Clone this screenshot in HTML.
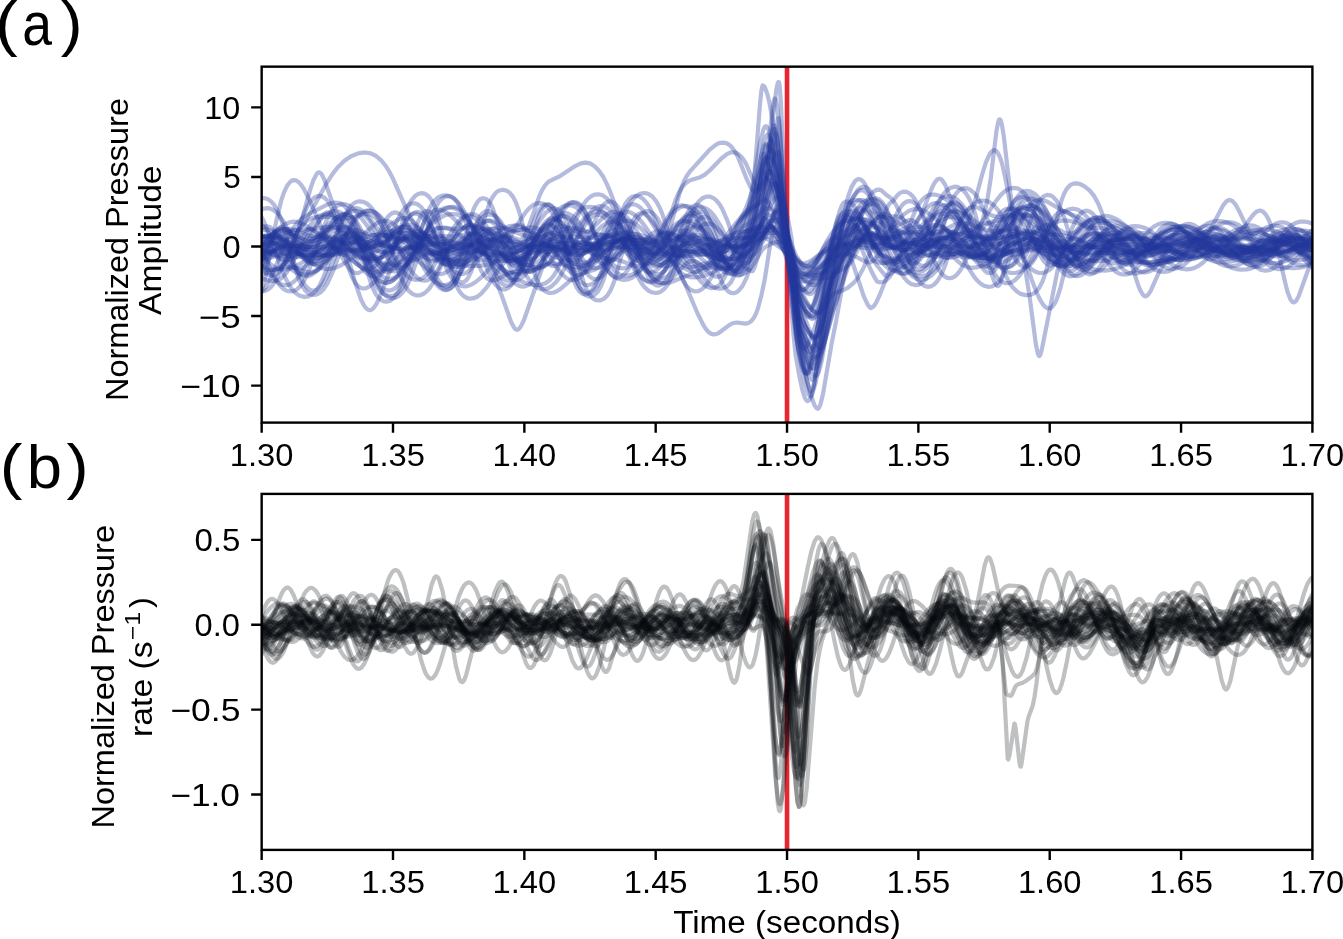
<!DOCTYPE html>
<html><head><meta charset="utf-8"><title>Pressure waveforms</title>
<style>html,body{margin:0;padding:0;background:#fff;width:1343px;height:939px;overflow:hidden}svg{display:block;will-change:transform}</style>
</head><body><svg width="1343" height="939" viewBox="0 0 1343 939">
<defs><clipPath id="ca"><rect x="261.66" y="66.66" width="1050.74" height="355.94"/></clipPath>
<clipPath id="cb"><rect x="261.66" y="493.9" width="1050.74" height="356.00"/></clipPath></defs>
<line x1="787.03" y1="66.66" x2="787.03" y2="422.6" stroke="#e72631" stroke-width="4.6"/>
<line x1="787.03" y1="493.9" x2="787.03" y2="849.9" stroke="#e72631" stroke-width="4.6"/>
<g clip-path="url(#ca)" fill="none" stroke="#22389c" stroke-opacity="0.34" stroke-width="4.2" stroke-linejoin="round" stroke-linecap="round"><path d="M248.5 264.1l4 -2.3 3.9 -3.5 12.5 -14.9 4.6 -4.8 4.6 -3.5 4.6 -1.9 4.6 -0.1 4.6 1.4 5.2 3.2 12.5 10.5 5.9 4 6.6 2.7 6.5 0.7 6.6 -0.9 15.8 -3.7 16.4 -2.3 6.6 -1.6 4.6 -1.7 4.6 -2.3 17.7 -11.2 4.6 -1.8 4.6 -0.6 3.3 0.3 3.2 1.1 3.3 1.8 3.3 2.5 5.9 6.1 13.2 16 6.5 6 3.3 2 2.6 1.1 3.3 0.6 3.3 -0.1 5.3 -1.6 5.9 -3.6 5.2 -4.4 15.8 -14.9 9.2 -6.7 5.2 -2.8 4.6 -1.8 5.3 -1.1 4.6 -0.3 3.9 0.4 4 1.1 3.9 1.7 3.3 2.1 3.9 3.2 4 3.8 14.4 17.2 5.9 5.9 3.3 2.4 3.3 1.6 3.3 0.8 2.6 0 3.3 -0.9 2.6 -1.5 3.3 -2.6 3.3 -3.6 5.2 -7.3 11.8 -19 6.6 -8.2 3.3 -2.9 2.6 -1.6 3.3 -1.2 3.3 -0.4 2.6 0.4 3.3 1.2 3.3 1.9 3.3 2.6 5.9 5.9 17.1 19.4 6.5 6.1 6.6 5 7.2 4.4 7.2 3.1 5.9 1.3 5.3 -0.2 3.3 -0.9 3.3 -1.7 3.3 -2.5 3.2 -3.4 6.6 -9.5 11.8 -22.3 5.3 -8.4 3.9 -4.4 11.2 -8.7 0.6 -1 1.4 -4.2 6.5 -29.4 1.3 -3.8 0.7 -0.3 2 3 1.9 4.2 4 11 18.4 65.2 2.6 12.2 6.6 38.1 2.6 11.1 3.9 10.1 3.3 7 2.6 3.9 1.3 1.1 1.4 0.5 1.3 -0.3 0.6 -0.5 1.3 -2 3.3 -9.1 10.5 -46.1 7.3 -26.1 5.2 -16.6 3.9 -10.2 6.6 -13.6 3.3 -4.9 1.3 -1 1.3 -0.5 2 0.6 3.3 2.7 3.3 3.7 3.2 4.7 5.3 9.9 5.9 14.7 4.6 1.9 4.6 1 5.9 -0.2 5.9 -1.5 5.9 -2.4 17.1 -8.4 5.9 -2.1 5.3 -1.1 5.2 -0.4 5.9 0.5 20.4 4.9 9.2 1 7.9 -0.9 17 -4.8 7.3 -0.8 5.9 0.7 5.9 2.4 5.9 3.8 15.8 12.2 5.2 2.6 5.3 1.2 4.6 -0.3 5.2 -2 5.3 -3.3 10.5 -8.5 4.6 -3.2 5.2 -2.5 5.3 -0.8 3.9 0.4 4.6 1.5 4.6 2.3 11.2 6.9 5.2 2.8 5.9 2.3 6 1.1 4.6 0.1 5.2 -0.6 24.3 -6.6 6.6 -1 6.5 -0.2 6.6 0.6 7.2 1.3 22.4 6.3 8.5 2 7.9 1 7.2 0 6.6 -1.1 6.5 -2 17.8 -8.5 5.9 -2.4 5.2 -1.3 5.3 -0.4 5.9 0.8 5.9 2.1 5.3 2.8 11.8 7.3 5.2 2.7"/><path d="M248.5 280.9l2.7 -2.3 3.2 -3.8 13.2 -17.8 3.9 -4.1 3.3 -2.6 3.3 -1.8 3.9 -1.3 4 -0.6 12.4 -0.9 4.6 -1.1 4 -1.6 3.9 -2.4 4.6 -3.6 14.5 -14.2 4.6 -4 5.2 -3.2 2.6 -0.8 2.7 -0.2 3.2 0.6 3.3 1.8 3.3 3 2.6 3.4 5.3 9.3 12.5 27.4 3.9 6.3 4 4 1.9 1 2.6 0.5 2.7 -0.7 2.6 -1.7 4.6 -5.1 8.5 -13 3.3 -4.1 2 -1.9 2 -1.2 1.9 -0.4 1.3 0.1 3.3 1.9 4 5.2 3.3 6.3 7.8 17.2 4 6.7 2.6 3 2 1.4 2.6 0.8 2 -0.4 2.6 -1.9 2 -2.6 2.6 -5.1 2 -5.3 3.9 -14.1 7.9 -33.8 3.9 -12.8 2 -4.6 2.6 -4.2 2.6 -2.5 2.7 -0.9 2.6 0.5 2.6 2 2.7 3.8 1.9 4 4.6 13.8 7.2 28.8 3.3 11.1 2 5.1 2 3.7 1.9 2.5 1.4 0.8 1.3 0.4 1.9 -0.6 2 -1.9 2 -3.1 1.9 -4.4 3.3 -9.8 8.6 -31.1 2.6 -7.6 2 -4.4 2.6 -4.1 2.6 -2.3 2 -0.5 1.3 0.2 2.6 1.7 2 2.6 2 3.8 3.3 9.1 3.2 12.6 7.3 32 4.6 15.2 2.6 5.7 2.6 3.8 2.6 2.1 2.7 0.8 2.6 -0.5 2.6 -1.6 2.6 -2.9 2 -3 4.6 -9.4 10.5 -26.3 3.3 -5.8 2.6 -3.1 3.3 -1.8 2 -0.1 2 0.5 3.9 2.6 7.9 7.7 3.3 2.5 3.9 1.4 2 -0.1 1.9 -0.8 3.3 -2.6 4 -5.4 3.9 -7.3 7.9 -16.4 4.6 -7.9 3.9 -4.9 2 -1.7 2.6 -1.6 4 -0.8 3.9 0.9 3.9 2.8 3.3 3.8 3.3 5.2 3.3 6.4 11.8 28.2 4.6 9.4 3.3 5.1 2.6 3.1 2.6 2 3.3 1.3 2.7 0 2.6 -0.9 3.3 -2.3 1.9 -2.3 5.3 -9.5 17.1 -36.9 1.9 -3 0.7 -0.4 1.3 0 3.3 2.6 3.9 5.9 16.4 33 3.3 10 7.3 27.7 3.2 9 5.3 7.2 2 1.7 1.9 0.7 2 -0.3 2 -1.6 1.9 -2.9 2 -4.5 3.3 -13.9 7.9 -44.3 6.5 -27.9 2.7 -9.2 1.9 -5.2 2 -3.3 2.6 -1.3 2 0.1 1.3 0.4 2 1.3 2 2 3.2 4.8 9.2 16.3 3.3 4.4 2.6 2.6 4 2.6 5.9 1.9 7.9 -1.1 3.3 0.6 2.6 1.3 2.6 2 3.3 3.4 9.2 12.6 3.9 4.7 4 3.2 3.9 1.4 2 -0.1 2 -0.6 1.9 -1.1 2.7 -2.3 4.5 -5.9 7.9 -12.8 3.3 -4.7 4 -3.7 3.2 -1.2 2 0.2 2 0.9 3.9 3.8 3.3 4.8 8.5 14.6 2.7 3.6 2.6 2.9 2.6 1.7 2 0.6 2.6 -0.3 2 -1 2 -1.9 1.9 -2.6 4.6 -9.3 3.3 -9.1 9.2 -28.5 5.3 -12.3 2.6 -4.2 3.3 -3.8 3.2 -2.1 3.3 -0.7 3.3 0.4 4 2.1 3.2 3 3.3 4.1 3.3 5.2 3.3 6.3 13.8 31.6 6.5 12.9 4 5.8 3.3 3.6 3.3 2.4 3.2 1.3 2 0.2 2.6 -0.4 2.7 -1.1 2.6 -1.8 4.6 -4.5 8.5 -10.8 4 -4.3 3.9 -3.1 3.9 -1.3 4 0.5 4.6 2.8 3.9 3.8 8.6 9.6 5.2 4.3 3.3 1.5 2.6 0.6 2.6 -0.2 2.7 -0.8 3.9 -2.7 4 -4.6 3.9 -6.4 7.9 -14.7 4.6 -6.5 2.6 -2.6 2.6 -1.8 2.7 -1 2.6 -0.4 2.6 0.2 2.6 0.8 4.6 2.8 4.6 4.5 8.6 10.6 3.2 3.5 4 3.1 3.9 1.6 2.7 0.3 3.2 -0.4 13.8 -5 3.3 -0.6 3.3 0.1 3.3 0.7 3.3 1.3 13.8 7.6 3.9 1.2 3.9 0.2 3.3 -0.6 4 -1.5 11.1 -7.1 4 -2.1 3.2 -1 3.3 -0.3 3.3 0.6 4 1.8 12.4 8.9"/><path d="M248.5 273.5l4.6 9.8 2 2.9 2.6 2.7 2.6 1.6 2.7 0.6 2.6 -0.4 2.6 -1.3 2.7 -2.3 1.9 -2.3 4.6 -7.5 4 -8.4 11.8 -28.9 4.6 -8.7 3.9 -5.6 5.3 -4.9 2.6 -1.6 3.3 -1.4 7.2 -1.2 8.5 0.3 6 1.1 5.2 2 4.6 3 3.9 3.9 4 5.3 3.9 6.8 14.5 32.4 5.9 10.5 3.3 4.1 3.9 3.2 3.9 1.4 4 -0.5 3.3 -1.8 2.6 -2.5 3.3 -4.5 2.6 -4.9 5.3 -12.9 10.5 -30.5 3.3 -7.8 2.6 -5.1 3.3 -4.8 3.2 -3.3 3.3 -1.8 4 -0.6 4.6 1.2 5.2 3.3 4.6 4.1 13.8 13.9 15.1 11.8 4.6 4.1 6.6 7.3 13.8 19.5 6.5 7.5 3.3 2.4 2.6 1.3 2.7 0.6 2.6 -0.2 3.3 -1.3 3.3 -2.7 3.3 -4.3 3.2 -6.1 5.3 -13.3 10.5 -32.1 3.3 -8.3 2.6 -5.3 2.6 -4.1 3.3 -3.7 3.3 -2.1 3.3 -0.7 3.3 0.6 3.3 1.8 3.2 3.2 2.7 3.5 5.9 11 11.1 27 5.3 11 3.3 5.4 3.3 4.1 3.2 2.9 3.3 1.9 4.6 1.1 4.6 -0.5 5.3 -1.9 5.9 -3.8 5.9 -5.1 5.9 -6.2 18.4 -23.3 6.6 -7.3 3.2 -2.9 3.3 -2.1 3.3 -1.4 3.3 -0.5 3.3 0.4 3.3 1.4 3.2 2.5 3.3 3.4 5.9 8.4 12.5 21.4 3.3 4.7 3.3 3.8 3.3 2.6 2.6 1.3 3.3 0.6 3.3 -0.5 2.6 -1.2 2.6 -1.7 0.7 -0.8 1.3 -3.2 3.9 -13.7 5.3 -24.4 3.3 -19.6 5.9 -42.7 5.9 -56.1 1.3 -7 0.7 -1.7 0.6 -0.2 0.7 1.3 1.3 6.5 1.9 17.9 7.9 101.3 1.3 11.1 3.3 18.2 5.3 23.2 4.6 14 4.6 8.7 4.6 7.1 3.3 3.6 3.2 1.9 2 -0.1 2.6 -2.1 9.2 -14.1 3.3 -3.7 2 -1.2 6.6 -1.8 4.5 -2.4 6 -4.9 4.6 -5.2 5.9 -10.7 8.5 -19.7 10.5 -30.1 4 -9.5 2.6 -4.2 1.3 -1.3 2.6 -1.4 2 -3.3 2.6 -3.1 2.6 -2 2.7 -1 3.3 0.2 3.2 1.7 3.3 3.3 2.6 3.8 5.3 10.8 9.2 24.3 3.9 9.2 4 6.8 3.9 4.2 2 1.1 2.6 0.6 2 -0.3 2.6 -1.1 4.6 -3.7 8.5 -9.3 3.3 -3.1 4 -2.3 1.9 -0.4 2 0 3.9 1.7 4 3.5 11.8 16.4 3.9 4.5 3.3 2.6 3.3 1.1 2.6 -0.2 2.7 -1.3 2.6 -2.5 2.6 -3.8 2.6 -5.1 2.7 -6.3 9.8 -29.3 4.6 -11.5 2.7 -4.9 2.6 -3.7 2.6 -2.4 3.3 -1.3 3.3 0.4 2.6 1.5 3.3 3.6 2.6 4.4 2.6 5.7 2.7 7.1 9.8 32.2 4.6 12.4 2.6 5.2 2.7 3.7 2.6 2.2 2.6 1 2 -0.1 2 -0.7 1.9 -1.3 2.7 -2.6 4.6 -6.6 9.1 -17 4 -6.4 4.6 -5.1 2.6 -1.7 2.6 -0.9 2 -0.2 2.6 0.4 4.6 2.4 5.3 4.6 11.1 13.4 4.6 4.6 3.3 2.4 2.7 1.4 2.6 0.8 3.3 0.4 5.2 -1 5.3 -3 5.2 -4.7 11.2 -12.9 5.2 -5.1 6 -4 5.9 -2.1 3.9 -0.3 3.9 0.4 4 1.1 3.9 1.8 7.9 5.4 15.1 13.9 7.2 5.7 4 2.3 3.9 1.7 4 1.2 4.6 0.6 4.6 -0.2 3.9 -0.7 3.9 -1.4 4 -1.8 7.2 -4.8 17.1 -13.6 5.9 -3.5 5.2 -2.2"/><path d="M248.5 240.9l12.5 2.5 3.9 1.6 3.3 1.9 6.6 5.5 13.8 14.5 3.9 3.3 3.3 2.1 3.3 1.4 3.3 0.8 3.3 0.1 3.2 -0.5 4 -1.4 4.6 -2.5 3.9 -2.9 4.6 -4.3 4.6 -5.2 5.3 -7 15.1 -24.2 5.9 -8.1 3.3 -3.4 3.3 -2.5 3.2 -1.4 3.3 -0.3 2.6 0.6 2.7 1.4 2.6 2.1 2.6 3 5.3 8 9.2 17.7 4.6 7.8 4.6 5.5 1.9 1.5 2.7 1.3 3.2 0.6 3.3 -0.6 3.3 -1.3 9.9 -5.3 3.2 -1 3.3 -0.2 3.3 0.7 3.3 1.5 9.8 6.9 4 2.3 3.9 1.1 4 -0.4 3.9 -2.1 4 -3.9 11.8 -17 3.9 -4.7 4 -2.9 3.2 -0.7 2 0.3 2 0.9 1.9 1.5 2.7 2.8 3.3 4.6 8.5 13.7 3.9 5.1 4 3 3.3 0.6 2.6 -0.8 2 -1.4 1.9 -2.1 2.7 -3.7 3.9 -7.4 9.2 -20 4.6 -7.8 2.6 -3.2 2 -1.6 2.6 -1.4 2.6 -0.3 2 0.5 2 0.9 4.6 4.1 4.6 6.4 11.8 19.2 4.6 5.5 3.9 3.2 2.7 1.4 3.2 1.1 15.1 1.9 5.3 1.5 11.2 4.3 3.2 0.7 2.7 0 3.3 -0.6 3.2 -1.6 2.7 -2 3.2 -3.5 5.3 -7.4 11.2 -18.3 5.9 -7.3 2.6 -2.2 2.6 -1.5 2.7 -0.9 2.6 -0.2 3.3 0.7 3.2 1.7 3.3 2.6 4 4 6.5 8.7 15.1 22.8 7.3 8.6 3.3 2.8 3.2 1.9 3.3 1 2.6 -0.1 2.7 -1.7 2.6 -3.8 2.6 -5.8 2.7 -7.5 1.3 -6.3 1.9 -13.7 8.6 -69.8 0.6 -3.2 1.3 -3.1 2.7 -2.9 1.9 -0.5 2 1 2.6 3.7 2 4.3 2.6 7.8 5.3 20.8 6.6 33.1 1.9 11.4 1.3 11.9 5.3 70.5 2.6 26.4 5.9 32.1 2.7 8.6 1.3 2 0.6 0.2 1.3 -2 2 -8 7.2 -51.5 7.9 -47.6 2.6 -14 2.7 -8.6 1.3 -1.4 4.6 -2.5 3.3 -1.1 2.6 -0.3 3.3 0.5 3.3 1 10.5 5.4 4.6 1.6 1.9 0 3.3 -2 4 -4.5 3.9 -6.7 3.9 -8.7 8.6 -21.3 3.9 -8.2 4.6 -6.5 2 -1.8 2.6 -1.4 2.6 -0.3 2.7 0.7 2.6 1.7 3.3 3.7 5.2 8.7 9.2 19.7 4.6 8.5 4.6 6 2.6 2.2 2.7 1.3 3.9 0.7 3.9 -0.7 15.8 -6.9 13.8 -3.7 5.3 -2.1 3.9 -2.4 3.9 -3.4 12.5 -13.8 4.6 -4.3 4.6 -2.7 2.6 -0.6 2 0 2.6 0.7 2.7 1.5 2.6 2.3 3.3 3.9 4.6 7.1 11.8 21 3.3 4.9 3.3 4 3.2 3 3.3 2.2 3.3 1.4 3.9 0.6 4 -0.2 3.9 -0.9 4.6 -2 4.6 -2.7 8.6 -7.1 13.1 -13.9 4.6 -4.3 5.9 -4 5.3 -1.7 2.6 -0.2 3.3 0.4 5.9 2.4 5.9 4.1 13.1 11.3 4.6 2.7 4 1.1 3.2 0.1 4 -0.8 3.9 -1.6 12.5 -6.6 3.9 -1.2 3.3 -0.3 4 0.6 3.9 1.5 15.1 9.7 3.9 1.8 3.3 0.8 4 0.2 3.9 -0.7 3.9 -1.3 11.2 -5 4 -1.1 3.2 -0.3 3.3 0.3 3.3 0.8 13.8 6.4 3.9 1.2 3.3 0.3 5.3 -0.9 5.2 -2.9 4.6 -4 10.5 -10.7 5.3 -4 4.6 -2.2 5.2 -1.1"/><path d="M248.5 264.9l4.6 -5.8 14.5 -20.6 4.6 -4.9 4.6 -3.2 4.6 -1.4 2.6 -0.1 2.6 0.5 5.3 2.4 9.2 6 3.9 2.2 3.9 1.2 4 -0.1 3.9 -1.7 4 -3.1 3.9 -4.3 8.5 -10.6 4.6 -4.6 4.6 -2.6 2 -0.4 2 0.1 3.3 1.4 2.6 2.3 3.3 4.7 2.6 5.2 4.6 12.2 10.5 33.8 3.3 8.5 3.3 6.6 3.3 4.6 3.9 3.4 3.9 1.5 4 -0.2 3.3 -1.5 3.2 -2.7 3.3 -4.3 3.3 -5.8 5.3 -12.9 12.4 -37.3 3.3 -7.8 3.3 -6.3 3.3 -4.7 3.9 -3.9 4 -2.4 4.6 -1 3.9 0.4 3.9 1.3 4 2.3 3.9 3.3 4 4.2 3.9 5 14.5 21.6 5.9 7.6 3.9 3.8 3.3 2.3 3.3 1.4 3.3 0.6 3.2 -0.2 3.3 -0.9 4 -1.6 12.4 -6.5 4 -1.3 3.9 -0.4 4 0.4 3.9 1.2 12.5 6.1 5.2 2 4.6 0.8 4.6 -0.5 4 -1.4 4.6 -2.6 13.8 -10.6 5.2 -3.5 5.3 -2.3 5.9 -1.4 5.9 -0.1 15.7 1.4 16.5 0.2 7.2 0.7 9.2 2.5 19 7.8 5.3 1.2 4.6 0.2 5.9 -0.8 6.6 -2.3 6.5 -3.5 15.8 -9.6 4.6 -2.2 3.9 -1.3 7.2 -1.4 4 -0.4 10.5 0.7 7.2 1.4 9.9 -0.2 1.9 0.7 0.7 0.7 2 4 6.5 22.8 3.3 16.5 6.6 40 3.3 15.2 3.9 10.7 3.9 9 3.3 5 1.3 1.1 1.4 0.5 1.9 -0.7 1.3 -1.7 1.4 -3.2 1.9 -7.3 3.3 -17.3 8.5 -52.9 7.9 -39.2 4.6 -19.3 3.3 -10.4 3.9 -7.9 4.6 -6.3 2 -1.6 2 -0.9 2.6 0.1 3.3 2.3 3.3 3.8 3.3 5.1 5.9 12.7 6.5 19.6 8.6 16.3 5.2 8.8 4.6 6.2 4 3.9 3.9 2.5 3.9 1.2 3.3 -0.1 3.3 -1.2 3.3 -2.1 3.3 -3.2 5.9 -8 13.1 -21.3 4.6 -5.4 4 -3 3.9 -1.3 4.6 0.5 4.6 2 9.2 6 3.9 2.1 4.6 1.3 4 -0.1 3.9 -1.5 3.9 -2.7 13.2 -12.9 3.9 -3.3 4.6 -2.6 4 -1 3.2 0.2 2.7 0.9 2.6 1.5 3.3 2.7 5.9 6.9 12.5 18.7 5.9 7.6 3.3 3.2 2.6 1.9 3.3 1.7 2.6 0.5 4.6 -0.4 2.6 -1.2 2.7 -1.8 5.9 -5.9 11.1 -15 5.3 -5.9 3.3 -2.6 2.6 -1.3 2.6 -0.7 2.6 -0.1 2.7 0.6 3.3 1.5 3.2 2.4 3.3 3.4 5.3 7.1 11.1 18.3 3.3 4.4 3.3 3.4 3.9 2.8 4 1.6 4.6 0.6 4.6 -0.7 3.3 -1.3 2.6 -1.6 3.3 -3 2.6 -3.1 4.6 -7.2 10.5 -19.2 3.3 -4.8 2.6 -3 3.3 -2.8 3.9 -2.3 4 -1.3 4.6 -0.6 4.6 0.3 4.6 1.1 4.6 1.8 4.6 2.8 7.8 6.9 15.1 17.3 6.6 6.4 4 3.1 3.9 2.5 7.9 3.2 5.9 1.3 6.6 0.4 6.5 -0.5 6.6 -1.4 5.2 -2.1 4.6 -2.7 4.6 -3.7 4.6 -4.9"/><path d="M248.5 223.3l3.3 -4.8 3.3 -4 3.3 -3 2.6 -1.7 3.3 -1.3 3.3 -0.4 3.3 0.7 2.6 1.3 4.6 3.9 5.2 7.2 4.6 8.3 9.2 18.5 5.3 8.7 2.6 3.2 2.6 2.3 2 1.1 2.6 0.8 2 0 2.6 -0.8 4.6 -3.2 4.6 -5 9.9 -12.7 5.2 -5.1 2.6 -1.5 2 -0.6 2.6 -0.1 2 0.5 4 2.4 4.6 5.1 3.9 5.9 9.8 16.5 5.3 7.1 3.3 3.2 2.6 1.7 2.6 1.1 3.3 0.4 3.3 -0.6 3.3 -1.8 3.3 -2.7 3.3 -3.8 5.9 -8.8 15.1 -26.3 5.2 -7.4 4.6 -5 5.3 -4.3 5.9 -3 5.9 -1.3 5.2 0.3 4 1.3 3.3 1.9 3.9 3.3 3.3 3.7 3.3 4.7 3.9 6.7 12.5 25.6 5.9 10.2 3.3 4.2 3.3 3 3.3 1.6 2.6 0.4 3.3 -0.6 2.6 -1.5 2.6 -2.4 2.6 -3.4 6 -10.7 10.5 -24.6 4.6 -9.1 2.6 -4.1 2.6 -3.1 2.6 -2 2.7 -1.1 1.9 -0.2 2.7 0.6 2.6 1.5 2.6 2.4 2.6 3.2 3.3 5.1 11.2 21 5.2 8.3 3.3 3.8 2.7 2.1 3.2 1.6 3.3 0.5 4 -0.9 4.6 -2.6 15.7 -14.3 4 -2.8 3.2 -1.8 3.3 -1.2 4 -0.8 13.8 -0.5 6.5 -1.2 6.6 -2.6 13.1 -7 4 -1.4 3.3 -0.6 3.2 0.2 2.7 0.6 2.6 1.2 3.3 2.2 5.2 4.8 12.5 14.1 5.3 4.3 2.6 1.4 2.6 0.8 2.6 0.1 2.7 -0.6 3.3 -1.6 3.9 -3 11.2 -11.7 4.6 -4.1 3.2 -2 11.2 -4.7 1.3 -0.9 5.9 -9.7 4 -8.6 1.3 -1.2 1.3 0.9 1.3 2.1 2.6 7.3 3.3 13.5 3.3 16.6 2 18.8 5.2 65.8 2.7 15.5 2.6 12.4 1.9 6.2 1.4 2 0.6 0.1 1.3 -0.9 1.3 -2.5 2.7 -8.8 9.2 -46.8 12.4 -55.6 4.6 -17.2 7.3 -20.6 5.2 -11.8 2 -3 2.6 -2.8 3.3 -2.4 2.6 -0.9 3.3 0.2 2.6 1.2 4 4 3.9 6.5 5.3 2 5.9 4.2 6.5 6.9 13.2 17.1 5.9 6.7 3.3 2.9 3.3 2.2 2.6 1.2 3.3 0.8 5.2 -0.2 5.3 -1.9 5.2 -3.2 13.8 -9.9 4.6 -2.4 4 -1.3 3.9 -0.6 3.9 0.1 15.8 2.8 7.2 0.3 6.6 -1.1 13.8 -4.3 5.9 -1 5.9 0.4 5.3 1.9 5.2 3 10.5 7.3 5.3 2.8 4.6 1.1 3.9 -0.3 4.6 -2 4.6 -3.8 4.6 -5.1 9.2 -11.7 5.2 -5.3 2.7 -1.9 2.6 -1.4 4.6 -0.8 2.6 0.4 3.3 1.2 5.9 4.1 6.6 7.1 13.1 17.6 5.9 6.8 3.3 2.9 4 2.8 3.2 1.7 4 1.3 4.6 0.7 4.6 0 4.6 -0.5 5.2 -1.2 11.2 -4.1 30.9 -14 17.7 -6.7 12.5 -3.8 11.1 -2.8 8.6 -1.3 7.2 -0.2 4.6 0.6 3.9 1 4 1.8 3.9 2.5 3.3 2.7 3.9 4.1 13.2 17.1 5.9 6.3 3.3 2.6 3.9 2.2 3.9 1.4 4.6 0.7"/><path d="M248.5 257.7l4.6 -2.2 5.3 -4.2 4.6 -4.9 11.1 -13.1 5.3 -5.3 5.9 -4.1 5.3 -1.9 3.2 -0.3 3.3 0.2 6.6 2.3 7.2 4.4 15.1 12.1 6.6 4.5 7.2 3.5 7.2 1.6 5.9 -0.3 6.6 -1.9 6.6 -3.5 12.5 -8.6 4.6 -2.7 5.2 -2 5.3 -0.4 3.2 0.8 3.3 1.7 3.3 2.7 3.3 3.7 5.9 8.6 12.5 21.7 3.3 4.8 3.2 3.9 3.3 3.1 3.3 2 3.3 1.1 3.3 0.2 3.3 -0.9 2.6 -1.3 2.6 -2 3.3 -3.3 6.6 -9.4 11.1 -20 5.3 -8.3 5.9 -6.9 3.3 -2.5 3.3 -1.7 3.2 -1 4 -0.2 3.9 0.5 4.6 1.2 30.9 11.3 22.3 10.8 4.6 1.3 4 0.3 5.2 -1.1 5.3 -3 5.2 -4.7 11.8 -13.5 4.6 -4.5 5.3 -3.4 2.6 -0.8 2.6 -0.2 2.7 0.4 2.6 1.2 2.6 1.8 3.3 3.3 5.3 7.1 9.8 16.1 4 5.8 4.6 5.2 4.5 3 2.7 0.7 2.6 0 2.6 -0.6 2.7 -1.3 5.2 -4.3 9.9 -10.4 3.9 -3.5 4.6 -2.7 3.9 -0.7 2 0.2 2.6 0.9 4.6 3.1 4 3.9 9.2 10.3 4.6 4.1 4.6 2.4 3.9 0.4 2.6 -0.7 2 -1 4.6 -4 4.6 -6.1 6.6 -10.4 8.5 -20.3 11.2 -24.6 5.2 -15 1.3 -2.3 1.3 -0.8 1.4 1.1 1.9 3.4 3.3 9.3 3.9 15.8 4.6 22.2 3.3 17.4 1.3 10.2 6 63.2 1.9 16.3 3.3 16 3.3 13.1 2.6 6.8 2 2 1.3 -0.7 2 -3.9 3.3 -13.1 19 -110.6 3.3 -17.4 2.6 -11.6 2 -6.9 2.6 -7.3 5.3 -11.8 4.6 -6.8 2.6 -2.2 2 -0.8 2.6 0.1 3.3 2.1 2.6 3.2 3.3 5.7 2.6 5.9 3.3 8.9 7.2 24.4 6.6 13.9 5.2 9.5 4.6 6.5 4.6 4.7 4.6 3 4.6 1.5 4.6 0 4.6 -1.5 4.6 -3.1 3.9 -4 4 -5.2 4.6 -7.6 15.1 -30.7 7.2 -12.1 4 -4.8 3.9 -3.6 3.9 -2.2 4.6 -0.9 4 0.5 3.9 1.9 4 3.2 3.2 3.7 3.3 4.8 4 7 13.1 27.8 5.9 10.7 3.9 5.5 3.3 3.4 3.3 2.3 4 1.5 3.2 0.2 3.3 -0.8 3.3 -1.7 3.3 -2.7 3.3 -3.6 3.9 -5.4 13.1 -22 6 -8.3 3.2 -3.4 4 -2.9 3.9 -1.7 4 -0.6 5.2 0.6 5.9 2 34.8 15.6 5.3 3.2 5.2 3.9 15.1 13.9 5.3 4.3 6.6 3.7 5.9 1.8 4.6 0.4 3.9 -0.4 4.6 -1.5 3.9 -2.1 4 -3 3.9 -4 13.2 -16.7 5.9 -6.1 3.3 -2.5 3.9 -2.2 3.9 -1.3 4.6 -0.7 5.3 0.2 5.9 1.2 6.6 2.1 9.8 3.8 10.5 4.5 7.9 3.9 6.6 3.9 12.4 8.3 6 3.3 6.5 2.3 5.9 0.4"/><path d="M248.5 208.8l3.3 -4.3 3.3 -3.1 3.3 -2.1 3.3 -1.1 3.2 0 3.3 1.1 3.3 2.5 2.6 3.1 4 7 3.9 10.1 3.3 10.8 8.5 31.6 5.3 15.3 2.6 5.5 3.3 4.9 3.3 3.1 3.9 1.7 4 -0.2 3.9 -2 3.9 -4 3.3 -5 5.9 -12.9 13.2 -36.3 3.9 -8.6 3.3 -5.6 3.3 -4.2 3.9 -3.4 3.3 -1.6 3.9 -0.7 4 0.5 3.9 1.8 4 3.1 3.9 4.3 3.9 5.5 4 6.8 13.1 27.2 5.9 10.4 4 5.2 3.3 3.1 3.2 1.9 3.3 0.6 3.3 -0.6 2.6 -1.5 3.3 -3 2.6 -3.4 6 -10.8 10.5 -25 4.6 -9.6 5.2 -7.8 2.6 -2.6 3.3 -1.9 3.3 -0.6 3.3 0.6 3.3 1.9 3.9 3.8 5.9 8.3 14.5 25.1 3.9 5.5 4 4.4 3.9 3.2 3.9 2.2 4.6 1.4 4.6 0.4 5.3 -0.6 5.9 -1.7 5.9 -2.9 5.3 -3.7 5.2 -4.8 5.3 -6 17 -24.5 7.3 -8.7 4.6 -3.8 3.9 -2 3.9 -0.8 4 0.4 3.9 1.9 3.3 2.7 3.9 4.7 3.3 5.2 5.9 12.3 13.2 32.2 3.3 6.6 3.2 5.5 3.3 4.3 4 3.5 3.2 1.7 4 0.7 2.6 -0.3 2 -0.8 3.9 -2.9 4 -5.1 3.2 -6.2 2.7 -6.5 3.3 -9.7 11.1 -38.5 3.3 -9 3.3 -7 3.3 -5 3.9 -3.7 4 -1.7 3.9 0.1 3.3 1.4 2.6 2 3.3 4 2.6 4.3 5.3 11.9 7.8 23.2 3.3 8.5 4 7.6 1.9 2.5 1.4 0.7 1.9 -0.2 2.7 -2.2 6.5 -10.2 2.6 -5.5 6.6 -16.4 3.3 -6 1.3 -1.4 2 -0.7 2 0.7 1.9 2 2.6 4.4 2.7 5.9 7.9 22.9 2.6 12.6 5.9 34.3 3.3 14.3 3.9 8.9 3.3 5.9 2.6 3.2 2.7 1.3 1.9 -0.5 2 -2.1 2 -3.8 1.9 -5.1 4 -13.4 8.5 -33.1 4 -11.9 3.9 -8.6 3.3 -6.1 3.3 -4.7 3.2 -3.5 2.7 -1.8 3.3 -1.1 7.8 0 11.9 -2.6 4.6 0 5.9 1.5 5.2 2.7 4.6 3.8 4.6 5.2 9.2 -5.8 7.9 -5.8 21.7 -19 4.6 -2.8 3.9 -1.2 3.3 -0.1 3.3 0.9 2.6 1.6 3.3 2.8 5.9 7.8 10.5 18 4.6 6.8 2.6 2.9 2.6 2.2 2.7 1.3 1.9 0.4 2.7 -0.4 1.9 -0.9 2.7 -2 2.6 -3.1 5.2 -8.6 10.5 -22.2 4.6 -8.1 2.7 -3.5 2.6 -2.5 2.6 -1.6 2.7 -0.5 2.6 0.3 3.3 1.8 2.6 2.5 3.3 4.4 4.6 8.1 11.8 24.6 5.9 9.4 2.6 3 2.7 2.2 2.6 1.5 3.3 1 2.6 0 3.3 -0.6 5.9 -3 5.2 -3.9 15.8 -13.4 10.5 -7.1 9.2 -4.1 4.6 -1.2 3.9 -0.6 4 0 3.9 0.5 7.2 2.5 6.6 4 16.4 12.4 5.9 2.8 5.3 1.2 4.6 0 5.2 -1.1 16.5 -6.9 7.2 -2.1 7.9 -0.4 15.7 1.8 7.3 -0.1 7.8 -1.6 15.8 -5.4 7.2 -1.1 4.6 0.2 4.6 0.9 5.3 1.9 15.7 6.8 5.3 1.3 5.2 0.4"/><path d="M248.5 244.3l4 3.5 3.9 4.7 13.1 20.2 6 7.4 3.2 2.7 3.3 1.8 3.3 0.6 3.3 -0.4 2.6 -1.2 2.6 -1.8 2.7 -2.5 3.2 -4 5.3 -8.3 14.5 -25.6 5.2 -7.6 5.9 -7.1 7.2 -6.9 7.3 -5.4 3.2 -1.7 3.3 -1.2 2.7 -0.5 2.6 0.1 3.3 0.9 3.3 1.9 3.2 3.2 2.7 3.4 5.2 9.3 9.2 20.4 3.9 7.8 4.6 6.6 4 3 2 0.6 2.6 -0.2 2 -0.8 2.6 -2.1 4.6 -5.6 9.8 -16.1 4 -5.4 2.6 -2.7 2.6 -1.8 2 -0.7 2.6 -0.2 3.3 0.8 3.3 2 12.5 11.8 3.2 2.5 3.3 1.7 2.7 0.8 3.2 0.4 13.2 -1.2 3.3 0.6 2.6 1 2.6 1.6 3.3 2.7 9.2 9.6 3.9 3.5 4 2.2 3.9 0.4 2.6 -0.8 2 -1.3 3.9 -4.2 4.6 -7.5 7.9 -15.9 4 -7 3.9 -4.8 2 -1.4 1.9 -0.7 2 0 2 0.8 2 1.4 2.6 3 3.3 5 8.5 15.6 4.6 6.1 2 1.5 1.9 0.7 2 -0.1 2 -1 3.3 -3.6 3.9 -7.7 10.5 -29.6 4.6 -10.6 2.6 -4.3 2.7 -2.9 2.6 -1.8 2.6 -0.6 2.6 0.6 2.7 1.7 2.6 2.9 2.6 4.3 4.6 10.7 9.2 27.8 4 10.2 2.6 5.2 2 3 1.9 2.3 2.7 1.9 1.9 0.7 2 0 3.9 -1.3 4.6 -3.5 9.2 -9.3 4.6 -3.9 5.3 -2.8 5.2 -1 7.2 0.6 17.1 4.2 8.6 3 15.7 7.7 4.6 1 4 -0.4 2.6 -1.1 2.6 -1.7 3.3 -3.1 2 -2.6 4.6 -9.7 4.6 -13.4 2.6 -19.8 4.6 -49.6 6.6 -62.7 1.9 -14.7 1.3 -5.5 0.7 -1.1 0.6 0.6 0.7 4.6 1.3 19.5 4.6 108.7 2 26.6 3.9 23.8 2 8.9 2.6 9.5 2.7 7 4.5 9.5 3.3 4.8 2.7 1.9 1.9 -0.3 1.3 -1.1 1.4 -1.9 1.9 -4.4 4 -12.5 7.8 -30.2 5.3 -16.3 3.3 -8.8 3.3 -7.3 2.6 -4.4 2.6 -2.7 2 -0.8 2.6 0.6 2 1.3 2.6 3.1 4 7 9.1 20.8 4 7.5 5.9 8.6 8.5 10.3 0.7 0.4 4.6 -2.8 11.8 -8.8 13.1 -7.8 6 -5.3 3.2 -4.3 4 -6.5 11.1 -23.4 4 -7.1 4.6 -5.7 2.6 -1.8 2 -0.6 2.6 0.3 2.6 1.5 2.7 2.8 1.9 3.1 2.7 5.3 2.6 6.6 8.5 25.6 4 10 2.6 5.1 2 2.7 1.9 2 2.7 1.2 2.6 -0.3 2.6 -1.7 2.6 -3.3 2.7 -4.7 4.6 -11.5 9.2 -27.5 5.2 -11.7 2.6 -4 2.7 -2.7 2.6 -1.7 3.3 -0.7 2.6 0.4 3.3 1.6 2.6 2 3.3 3.5 6.6 9.3 18.3 30.6 9.2 13.8 4 5 3.9 3.9 4 2.7 3.2 1.1 2.7 0.2 2.6 -0.6 2.6 -1.2 3.3 -2.5 5.3 -6.1 9.8 -14.8 4.6 -6 2.6 -2.5 2.7 -1.8 1.9 -0.9 2.7 -0.5 3.9 0.6 3.9 2.1 4.6 3.8 8.6 9 3.9 3.7 4.6 2.9 4 1.2 2.6 0.1 2.6 -0.4 5.3 -2.2 4.6 -3.3 10.5 -9 5.9 -3.8 5.2 -1.9 5.9 -0.5 19.7 2 17.1 -1 6.6 0.1 22.3 3.3 17.1 0.1 5.2 0.6 5.3 1.6 4.6 2.4 13.8 10.8 5.2 3.4"/><path d="M248.5 253.8l4 2.5 3.2 1.6 3.3 0.9 3.3 0.4 5.9 -0.7 12.5 -3.8 5.9 -1.1 5.9 -0.1 12.5 1.2 5.9 -0.4 4.6 -1.5 4.6 -2.7 4.6 -3.6 9.2 -8.2 4.6 -3.4 3.9 -2 4 -0.8 3.9 0.3 4 1.4 3.9 2.3 8.5 6 4 2.1 3.9 1.2 3.3 -0.1 3.3 -1.1 3.9 -2.5 10.5 -10.1 4 -3.2 3.9 -1.9 3.3 -0.2 2.6 1 2.6 2 2.7 3.2 2.6 4.3 4.6 10.1 9.8 25.4 5.3 10 2.6 3.5 2.7 2.2 2.6 1.3 2.6 0.1 3.3 -1.4 2.6 -2.5 2.6 -3.7 2.7 -5.2 4.6 -12.4 9.8 -32.4 4.6 -11.4 2.6 -4.4 2.7 -3 2.6 -1.6 2.6 -0.4 2 0.5 2 1.2 3.9 4.1 3.9 6.3 8.6 16.9 3.3 5.7 3.9 4.8 2 1.4 1.9 0.7 2 0 2 -0.8 3.9 -3.3 3.3 -4.3 8.5 -13.1 4.6 -5.2 2.7 -1.6 1.9 -0.5 2.7 0.5 1.9 1.3 3.3 3.9 4 7.7 3.2 8.6 8.6 25.6 4.6 10.9 2.6 4.5 3.3 3.8 2.6 1.7 3.3 0.6 3.3 -1.2 2.6 -2.2 3.3 -4.7 2.6 -5.4 4.6 -13.3 10.5 -37.8 2.7 -7.5 2.6 -6 2.6 -4.5 3.3 -3.8 3.3 -1.9 3.3 -0.4 1.9 0.5 2.7 1.2 2.6 2 2.6 2.7 4.6 6.1 10.5 16.3 5.3 7.1 5.2 5.8 14.5 14 17.7 21.9 3.3 3 3.3 2.2 3.3 1.1 3.2 -0.1 3.3 -1.5 2.6 -2.3 2.7 -3.4 2.6 -4.8 5.3 -13.7 9.1 -31.5 4 -11.1 2.6 -5.4 3.3 -4.6 3.9 -3.7 5.3 -2.6 1.3 -2 2 -5.3 5.2 -18.8 6.6 -19.3 2 -4.4 1.3 -1.4 0.6 -0.1 1.3 1.3 0.7 2.2 2 13.5 6.5 73.7 8.6 79.5 3.9 29.9 4 19.2 5.9 23.4 3.9 10.6 2 2.8 1.3 0.6 1.3 -1.4 1.3 -3.2 2.6 -10.8 8.6 -50.3 4.6 -23 7.9 -44.1 3.9 -17.5 11.8 -38.9 4.6 -12.9 3.3 -7.1 2.6 -4.4 2.7 -3.1 3.2 -2.2 2.7 -0.3 2.6 0.9 4.6 4.3 3.9 2.6 2.7 2.8 3.2 4.7 3.3 6.1 11.2 24.8 4.6 8.6 3.3 4.6 2.6 2.7 3.3 2.2 3.3 1 5.2 -0.2 11.2 -3.5 5.2 -0.7 5.9 1 10.6 4.3 3.9 1.1 3.9 0.2 4 -1.2 4.6 -3.6 4.6 -6.1 3.9 -6.9 8.5 -17 4.6 -7.5 4.6 -5 2.7 -1.4 1.9 -0.3 2.7 0.4 1.9 1.2 2 1.7 2.6 3.4 5.3 10 9.2 22.8 3.9 8.3 2.6 4.3 2 2.4 2.6 2.1 2 0.7 2.6 -0.2 2 -1 2 -1.7 2.6 -3.5 4.6 -9 8.5 -21.5 4 -8.5 2.6 -4.2 2 -2.3 2.6 -2 2.6 -0.8 2 0.1 2.6 1.2 2 1.5 2.6 2.9 5.3 8.6 10.5 22.5 4.6 8.2 2.6 3.4 2.6 2.6 2.7 1.7 3.3 1.2 4.5 0 4.6 -1.3 15.1 -8 6.6 -2.6 5.9 -1.2 12.5 -1.1 6.6 -1.8 3.3 -1.6 3.9 -2.5 11.8 -10 4.6 -3.3 5.3 -2.6 5.2 -1 3.3 0.2 2.6 0.7 3.3 1.6 2.6 1.9 5.3 5.1 9.8 12.6 4 4.4 4.6 3.7 5.2 2.3 4.6 0.4 4.6 -1 5.3 -2.4 12.5 -7.3 3.9 -1.4 3.9 -0.7 3.3 0.1 4 0.8 12.4 5 4.6 1.4 4.6 0.5 4.6 -0.6"/><path d="M248.5 203.1l4 2.4 3.9 3.8 3.9 5.4 3.3 6 5.9 14 12.5 35.4 3.3 7.7 3.3 6.4 3.3 4.9 3.9 4.2 3.9 2.5 4.6 1.1 4 -0.6 3.9 -2.1 4 -3.8 3.3 -4.8 3.2 -6.6 3.3 -8.3 12.5 -40 5.2 -13.6 3.3 -6.2 4 -5.2 3.9 -3 2 -0.9 2.6 -0.5 4 0.6 3.2 1.6 3.3 2.7 3.3 3.9 3.3 5.1 3.9 7.7 13.2 31.3 6.5 12.9 4 5.6 3.9 4 3.9 2.3 4 0.9 3.3 -0.4 3.3 -1.4 3.2 -2.4 3.3 -3.5 3.3 -4.4 3.9 -6.5 13.2 -26.3 5.9 -9.8 3.3 -4.1 3.3 -3 3.2 -1.7 3.3 -0.6 3.3 0.6 3.3 2 3.3 3.2 3.3 4.5 5.2 9.7 12.5 27.5 3.3 5.9 3.3 4.7 3.2 3.3 3.3 2 4 0.7 3.2 -0.9 2.7 -1.7 2.6 -2.6 5.3 -7.7 4.6 -9.2 10.5 -24.1 5.9 -10.8 3.3 -4.4 3.2 -3 3.3 -1.9 3.3 -0.6 3.3 0.4 3.9 1.9 3.3 2.8 4 4.6 5.9 9.3 15.1 28 4.6 7 4.6 5.4 4.6 4 4.6 2.4 5.2 1.1 4.6 -0.6 3.9 -1.6 4 -2.8 3.9 -3.9 4 -5.3 6.5 -11.4 13.8 -28.2 4 -6.7 3.9 -5.4 3.9 -4 4 -2.6 3.9 -1.3 4.6 0.2 3.3 1.2 3.3 2.2 3.3 3.2 3.3 4.2 5.9 9.9 11.8 24.5 5.2 9.7 6 8.2 3.2 3.2 2.7 1.6 2.6 0.6 2.6 -0.2 3.3 -1.2 2 -1.4 3.3 -3.5 3.9 -5.3 7.9 -13.3 3.9 -3.2 4.6 -2.8 5.3 -1.8 5.2 0 5.3 1.9 5.2 4 1.3 2.7 1.4 5.4 5.9 37.7 1.9 9.3 2.7 6.3 2.6 5.1 2.6 3.4 2 1.1 1.3 -0.3 1.3 -1.1 1.3 -3 1.3 -4.5 8.6 -44.8 7.2 -31.2 3.3 -11.6 2 -4.7 1.9 -2.5 4 -3 3.2 -1 2.7 0.2 3.3 1.5 2.6 2.2 3.3 3.9 7.2 11.1 11.8 21.3 4.6 4.2 4.6 3 4.6 2 4.6 0.9 6.6 -0.3 7.2 -2.4 7.2 -4.1 17.1 -11.4 5.2 -2.6 4.6 -1.5 5.3 -0.8 5.2 0.3 15.2 3.5 5.2 0.7 5.3 -0.3 4.6 -1.5 4.6 -2.6 5.2 -4.4 15.8 -17.8 5.9 -5.7 3.3 -2.4 3.2 -1.7 3.3 -1 2.7 -0.3 3.9 0.5 3.9 1.5 4 2.6 4.6 4.3 7.2 9.2 17.1 25.7 5.2 6.6 4.6 4.7 4.6 3.8 4.6 2.9 4.6 1.9 4.6 1.2 6.6 0.4 6.5 -0.8 6.6 -1.9 7.2 -3.3 5.9 -3.6 6 -4.6 18.3 -18 7.3 -6 3.9 -2.5 4.6 -2.1 3.9 -1.2 4.6 -0.6 4.6 0 4.6 0.7 4.6 1.5 4.6 2.3 7.9 5.7 13.8 13.1 5.9 5 6.6 4.1 6.5 2.3 4 0.5 3.9 0 4 -0.7 3.9 -1.3 7.2 -3.5 12.5 -8.2 5.3 -3.1 5.9 -2.3 5.2 -0.9 5.9 0.5 5.9 1.9 5.3 2.6 11.8 7.1 5.9 2.8"/><path d="M248.5 273.6l5.9 1.4 11.2 4.6 5.3 1.4 3.2 0.1 2.7 -0.5 2.6 -1.1 2.6 -1.8 4.6 -5 4.6 -7.5 4 -8.1 9.1 -21 5.3 -10 4.6 -6.2 2.6 -2.5 2.7 -1.7 3.9 -1.3 3.9 -0.1 4 0.7 9.8 2.6 5.9 0.5 5.3 -0.7 10.5 -3.1 5.2 -0.3 4 1.2 3.9 2.9 3.3 4 3.3 5.6 5.2 12.6 11.2 32.5 3.3 7.7 3.3 6.1 3.3 4.3 3.9 3.2 3.3 1.2 3.9 0 3.3 -1.3 2.6 -1.9 3.3 -3.4 2.6 -3.7 5.3 -9.7 10.5 -24.3 4.6 -9.5 5.3 -8.2 2.6 -2.9 3.3 -2.6 3.3 -1.7 3.9 -0.8 3.9 0.2 4 1.1 3.9 1.8 4.6 2.7 14.5 11.1 5.2 3.4 5.3 2.1 2.6 0.2 2.6 -0.3 4.6 -2.2 5.3 -5.1 4.6 -6.5 9.2 -14.7 4.6 -5.9 4.6 -3.8 1.9 -0.8 2 -0.4 3.3 0.8 2.6 1.9 2.6 3.3 2.7 4.8 2.6 6.4 2.6 8.1 9.2 35.5 4.6 14.7 2.6 6.2 2.7 4.5 3.2 3.7 3.3 2 4 0.4 3.9 -1.6 3.3 -3.1 3.3 -5.2 2.6 -5.9 2.6 -7.6 9.9 -36.5 4.6 -14.1 2.6 -5.7 2.6 -4 2.7 -2.5 2.6 -1.1 2 0 1.9 0.6 4 2.8 3.9 4.7 10.5 14.6 4 3.6 3.2 1.5 3.3 0.1 4 -1.7 11.1 -9.4 4 -2.3 3.9 -0.8 2 0.4 1.9 1 4 3.5 3.9 5.9 11.2 22.7 4.6 7.8 2.6 3.2 2.6 2.1 2.7 0.9 1.9 -0.1 3.3 -1.5 3.3 -3.5 2.6 -5.7 3.3 -10.6 4 -15.5 2.6 -12.5 5.9 -32.7 4.6 -28.8 1.3 -4.9 0.7 -1.3 0.6 -0.3 1.3 0.6 1.3 1.7 3.3 8.5 3.3 13.6 3.9 21.2 6.6 41.5 1.3 10.7 6.6 80.8 2 19.1 3.3 18.9 3.2 15.6 2.7 8.5 1.3 2.4 1.3 1 0.6 -0.1 1.4 -1 1.9 -3.4 4 -12.4 11.8 -56 5.2 -21.7 10.6 -47.1 5.2 -19.2 2 -5.4 4.6 -10.1 7.9 -15.4 5.2 -7.1 2.6 -2.2 2.7 -1.3 3.2 -0.3 2.7 0.9 2.6 2.2 2.6 3.4 2.7 4.7 3.2 7.9 4 8 9.8 24.8 4 8.6 2.6 4.4 2.6 3.3 2.6 2.1 2.7 0.9 2.6 -0.4 2 -1.1 2.6 -2.6 2 -2.9 4.6 -9.3 9.2 -24.7 3.9 -9.1 2.6 -4.4 2 -2.5 2.6 -1.9 2 -0.4 2.6 0.7 2 1.6 2 2.5 2.6 4.7 3.9 9.6 9.2 26.8 2.6 6.3 2.7 4.9 2.6 3.4 2.6 1.9 2.7 0.5 2.6 -1 2.6 -2.6 2 -3 3.9 -8.9 3.3 -10.1 7.9 -28 4.6 -12.9 2.6 -5.1 2.6 -3.6 2.7 -2 2.6 -0.7 2.6 0.6 2.6 1.9 2.7 3.2 1.9 3.4 4.6 10.8 9.2 28.4 4.6 11.9 2.7 5 1.9 2.8 2.6 2.5 2.7 1.2 3.3 -0.2 3.9 -2.4 4.6 -5.3 8.5 -12.7 4 -4.9 4.6 -3.7 3.9 -1.2 3.3 0.4 3.9 1.7 12.5 9.3 5.3 3.1 4.6 1.7 5.2 0.6 7.2 -1 19.1 -5.1 17.1 -2 5.9 -1.1 23 -7 5.2 -0.6 5.3 0.3 7.2 1.9 15.1 6.9 6.6 2.2 6.5 1 13.8 0.8 6.6 1.4 6.6 3 15.1 9 4.6 1.7 3.9 0.5 3.3 -0.3 2.6 -0.8 3.3 -1.7 2.6 -2.1 5.3 -6.1 6.5 -10.4"/><path d="M248.5 273.8l4 -3.2 3.9 -4.7 3.9 -5.9 9.9 -16.6 5.9 -8 3.3 -3.1 3.3 -2.1 3.3 -1.1 3.2 -0.3 6 1.2 11.1 4.6 5.3 1.6 5.9 0.7 13.1 -0.2 4 0.8 3.2 1.4 4 2.8 4.6 4.7 3.9 5.1 9.9 14.5 5.2 6.1 3.3 2.6 2.6 1.3 2.7 0.4 2.6 -0.5 2.6 -1.3 2.6 -2.4 2.7 -3.3 2.6 -4.3 4.6 -9.8 9.8 -24.3 5.3 -10.2 2.6 -3.6 2.6 -2.6 2.7 -1.6 2.6 -0.6 2.6 0.4 2.7 1.4 2.6 2.4 2.6 3.4 5.3 9.5 10.5 24.7 5.2 10.3 2.6 3.9 2.7 2.9 2.6 2 3.3 1.2 2.6 0 3.3 -1.1 2.6 -1.8 3.3 -3.2 5.3 -6.8 13.1 -20 3.9 -5 4 -3.9 3.9 -3 4 -2 3.9 -1.2 4.6 -0.3 4.6 0.6 3.9 1.3 4.6 2.5 4 2.9 4.6 4.5 4.6 5.7 15.1 23.2 6.5 8.3 4 3.3 3.3 1.7 3.2 0.5 3.3 -0.6 3.3 -1.9 2.6 -2.4 2.7 -3.4 2.6 -4.3 4.6 -9.5 10.5 -25.4 5.2 -10 2.7 -3.7 2.6 -2.7 2.6 -1.7 3.3 -0.8 2 0.2 2.6 0.9 2.6 1.8 2.7 2.6 5.2 7.2 11.8 19.5 4 4.7 3.9 3 4 1.2 1.9 -0.2 2.7 -0.8 5.2 -3.6 9.2 -8.8 3.9 -3.1 4.6 -2.1 2.7 -0.3 1.9 0.2 4 1.8 4.6 4.2 3.9 4.8 9.2 12.9 5.3 5.8 2.6 2 2.6 1.4 2.6 0.5 2.7 -0.1 3.9 -1.7 4.6 -3.7 2.6 -3.9 3.3 -6.6 6.6 -16.7 7.9 -27.7 9.2 -29.3 2.6 -6.3 1.3 -1.9 1.3 -0.7 1.3 0.6 1.3 2 3.3 9.9 3.3 14.9 7.9 40.5 6.6 25.2 2.6 6.8 3.3 4.6 1.3 1.2 1.3 0.6 2 -0.5 1.9 -1.2 4.6 -5.3 4 -6.7 11.1 -21.7 4.6 -7.4 4.6 -6.1 4 -4 3.3 -2.4 7.8 -2.9 3.3 -0.8 2.6 0.3 2 0.9 2 1.6 2 2.6 9.1 16.1 12.5 23.1 3.3 0.1 3.3 -0.7 3.3 -1.5 3.3 -2.2 6.5 -6.1 13.2 -15.5 5.9 -6 5.9 -4.2 3.3 -1.3 2.6 -0.4 3.3 0.2 2.6 0.8 2.6 1.4 3.3 2.4 5.3 5.3 12.4 15.4 5.3 4.8 2.6 1.6 2.6 0.8 2.7 0.2 1.9 -0.4 2.7 -1.3 2.6 -2.2 2.6 -3.1 2.7 -3.9 4.6 -8.8 10.5 -23.4 5.2 -9.3 2.6 -3.4 2.7 -2.6 2.6 -1.7 3.3 -0.9 3.3 0.5 3.2 1.8 3.3 3.4 2.7 3.8 2.6 5 3.3 7.5 11.1 31.4 5.3 12.3 3.3 5.7 3.2 4 3.3 2.6 3.3 1.2 2 0.1 2.6 -0.5 2.6 -1.2 2.7 -1.8 5.2 -5.3 11.8 -15.5 5.3 -5.7 3.3 -2.7 3.3 -1.9 3.2 -1.3 4 -0.9 4.6 -0.2 17.1 0.1 21 -2 8.5 0.5 5.3 1.2 5.9 2.3 17 9.3 6.6 2.9 6.6 1.9 7.2 0.7 7.2 -0.5 8.6 -1.6 24.3 -6.3 23.6 -6.7 11.2 -2.3 7.2 -0.4 7.2 0.3 21 4"/><path d="M248.5 294.9l2 0.7 2.6 0.3 2.6 -0.4 2 -0.7 4.6 -3.5 4 -5 3.2 -5.7 3.3 -6.9 10.5 -26.5 4 -8.9 4.6 -8.4 5.2 -7 5.9 -5.2 7.9 -4.7 15.8 -8.1 4.6 -1.7 3.9 -0.6 4.6 0.6 3.9 2.2 4 4.2 3.3 5.7 2.6 6.2 3.3 9.9 9.8 38.3 4 13 2.6 6.5 2.6 5 2.7 3.5 3.2 2.7 2 0.9 2.6 0.4 4 -1 3.9 -3.2 4 -6.2 2.6 -6.3 3.3 -10.4 8.5 -35.2 3.9 -13.6 2 -5.2 2.6 -5.1 2.7 -3.2 2.6 -1.3 2.6 0.4 2.6 2 2.7 3.7 1.9 4 4 10.7 9.8 33.1 4.6 11 2 3.1 2.6 2.6 2.7 0.9 1.9 -0.4 2.7 -2.1 1.9 -2.9 2.7 -5.6 1.9 -5.6 3.3 -11.9 8.5 -36.6 4.6 -14.3 2.7 -5.4 3.2 -4.5 3.3 -2.5 4 -1 3.9 0.9 3.3 2.3 3.3 4.2 2.6 5.1 2.6 7 2.7 9 9.2 39.9 4.6 16.2 2.6 6.7 2.6 4.9 2.6 3.4 3.3 2.5 2.6 1 2.7 0.2 2.6 -0.5 2.6 -1.1 4.6 -3 10.5 -9 5.3 -3.7 5.2 -2.4 12.5 -3.6 3.3 -1.8 3.3 -2.8 4.6 -5.9 3.9 -7.3 4 -9.3 9.8 -26.1 5.9 -12.2 3.3 -4.8 3.3 -3.3 3.9 -2.4 4 -0.8 2.6 0.3 2 0.6 3.9 2.7 3.9 4.8 3.3 6.1 2.7 6.4 3.2 10.1 11.9 42.5 3.2 8.9 2.7 5.6 3.3 5.1 3.9 3.7 3.9 1.6 4 -0.3 3.3 -1.7 3.2 -2.8 2.7 -3.3 3.3 -5.2 4.5 -9.1 10.6 -23.7 4.6 -8.1 4.5 -5.5 11.2 -24.5 4 -10.6 6.5 -20.4 2 -8 5.2 -25.8 2 -6.2 1.3 -1.5 1.3 0.9 1.4 2.1 2.6 7.5 2.6 11 3.3 17.6 12.5 81.6 5.9 52.3 2.6 18.5 3.3 12.5 2.6 7.9 2 4 2 1.6 1.3 -0.6 1.3 -2.1 2.6 -8.1 2.6 -12 7.9 -42.6 7.9 -32.9 5.3 -19.1 2.6 -6.6 2 -3 3.2 -2.5 4 -2.2 3.9 -1.4 3.3 -0.6 3.3 0.1 3.9 0.8 3.3 1.5 2.6 1.8 4 3.9 3.3 4.7 3.2 6.2 6 9.4 11.1 21.6 5.3 8.2 3.9 4.5 3.9 2.7 4 1.2 3.3 -0.3 3.9 -2.1 3.3 -3.4 3.3 -5.4 2.6 -5.9 4.6 -14 10.5 -39.2 2.6 -7.9 2.7 -6.4 2.6 -4.8 3.3 -4.2 2.6 -2.1 3.3 -1.2 3.3 0.2 3.3 1.4 3.2 2.7 2.7 3.2 2.6 4.2 3.3 6.4 10.5 25.1 4.6 9.5 2.6 4.2 2.6 3.2 2.7 2.3 3.2 1.5 4 0.1 3.9 -1.3 12.5 -8.2 3.9 -2 4 -1.1 3.9 0.1 4 1.3 4.6 2.9 15.1 14.1 5.9 4.4 3.3 1.6 3.2 1 3.3 0.3 2.7 -0.3 2.6 -0.7 3.3 -1.5 5.9 -4.4 5.2 -5.3 13.2 -15 7.2 -6.6 3.9 -2.5 4 -1.7 3.9 -0.9 3.9 -0.3 4 0.4 3.9 1 4 1.7 3.2 2 6.6 5.3 15.8 15.6 5.2 3.7 5.3 2.2 4.6 0.9 5.2 -0.2 16.5 -3.7 6.5 -0.8 5.3 0.2 11.8 1.5 4.6 0 3.3 -0.6 3.3 -1.2 3.2 -1.9 2.7 -2.2 4.6 -4.8 10.5 -13.5 5.9 -5.6 5.2 -2.9 3.3 -0.8 2.6 -0.1 3.3 0.6 3.3 1.5 3.3 2.7 2.6 3 4.6 7.8 9.2 19.5 2.6 4.5 2.7 3.5 2.6 2.6 2.6 1.7 2.7 1 3.2 0.4"/><path d="M248.5 279.6l3.3 -0.9 2.6 -1.4 5.3 -4.6 4.6 -6 11.8 -18.5 3.9 -4.6 3.3 -2.7 4 -1.5 3.9 0.2 4 1.4 10.5 5.4 3.9 0.7 3.3 -0.5 3.3 -1.8 3.9 -3.5 11.2 -14.3 3.9 -4.2 4 -2.8 3.2 -0.9 2.7 0.2 1.9 0.8 2 1.3 2.6 2.4 4.6 6.2 9.2 15.8 4 5.8 3.9 4.2 3.9 2.1 3.3 0.2 4 -1.6 3.9 -3.2 8.5 -8.9 4 -3.5 4.6 -2.5 3.9 -0.6 2.6 0.4 3.3 1.4 13.2 9.3 3.2 1.7 2.7 0.9 3.3 0.4 3.9 -0.5 3.9 -1.4 11.9 -5.8 3.9 -0.9 3.9 0.1 3.3 0.9 3.3 1.6 14.5 10.4 3.9 2.2 3.3 1.3 5.9 1 11.8 -0.4 5.3 0.5 5.2 1.4 12.5 5 3.3 0.6 3.3 -0.1 3.2 -1.2 2.7 -1.7 2.6 -2.5 3.3 -4.4 5.2 -9.3 11.2 -23.6 3.3 -5.7 3.3 -4.7 3.3 -3.5 3.2 -2.4 3.3 -1.4 4 -0.6 3.2 0.3 3.3 1 7.3 3.6 9.8 7.1 7.9 7.5 5.2 6.6 4.6 7.2 12.5 23.9 4.6 7.9 4.6 6 4.6 3.7 2.6 1.1 2.7 0.3 2.6 -0.4 3.3 -1.4 5.2 -4.3 11.8 -12.6 3.3 -2.2 3.3 -1.1 3.3 0.4 3.9 2 10.5 9.6 3.3 2.4 3.3 1.3 3.3 0 2.6 -1.2 2.6 -2.3 2.7 -3.6 2.6 -5 5.9 -15.6 9.2 -31.6 5.3 -14.3 2.6 -5.7 3.3 -5.7 7.8 -11.7 1.4 -1.3 1.3 -0.6 1.3 0.4 1.3 1.4 3.3 6.5 3.3 9.5 3.9 13.9 9.2 35.2 9.2 48.9 3.9 16.9 5.9 15.7 4.6 10.9 4 7.5 3.3 4.1 0.6 0 1.3 -1.4 2 -5.1 6.6 -27.6 9.2 -32.9 2.6 -8 13.8 -25.6 5.2 -7.8 2.7 -3 2.6 -2.2 2.6 -1.1 2.6 -0.1 2 0.8 2 1.3 4.6 5 9.2 5.1 2.6 0.9 2.6 0.4 2.7 -0.3 1.9 -0.7 4 -2.9 3.9 -4.7 3.9 -6.3 9.2 -16.2 4.6 -6.6 4.6 -4.5 2.7 -1.6 2.6 -0.7 2.6 -0.1 3.3 0.9 3.3 1.8 3.3 2.8 5.9 6.6 17.7 23.5 13.8 15.7 5.9 5.9 4.6 3.8 3.9 2.4 4 1.2 3.3 0.2 3.3 -0.9 3.2 -1.9 3.3 -2.9 5.9 -7.9 12.5 -20.4 4 -4.7 3.9 -3 3.3 -1.1 3.9 0.1 4 1.5 11.1 6.2 3.3 0.8 3.3 -0.1 2.6 -0.8 3.3 -1.9 9.8 -8.5 4 -2.8 3.3 -1.5 3.3 -0.4 1.9 0.2 2.7 1 2.6 1.6 2.6 2.3 5.9 7.4 10.5 16.8 5.3 7.2 2.6 2.8 3.3 2.6 3.3 1.7 3.3 1 3.9 0.5 4.6 -0.2 14.4 -2.3 15.1 -1.3 6 -1.2 4.6 -1.6 4.5 -2.3 15.2 -10.7 7.2 -3.7 3.9 -1.1 4 -0.5 13.7 0.5 6.6 -0.8 6.6 -2.4 14.4 -7.8 4.6 -1.4 4.6 -0.4 3.3 0.5 3.3 1.2 3.3 1.9 3.3 3 5.2 6.5 11.2 16.8 5.9 6.5 3.3 2.4 3.3 1.6 3.9 1.1 3.9 0.4"/><path d="M248.5 266.9l2.7 0 2.6 -0.7 2.6 -1.3 2.6 -2 5.3 -5.5 9.8 -12.7 4.6 -5.3 4.6 -4.2 4.6 -3 4 -1.5 4.6 -0.9 15.1 -0.8 15.1 -2.1 5.2 0 4 0.9 3.9 1.9 3.9 3.1 3.3 3.6 5.9 8.4 13.8 23.5 4 5.4 3.3 3.6 3.2 2.7 4 2 3.9 0.7 4 -0.5 3.2 -1.4 4 -2.7 3.9 -3.8 4 -4.9 7.2 -11.2 16.4 -29.3 4.6 -7 3.9 -5.1 4.6 -4.7 4.6 -3.3 4.6 -1.8 4 -0.2 3.9 1.1 4 2.8 3.9 4.6 3.3 5.5 5.9 13.7 11.8 33.9 3.3 7.6 2.6 4.9 2.6 3.7 3.3 3.2 3.3 1.5 3.3 0 3.3 -1.5 2.6 -2.5 3.3 -4.9 2.6 -5.5 4.6 -13 9.9 -34.1 2.6 -7.5 2.6 -6.1 2.6 -4.6 2.7 -3.2 2.6 -1.8 3.3 -0.6 3.3 1.5 2.6 2.6 2.6 4.2 2.7 6 4.5 14.5 9.9 38.6 2.6 8.1 2.7 6.4 2.6 4.7 3.3 3.8 3.2 1.9 3.3 0.1 3.3 -1.5 3.3 -3.4 2.6 -4.4 2.7 -6.1 4.5 -15.3 9.9 -41.3 2.6 -8.8 2.7 -6.9 2.6 -5.2 3.3 -4.3 3.2 -2.4 4 -1 3.9 1 3.3 2.2 3.3 3.6 3.3 5.1 5.2 11.3 9.9 26.6 3.9 9.6 4.6 8.8 4.6 6.3 5.3 4.4 3.3 1.5 3.2 0.9 4 0.3 3.9 -0.2 9.2 -2.3 7.2 -3.3 6.6 -4.2 6.6 -5.8 6.5 -7 5.9 -7 2.7 -4.2 3.3 -7 3.9 -10.4 2 -15.4 8.5 -107.7 1.3 -12.1 0.7 -3.7 0.6 -1.6 0.7 0.2 1.3 1.3 2.6 6.9 2 8.2 2.6 14.3 4 26.7 9.8 75.3 7.9 50.6 1.3 6.4 2.6 7.9 2 4.5 2 2.4 1.3 0.1 1.3 -0.5 2.6 -2.3 2.7 -3.7 8.5 -14 15.1 -17 2.6 -2.3 14.5 -10.2 3.9 -2.2 3.3 -1.1 3.3 -0.5 2.6 0.2 3.3 1.1 2.6 1.6 3.3 2.9 3.9 4.8 13.2 12.3 3.9 3.3 3.3 2.2 3.3 1.4 3.3 0.5 3.3 -0.5 2.6 -1.3 2.6 -2.1 2.6 -3 5.3 -8.9 4.6 -10.9 10.5 -29 5.9 -12.7 3.3 -4.9 3.3 -3.5 3.3 -2.2 3.9 -1.1 3.9 0.5 4 2.3 3.3 3.5 3.2 5.2 2.7 5.7 3.2 8.9 11.2 39.1 5.3 15 3.3 6.7 3.2 4.7 4 3.5 3.9 1.4 2.6 0 3.3 -0.9 3.3 -2 3.3 -3.2 3.3 -4.2 3.3 -5.2 13.1 -25.3 6.6 -10.5 3.9 -4.6 3.9 -3.3 4 -2.1 4.6 -1.2 4.6 -0.3 4.6 0.6 5.2 1.3 5.9 2.3 9.9 5.5 19 13.3 4.6 2.4 4.6 1.7 4.6 0.8 5.3 0.1 5.2 -0.6 14.5 -3 4.6 -0.3 4.6 0.2 4.6 0.9 4.6 1.6 17.7 8.4 4.6 1.3 3.9 0.5 5.9 -0.4 6 -2 5.9 -3.3 15.7 -10.8 5.3 -2.5 4.6 -1.2 5.9 -0.2 5.9 1.2 5.9 2.4 16.4 8.5 5.3 1.7 5.2 0.5 5.3 -0.5 5.2 -1.7 5.3 -2.6 11.2 -6.5 5.9 -2.6 5.9 -1.4 5.2 0.2"/><path d="M248.5 238.3l5.9 5.7 4.6 3.8 4.6 3 5.3 2.4 5.2 1.4 5.9 1 12.5 1.1 7.9 0.2 7.2 -0.7 5.9 -1.8 7.3 -3.9 11.8 -8.7 5.2 -3.3 5.3 -1.9 2.6 -0.2 2.6 0.2 4.6 1.9 5.3 4.1 4.6 5 9.8 12.2 5.3 5.3 5.3 3.3 2.6 0.7 2.6 0.2 2.6 -0.5 2.7 -1.2 5.2 -4.1 5.3 -6 9.8 -13.5 4.6 -5.7 5.3 -5 5.2 -3.3 4 -1.3 4.6 -0.7 18.3 0.9 15.8 -1.5 5.3 0 3.9 0.7 3.3 1.2 3.3 1.9 3.3 2.5 5.9 6 11.8 15 4.6 5.1 5.2 4.6 4.6 2.5 4.6 1.1 4.6 0 4.6 -0.9 11.2 -3.1 6.6 -0.6 5.9 0.6 11.8 2.9 4.6 0.3 3.9 -0.7 3.3 -1.4 3.3 -2.4 3.3 -3.4 5.9 -8.5 11.1 -20.6 5.3 -8.4 3.3 -4.1 2.6 -2.5 2.6 -1.8 2.7 -1.1 3.2 -0.4 3.3 0.7 3.3 1.7 4 3.3 5.9 7.1 13.1 19.1 3.3 3.8 3.3 3.1 3.3 2.3 3.2 1.5 3.3 0.9 4 0.2 17.7 -1.8 19.7 0.6 5.2 -0.9 4.6 -1.7 4.6 -2.4 11.9 -7.5 6.5 -7.8 4.6 -4.3 4.6 -3.1 9.2 -4.4 7.9 -9.1 2 -1.5 1.9 -0.3 0.7 0.3 1.3 2 2 5.7 7.2 30.9 6.6 22.8 2.6 7.9 2 4.3 3.9 5.2 2.6 2.6 2.7 1.1 1.9 -0.4 2 -1.6 3.9 -6 3.3 -7 8.6 -21.1 3.9 -7.9 6.6 -9.5 2.6 -2.7 2.6 -2 4 -1.4 3.9 0.5 14.4 8.1 5.3 2.2 5.3 1.6 7.2 1.1 11.1 0.1 6 -4.3 5.9 -5 18.4 -17.8 5.9 -5.1 6.5 -4.1 3.3 -1.2 2.6 -0.4 4 0.3 3.3 1.2 3.2 2.1 3.3 3.1 6.6 8.6 14.4 23.5 4.6 5.4 4.6 3.4 2.7 1 2.6 0.3 2.6 -0.4 2.6 -0.9 5.3 -3.5 9.9 -9.1 3.9 -3.1 4.6 -2.3 3.9 -0.4 3.3 0.8 4 2.4 4.6 4.3 9.1 10.7 4 4 4.6 3.2 3.9 1.3 3.3 -0.2 2.6 -1 2.7 -1.8 2.6 -2.6 5.2 -7.5 11.2 -21.1 5.3 -8.2 2.6 -3.1 3.3 -2.7 2.6 -1.3 3.3 -0.8 3.3 0.1 3.2 0.9 4 1.7 4.6 2.7 7.9 6 20.3 17.1 11.8 8.2 9.9 4.9 4.6 1.5 4.6 0.9 7.2 0.2 7.2 -1.4 7.3 -3 15.1 -7.9 4.6 -1.7 4.6 -0.9 4.6 -0.1 4.6 0.6 14.4 4.5 4.6 1.1 4.6 0.4 4.6 -0.5 3.9 -1.1 4.6 -2 17.1 -10.1 4.6 -1.8 4.6 -0.9 5.2 0.2 6 1.6 5.2 2.4 11.8 6.8"/><path d="M248.5 258.7l4.6 4.3 4 3 3.9 2.3 3.3 1.2 3.3 0.7 3.9 -0.1 4 -0.8 3.9 -1.8 6.6 -4.6 7.2 -7.4 6.5 -8.4 13.8 -19.3 7.3 -8.6 3.9 -3.6 3.3 -2.2 3.9 -1.7 3.3 -0.5 4 0.7 3.2 1.7 3.3 2.8 3.3 4 3.3 5.3 3.3 6.6 11.8 28.4 5.2 10.6 3.3 5 2.7 3 3.2 2.4 3.3 1.1 2.6 0 3.3 -1.2 2.7 -1.8 3.2 -3.4 5.3 -7.5 13.1 -22.7 4 -4.9 3.9 -3.2 4 -1.5 4.5 0.3 4 1.6 8.5 5.2 4 2 3.9 0.9 3.9 -0.3 4 -1.9 3.9 -3.1 11.8 -13.3 4 -3.7 3.9 -2.5 3.3 -0.9 2.6 0.2 2.7 1.1 2.6 1.9 2.6 2.8 5.3 7.9 10.5 20.8 4.6 7.8 2.6 3.5 2.6 2.5 2 1.4 2.6 0.9 2 0.2 2.6 -0.6 2.7 -1.5 2.6 -2.2 4.6 -5.5 9.2 -13.7 3.9 -5.2 4.6 -4.3 3.9 -1.8 4 -0.2 3.9 1.5 4.6 3.2 11.8 10.1 4.6 2.3 4 0.6 3.9 -0.7 4 -1.9 12.4 -10.2 4.6 -2.9 4.6 -1.5 4 0.2 3.3 1.2 3.9 2.5 10.5 9.6 3.9 3 4 2 3.9 0.5 2 -0.4 2.6 -1.1 4.6 -3.7 4 -4.6 9.2 -12.6 4.6 -5 3.9 -2.8 3.9 -1 2.7 0.4 1.9 0.8 2.7 1.9 2.6 2.7 4.6 6.4 10.5 17.5 4.6 5.9 2.6 2.3 2.6 1.4 2 0.5 2.6 -0.2 2 -0.6 2.6 -1.5 5.3 -5 7.2 -8.4 2 -5.7 9.2 -32.3 4.6 -20 2.6 -13.5 4.6 -36.5 1.3 -6.2 0.7 -1.2 0.6 0.6 0.7 2.6 1.3 10.9 5.2 76.6 2 23 5.3 31.6 5.2 23.3 2.7 9 2.6 7.1 3.9 8 3.3 5.4 3.3 3.8 2.6 1.3 2.6 -0.7 2 -1.8 1.3 -2.2 1.3 -3.7 3.3 -14.7 8.6 -49.5 7.2 -31.2 2.6 -9.6 2.6 -7.3 2.7 -4.4 2.6 -1.3 2.6 0.1 2 1 2 1.6 2.6 3.2 3.9 6.6 8.6 17.3 5.2 9.4 9.2 13.6 2 0.4 3.3 0 3.2 -0.7 7.9 -3.5 14.5 -9.5 22.3 -17.3 5.9 -4.2 7.9 -4 3.9 -1.1 3.3 -0.4 4 0.2 3.9 0.7 15.8 5.7 6.5 1.4 7.2 0 15.2 -2.5 3.9 0.1 3.9 0.9 4.6 2.2 4.6 3.5 13.8 14.3 4.6 4.1 4.6 2.6 4 1 3.9 -0.4 4.6 -2.2 4.6 -3.7 9.8 -10.4 4 -3.5 4.6 -2.8 3.9 -0.8 4 0.5 3.9 1.9 4.6 3.5 9.8 9.4 4.6 3.7 5.3 2.7 4.6 1 4.6 -0.3 5.2 -1.9 5.3 -3.3 11.2 -8.8 5.2 -3.5 5.9 -2.7 5.9 -1 5.9 0.4 6 1.8 19 9.6 8.5 3.4 7.9 2.1 9.2 1.2 10.5 0.2 9.2 -0.9 8.5 -1.9 16.5 -5.1 8.5 -1.4 4.6 0 4.6 0.5 14.4 3.5 6 0.8 6.5 -0.4 5.9 -1.7"/><path d="M248.5 242.6l5.9 1.8 5.3 2.3 15.1 9.2 4.6 2.3 5.2 1.6 5.3 0 5.3 -1.7 5.2 -3.3 5.3 -4.6 13.1 -13.1 7.9 -6.1 4.6 -2.3 3.9 -1.2 4.6 -0.6 3.9 0.4 4 1.1 3.9 2 3.3 2.3 4 3.5 5.9 6.7 13.1 17.6 5.9 6.3 5.3 3.4 2.6 0.8 2.6 0.3 2.6 -0.4 2.7 -1 5.2 -3.7 5.3 -5.6 11.1 -13.7 6 -5.7 5.2 -3.2 5.9 -1.7 17.7 -0.2 17.1 -2.8 4 0.2 3.2 0.8 4 2 4.6 3.6 3.9 4.2 9.2 10.9 4.6 4.5 4.6 2.7 4 0.6 1.9 -0.3 2.6 -1.1 4.6 -3.6 4 -4.4 9.2 -12 4.6 -4.7 4.6 -2.6 3.9 -0.2 4 1.5 3.9 3.2 3.9 4.4 8.6 10.9 4.6 4.8 4.6 3 1.9 0.7 2.7 0.2 3.9 -0.8 3.9 -2.2 4 -3.1 12.5 -11.6 3.9 -2.7 3.9 -1.7 6.6 -1.2 13.1 0.7 6 -0.3 5.9 -1.3 12.4 -4.1 4 -0.7 3.3 -0.1 3.2 0.5 3.3 1.1 6.6 3.9 5.9 5.2 14.5 14.8 7.8 6.1 4 2 3.9 1.3 4 0.4 3.2 -0.3 3.3 -0.9 3.3 -1.7 3.3 -2.4 3.3 -3.1 4.6 -6.6 5.9 -11.9 3.3 -12.4 6.5 -34.1 7.3 -31.7 3.2 -11.1 1.4 -2.4 1.3 -1 0.6 0.2 1.3 2.4 2.7 11.8 9.2 70.4 9.2 59.2 3.9 21.3 2.6 10.1 7.9 21.9 3.9 7.5 2 2.2 2 0.9 1.3 -0.5 2 -2.4 3.2 -7.4 3.3 -10.6 8.6 -30.7 13.1 -38.6 5.9 -14.9 9.2 -17.4 5.3 -8.2 8.5 -8.6 3.3 -2.4 2.6 -1.1 2 -0.3 2 0.3 1.9 1 2 1.5 3.3 -0.6 3.3 0.3 4.6 1.9 5.9 4.8 14.4 15.7 4.6 3.7 4 2.1 3.2 1.1 3.3 0.5 11.8 0.4 5.3 0.8 5.2 1.7 11.9 5.2 3.2 0.8 3.3 0.2 3.3 -0.6 3.3 -1.7 2.6 -2.1 3.3 -3.5 5.3 -7.7 11.1 -19.3 3.3 -4.7 3.3 -3.7 3.3 -2.7 2.6 -1.2 2.6 -0.6 3.3 0.3 4.6 2.1 4.6 3.9 4.6 5.2 14.5 18.5 5.2 5.5 5.3 4.4 7.8 5.1 9.9 4.8 7.9 2.7 7.2 1.1 5.9 -0.3 6.6 -1.5 25.6 -9.5 7.2 -3 6.6 -3.3 17.1 -11.1 6.5 -3.5 7.2 -2.2 3.3 -0.3 3.3 0.2 3.3 0.8 3.3 1.4 3.3 2 3.2 2.8 5.3 5.9 12.5 16.8 3.9 4.3 3.3 2.8 3.9 2.7 4 1.8 3.9 1.1 4.6 0.6 5.9 -0.3 5.3 -1.2 5.2 -2.4 4.6 -3.2 3.3 -3.2 4 -4.8 11.8 -18 4.6 -6 5.2 -4.9 5.3 -2.9 3.9 -1.1 4 -0.2 3.9 0.6 3.3 1.1 3.9 2.2 3.3 2.7 7.2 8.2"/><path d="M248.5 231.8l11.2 18.8 7.2 9.9 3.3 3.3 3.9 3 3.3 1.6 4 1.1 5.9 -0.1 6.5 -2.1 6.6 -3.6 16.4 -10.8 5.3 -2.5 5.2 -1.7 4.6 -0.6 5.3 0.1 14.4 2.7 4.6 0.5 4.6 -0.2 4.6 -1 4.6 -2.1 4.6 -3 13.1 -11.3 5.3 -3.9 4.6 -2.3 4.6 -0.9 2.6 0.3 2.7 0.8 5.2 3.3 5.9 6.2 11.8 16.1 4.6 5.4 5.3 4.1 2.6 1 2.6 0.3 2.7 -0.5 2.6 -1.2 2.6 -2.1 3.3 -3.6 5.3 -7.9 11.8 -21.1 5.9 -7.9 3.3 -3 2.6 -1.6 3.3 -0.8 2.6 0.1 3.3 1.4 3.3 2.6 2.6 3.1 3.3 5 5.2 10.5 12.5 29.6 4 7.7 3.2 5.2 3.3 4 4 3.3 3.9 1.8 3.9 0.5 4 -0.9 3.9 -2.3 4 -3.8 3.9 -5.4 3.3 -5.8 3.3 -6.9 11.8 -29.6 5.2 -11.7 3.3 -5.8 2.7 -3.7 3.2 -3.6 3.3 -2.3 2 -0.9 2.6 -0.5 4 0.6 2.6 1.3 2 1.5 3.9 4.4 3.3 5.2 3.9 8 12.5 32.2 5.3 11.3 3.2 5.3 3.3 3.7 3.3 2.2 3.3 0.8 3.3 -0.6 3.3 -2 3.2 -3.5 3.3 -5 5.9 -12.6 11.9 -30.4 3.2 -6.9 3.3 -5.5 3.3 -4.2 3.3 -2.7 3.3 -1.6 3.3 -0.4 2.6 0.5 3.3 1.6 3.3 2.7 3.2 3.7 6.6 10.4 11.8 23.6 5.9 10.2 3.3 4.3 3.3 3.4 3.3 2.2 3.9 1.5 0.7 -0.5 2 -4.5 3.2 -10.6 4 -16.5 3.3 -16.7 5.9 -40.9 5.2 -56.4 1.3 -6.7 0.7 -0.4 0.6 2.7 1.4 13.8 5.2 97.4 2 20.2 4.6 13.3 4.6 8.3 2.6 3.2 3.3 2.9 4.6 3.2 3.9 1.7 2.7 0.2 2.6 -0.5 2 -1.2 1.9 -2 4 -6.7 9.2 -21.2 4.6 -8.4 4.6 -6.8 4.5 -5.6 4 -3.7 3.9 -2.6 5.9 -2.5 4 -1 3.3 0 3.2 1 5.3 3.9 5.9 5.9 5.9 7.3 5.9 8.5 5.3 0.9 4.6 -0.1 3.3 -0.7 3.2 -1.3 6 -3.7 6.5 -6.1 13.2 -15.1 5.9 -5.9 5.9 -4 3.3 -1.3 2.6 -0.4 3.9 0.3 3.3 1.3 3.3 2.2 3.3 3 3.3 4 3.9 5.8 13.8 24.3 6.6 9.7 3.9 4.4 3.9 3.3 4 2.1 3.9 0.9 4.6 -0.2 4 -1.4 3.9 -2.5 3.9 -3.6 4 -4.7 3.9 -5.8 15.1 -26.6 6.6 -9.9 3.9 -4.4 3.3 -2.6 3.3 -1.8 3.9 -0.8 3.3 0.3 3.3 1.1 3.3 2.1 3.9 3.6 6.6 8.6 13.1 22.2 5.3 7.5 3.3 3.6 2.6 2.2 3.3 1.9 3.3 1.1 3.3 0.2 3.2 -0.5 3.3 -1.2 3.3 -1.9 6.6 -5.3 13.1 -14.3 5.9 -5.4 3.3 -2.2 3.3 -1.6 3.3 -1.1 3.2 -0.4 4 0.2 3.3 0.9 3.3 1.4 3.2 2.1 6.6 5.9 11.8 13.8 5.9 5.9 6.6 4.4 3.3 1.3 3.9 1 4 0.2 4.6 -0.6 3.9 -1.3 3.9 -2 7.3 -5.4 13.1 -13.4 5.9 -5.1 5.9 -3.7 3.3 -1.2 3.3 -0.8 6.6 0.1 7.2 2.1 6.5 3.6 14.5 9.4 4.6 2.3 3.9 1.3"/><path d="M248.5 253.1l2.7 1.8 3.2 1.4 2.7 0.4 3.2 -0.2 5.3 -1.8 13.8 -7.2 4.6 -1.5 3.9 -0.6 5.9 0.1 16.5 2 15.7 -1.1 5.3 0.1 5.9 1.6 5.2 3 4.6 3.7 9.9 9.2 4.6 3.4 4.6 1.8 2.6 0.2 2 -0.5 2.6 -1.3 2.6 -2.3 2.7 -3.2 2.6 -4.2 4.6 -9.5 10.5 -25.7 3.3 -6.8 2.6 -4.4 2.6 -3.4 3.3 -3 3.3 -1.6 3.3 -0.2 3.3 1.2 3.2 2.7 3.3 4.2 2.7 4.7 5.2 12.6 11.8 34.5 3.3 7.6 3.3 6 3.3 4.4 3.9 3.3 4 1.6 4.6 0.2 4.6 -1.5 4.5 -2.8 5.3 -4.4 5.9 -6.2 7.2 -8.9 7.3 -10.2 5.9 -9.6 12.4 -21.9 6 -8.6 3.9 -4.4 3.3 -2.6 3.9 -1.8 3.3 -0.3 3.3 0.7 3.3 2 3.3 3.5 3.2 5.1 2.7 5.4 3.3 8.2 10.5 31.9 4.6 11.6 2.6 5 2.6 3.8 2.6 2.7 3.3 1.8 2.6 0.4 3.3 -0.9 2.7 -1.6 3.2 -3.3 5.3 -7.6 11.8 -21.3 4 -5.3 3.2 -2.9 4 -1.8 1.9 -0.1 2.7 0.6 4.6 2.5 9.2 7.4 3.9 2.4 4.6 1.3 3.9 -0.8 4 -2.6 3.9 -4.5 4 -5.8 9.2 -15.4 4.6 -6.3 2.6 -2.7 2.6 -1.9 2.6 -1.2 2 -0.3 3.3 0.4 3.3 1.8 2.6 2.3 3.3 4.1 5.2 9 11.9 24.6 5.9 9.3 2.6 3 3.3 2.5 2.6 1.2 3.3 0.6 1.3 -0.7 1.3 -1.7 2.6 -5.6 3.3 -9.7 3.3 -12 2.6 -13.3 4.6 -28.3 5.9 -47.7 1.4 -6.1 0.6 -1.3 1.3 -0.2 2 2.2 2.6 7.2 2.7 11 3.2 17.9 11.2 71.7 7.2 60.7 3.3 21.6 3.9 14.3 3.3 9.4 2.7 5 1.3 1.3 1.3 0.5 1.3 -0.5 0.7 -1.1 1.3 -4.5 1.3 -7.1 7.9 -62.6 5.9 -36.7 3.3 -17.8 2.6 -10.1 2 -4.3 3.9 -5.9 2 -1.8 1.9 -0.9 2.7 0.5 1.9 1.7 6.6 9.8 7.2 14.2 7.9 19 4.6 2.1 4.6 0.8 3.9 -0.3 4.6 -1.3 4.6 -2.3 4.6 -3.3 4.6 -4.2 4.6 -4.9 15.1 -19.2 5.9 -6.7 3.3 -2.9 3.3 -2.2 3.3 -1.4 2.6 -0.4 3.3 0.3 3.3 1.3 2.6 1.8 3.3 3.2 5.9 8.1 11.8 19.6 3.3 4.5 2.6 2.8 2.7 2.1 2.6 1.2 2.6 0.3 2.6 -0.5 2 -1.1 2.6 -2.2 4.6 -5.9 4 -7 9.8 -19.7 4.6 -7.4 4.6 -4.9 2.6 -1.4 2 -0.5 2.6 0.3 2.7 1.2 2.6 2.3 2.6 3.3 5.3 9.5 11.1 26.5 4.6 9.2 3.3 4.9 2.6 2.9 2.7 1.9 3.3 1 1.9 0 2.7 -0.8 4.6 -3.5 5.2 -6.7 10.5 -17.5 4.6 -6.4 2.6 -2.8 2.7 -2 2.6 -1.3 2.6 -0.6 4.6 0.3 4.6 1.8 5.3 3.3 11.1 8.4 5.9 3.9 6.6 3 5.9 1.2 6.6 -0.1 6.6 -1.4 6.5 -2.3 14.5 -6.1 7.8 -2.4 7.9 -1 7.3 0.8 5.2 1.7 5.9 3.1 15.8 11.5 5.2 3.2 5.9 2.5 5.3 0.9 3.9 -0.3 3.3 -0.8 3.3 -1.3 3.3 -2 5.9 -4.9 15.1 -15.3 5.3 -3.8 4.6 -2 5.9 -1.1 6.5 0.8 6.6 2.5 8.5 4.7"/><path d="M248.5 258.5l13.2 -7.4 3.2 -1.3 3.3 -0.5 3.3 0.1 3.3 0.8 13.1 5.2 4 0.4 3.3 -0.5 3.2 -1.5 3.3 -2.4 11.2 -11.2 3.3 -2.8 3.9 -2.1 3.3 -0.4 2.6 0.7 2 1.2 4.6 4.7 3.9 6 9.2 16.1 4.6 6.1 2.6 2.2 2 0.9 2 0.4 2 -0.4 2.6 -1.5 2 -2 4.5 -7.3 4 -9 9.2 -23.9 4.6 -9.2 2.6 -3.6 2 -1.9 1.9 -1.3 2.7 -0.7 1.9 0.3 2 0.9 2 1.5 2.6 2.9 4.6 7.5 9.9 20.7 3.9 7 4.6 5.5 2 1.4 2.6 1 2.6 0.1 3.3 -1.1 3.3 -2 10.5 -8.1 3.3 -1.6 3.3 -0.7 3.2 0.4 3.3 1.4 11.2 8.1 3.9 2.3 4 0.8 3.9 -0.8 3.3 -2.1 3.9 -4.3 11.9 -18.6 3.9 -5.3 2.6 -2.6 2 -1.3 2 -0.8 1.9 -0.3 2 0.4 2 0.9 1.9 1.6 2.7 2.8 3.9 5.9 8.5 15.8 4 6.5 3.9 4.6 4 2.6 1.9 0.4 2 -0.1 2 -0.7 2.6 -1.6 3.9 -3.8 8.6 -10.6 3.3 -3.5 3.9 -2.9 3.3 -1 3.3 0.4 3.3 1.7 3.2 2.7 11.2 11.4 3.9 2.3 3.3 0.4 2.7 -0.9 1.9 -1.4 2 -1.9 2.6 -3.6 4 -7.2 9.8 -20.9 4.6 -7.6 2.6 -3 2 -1.6 2 -1.1 2.6 -0.4 2.6 0.6 2 1.1 2.6 2.4 2.7 3.4 4.6 8.2 12.4 27.1 4.6 7.1 4 3.9 3.9 1.9 3.9 0.3 4 -0.8 9.2 -2.9 5.9 -0.4 4.6 1 10.5 4 4.6 0.5 2.6 -2.1 3.3 -5.5 3.3 -8.2 2.6 -8.5 4 -19 14.4 -83 3.3 -12.9 1.3 -2.5 1.3 -0.7 0.7 0.4 1.3 2.1 2 6.2 3.9 21 20.4 149.4 3.9 24.6 2.6 11.2 7.2 23 4 8.6 2 2.4 1.3 0.8 1.3 -0.2 2 -3.3 3.2 -12 9.2 -53.4 9.2 -49.4 3.3 -16.1 3.3 -12.9 2 -5.5 1.9 -4.1 5.9 -9.9 3.3 -4 2.7 -2.5 2.6 -1.7 2.6 -1 4.6 -0.5 4.6 1.1 3.9 2.8 3.3 3.8 4 7 4.6 6.1 3.9 7.5 3.9 9.7 9.2 26.1 5.3 11.9 2.6 4.3 3.3 3.9 3.3 2.3 3.3 0.9 3.3 -0.5 3.2 -1.8 3.3 -3.5 2.6 -4.1 2.7 -5.3 2.6 -6.7 10.5 -32.9 4.6 -11.8 2.6 -5.1 3.3 -4.4 3.3 -2.6 3.3 -1.1 2.6 0.1 3.3 1 11.8 6.8 5.3 1.8 2.6 0.3 3.3 -0.2 9.2 -2.3 3.9 -0.6 3.9 0.5 4 1.9 3.9 3.6 4 5.3 12.4 23.3 4 6.4 4.6 5.1 2.6 1.6 2 0.5 2 0 1.9 -0.5 4 -2.6 4.6 -5.2 10.5 -14.4 3.9 -3.6 3.3 -1.5 2 -0.2 2.6 0.6 2 1 2.6 2.1 3.9 4.3 9.2 12 5.3 5.2 4.6 2.5 2.6 0.7 2.6 0 4 -0.8 3.9 -1.6 13.8 -8.6 6.6 -3.1 5.9 -1.6 13.1 -1.5 5.9 -1.8 5.9 -3.4 11.2 -8.6 3.9 -2.7 4.6 -2.1 4.6 -0.9 3.3 0.1 3.3 1 3.3 1.8 2.6 2.2 5.3 6.3 9.2 14.7 4.5 6.2 2.7 2.6 2.6 2 2.6 1.3 2.7 0.7 2.6 0.2 2.6 -0.4 5.3 -2.3 4.6 -3.3 11.8 -10.4 3.9 -2.6 4 -1.6 3.2 -0.6 4 0 13.1 2.2 5.9 0.5 5.3 -0.4 9.8 -1.6"/><path d="M248.5 218.5l5.3 2.2 4.6 2.4 3.9 2.8 3.3 3 6.6 8.1 11.1 17.6 4.6 6.5 5.3 5.2 2.6 1.5 2 0.5 1.9 0.2 2.7 -0.6 2.6 -1.4 2.6 -2.2 5.3 -6.3 9.8 -15.3 4.6 -6.3 4.6 -4.4 4.6 -2.3 2.7 -0.4 3.2 0.6 2.7 1.1 3.2 2.1 5.3 4.8 13.8 14.8 4.6 4 3.9 2.8 4 2.2 3.9 1.5 3.9 0.9 4 0.2 3.9 -0.5 3.3 -0.9 6.6 -3.6 7.2 -6.4 13.1 -15 5.3 -5.1 3.3 -2.4 3.3 -1.7 2.6 -0.9 3.3 -0.3 2.6 0.2 3.3 1 5.9 3.1 32.8 25 16.4 13.2 6.6 3.6 2.6 0.7 2.7 0.2 3.2 -0.5 2.7 -1.2 2.6 -1.9 3.3 -3.3 5.2 -7.4 13.8 -23.8 4 -5 3.9 -3.4 4 -1.6 3.9 -0.2 4.6 1.3 11.2 4.9 3.2 0.5 3.3 -0.4 3.3 -1.4 3.3 -2.4 11.2 -11.2 3.9 -3.3 4.6 -2.3 3.9 -0.2 3.3 1.2 2.6 2 3.3 3.9 2.6 4.3 4.6 9.8 11.9 30.1 3.3 6.7 2.6 4.4 3.3 4.2 3.9 3.2 3.9 1.6 4 0.4 3.3 -0.5 3.9 -1.2 22.3 -9.2 5.9 -3 4.6 -3.3 4 -3.8 3.9 -4.9 4.6 -6.8 11.8 -19.3 12.5 -15.5 5.9 -5.3 9.9 -5.4 5.9 -5.6 2 -0.3 1.9 1.5 2.7 3.3 5.2 9.4 5.3 12.9 5.9 17.9 1.9 13.1 4 46.2 2 17.1 4.6 20.7 1.9 5.5 0.7 1 1.3 0.8 1.3 -0.2 2 -1.7 1.9 -3 2 -4.1 3.3 -8.5 8.5 -25.4 7.3 -17.8 12.4 -33.5 7.9 -16.8 4.6 -7.5 2 -1.8 2 -0.7 3.9 0.3 3.3 0.9 3.9 1.9 3.3 2.2 3.3 2.8 3.3 3.5 3.3 -2.1 3.9 -3.5 12.5 -14.3 4.6 -4.6 5.2 -3.8 5.3 -1.9 2.6 -0.3 3.3 0.4 5.9 2.1 7.2 4.9 7.2 6.7 6.6 7.6 5.9 8.5 5.3 8.9 11.1 20.7 5.3 8.1 3.3 4 3.3 3 3.2 2 4 1 3.9 -0.3 4 -2.1 3.2 -3.1 3.3 -4.9 2.7 -5.2 3.2 -8.2 11.2 -35.6 5.3 -13.6 3.2 -6 3.3 -4.1 3.3 -2.6 4 -1.3 3.9 0.2 4.6 1.6 15.7 9.1 14.5 6.2 5.9 3.3 4.6 3.5 4.6 4.6 15.1 18.7 6.6 6.7 3.9 3 4 2.1 3.9 1.4 4.6 1.1 9.2 0.9 11.1 0 7.3 -0.9 6.5 -1.8 5.3 -2.6 4.6 -3.2 14.4 -13.3 5.3 -4.1 5.9 -3.1 5.9 -1.3 5.9 0.5 5.9 2.1 5.3 2.7 13.8 8.5 7.9 3.7 7.8 2.5 9.2 1.7 9.9 0.5 8.5 -1 7.2 -2.2 14.5 -5.9 7.2 -1.6 4 -0.1 3.9 0.6 8.5 3.1"/><path d="M248.5 260.9l6.6 1.6 11.8 5.7 4.6 1.5 2.6 0.2 2.7 -0.5 2.6 -1.2 2 -1.6 2.6 -3 2 -2.9 3.9 -8 3.9 -10.3 8.6 -24.8 5.2 -11.7 3.3 -5 3.3 -3.2 3.3 -1.6 2 -0.2 1.9 0.2 3.3 1.8 3.3 3.5 2.6 4.5 2.6 6.1 4.6 14.9 9.2 36.1 2.7 8.3 2.6 6.4 3.3 5.8 3.3 3.4 3.2 1.5 2 0.1 2 -0.3 2.6 -1.3 3.3 -2.4 11.8 -12.9 5.3 -4.2 2.6 -1.2 2.6 -0.8 8.6 -0.3 3.2 -0.5 3.3 -1.4 3.3 -2.8 3.9 -5.6 3.3 -6.6 11.8 -32.2 4.6 -10 2.7 -4.1 3.3 -3.5 2.6 -1.7 3.3 -0.6 3.2 0.7 2.7 1.8 3.3 3.9 2.6 4.7 4.6 11.7 9.8 34.1 4.6 13.1 2.7 5.5 2.6 4 2.6 2.7 3.3 1.8 3.3 0.3 3.3 -0.7 11.8 -6.2 4.6 -1.7 4.6 -0.5 8.5 0.6 4 -0.2 3.9 -1.4 3.3 -2.4 3.9 -5 4 -7.3 3.9 -9.6 8.5 -23.3 4.6 -10.1 2.7 -4.3 2.6 -3.1 2.6 -2.1 3.3 -1.1 3.3 0.5 2.6 1.5 3.3 3.5 2.6 4.1 5.3 12.1 9.8 29.8 4 10.1 4.6 8.4 2.6 3.1 2.6 1.8 2.6 0.7 2.7 -0.3 2.6 -1.3 3.3 -2.9 5.2 -7.1 11.2 -19.8 4.6 -7 3.3 -3.8 2.6 -2.1 2.6 -1.4 2.7 -0.6 2.6 0.2 2.6 0.9 2.6 1.6 3.3 2.9 4.6 5.3 11.8 16 5.9 6.2 3.3 2.3 2.7 1.1 2.6 0.6 2.6 -0.1 4.6 -1.6 5.3 -4 5.2 -5.9 12.5 -16.8 5.9 -6.9 5.9 -5.3 9.2 -6 5.9 -5.7 2 -6.1 7.9 -35.4 1.3 -3.7 0.6 -0.7 1.4 1 1.9 3.1 4 11.3 3.9 16.3 4.6 23.5 3.9 22.4 1.4 10.6 5.9 67.3 2.6 24.1 6.6 32.9 2.6 9 1.3 2.9 1.3 1.7 0.7 0 1.3 -2.4 2 -8.4 6.5 -45 10.5 -63 13.2 -64.9 3.9 -15.8 3.3 -9.4 3.3 -5.8 1.3 -1.3 2 -1.1 1.3 -0.1 1.9 0.7 2 1.8 2 2.8 4.6 10.1 5.9 19.1 5.2 7.8 4.6 4.8 4 1.9 3.9 -0.2 3.3 -1.4 8.5 -5.3 4 -1.2 1.9 0.1 2 0.6 2 1.2 2 1.9 2.6 3.5 3.3 6 11.1 26.9 4.6 9.2 2.7 3.8 2.6 2.7 2.6 1.7 2.6 0.6 2.7 -0.3 2.6 -1.3 2.6 -2.2 3.3 -4.2 4.6 -8.2 11.8 -25.3 4 -6.5 3.9 -4.5 3.3 -2.5 3.3 -1.5 11.8 -2.1 5.2 -1.8 4.6 -2.5 10.5 -7.3 3.3 -1.6 2.7 -0.7 3.2 0.1 3.3 1.2 3.3 2.7 3.3 4.2 2.6 4.5 3.3 7.1 10.5 27.5 5.3 11.6 2.6 4.4 3.3 3.9 3.3 2.4 3.2 0.9 2 -0.2 2.6 -0.8 4.6 -3.4 4.6 -5.2 10.5 -15.1 4.6 -5.7 5.3 -4.4 2.6 -1.4 3.3 -1.1 3.9 -0.4 4 0.4 19 5.1 4.6 0.7 4.6 0.2 4.6 -0.4 4.6 -1 19.1 -6.1 5.2 -0.7 4.6 0.3 4.6 1.2 5.3 2.7 14.4 10.9 5.3 3.3 5.2 2 5.9 0.6 5.9 -1 13.8 -5.2 6.6 -1.4 6.6 0.1 13.8 2.6 3.9 0 3.3 -0.7 3.9 -1.7 4 -2.7 13.1 -13 5.9 -4.6 3.3 -1.5 3.3 -0.8 3.3 -0.1 3.2 0.6"/><path d="M248.5 292.4l2.7 -2.9 1.9 -3 4 -8 11.1 -31.7 4 -9.5 2.6 -4.7 2 -2.6 1.9 -1.7 2.7 -1.2 3.2 0.4 4 2.9 3.9 5 8.6 14 3.9 5.6 2.6 2.7 2 1.5 2 0.9 1.9 0.3 2 -0.3 2 -0.9 2 -1.5 2.6 -2.7 3.9 -5.5 8.6 -13.6 4.6 -5.6 2.6 -2.1 1.9 -0.9 2.7 -0.3 1.9 0.6 2 1.1 2 1.8 3.9 5.4 3.3 5.9 8.5 17.7 4.6 7.5 2.7 2.9 2.6 1.7 2.6 0.3 2 -0.6 2.6 -2.1 2 -2.7 3.9 -7.9 4 -11.3 8.5 -28.8 5.3 -13.5 2.6 -4.7 3.3 -4 3.3 -2.3 3.9 -0.9 3.3 0.8 3.3 2.4 3.2 4.2 2.7 5.1 2.6 7 2.6 8.9 9.9 42.5 4.6 15.9 2.6 6.5 3.3 5.8 3.3 3.7 3.9 2.2 3.3 0.6 3.3 -0.5 3.3 -1.4 3.9 -3 5.9 -6.7 12.5 -18.6 6.6 -7.9 5.9 -4.9 12.4 -6.8 6 -4.4 7.2 -7.9 12.5 -17.6 5.9 -7.1 3.3 -3 3.2 -2.1 3.3 -1.3 2.6 -0.4 4 0.4 3.9 1.8 4 3.2 3.2 3.8 6.6 10.6 11.2 22.5 4.6 8.2 5.2 7.1 2.7 2.5 2.6 1.8 3.3 1.2 3.3 0.2 3.2 -0.7 3.3 -1.7 3.3 -2.5 3.9 -3.9 13.8 -16.8 5.9 -5.9 3.3 -2.4 3.3 -1.6 3.3 -0.7 3.3 0.3 3.3 1.2 2.6 1.7 3.3 3 3.3 3.9 5.2 8 13.1 22.7 4 5.6 3.3 3.8 3.9 3.4 3.9 2.1 4 0.8 3.3 -0.4 4.6 -2.2 3.3 -3.3 3.9 -7.3 3.9 -10.1 4.6 -17.2 7.3 -34.8 8.5 -37.7 3.3 -9.8 1.9 -3 1.4 -0.4 1.3 0.6 1.9 2.6 2 4.4 2 5.9 3.3 12.1 9.2 37.8 7.2 24.6 2.6 7.7 4.6 8.5 5.3 7.2 3.9 2.9 4.6 1.4 6.6 0.4 9.8 -0.9 4 -1.8 3.9 -3.9 3.9 -5.9 4.6 -9.6 12.5 -33.8 4 -9.1 2.6 -4.6 2.6 -3.2 2.6 -2 2.7 -0.7 2.6 0.5 2.6 1.9 2.6 3.2 2 3.4 7.9 18.4 10.5 27.4 3.9 8.4 3.3 5.4 4 4.6 4.6 2.9 4.6 0.8 4.6 -1.2 4.6 -2.8 4.5 -4.4 14.5 -18.6 5.9 -6.6 5.3 -4.7 11.1 -8.8 5.3 -5.3 6.5 -8.4 11.9 -18 5.2 -6.6 3.3 -3 3.3 -2.2 3.3 -1.3 2.6 -0.3 3.9 0.6 4 2.2 3.3 3.3 3.2 4.8 2.7 5 3.3 7.8 10.5 30.8 4.6 11.4 2.6 5 2.6 3.7 2.6 2.6 3.3 1.7 3.3 0 3.9 -1.8 4 -3.4 8.5 -9.8 3.3 -3.2 3.9 -2.4 3.3 -0.6 3.3 1 4 3.1 3.2 3.8 9.9 13.4 5.2 5.1 3.3 1.8 3.3 0.8 3.3 0 3.3 -0.9 3.3 -1.7 2.6 -2 5.2 -6 4.6 -7.6 9.2 -18.3 5.3 -7.9 2.6 -2.6 2.6 -1.9 2.7 -1.2 3.3 -0.5 3.2 0.3 2.7 0.9 2.6 1.5 2.6 2.1 5.3 6.1 8.5 13 3.9 5.3 4.6 4.2 4 1.7 2 0.3 2.6 -0.3 2.6 -1.1 2.6 -1.8 5.3 -5.6 9.8 -14 4.6 -5.3 2.7 -2.3 3.2 -2 3.3 -1.2 3.3 -0.4 3.3 0.3 2.6 0.9 3.3 1.7 2.6 2 5.3 5.5 13.1 16.5 4.6 4.1 4.6 2.7 4.6 1.2 5.3 0.1 4.6 -0.7 13.1 -3.2 4.6 -0.5 3.9 0.1"/><path d="M248.5 239.1l8.6 -8.3 4.6 -3.3 2.6 -1 2 -0.3 2.6 0.5 2 1 3.9 3.7 3.9 5.7 11.9 23.5 5.2 8.6 2.6 3.1 2.7 2.2 2.6 1.3 2.6 0.4 2 -0.1 2.6 -0.9 4.6 -3.1 4 -3.7 11.1 -12.4 6.6 -5.5 4.6 -2.8 10.5 -5.2 4.6 -2.9 5.2 -4 9.9 -8.8 4.6 -3.4 3.9 -1.9 4 -0.7 2.6 0.2 2.6 0.8 2.6 1.5 3.3 2.7 5.3 5.9 13.1 17.3 4.6 4.6 4.6 3 4 1.6 3.9 0.7 15.1 0.6 17.1 2 5.9 -0.7 5.9 -2.4 5.2 -3.6 11.9 -9.5 3.9 -2.4 3.3 -1.4 3.3 -0.7 3.9 -0.1 13.8 1.9 3.3 -0.4 3.3 -1.1 3.3 -1.9 3.2 -2.7 10.5 -11.3 4 -3.5 4.6 -2.4 2.6 -0.3 2 0.4 2.6 1.3 2.6 2.4 4.6 6.7 4.6 9.6 9.2 22.5 4.6 8.9 2.6 3.7 2 2.1 2.6 1.7 2.7 0.7 1.9 -0.2 2 -0.7 2 -1.3 2.6 -2.6 4.6 -6.4 9.9 -17.5 3.9 -6 4.6 -4.8 2 -1.3 2.6 -1 2.6 -0.2 3.3 0.7 13.1 6.4 3.3 0.8 3.3 0.2 3.3 -0.6 3.3 -1.3 9.8 -5.7 4 -1.9 3.9 -0.9 3.9 0.2 3.3 1.2 4 2.6 11.8 11 3.9 3 4.6 2 4.6 0.1 3.3 -1.1 3.3 -2 11.1 -9.6 4 -2.8 4.6 -1.7 5.9 -0.1 2.6 -0.7 4 -2.8 2.6 -3.1 1.3 -5.2 1.3 -8.4 9.9 -80.5 1.9 -10.4 0.7 -1.2 0.7 0.1 0.6 1.3 1.3 5.9 2.6 21.8 6.6 78.7 7.2 77.1 2.7 23.6 2.6 14.4 3.9 16.7 2.7 7.2 1.3 1.7 0.6 0.3 0.7 -0.2 1.3 -1.5 2.6 -7.1 2.7 -11.1 8.5 -42.1 11.2 -39.9 4.6 -14.8 9.1 -25.3 4 -9 3.3 -4.8 3.9 -4.6 2.6 -2.3 2.7 -1.3 2.6 -0.1 2.6 1.2 2 1.9 2.6 4.1 0.7 0.4 4.6 -1.1 5.2 0.2 5.9 1.7 6.6 3.1 6.6 4.2 6.5 5 18.4 16.9 5.9 4.8 6.6 3.8 3.3 1.1 3.3 0.5 5.9 -0.6 5.9 -2.3 21 -13.4 22.3 -11.2 17.8 -11.7 5.2 -2.4 4.6 -0.9 3.3 0.3 2.6 0.9 2.7 1.3 3.2 2.5 5.9 6.2 13.8 17.5 4.6 4.3 4 2.3 3.9 1.2 4.6 0 4 -0.9 11.1 -3.7 4 -0.5 3.2 0 3.3 0.7 4 1.4 15.1 7.6 3.9 1.3 3.3 0.6 5.9 -0.2 6.6 -2.3 6.5 -4.3 12.5 -10.5 5.9 -4.3 6.6 -3.1 6.6 -1.3 6.5 0.5 6.6 1.9 7.2 3.4 15.1 8.8 7.9 4 8.5 3.2 8.6 1.6 7.2 0.1 7.9 -1.3 6.5 -2.1 15.8 -6.1 9.2 -2.1 4.6 -0.3 4.6 0.3 19 3.2 4.6 0 4.6 -0.6"/><path d="M248.5 255.2l4 -1.2 3.9 -2.6 3.9 -3.8 12.5 -13.8 4 -2.9 3.9 -1.6 2.6 -0.1 2 0.3 2.6 1.2 2.7 1.8 4.6 4.5 9.1 11.6 4 4.3 4.6 3.5 3.9 1.2 4 -0.5 3.9 -2.2 3.9 -3.5 9.2 -10.5 4 -3.9 4.6 -2.8 3.9 -0.7 2 0.3 2.6 1.1 4.6 3.8 4 4.7 9.1 12.7 5.3 5.7 4.6 2.8 3.9 0.5 4 -1.3 3.9 -2.8 4 -4.1 11.1 -13.6 4 -3.5 3.2 -1.8 4 -0.7 4.6 1 4.6 2.8 11.8 9 3.9 1.7 4 0.4 3.9 -1.2 4 -2.5 11.8 -12.1 3.9 -3.3 4 -2.1 3.2 -0.5 2.7 0.6 1.9 0.9 4.6 4 4.6 6.1 9.2 14.3 4.6 5.5 4 2.8 1.9 0.7 2 0 2 -0.5 2.6 -1.6 4.6 -5 3.9 -6.2 8.6 -15.5 4.6 -6.6 3.9 -3.5 2 -0.8 2 -0.3 1.9 0.4 2.7 1.5 1.9 1.9 2.7 3.4 3.9 6.7 9.2 18.5 4.6 7.2 3.9 3.7 2 0.9 2 0.1 2.6 -0.8 2 -1.4 1.9 -2.2 2.7 -3.9 3.9 -7.7 9.2 -21.4 4.6 -8.3 2.6 -3.2 2 -1.6 2 -0.8 1.9 -0.2 2.7 1.1 2.6 2.4 1.9 2.7 2.7 4.9 3.9 9.6 9.2 26.7 5.3 11.7 2.6 3.9 2.6 2.7 2.6 1.4 2.7 0.3 2.6 -1 2.6 -2.1 2.7 -3.4 1.9 -3.4 4.6 -10.7 9.2 -27.5 4 -10.4 4.5 -8.8 2 -2.6 2.6 -2.4 2.7 -1.3 3.3 -0.3 2.6 0.8 3.3 2.3 2.6 2.6 3.3 4.3 11.1 17.8 4.6 6.3 5.3 4.8 2.6 1.4 3.3 0.9 1.3 -0.8 3.3 -3.5 5.9 -8.1 13.8 -22 9.2 -19.5 2 -2.3 1.9 -0.5 1.3 1.8 1.4 3.6 3.9 18.8 5.9 34.6 7.2 55.4 3.3 19.5 4.6 16.3 3.3 9.6 2.6 5.5 1.3 1.7 1.4 0.8 1.3 -0.5 1.3 -2.1 3.3 -10.2 7.8 -36.2 4.6 -17.7 7.9 -34.6 3.3 -11.6 10.5 -24.4 5.3 -10.8 3.3 -5.1 2.6 -3.2 2.6 -2.2 2.6 -1.2 2.7 -0.1 2.6 1.1 2.6 2.2 2 2.5 4.6 6.8 2.6 4.7 11.2 25.1 3.9 7.7 2.6 4 2.7 2.9 2.6 1.8 2 0.6 2.6 -0.2 2 -0.9 2.6 -2.3 2.6 -3.4 5.3 -9.9 9.8 -24.1 4.6 -9.3 2.6 -4.1 2.7 -3 2.6 -1.9 3.3 -1 1.9 0.2 2.7 1.1 2.6 2 2.6 3.1 5.3 8.8 11.1 24.3 5.3 9.6 2.6 3.6 3.3 3.4 3.3 2.2 3.3 1 3.9 -0.1 4 -1.1 14.4 -7.9 7.2 -2.5 6.6 -0.7 15.1 0.6 3.9 -0.5 4 -1.2 4.6 -2.2 4.6 -3 15.7 -13.2 7.3 -5.1 7.8 -3.6 4 -1 4.6 -0.5 5.9 0.4 5.9 1.4 5.9 2.4 5.9 3.7 4.6 3.8 4.6 4.9 13.8 18.3 5.3 6 3.2 2.9 3.3 2.2 3.3 1.4 3.3 0.8 3.9 0.1 3.3 -0.6 4 -1.5 3.2 -2 6 -5.4 11.1 -13.7 4.6 -4.7 5.3 -3.7 5.2 -1.7 4 0 4.6 1.2 4.6 2 12.4 6.9 4 1.5 3.9 0.9 4 0.1 3.9 -0.5 16.4 -5 4.6 -0.8 3.9 -0.1 4 0.4 4.6 1.2 14.4 6.2 6.6 2 6.6 0.4 6.5 -1.6"/><path d="M248.5 264.9l3.3 3.7 3.3 2.6 3.3 1.7 3.3 0.8 3.2 0 3.3 -0.7 13.2 -4.9 5.9 -1.2 3.3 0.2 3.2 0.6 9.9 3.4 3.9 1 4 0 3.3 -1.1 2.6 -1.7 2.6 -2.6 2.6 -3.5 2.7 -4.5 3.9 -8.2 9.9 -23.7 3.2 -6.6 2.7 -4.3 2.6 -3.4 3.3 -2.8 2.6 -1.2 3.3 -0.3 3.9 1.4 4.6 3.7 4 4.6 9.8 13.1 3.3 3.5 3.3 2.5 3.3 1.4 3.2 0.4 9.9 -1.3 3.3 0.1 3.3 1 3.2 2.3 3.3 3.8 3.3 5.2 11.8 24.8 4.6 7.9 2.7 3.3 2.6 2.3 3.3 1.7 2.6 0.2 2.6 -0.7 2.6 -1.7 2.7 -2.8 2.6 -4 5.3 -11.2 9.2 -25.5 4.5 -10.9 2.7 -4.8 2.6 -3.6 2.6 -2.5 3.3 -1.7 3.3 -0.3 3.3 0.8 3.3 1.5 9.2 5.5 5.9 2 5.9 0.1 9.8 -2.4 4 -0.5 3.9 0.4 3.3 1.4 3.9 3 4.6 5.4 4 6 9.8 17 5.3 7.3 3.3 3.3 2.6 1.9 2.6 1.1 3.3 0.5 2.6 -0.3 2.6 -1 5.3 -3.6 5.3 -5.4 14.4 -16.9 4.6 -4.1 4.6 -2.9 5.3 -1.9 5.9 -0.5 5.9 1.1 15.1 4.9 4.6 0.3 3.9 -0.7 4 -2 4.6 -3.7 12.4 -14.8 4.6 -4.6 4 -2.4 3.9 -0.7 3.3 1.2 2.6 2.1 3.3 4.6 2.6 5.2 4.6 12.4 9.9 31.9 2.6 6.8 2.6 5.4 2.7 4 2.6 2.6 2.6 1.3 2.6 0.2 2.7 -0.9 1.9 -1.4 4 -4.8 3.9 -7.7 4 -10.5 3.2 -12 7.9 -32.9 4.6 -20.1 4 -20 1.3 -3 0.6 0 1.3 1.1 2 3.9 2 6 2.6 10.3 8.5 40.8 6.6 41.3 2.6 12.5 3.3 9.5 2.6 6.3 2.7 4.1 1.9 1.2 1.4 -0.6 1.3 -1.7 2.6 -6.1 8.5 -30.3 9.9 -30.8 3.9 -10.9 5.3 -11.3 3.3 -5.7 2.6 -3.1 1.3 -0.8 1.3 -0.3 2.6 0.1 2.7 0.8 2.6 1.6 2.6 2.5 2.7 3.4 2.6 4.4 5.2 12 15.8 22.1 3.9 4.7 4 3.6 3.3 2 3.2 1 3.3 -0.2 3.3 -1.5 3.3 -3 2.6 -3.5 2.6 -4.6 3.3 -7.1 10.5 -28.1 4.6 -10.2 2.7 -4.3 2.6 -3.2 2.6 -1.9 3.3 -0.9 2 0.4 1.9 0.9 4 3.5 4.6 6.5 8.5 15.4 4 6.2 3.9 4.2 2 1.3 1.9 0.7 2 0 2 -0.5 1.9 -1.1 2.7 -2.3 3.9 -4.7 9.2 -12.7 5.3 -5.2 2.6 -1.5 2.6 -0.7 2.6 0.2 2.7 1.1 3.9 3.1 3.9 4.8 14.5 23.8 5.9 8 3.3 3.3 3.3 2.5 3.3 1.7 3.9 1 3.3 0.2 3.9 -0.6 3.3 -1.2 3.9 -2 7.3 -5.5 13.1 -13.1 4.6 -4 5.9 -3.4 5.3 -1 4.6 0.6 4.6 1.9 13.7 9.4 4.6 2.6 4.6 1.6 4 0.4 4.6 -0.7 4.6 -1.9 14.4 -9.6 5.3 -2.7 5.9 -1.6 3.3 -0.1 3.3 0.4 3.9 1.1 3.9 1.7 18.4 10.4 13.8 6.3 14.5 5.6 4.6 1.1 4.6 0.4 5.9 -0.8 5.9 -2.9 5.9 -5.1 9.8 -11.2 4.6 -4.4 5.3 -3.1 2.6 -0.7 2.6 -0.1 4 1.2 4.6 3.2 3.9 4 9.2 11.3 4 3.7 3.9 2.3 3.9 0.7"/><path d="M248.5 260.5l16.4 -20.5 5.3 -4.8 4.6 -2.7 4.6 -1.1 4.6 0.3 4.6 1.3 13.1 5.3 4 0.7 3.9 0 3.9 -1 4 -1.8 11.8 -7.9 4.6 -2.5 3.9 -1.1 4 0.1 3.3 1.4 3.2 2.7 2.7 3.1 3.3 5.2 5.2 10.9 11.2 27.3 3.9 7.8 3.3 5.1 3.9 4.3 4 2.6 3.9 0.9 4 -0.6 3.9 -2.3 3.3 -3.5 3.3 -5.3 2.6 -5.6 5.2 -15.2 11.2 -39.6 3.3 -9.3 3.3 -7.1 3.9 -6.1 4 -3.8 3.9 -1.9 4.6 -0.5 3.9 1 4 2.3 3.9 3.7 3.3 4.2 6.6 11.4 11.1 24.3 5.3 10.3 5.2 8.2 5.9 6.7 4.6 3.8 4.6 2.9 6.6 3.2 9.2 3.7 6.6 2.4 5.2 1.3 4.6 0.5 4 -0.4 4.6 -1.5 4.6 -3.3 3.9 -4.6 3.9 -6.5 5.9 -13.5 13.2 -37.6 3.3 -7.4 3.2 -6 3.3 -4.4 4 -3.5 3.9 -1.8 4 -0.4 3.9 1 3.9 2.6 4 4.6 3.3 5.6 2.6 5.7 3.3 8.8 11.8 36.4 3.3 8 2.6 5.1 3.3 4.7 3.3 2.9 3.3 1.5 3.9 0.1 3.3 -1.3 3.9 -2.8 15.1 -16.2 4 -3 3.2 -1.5 4 -0.4 3.9 1 4 2.2 9.8 6.7 5.3 2.1 3.3 0.1 2.6 -0.8 2.6 -1.7 2.6 -2.5 3.3 -4.6 3.3 -6 10.5 -23.8 3.3 -6.7 13.8 -20.4 2 -7.2 7.2 -36.6 1.3 -4 0.6 -0.3 1.4 2.1 1.9 4.9 3.3 11.9 13.8 68 13.8 54.6 2.6 7.4 4.6 8 4 5 1.9 1.5 1.3 0.5 2 -0.1 2 -1.4 1.3 -2.3 1.3 -3.8 2.6 -11.3 5.9 -30.8 5.3 -21.8 4.6 -15.8 2 -4.7 1.9 -3 2.7 -1.9 2.6 -0.4 2.6 1.4 2 2.2 3.9 7.6 10.5 27.7 7.3 15.5 3.9 6.9 2.6 0.8 3.3 -0.3 3.3 -1.7 3.3 -3.2 3.3 -4.9 2.6 -5.3 4.6 -11.7 11.1 -34.2 3.3 -8.3 2.7 -5.4 3.2 -5.2 3.3 -3.7 3.3 -2.4 4 -1.4 3.2 -0.1 3.3 0.6 3.3 1.2 3.9 2.2 27.6 20 6.6 5.8 5.2 6.5 5.3 8.9 4.6 9.6 9.8 22.8 6 11 3.2 4.4 4 3.9 3.9 2.5 4.6 1.2 2.6 0.1 2.7 -0.5 2.6 -1.1 2 -1.3 3.9 -4.5 3.3 -6.3 3.3 -9.4 2.6 -10.2 9.2 -46.1 3.9 -15.4 2.7 -7 2.6 -4.7 3.3 -3.5 3.3 -1.5 2.6 -0.3 2.6 0.3 2.6 0.9 3.3 1.7 5.3 4.3 4.6 5.8 3.9 7.3 3.3 8.1 11.2 36.8 4.6 12.1 2.6 4.8 3.3 4.1 3.3 2.4 3.9 1.4 5.9 0 7.2 -1.9 20.4 -9.3 15.1 -5.8 5.9 -2.7 5.3 -3.3 4.5 -3.8 13.2 -13.5 5.2 -4.8 5.3 -3.4 5.9 -2.2 4.6 -0.5 4.6 0.6 4.6 1.8 3.9 2.8 3.3 3.4 3.3 4.5 11.2 19.1 5.2 7.3 3.3 3.2 3.3 2.2 3.3 1.4 3.3 0.6 3.2 -0.1 3.3 -0.7 3.3 -1.5 3.3 -2.2 5.9 -5.9 11.2 -14.8 5.2 -5.9 2.6 -2.2 3.3 -2.1 2.7 -1.1 3.2 -0.8"/><path d="M248.5 244.5l9.9 18.4 4.6 7 2.6 2.8 2.6 2 2.7 0.9 2.6 -0.1 2 -0.7 2.6 -1.9 4.6 -5.7 3.9 -6.8 9.2 -18.1 5.3 -7.8 2.6 -2.7 2.6 -1.6 2.6 -0.8 2.7 0.1 3.3 1.2 3.9 2.8 12.5 12.1 5.9 5.1 15.1 10 10.5 7.6 6.6 3.5 3.2 0.8 2.7 -0.2 3.3 -1.3 2.6 -2 2.6 -3 2.6 -4 4.6 -9.3 9.9 -23.5 5.2 -9.6 2.7 -3.1 1.9 -1.7 2.7 -1.2 2.6 -0.2 3.3 1.3 3.3 2.8 3.9 5 10.5 16 3.9 3.9 3.3 1.4 3.3 -0.3 3.3 -2 3.3 -3.2 7.9 -9.3 3.9 -3.3 2 -0.9 1.9 -0.3 2 0.4 2 1.1 3.3 3.6 3.9 7.1 3.3 8 7.9 21.7 4.6 10.2 2.6 4.1 2.6 2.8 2.6 1.6 2.7 0.5 1.9 -0.4 2 -1 2 -1.7 2.6 -3.1 3.9 -6.3 10.6 -20.5 3.2 -4.7 2.7 -2.6 3.2 -1.6 3.3 0.2 4 1.9 7.9 6.4 3.9 2.5 3.9 0.7 3.3 -1 3.3 -2.6 3.9 -5.2 10.5 -19.1 4 -6.2 3.9 -4.3 4 -2.3 2.6 -0.3 2.6 0.6 2.7 1.4 2.6 2.2 5.2 6.5 12.5 18.7 3.9 4.5 4 3.3 5.2 3.1 11.2 4.6 11.2 5.4 3.3 1.1 3.2 0.5 2.7 -0.3 2.6 -1 2.6 -1.9 2.6 -2.8 5.3 -8.3 9.8 -20.8 4 -7.1 2.6 -3.6 2 -2 2.6 -1.5 2 -0.3 2.6 0.7 2 1.5 3.9 5.2 4.6 9.9 7.9 21.7 3.9 9.6 2.7 4.2 1.3 0.9 1.3 0 1.3 -0.5 1.3 -1.3 2.6 -4 2.7 -6 1.9 -6.9 3.3 -15.1 5.9 -32.1 7.9 -49.4 2.6 -9.5 0.7 -1.1 1.3 -0.8 0.7 0.2 1.3 1.2 2.6 5.7 2.6 9.5 2.7 12.4 13.8 80.2 7.2 51.1 3.3 18.6 2.6 8.4 3.9 9.8 2.7 4.5 1.3 1.2 1.3 0.6 2 -0.7 1.3 -1.6 3.3 -8.1 3.2 -12.4 9.2 -40 2.7 -8.5 4.6 -10.2 3.2 -5.5 4 -4.9 3.9 -3.4 6.6 -4.5 3.3 -3.5 3.3 -4.7 7.2 -12.1 3.3 -4.6 3.9 -3.8 2 -1.2 1.9 -0.7 2 0 1.3 0.5 3.3 2.7 3.3 5.2 3.9 8.8 4 3 8.5 8.5 3.9 3.3 4 2.3 3.9 0.9 4 -0.5 3.9 -1.7 13.8 -9.9 5.9 -3.2 4.6 -1.4 10.5 -1.8 4.6 -1.3 4.6 -2 9.9 -5.4 3.2 -1.3 3.3 -0.6 3.3 0.5 2.6 1.3 2 1.5 4.6 5.5 3.9 6.5 8.6 16.3 4.6 7.1 3.9 3.9 2 1.1 2 0.4 2.6 -0.4 2.6 -1.7 2.6 -2.8 2.7 -4.1 3.9 -8 9.9 -23.9 4.6 -8.4 1.9 -2.6 2.7 -2.4 1.9 -1.1 2.6 -0.6 3.3 0.6 3.3 1.8 11.8 10 5.3 3.1 5.2 1.3 11.2 0.3 3.3 1 3.3 2 3.3 3 3.9 5.1 11.2 19.8 3.9 5.9 4.6 4.7 2.6 1.6 2.7 0.9 3.2 0.3 4 -0.8 3.3 -1.5 3.2 -2.5 5.3 -6.1 11.2 -16.6 3.9 -4 3.3 -2.1 3.9 -0.9 4 0.6 3.9 1.8 11.2 6.7 3.9 1.2 3.3 0.2 3.3 -0.8 3.9 -1.9 11.2 -8.4 4.6 -2.9 3.9 -1.6 4.6 -0.7 3.3 0.2 3.9 0.8 12.5 4.7 4.6 1.3 5.3 0.8 10.5 0.7 5.9 1.5 3.9 2 3.3 2.4 13.1 13.1 5.3 4 3.3 1.5 3.3 0.7 3.3 -0.2 3.2 -1"/><path d="M248.5 229.4l4.6 4.6 4.6 7.1 4 8 9.8 22.2 5.9 10.6 2.6 3.5 3.3 3.3 3.3 2 3.3 0.8 3.9 -0.5 3.3 -1.7 3.3 -3.2 3.3 -4.7 2.6 -5 3.3 -7.8 12.5 -37.5 5.2 -12.7 3.3 -5.8 4 -4.8 3.9 -2.7 3.9 -1 2.7 0.2 3.2 1.1 2.7 1.6 3.3 2.7 5.9 6.7 13.1 17.7 3.9 4.3 4 3.4 6.5 3.7 13.2 4.2 6.6 3.1 6.5 4.6 14.5 12.4 3.9 2.5 3.9 1.5 4 0.4 3.3 -0.7 3.3 -1.6 3.9 -3.3 3.3 -3.7 3.3 -4.5 10.5 -17.2 4.6 -6.6 4.6 -4.9 4.6 -2.8 2.6 -0.5 2.6 0.2 2.6 0.9 3.3 2.1 5.3 5.4 11.1 14.7 4.6 5.2 5.3 4 2.6 1 2.6 0.4 2.7 -0.3 2.6 -0.9 5.3 -3.7 5.2 -5.5 11.2 -13.4 6.5 -6.2 3.3 -2.1 3.3 -1.4 3.3 -0.8 3.3 -0.2 6.5 0.9 17.1 5 16.4 2.9 4 1.3 3.9 1.9 4.6 3.1 5.3 5.1 15.1 19.3 5.2 5.7 3.3 2.7 2.6 1.6 3.3 1.1 2.6 0.2 3.3 -0.6 2.7 -1.3 2.6 -2 3.3 -3.4 5.9 -8.8 11.1 -21.2 5.3 -8.6 5.2 -6 2.7 -1.9 2.6 -1 2.6 -0.2 2.7 0.5 2.6 1.2 3.3 2.5 5.2 5.9 11.8 15.7 3.3 3.4 2.6 2.1 3.3 1.6 3.3 0.5 3.3 -0.5 3.9 -1.9 2 -1.6 2.6 -3.3 6.6 -11.3 6.6 -16 4.6 -13.7 1.3 -2 0.6 -0.3 0.7 0.3 1.3 1.5 2.6 7.1 2.7 10.8 3.2 16.6 2 17.9 4.6 57.5 2 18.4 3.3 17.4 2.6 11.4 2 5.7 1.3 2.1 0.6 0.4 0.7 -0.1 1.3 -1.9 2.6 -9 9.2 -52.2 9.2 -41 4 -14.9 2.6 -7 9.8 -19.6 4.6 -6.4 2 -1.7 2 -0.9 2.6 0 2.6 1.2 2.7 2.5 2.6 3.8 2.6 5 3.3 7.8 5.9 17.7 5.3 6.1 4.6 4.3 4.5 2.8 4 1 3.3 -0.4 3.3 -1.5 3.2 -2.7 3.3 -4 3.3 -5.4 3.3 -6.6 12.5 -30.8 5.9 -11.8 3.3 -4.8 3.9 -4 3.3 -2 3.9 -0.9 3.3 0.3 3.3 1.3 3.3 2.4 3.9 4 5.9 8.2 13.2 21.8 3.9 5.4 3.3 3.7 3.3 3 3.9 2.5 3.9 1.5 4 0.8 7.2 0 30.9 -2.7 9.2 -2.4 16.4 -6.6 4.6 -1 3.9 0 5.3 1.5 5.2 3.1 4.6 3.9 10.5 10.2 5.3 3.9 5.2 2.2 2.7 0.3 2.6 -0.1 2.6 -0.7 3.3 -1.5 5.9 -4.6 5.3 -6 11.8 -15.9 5.9 -6.2 3.3 -2.4 3.3 -1.7 3.3 -1 3.9 -0.5 3.9 0.3 3.3 0.8 3.3 1.4 3.3 2 6.6 6.1 12.4 15.8 5.9 6.3 3.3 2.6 4 2.3 3.9 1.4 3.9 0.7 5.3 0 5.9 -0.8 38.1 -8.8 9.9 -4 19 -10.7 7.9 -2.8 5.2 -0.5 4.6 0.4 5.3 1.5 5.2 2.5"/><path d="M248.5 259.4l2 1.9 2 0.9 1.9 -0.1 2 -0.9 2 -1.6 2.6 -3.2 7.9 -12.3 3.9 -4.9 2 -1.6 2 -0.9 1.9 -0.1 1.3 0.4 3.3 2.7 4 6.3 3.3 7.3 7.8 19.8 5.3 10.2 2.6 3.4 2.6 2.4 2.7 1.2 2.6 0.2 2.6 -0.8 2 -1.3 2.6 -2.7 2 -2.7 4.6 -8.7 9.8 -24.4 4.6 -9.6 4.6 -6.5 2.7 -2.2 2.6 -1.3 2.6 -0.3 3.3 0.4 9.2 3.6 3.3 0.9 2.6 0.2 2.6 -0.3 3.3 -1.1 3.3 -2 11.2 -9.3 4.6 -3 4.6 -1.5 4.6 0.4 4.5 2.3 4.6 4.2 4.6 5.8 13.8 19.8 4.6 5.1 4.6 3.7 5.9 3.2 7.3 2 11.8 1.4 9.8 0.1 7.3 -1.1 7.2 -2.3 32.2 -15 5.2 -3.4 4.6 -3.9 13.8 -15 4.6 -4.4 5.3 -3.3 2.6 -0.8 1.9 -0.2 3.3 0.7 2.7 1.4 2.6 2.3 2.6 3 4.6 7.1 12.5 23 3.9 5.3 4 3.3 3.9 1.2 3.9 -0.7 4.6 -2.8 7.9 -6.9 3.3 -2.3 3.9 -1.6 3.3 0.1 3.3 1.5 3.3 2.8 10.5 13.4 3.9 4.2 4 2.5 3.3 0.3 2.6 -1 2.6 -2.4 2 -2.7 2.6 -4.9 4.6 -11.6 9.2 -27.9 4.6 -10.4 2 -3.2 2.6 -3.1 2.6 -1.7 2.7 -0.5 2.6 0.7 2.6 2 2.6 3.3 2.7 4.7 4.6 11.1 9.2 26.6 4.6 9.8 1.9 2.8 2 2 2 1.2 2.6 0.4 3.3 -1.2 3.3 -2.8 5.2 -6.7 2.6 -4.7 9.9 -22.6 9.2 -27 5.2 -16.8 2 -3.5 1.3 -0.5 1.3 1.9 2 7.8 7.9 54.2 5.9 30.7 2.6 11.8 2 6.6 3.9 8.3 3.3 5 1.3 1.2 1.3 0.4 1.4 -0.3 1.3 -1.3 1.3 -2.3 2 -5.1 9.8 -36.6 8.5 -28.2 5.3 -14.7 5.3 -10.6 4.5 -7.5 4 -3.9 3.9 -1.3 3.3 0.2 2.6 1.1 2.7 2.2 2.6 3.3 3.9 7.4 3.3 8.3 5.3 11 8.5 20.7 3.9 8.2 3.3 5.3 2.7 3.1 2.6 2.1 3.3 1.2 2.6 -0.1 2.6 -1.1 2.6 -2.1 2.7 -3.1 4.6 -7.5 11.8 -24.2 3.9 -5.6 3.3 -2.8 2 -0.8 2 -0.1 1.9 0.6 2.7 1.6 3.9 4.2 9.2 13.2 3.9 4.6 2.7 2.2 1.9 1 2 0.5 2 -0.1 1.9 -0.8 2 -1.3 4.6 -5.2 3.9 -6.5 9.2 -17.4 5.3 -8 2.6 -2.8 2.6 -2.1 2.7 -1.2 2.6 -0.4 4.6 0.8 4.6 2.4 17.1 14 5.2 3.3 11.2 6 5.2 3.6 5.3 4.6 11.2 11.1 3.9 3.3 4.6 2.7 3.9 1.1 4 0 3.9 -1.1 14.5 -7.8 3.9 -1.5 3.3 -0.8 3.3 -0.2 3.9 0.4 15.8 3.5 4.6 0.1 3.9 -0.8 3.9 -1.5 4 -2.2 14.4 -11 5.9 -3.6 3.3 -1.4 4 -1.2 7.2 -0.5 6.6 0.7 7.8 1.7 7.9 2.5 5.9 2.5 4.6 2.7 4.6 3.4 13.8 13.4 5.3 4.4 3.3 1.9 3.2 1.2 3.3 0.5 2.6 -0.1 2.7 -0.7 2.6 -1.3 2.6 -1.9 2.7 -2.7 4.6 -6.2 9.1 -15 4.6 -5.6 4 -2.9 2 -0.8 2.6 -0.4 2 0.1 2.6 0.8 4.6 3.1 4.6 5.1 9.8 13.3 3.3 3.2 2.6 1.9"/><path d="M248.5 236.5l9.9 -5.1 3.9 -1.2 3.3 -0.4 3.3 0.3 3.3 1 8.5 5 3.9 1.5 2.7 0.2 1.9 -0.3 2 -0.7 2.6 -1.6 4.6 -4.4 5.9 -8.1 6 -9.9 17 -30.7 5.3 -8.2 5.2 -6.7 6.6 -6.5 6.6 -4.5 7.2 -2.8 3.9 -0.7 3.3 -0.2 5.3 0.9 5.2 2.5 5.3 4.4 4.6 5.7 3.3 5.3 3.9 7.5 13.8 31.1 4.6 9.3 4.6 7.4 2.6 3.1 2.6 2.3 3.3 2.1 4 1.7 15.7 3.3 23.7 7.6 20.3 7.3 9.2 2.1 6.6 -0.1 5.9 -1.3 5.9 -2.5 15.8 -8.5 4.6 -1.6 4.6 -0.7 4.6 0.2 5.2 1.5 14.5 7.1 5.2 2.1 5.3 1 4.6 -0.4 3.9 -1.2 4.6 -2.4 13.8 -10.1 5.2 -3.3 4.6 -1.9 4.6 -0.8 4.6 0.5 5.3 2 5.2 3.2 15.8 11 5.9 2.8 5.3 1.3 4.6 0.3 4.6 -0.4 17 -3.7 7.9 -0.9 7.9 0.1 18.4 1.8 9.8 -0.4 7.9 -1.7 7.9 -2.7 6.6 -3 7.2 -4.4 2.6 -2.7 10.5 -15.6 2 -2 2 -0.5 1.3 0.5 1.9 1.7 4 6.1 5.2 10 7.3 18.3 6.5 10.2 3.3 4 2.6 2.1 3.3 1.6 4 0.7 19.7 -1.3 4.6 -1.3 4.6 -2.4 3.9 -3.2 3.3 -3.7 8.5 -15.6 2.7 -3.9 4.5 -3.7 4.6 -2.8 3.3 -1 3.3 -0.1 3.3 1.2 3.3 2.5 5.2 -2.7 4.6 -1.8 4.6 -1 4.6 -0.5 8.6 0.7 9.8 2.9 9.2 4.1 21 10.5 11.2 4.5 9.8 2.4 9.9 0.9 10.5 -0.9 10.5 -2.8 9.9 -4.1 24.3 -12.2 7.2 -2.5 6.5 -1.1 7.3 0.1 7.8 1.6 7.9 2.8 19.7 8.8 9.9 3.8 10.5 2.6 9.2 0.8 5.9 -0.4 6.6 -1.3 22.9 -7.9 5.3 -1.3 5.3 -0.6 5.2 0.2 5.3 1 16.4 5.6 5.2 1.4 5.3 0.6 5.2 -0.4 4.6 -1.2 5.3 -2.3 16.4 -10 5.9 -3 6.6 -2 5.9 -0.3 5.9 0.9 6.6 2.4 23 12.4 11.8 5.4 10.5 3.5 9.8 1.9"/><path d="M248.5 237.7l5.9 -2 3.3 -0.3 3.3 0.3 5.9 1.8 11.2 5.4 5.2 2 5.3 1.1 2 -0.9 1.9 -2.3 2 -3.4 3.9 -9.8 4 -12.5 7.9 -27.7 3.2 -9.5 3.3 -6.2 1.3 -1.1 1.4 -0.3 1.9 1.5 2.6 4.9 7.9 22.4 9.2 21.5 7.9 21.6 3.3 7.6 2 3.2 1.3 1.4 3.9 1.6 3.3 0.5 2.6 -0.1 2.6 -0.7 5.3 -3 5.9 -5.3 12.5 -14 5.2 -5.1 6 -4.1 3.2 -1.2 2.7 -0.3 2.6 0.2 2.6 0.7 2.6 1.3 3.3 2.4 5.9 5.9 11.9 14.9 5.2 5.8 5.9 4.5 2.6 1.2 2.7 0.5 4.6 -0.5 4.6 -2.2 4.6 -3.5 9.8 -9.5 4.6 -3.8 4.6 -2.7 4.6 -1.1 4.6 0.6 4.6 2.3 4.6 3.5 10.5 9.6 5.3 3.6 2.6 1.2 2.6 0.5 4.6 -0.4 4 -1.8 4.5 -3.6 13.2 -14.1 5.2 -4.8 5.3 -3 4.6 -0.8 3.9 0.6 4 1.7 4.6 3 12.4 9.5 4 2.1 3.9 1.4 4 0.5 4.6 -0.4 4.6 -1.3 13.1 -4.7 4.6 -0.9 3.9 0 4 0.7 4.6 1.5 14.4 7.3 4.6 2 4.6 1.3 4.6 0.5 5.3 -0.4 5.9 -1.4 26.2 -10.4 10.5 -3.3 9.2 -2.2 10.5 -1.2 6.6 0.3 6.6 0.9 11.8 -0.8 5.3 2.8 19 12.8 2 2.7 3.3 6.5 1.9 2.9 3.3 1.8 3.3 0.8 2.6 -0.5 2.6 -1.6 11.2 -10.7 3.9 -2.8 4.6 -1.7 9.9 -2 3.9 -1.7 2 -2.7 5.9 -11.2 1.3 -1.4 1.3 -0.5 7.3 1.2 2.6 1 2.6 1.7 2.6 2.5 2 2.7 4 7.5 7.8 -1.8 6.6 -0.9 18.4 -0.6 6.6 -0.6 22.3 -4.8 4.6 -0.2 4.6 0.7 4.6 1.5 5.2 2.9 14.5 11.1 4.6 3 4.6 2 4.6 0.8 4.6 -0.7 5.2 -2.5 5.3 -3.9 11.8 -11.3 5.3 -4.4 5.9 -3.4 5.2 -1.2 4.6 0.2 4.6 1.3 17.1 8.7 7.2 2.7 7.9 1.2 15.8 -0.5 7.8 0.7 7.9 2.4 17.1 7.9 4.6 1.3 3.9 0.4 5.9 -1 3.3 -1.3 3.3 -2 6.6 -5.3 13.1 -13.3 5.3 -4.7 5.9 -3.8 5.2 -1.6 2.6 -0.1 3.3 0.5 5.9 2.7 6.6 5 13.8 13.4 5.9 4.9 3.9 2.5 3.3 1.5 3.3 1 3.3 0.4 3.9 -0.2 4.6 -1 17.8 -7.1 8.5 -2.1 8.5 -0.2 18.4 2.4 4.6 -0.1 4.6 -0.7 4 -1.2 4.6 -1.9 15.1 -8.4 6.5 -2.9"/><path d="M248.5 239.7l13.8 -2.6 5.9 -0.6 5.9 0.3 5.9 1.6 5.3 2.5 5.3 3.7 17 15.1 6.6 4.9 6.6 3.3 3.2 0.8 3.3 0.4 6.6 -0.9 7.2 -3 7.2 -4.5 18.4 -13.6 9.9 -6.5 9.8 -4.9 8.6 -2.4 7.9 -0.4 7.8 1.5 7.3 2.9 18.3 9.4 5.3 1.8 4.6 1 4.6 0.2 5.2 -0.6 5.3 -1.3 12.5 -4.1 3.3 -0.7 1.3 0.1 1.3 0.7 2 2 3.9 7.1 17.1 45.4 8.5 24 3.3 6 1.3 1.2 1.3 0.3 1.3 -0.5 2 -2.2 3.3 -6.3 21 -59.8 3.3 -7.3 2 -2.7 1.3 -1 1.3 -0.2 2 1 13.7 9.7 6 3.3 5.9 1.7 3.2 0.2 2.7 -0.4 5.2 -1.9 5.9 -3.9 17.1 -15.9 6.6 -5.2 6.5 -3.4 3.3 -0.8 3.3 -0.3 4.6 0.5 5.3 1.5 21 10.4 5.9 2.3 5.9 1.6 7.2 1.2 7.9 0.4 7.9 -0.3 7.9 -1.1 7.8 -2.1 7.3 -2.9 9.8 -5.2 9.9 -6.1 6.5 -4.9 7.9 -10.7 5.9 -6.8 2.7 -2.6 2.6 -1.2 2 0.5 2.6 2.4 2.6 3.8 3.3 6.3 4.6 10.9 6.6 17.5 5.9 22.9 1.9 6.2 3.3 6.6 2.6 4.2 2 2.1 2 1 2 -0.5 2.6 -2.5 7.9 -12.6 9.2 -12.4 4.6 -5.7 9.8 -10.8 3.9 -3.7 3.3 -2.2 3.3 -1.3 4 -0.7 3.9 0.1 3.9 0.8 3.3 1.4 4.6 3.1 0.7 0 11.8 -2.2 11.2 -0.6 9.2 0.7 21.6 3.2 11.2 0.7 44.6 -2 25.7 -2.3 9.1 -0.3 11.2 0.8 21.7 3.9 9.2 0.5 9.2 -1.1 18.4 -4.2 9.2 -0.5 5.9 0.8 5.9 1.7 17.7 7.9 5.9 2.2 5.9 1.3 5.3 0.4 8.5 -1.2 21.7 -7.3 5.9 -1.4 5.3 -0.5 5.2 0.1 5.9 0.8 17.7 4.3 7.3 1.3 7.2 0.3 6.6 -0.7 6.5 -1.7 7.3 -3 21 -12 7.2 -3.5 7.2 -2.3 6.6 -0.7 7.2 0.9 7.2 2.5 7.9 4.1 11.8 7.6"/><path d="M248.5 244.2l5.9 -4.3 5.3 -2.8 4.6 -1.5 4.6 -0.3 3.9 0.7 4 1.4 4.6 2.5 14.4 9 5.3 2.2 4.6 1.1 4.6 0.2 5.2 -0.8 21 -7.3 5.3 -1.1 5.2 -0.4 5.3 0.5 5.2 1.1 16.5 5.5 5.9 1.6 5.2 0.8 5.3 0.2 9.8 -1.3 18.4 -5.1 9.2 -2 34.8 -5.1 8.6 -0.4 5.9 0.9 5.9 2.2 5.9 3.4 11.8 8.6 4.6 2.9 5.3 2.2 5.2 0.8 4.6 -0.7 4.6 -1.9 4.6 -2.8 12.5 -8.9 3.9 -2.1 4 -1.3 3.9 -0.6 4.6 0.3 4.6 1.2 13.1 4.5 4 0.6 3.9 -0.1 3.9 -0.8 4 -1.5 13.8 -7.9 4.6 -2.1 4.6 -1.1 4.6 0.1 4.6 1.6 4.6 2.8 4.6 3.8 11.1 10.6 5.9 4.2 3.3 1.4 2.6 0.5 2.7 -0.1 4.6 -0.8 2.6 0.2 3.9 1.8 3.3 2.8 4.6 6.2 4.6 8.6 15.1 35.6 5.3 10.7 2.6 4.2 2.6 3.2 2.7 1.9 2.6 0.7 2.6 -0.3 2.6 -1.1 10.5 -7.9 4 -2.1 3.9 -0.5 7.9 1.1 3.3 -0.5 3.3 -2.3 2.6 -3.6 2 -4 1.9 -5.5 3.3 -12.5 3.3 -15.5 4.6 -29.5 3.9 -21.2 2 -7.3 0.7 -1.4 0.6 -0.7 0.7 -0.1 1.9 2.7 2 5.2 7.9 25.9 7.9 28.9 3.9 11.5 4.6 7.9 4.6 6.4 4 3.5 3.2 1.2 1.4 -0.3 1.3 -1 2.6 -4.2 2.6 -6.3 8.6 -24 11.1 -22 3.3 -4.6 2.6 -2.4 4.6 -2.1 4 -1 3.3 0 13.1 2.7 8.5 2.6 17.8 -7 6.5 -2.2 7.9 -1.4 7.9 0 7.2 1.2 7.2 2.2 7.3 2.9 13.7 6.3 6 2.2 5.2 1.3 5.3 0.2 5.2 -0.9 5.9 -2.5 5.3 -3.3 11.8 -8.5 5.3 -3.1 5.2 -1.8 4.6 -0.4 4.6 0.9 5.3 2.3 5.2 3.3 11.2 8.3 5.9 3.5 5.9 2.1 5.9 0.7 5.3 -0.6 5.2 -1.4 19.7 -8.2 9.9 -3.4 9.2 -2.3 8.5 -1.3 8.5 -0.2 7.9 1.1 7.9 2.3 15.1 5.7 7.2 2.3 7.9 1.5 7.9 0.3 7.9 -0.6 25.6 -3.4 26.9 -0.9 9.2 -0.9 10.5 -2.6 18.4 -6.9 4.6 -1 3.9 -0.3 3.3 0.3 3.3 0.8 6.6 3.4 5.2 4 11.8 10.7 4.6 3.5"/><path d="M248.5 261.8l4.6 0.5 5.3 -1.4 4.6 -2.7 13.1 -9.3 4.6 -2.1 3.9 -1 6 0.2 14.4 3.8 3.9 0.5 3.3 -0.1 3.3 -0.5 4 -1.2 15.7 -7 4 -1 3.9 -0.3 6.6 1 15.7 5.3 4 0.5 3.9 -0.4 3.9 -1.2 4 -2 11.8 -8.2 4.6 -2.8 3.9 -1.5 4 -0.5 2.6 0.4 3.3 1.1 5.9 4.1 5.3 5.3 13.1 15.3 7.2 6.4 4 2.3 3.2 1.1 4 0.3 3.9 -0.6 4.6 -2 4.6 -2.9 19.7 -16.9 5.3 -3.7 4.6 -2.4 4.6 -1.4 4.6 -0.5 5.9 0.9 7.8 2.7 1.4 -0.3 1.3 -0.8 2.6 -3.6 2.6 -5.5 11.8 -33.7 2.7 -5.9 3.3 -5.2 1.9 -2.1 2.7 -2 10.5 -5 15.1 -10 5.2 -2.4 4.6 -0.8 4.6 0.8 4.6 2.8 4.6 4.8 4 5.8 3.2 6.3 3.3 7.5 11.8 31.5 3.3 6.8 4 6.3 3.2 3.6 7.3 4.8 11.8 10.7 3.9 2.5 4 1.1 3.9 -0.3 4.6 -2.1 4.6 -3.4 9.2 -8.8 4.6 -3.8 4.6 -2.7 4.6 -1.4 3.9 0 4.6 1.1 15.1 7.4 6.6 2.4 7.9 1.2 2.6 0 2 -0.4 5.2 -2.3 5.3 -3.1 9.8 -8.9 6.6 -7.3 2 -1.3 1.3 -0.2 2.6 1.2 2.6 2.6 3.3 4.6 9.9 16.1 11.1 12.2 4.6 3.3 8.6 3.6 5.2 1.3 2 -0.3 2 -0.9 8.5 -6.9 11.8 -7.7 15.1 -8.5 5.3 -1.5 5.9 -0.9 5.9 0.1 6.6 1 3.9 -1 9.9 -3.9 17 -9.5 4 -1.5 3.9 -0.7 3.3 0.1 3.3 0.8 2.6 1.3 3.3 2.1 6.6 6.3 14.4 17.4 6.6 6.6 3.9 3 3.3 1.8 3.3 1.2 3.9 0.5 5.9 -0.7 6.6 -2.7 7.9 -5.1 15.1 -11.9 6.6 -4.6 6.5 -3.3 6.6 -1.5 4.6 0.1 4.6 1.2 5.2 2.3 15.8 8.8 5.2 1.8 5.3 0.5 4.6 -0.6 4.6 -1.4 19 -9.6 10.5 -3.9 7.3 -1.5 7.9 -1 6.5 -0.2 5.9 0.5 5.9 1.4 6 2.8 5.9 4.1 11.8 10.1 4.6 3.4 5.2 2.7 4.6 0.9 4 -0.5 4.6 -1.9 4.6 -3 12.4 -9.8 4 -2.2 3.9 -1.1 4 -0.1 4.6 1.4 4.6 2.6 13.7 9.7 4.6 2 4.6 0.7 4 -0.6 4.6 -1.8 4.6 -2.9 13.8 -10 5.2 -2.7 4.6 -1.5 4.6 -0.7 5.3 -0.1 30.8 2.2"/><path d="M248.5 243.7l13.2 0.9 9.8 1.3 9.9 2.4 20.3 6.3 5.9 1.1 5.3 0.2 5.9 -0.8 6.6 -2.3 5.2 -2.7 12.5 -7.3 5.9 -2.8 5.9 -1.6 5.3 -0.3 7.2 1.3 18.4 7.1 4.6 1.3 4.6 0.8 4.6 0.2 5.2 -0.3 18.4 -2.8 9.9 -1 17.7 -0.8 10.5 0 6.6 0.6 6.5 1.2 22.4 7 4.6 0.7 4.6 0.2 7.8 -1.1 15.8 -4.8 7.9 -1.5 7.2 -0.2 15.8 1.5 7.8 -0.6 7.9 -2.5 17.1 -8.3 4.6 -1.3 3.9 -0.3 5.9 1.1 6 3 5.2 3.9 11.8 10.2 5.9 4 3.3 1.4 2.7 0.7 5.2 -0.1 3.9 -1.3 4 -2.1 5.2 -3.7 2 -2.4 2 -4 2.6 -7.5 11.2 -41.4 2.6 -8.4 2.6 -6.7 2.7 -5 3.2 -4.6 19.7 -21.8 5.9 -4.7 2.7 -1.5 2.6 -0.8 2.6 -0.2 2.7 0.4 2.6 1.3 2 1.6 3.9 4.8 3.3 5.9 9.2 23.1 3.3 7 2.6 3.8 1.3 1 0.7 -0.1 1.3 -1 1.3 -2.1 2.6 -6.7 7.9 -34.5 2 -5.6 1.3 -1.6 0.6 0 0.7 0.7 1.3 3.4 2.6 13.6 8.6 68.1 5.9 36.7 5.2 37.2 2.7 15.9 1.9 7.8 4 11.1 3.2 7.8 2 3.8 2 2.8 2 1.6 1.3 0.4 0.6 -0.2 1.3 -1.4 2.7 -6.2 2.6 -9.6 8.5 -36 9.2 -28.3 4.6 -11.8 3.3 -5.9 9.2 -10.4 5.9 -5.2 2.6 -1.6 2.7 -1 2.6 -0.3 3.3 0.2 2.6 0.9 2.6 1.4 5.3 4.6 5.2 7.3 0.7 0.4 24.3 -0.6 7.2 -0.9 14.5 -2.6 7.8 -0.6 8.6 0.9 17.1 4 4.5 0.5 4 -0.1 4.6 -0.8 4.6 -1.5 13.8 -6.4 5.2 -2 5.3 -1 4.6 0.2 5.2 1.5 5.9 3.4 5.3 4.1 11.2 9.7 5.2 3.7 5.3 2.5 5.2 0.9 5.3 -0.9 5.2 -2.7 5.9 -4.6 11.9 -11.5 5.2 -4.5 5.3 -3.2 5.2 -1.5 4.6 0.3 5.3 2 5.2 3.4 11.2 9.2 4.6 3.3 5.2 2.6 5.3 0.9 3.9 -0.4 4.6 -1.6 4.6 -2.5 15.1 -10 5.3 -2.2 5.2 -1.1 4.6 0 5.3 1 17.1 5.8 7.8 2.1 21.1 3.4 19.7 4.5 8.5 0.8 5.9 -0.4 5.9 -1.3 6.6 -2.4 15.1 -6.6 7.2 -2.7 8.6 -2.1 7.8 -1.1"/><path d="M248.5 252.4l4 1 4.6 0.5 4.6 0 5.9 -0.8 28.9 -6.6 24.3 -7.3 5.2 -0.9 4.6 -0.2 5.9 1 6.6 2.7 5.9 3.8 11.8 8.8 5.3 3 5.2 1.8 4.6 0.2 5.3 -1.6 5.2 -3.3 4.6 -4.1 11.2 -11.1 5.3 -4.3 4.5 -2.4 4.6 -1 4.6 0.8 5.3 2.7 5.2 4.4 11.2 11.4 5.3 4.7 5.2 3.2 5.3 1.3 4.6 -0.5 4.6 -1.9 5.2 -3.5 11.8 -9.9 5.3 -3.8 5.9 -2.9 5.3 -1 4.6 0.3 4.6 1.3 4.6 2.1 17 9 5.9 2 5.3 0.8 4.6 0 4.6 -0.6 24.3 -6.4 6.5 -1 6.6 -0.5 13.8 0.7 34.2 4.8 9.2 0.3 8.5 -0.7 1.3 -0.5 2 -2.1 3.3 -6.4 3.2 -8.9 9.9 -30.4 3.3 -7.6 3.3 -5.5 3.2 -3.7 3.3 -2.4 3.3 -1.5 8.5 -2.5 4.6 -2.6 5.3 -4.6 11.2 -11.5 5.9 -4.6 3.9 -1.6 3.3 0 3.3 1.4 3.3 2.8 2.6 3.4 2.6 4.5 7.2 16.6 2.7 5.1 2.6 3.1 1.3 0.2 0.7 -0.4 1.9 -3.4 2 -7 6.6 -41 1.3 -5.8 1.3 -2.8 0.7 0.1 0.6 1.2 2 10.3 1.9 18.1 6 66.2 1.3 10.7 3.9 23.8 7.9 65.5 1.3 6.7 7.2 25.4 3.3 8.2 2 3 1.3 0.9 1.3 -0.2 2 -2.1 3.3 -7.6 3.2 -11.1 8.6 -32.9 13.8 -44.4 4.6 -13.2 3.3 -7.1 6.5 -10.4 4 -3.9 3.9 -1.3 3.9 -0.5 4 0.7 2.6 1.4 2.6 2 5.3 6.3 12.5 4 7.2 1.1 5.2 -0.3 5.3 -1.4 5.3 -2.2 10.5 -5.2 5.2 -2 5.3 -0.9 4.6 0.3 4.6 1.4 4.6 2.4 13.8 9.9 5.2 3.3 4.6 1.9 4.6 0.8 4.6 -0.4 4.6 -1.6 5.2 -3 11.2 -8 5.3 -3.3 5.9 -2.5 5.2 -0.8 4 0.1 4.6 1 16.4 6.2 7.9 2 7.8 0.3 17.1 -2.1 7.9 -0.1 7.9 1.4 17.1 5.1 7.2 0.9 5.2 -0.3 5.3 -1.3 5.9 -2.4 17.1 -8.4 5.9 -1.8 5.2 -0.6 5.3 0.4 5.9 1.3 17.7 6.9 7.3 2.3 6.5 1.4 6.6 0.6 15.1 -0.2 19.7 -1.9 11.8 -2.2 21.7 -5.4 9.8 -1.3 6.6 0.2 6.6 1 6.5 1.9 9.2 3.5"/><path d="M248.5 236.8l7.9 0 7.2 1.7 6.6 2.9 15.8 8.3 9.2 3.5 9.1 1.8 9.9 0.6 8.5 -0.4 7.9 -1.1 21 -5.8 7.9 -1.5 7.2 -0.4 14.5 0.3 6.5 -0.7 7.9 -2.5 15.8 -7.7 3.9 -1.2 3.3 -0.5 4.6 0.4 5.3 1.9 5.2 3.2 11.2 8.9 4.6 3 5.2 2.4 5.3 0.8 6.6 -1 14.4 -5.8 7.2 -1.8 7.2 -0.3 13.8 1.9 6.6 0.2 6.6 -0.9 12.5 -2.9 5.9 -0.5 4.6 0.5 4.6 1.2 14.4 6.7 4.6 1.7 4.6 1 3.9 0 3.3 -0.6 4 -1.3 15.7 -8 7.9 -2.6 3.9 -0.5 4 0 15.1 2.1 7.2 0.2 7.2 -1.2 16.5 -4.6 4.6 -0.6 3.9 -0.1 6.6 1.1 7.2 2.7 6.5 3.3 16.5 9.4 7.8 3.8 7.3 2.3 5.9 0.6 6.5 -0.9 5.3 -2.2 6.6 -5.4 12.4 -12.4 7.9 -7.3 4 -2.6 3.3 -0.6 1.9 1 2.6 2.9 14.5 23.2 3.3 4.4 2.6 2.3 3.3 2 2.6 0.9 2.6 0.3 4 -1 3.9 -3.1 4 -4.8 10.5 -15.1 6.5 -6.7 6.6 -4.2 10.5 -3.9 8.6 -6.6 1.9 -1 2 -0.3 2 0.5 3.9 2.5 3.3 2.7 3.3 3.3 5.2 7.2 5.3 9.8 10.5 4.2 6.6 2.2 5.2 0.9 5.3 -0.3 4.6 -1.2 5.2 -2.6 16.4 -12.2 7.3 -3.9 3.9 -1 4.6 -0.3 13.8 2.5 1.9 -0.6 1.4 -1 2.6 -3.3 2.6 -5.6 2 -5.9 3.9 -17.2 3.3 -20.9 5.9 -48.8 2 -9.7 0.6 -1.3 0.7 -0.3 0.7 0.7 1.3 4.1 1.9 11.5 6.6 56.9 2.6 18.3 2.7 14.2 6.5 28.4 2.7 13.1 4.6 28.8 6.5 49.2 2 9.4 1.3 2.2 0.7 -0.4 0.6 -1.4 1.3 -4.7 17.8 -89.4 3.2 -10 2 -3 2 -1.3 10.5 0.9 21 -0.1 10.5 0.5 9.2 1.4 18.4 4.5 4.6 0.4 3.9 -0.2 5.3 -1.5 5.9 -3.3 5.3 -4.1 11.1 -10 5.3 -3.7 4.6 -2.1 4.6 -0.6 5.2 1.1 5.3 2.9 5.2 4.1 11.8 10.6 7.3 5.2 7.2 3.4 7.2 1.7 6.6 0.5 6.6 -0.2 6.5 -0.7 5.9 -1.4 9.2 -3.7 18.4 -10.3 4.6 -1.7 4 -0.7 4.5 0.1 5.3 1.3 17.7 8.1"/><path d="M248.5 248.9l5.3 1.4 5.9 0.7 26.9 1.1 7.2 -0.3 4.6 -0.8 5.3 -1.7 19 -8.8 4.6 -1.1 4 -0.1 4.6 0.9 5.2 2.5 4.6 3.1 10.5 8.2 5.3 3.3 4.6 1.7 4.6 0.3 4.6 -1.2 5.2 -2.8 15.1 -12.5 5.9 -4.1 5.3 -2.2 5.2 -0.8 4 0.3 3.9 1 15.1 5.6 6.6 2 5.9 1.1 17.7 2.4 6.6 1.6 13.8 4.2 7.9 1.2 5.9 -0.5 5.2 -1.6 6 -2.9 11.8 -7.6 5.2 -2.9 5.9 -2.2 5.3 -0.7 3.9 0.2 4.6 1 5.3 2 17.7 8.2 5.9 1.7 6.6 0.9 8.5 -0.2 18.4 -2.3 9.2 -0.7 11.2 -0.2 34.1 0.6 34.8 -3 9.2 0.3 18.4 2 7.2 0 5.3 -0.6 3.3 -0.8 3.3 -1.9 4.6 -3.9 2.6 -2.7 2.6 -3.7 5.3 -8.3 4.6 -8.6 1.9 -2.1 1.3 -0.1 2.7 1 3.3 3.1 3.2 4.9 3.3 6.4 4 9.1 3.2 9 4.6 23.2 2 7 2.6 6.1 2 3.5 2 1.9 1.9 0.1 3.3 -1.5 3.3 -3.5 11.8 -18.4 8.6 -11.5 5.9 -7.2 13.1 -13.2 2.6 -2.1 2.7 -1.5 1.9 -0.5 2 0.1 7.2 2.8 7.3 4.7 6.5 5.9 6.6 -2.2 16.4 -7.6 4.6 -1.4 3.9 -0.7 8.6 -0.1 16.4 2.6 8.5 0.7 11.9 0.2 1.9 -0.5 2 -1 2.6 -2.5 2 -2.7 3.9 -8.2 4 -11.9 9.2 -33.9 3.9 -12.6 4 -8.6 1.9 -2.4 2 -0.9 1.3 0.2 1.3 0.9 2 2.8 2 4.5 1.9 6.3 3.3 14.9 7.9 43.1 3.3 13 3.3 10.4 11.8 34.2 5.2 13.4 2.7 5.5 2.6 4.4 2.6 3.1 2.6 1.5 2.7 -0.2 1.9 -1.4 2.7 -3.7 1.9 -4.3 3.3 -10.1 5.9 -24.3 2 -5.8 1.3 -2 0.7 -0.4 0.6 0.2 3.3 1.7 2.6 0.5 2.7 -0.3 2.6 -1.1 5.2 -4 14.5 -15.1 4.6 -3.3 4.6 -1.9 4.6 -0.4 4.6 0.9 5.2 2.3 11.9 6.7 5.9 2.7 6.5 1.9 6.6 0.7 9.9 -0.7 13.1 -2.6 9.2 -2.6 15.7 -5.6 6 -1.6 5.2 -0.6 4.6 0.5 5.9 2.4 5.9 4.4 5.9 6 11.9 13.6 5.9 5.6 5.2 3.2 4.6 1 2.6 -0.2 2.7 -0.7 5.9 -3.3 5.2 -4.6 14.5 -14.4 4.6 -3.6 3.9 -2.5 4.6 -2.1 4.6 -1.3 5.3 -0.6 6.5 -0.3"/><path d="M248.5 248.3l14.5 -9.4 4.6 -2.5 5.2 -1.5 4.6 0.2 4.6 1.9 4.6 3.2 13.8 14.1 5.3 4.4 4.6 2.4 4.6 0.6 3.9 -0.9 3.9 -2.2 4.6 -3.8 13.2 -12.4 3.9 -2.6 3.9 -1.6 4 -0.4 4.6 1 4.6 2.2 13.8 8.7 4.6 1.6 3.9 0.4 3.9 -0.6 4.6 -1.8 13.2 -8.5 4.6 -2.4 3.9 -1.2 4 -0.4 3.2 0.4 4 1.3 16.4 9.2 3.9 1.5 4 0.9 3.9 0 4 -0.6 11.8 -4.1 4.6 -1.1 3.9 -0.3 4 0.6 3.2 1.1 4 2 15.7 11 4.6 1.9 4 0.4 4.6 -1.2 5.2 -3.3 4.6 -4.2 11.2 -12.2 4.6 -4 4.6 -2.5 4.6 -0.9 3.9 0.6 4 1.8 3.9 2.5 11.8 9.1 4 2.1 3.2 1.2 4 0.5 4.6 -0.6 4.6 -1.6 12.5 -5.6 3.9 -0.9 3.9 -0.2 4 0.8 3.9 1.5 12.5 7.4 3.9 2 3.3 1 3.3 0.5 4.6 -0.7 4.6 -2 4.6 -3.1 9.8 -7.7 4.6 -2.7 4.6 -1.4 4 0 3.9 1.3 4.6 2.9 13.2 12.2 4.6 3.5 4.5 2.2 4 0.4 2.6 -0.4 2.6 -1 6 -4.1 7.2 -6.9 9.8 -11.5 6.6 -5.5 3.3 -1.7 2.6 -0.9 11.2 -1.4 3.9 0.9 2 1.2 0.6 0.8 2 4.3 5.9 17.5 5.9 11.5 5.3 7.6 2.6 2.5 2.6 1.4 5.9 1.2 6 0.3 5.2 -0.7 3.9 -2 4 -3.2 11.8 -11.4 11.2 -7 5.2 -3.9 4 -3.7 3.9 -4.6 6.6 -12.4 2.6 -3.9 2 -1.4 3.3 -0.3 4.6 1 2.6 1.5 2 1.7 3.9 5.1 4.6 9.1 0.6 0.5 6 2 4.6 1.1 5.9 0.1 5.9 -1.4 5.2 -2.4 11.2 -6.4 5.9 -2.2 3.3 -0.4 2.6 0.2 2.6 0.7 3.3 1.4 4.6 3.1 10.5 9.1 4.6 3.2 4.6 1.8 5.3 0 1.3 1.1 1.3 2.2 2 4.9 7.2 22.7 2 3.9 1.3 1.3 0.6 0.2 1.3 -0.7 0.7 -1 2 -5.5 1.9 -8.6 6.6 -34.4 2 -6.8 1.3 -2.4 0.7 -0.5 0.6 0.2 0.7 0.8 1.3 3.4 4.6 20.2 1.3 4.2 1.3 1.8 0.7 0 0.6 -0.7 1.3 -2.7 5.9 -21.4 1.4 -3.3 1.3 -1.6 0.6 0 0.7 0.7 10.5 17.2 5.9 8.1 3.3 3.3 2.6 2 2.6 1.3 3.3 0.8 4.6 -0.3 4.6 -1.7 17.1 -10.8 4.6 -2.5 4.6 -1.8 9.2 -2.4 17.1 -2.3 10.5 -0.6 4.6 0.5 3.9 0.9 7.9 3.1 17.1 9.6 5.2 1.7 4.6 0.4 3.9 -0.5 4 -1.3 4.6 -2.4 13.8 -8.2 4.6 -1.7 3.9 -0.6 3.9 0.3 4.6 1.4 13.8 7.5 4.6 2 4.6 1 4.6 -0.2 3.3 -0.9 3.9 -1.8 12.5 -8.5 4 -2.3 3.9 -1.4 3.3 -0.5 2.6 0.3 2.6 0.7 5.3 3.1 5.3 4.7 11.1 11.8 5.9 4.7 2.7 1.3 2.6 0.8 2.6 0.2 2.6 -0.4"/><path d="M248.5 251.6l4.6 -0.3 4.6 -1.2 13.8 -5.4 5.3 -1.8 4.6 -0.8 3.9 -0.1 4.6 0.6 5.3 1.6 16.4 8.1 5.9 2.4 5.9 1.2 5.2 -0.1 5.3 -1.3 5.3 -2.2 17.7 -10.9 7.2 -3.7 7.9 -2.4 7.9 -0.8 8.5 0.9 9.9 2.3 12.4 4.4 23.7 10.1 6.5 1.7 6 0.2 5.2 -0.9 5.3 -1.9 15.1 -8.9 4.6 -2.3 4.6 -1.5 3.9 -0.2 5.3 1.1 5.9 3.4 5.2 4.5 11.2 11.1 5.2 4.2 5.3 2.5 4.6 0.5 3.9 -0.9 4.6 -2.4 4.6 -3.5 13.8 -12.4 4.6 -3 3.9 -1.7 4 -0.9 3.9 0 4.6 0.7 11.8 2.8 4 0.3 3.9 -0.2 4 -1 3.9 -1.6 15.8 -8.2 3.9 -1.2 3.9 -0.3 4.6 0.7 4.6 2.1 4.6 3 12.5 9.5 4 2.2 3.9 1.5 4.6 0.5 4.6 -0.8 4.6 -1.7 13.1 -6.4 4.6 -1.1 4 0 3.9 0.8 4.6 2.2 13.8 9.8 4.6 2.7 4.6 1.6 3.9 0.2 2.6 -0.4 3.3 -1.1 6.6 -3.8 8.5 -6.7 8.6 -9 2.6 -4.3 9.9 -21.3 1.3 -2.1 1.3 -1 1.3 0.6 2 4.5 7.2 31 6.6 17.4 2.6 4.9 2.6 3 3.9 3 2 0.7 2 0.1 2.6 -1 3.3 -2.8 11.8 -15.6 4.6 -4.7 3.3 -2.2 3.9 -1.6 11.2 -2.1 3.3 -1.1 3.3 -3.1 7.2 -10 3.3 -2.8 1.9 -0.4 5.3 0.1 3.3 0.6 2.6 1 4.6 3.2 4.6 5.8 9.9 -6.6 11.8 -4.8 3.9 -2.2 4 -3.8 3.9 -6.2 3.3 -7 7.2 -18.2 2.6 -5.4 2.7 -3.6 1.3 -1 1.3 -0.3 1.3 0.4 1.3 0.9 3.3 5 11.8 30 3.3 6.6 3.3 4.8 3.9 3.9 4.6 2.9 6.6 2.6 7.2 1.8 6.6 0.8 5.9 -0.4 5.9 -1.3 15.8 -4.9 4.6 -0.7 4.6 0.1 4.6 0.9 5.2 2.1 5.3 2.9 15.7 10.2 5.9 2.8 5.3 1.7 9.2 1.2 17.7 -0.1 20.4 0.6 7.2 -0.9 7.2 -2.2 7.9 -4 15.1 -9.8 6.6 -3.7 7.2 -2.5 3.9 -0.6 3.3 -0.1 5.9 1 6.6 2.5 6.6 3.7 19.7 13.1 5.9 2.7 5.9 1.6 5.9 0.2 5.9 -1.3 5.9 -2.4 15.8 -7.9 5.2 -1.6 4.6 -0.5 4.6 0.4 5.3 1.5 5.2 2.5 13.2 7.6 3.9 1.7 3.9 1.1 4 0.5 4.6 -0.4 4.6 -1.2 5.2 -2.2"/><path d="M248.5 234.5l21.7 2.5 4.6 1 4.6 1.7 4.6 2.4 4.6 3.2 13.8 12.3 4.6 3.5 4.6 2.4 4.6 1 4.6 -0.8 5.2 -2.9 5.3 -4.6 11.1 -12.5 5.3 -5 5.9 -3.8 2.6 -0.8 2.7 -0.4 3.9 0.4 3.9 1.3 15.1 8.8 6.6 2.8 7.2 1.2 15.8 -1.3 7.2 0.7 7.2 2.6 15.8 8.5 3.9 1.3 3.3 0.3 5.3 -0.9 5.2 -2.8 5.3 -4.3 14.4 -14 5.3 -3.4 4.6 -1.6 4.6 0 4.6 1.2 4.6 2.2 11.8 6.9 7.2 2.8 7.2 0.7 14.5 -1.6 7.2 0.3 6.6 1.8 14.4 6.3 3.3 0.8 3.3 0.3 4.6 -0.7 4.6 -2.2 5.2 -4.1 11.2 -11.1 4.6 -4 4.6 -2.5 4.6 -0.7 2.6 0.6 2.7 1.2 5.2 4.3 4.6 5.4 10.5 14 5.3 5.6 4.6 3.2 2.6 0.9 2 0.2 3.9 -0.7 4.6 -2.5 4.6 -4 9.8 -10.3 4.6 -4.3 4.6 -3.2 4.6 -1.8 4 -0.6 3.9 0.3 4.6 1.2 10.5 4 5.9 1.7 6.6 0.9 7.9 0.2 11.8 -2.9 11.2 -3.7 6.5 -3 2.7 -0.3 2.6 1 3.3 2.9 12.4 16.8 2 3.4 5.3 11.6 1.9 3.2 2 1.4 5.3 0.9 3.2 -0.6 3.3 -2.3 2.7 -4.4 6.5 -16.1 2.6 -5.1 4 -5.5 3.3 -3.6 2.6 -1.7 2.6 -0.4 3.3 1.2 2.6 1.9 2.7 3 2.6 4.3 5.2 13 11.9 35.7 3.9 8.2 2 2.5 1.3 0.7 2.6 -1.8 2.6 -4 3.3 -7.1 9.9 -24.7 3.3 -6 3.9 -4.9 2.6 -2 3.3 -1.5 11.2 -2 5.9 -2 5.2 -2.8 14.5 -9.5 3.9 -1.7 4 -1 4.6 0.1 5.2 1.6 4.6 2.6 10.5 7.5 4.6 2.8 4.6 1.9 4.6 0.8 4 -0.4 4.6 -1.3 12.4 -6.2 4.6 -1.8 4 -1 3.2 -0.2 4 0.5 4.6 1.5 13.1 6.7 4.6 1.9 5.3 1.1 4.6 -0.2 3.9 -1 3.9 -1.8 13.8 -8.7 5.3 -2.7 5.2 -1.8 5.3 -0.7 7.2 0.7 13.2 3.3 6.5 1.2 5.9 0.5 13.2 0.2 6.5 0.7 7.3 1.8 14.4 5 7.2 1.1 4.6 -0.3 5.3 -1.5 5.2 -2.5 14.5 -8.5 4.6 -1.8 4.6 -0.7 4.6 0.5 4.6 1.5 4.6 2.4 14.4 9 5.3 2.2 4.6 0.8 3.9 0 3.9 -0.7 15.2 -4.9 7.2 -1.5 7.2 0 15.1 2.7 6.6 0.4 7.2 -1.1 8.5 -3.1"/><path d="M248.5 252.5l6.6 -4.6 4.6 -2.7 4.6 -1.8 4.6 -0.9 3.9 0.1 4 0.7 12.4 4.5 4 1 3.9 0 3.3 -1 3.9 -2.9 4 -4.8 10.5 -18.9 3.9 -5.9 3.3 -2.7 2 -0.4 1.3 0.3 2 1.3 2.6 3.4 2.6 5 2.7 6.5 5.2 16.2 11.2 38.9 5.2 15.2 2.7 5.5 1.9 3 2.6 2.3 2 0.4 1.3 -0.3 2 -1.5 3.3 -4.7 3.9 -8.5 8.6 -22.4 4.6 -10.6 4.6 -7.8 1.9 -2.4 2.7 -2.3 3.9 -2 4.6 -0.2 4.6 1.1 13.1 4.7 4.6 0.7 4.6 -0.4 4 -1.2 4.6 -2.3 13.7 -9.9 4.6 -2.9 4 -1.7 3.9 -0.7 5.3 0.5 5.2 2.4 5.3 3.8 11.1 10.2 5.3 4.1 5.3 2.8 5.2 1.3 3.9 -0.2 4.6 -1.2 4.6 -2 12.5 -6.6 7.9 -2.6 7.9 -0.5 16.4 1.8 4.6 -0.2 3.9 -0.8 6.6 -2.4 15.1 -7.8 3.9 -1.3 4 -0.7 5.2 0.4 5.3 1.9 5.2 3.1 11.2 7.7 5.3 2.8 4.6 1.3 4.6 -0.1 3.9 -1 4.6 -2.4 13.1 -9.8 4.6 -2.9 4.6 -1.8 4 -0.6 5.2 1 5.3 2.8 5.2 4.1 11.2 10.1 5.9 4.2 5.3 2.2 5.2 0.6 5.3 -0.9 5.9 -2.3 5.2 -3 7.3 -5.2 1.9 -2.3 10.5 -15.9 2 -1.7 1.3 0 3.3 1.6 3.3 3.4 3.9 5.7 6.6 10.9 2.6 5.3 5.9 14.9 2.7 4.9 3.2 3.4 3.3 2.5 2.6 1.4 2.7 0.5 2.6 -0.6 3.3 -2.7 9.8 -13.6 3.3 -3.8 4.6 -3.7 10.5 -7.1 4.6 -3.9 3.3 -4.1 7.9 -11.9 3.3 -3.8 1.9 -1.5 2.7 -1.2 5.2 -1.2 4 0.6 3.2 1.7 3.3 3 2.7 3.6 4.5 -1.1 4 -0.3 3.9 0.6 4 1.4 6.5 3.9 13.2 10.1 5.9 3.8 6.5 2.9 6.6 1.2 5.9 0 13.2 -1.5 6.5 -0.3 6.6 0.4 15.1 2.1 7.9 0 9.2 -1.8 17.7 -5.9 7.9 -1.3 7.2 0.3 15.1 2.3 7.2 -0.4 5.3 -1.7 5.9 -3.5 5.3 -4.2 10.5 -9.4 5.2 -3.9 4.6 -2.2 4 -0.7 2.6 0.2 2.6 0.8 2.6 1.4 3.3 2.4 6.6 7 12.5 16.6 5.9 6.8 5.9 4.7 3.3 1.6 2.6 0.7 4.6 -0.1 5.2 -1.7 5.3 -3.1 14.4 -10 5.3 -2.5 4.6 -1.4 3.9 -0.5 4.6 0.1 20.4 4.2 5.2 0.5 5.3 -0.2 9.8 -1.9 19.1 -6.3 7.9 -2.2 7.9 -1.6 7.8 -0.9 5.9 -0.2 5.3 0.4 5.3 1 4.5 1.3 4.6 2 5.3 2.8 13.1 8.7"/><path d="M248.5 277.3l4 10.2 1.9 3.7 1.3 1.7 1.4 0.9 1.3 -0.1 1.3 -1 1.3 -2.1 2 -5 2.6 -9.8 10.5 -54.1 5.3 -21.7 2.6 -7.7 3.3 -6.9 3.3 -3.9 1.3 -0.9 1.9 -0.5 2.7 0.5 2.6 1.9 2.6 3.1 2.6 4.1 5.3 10.5 13.1 30.3 4 7.8 3.3 5.4 3.9 5.2 3.3 3 3.3 2 3.9 1 4.6 -0.5 5.3 -2.2 4.6 -2.9 11.1 -8.3 5.9 -3.4 5.3 -1.9 5.2 -0.6 4.6 0.7 5.3 1.9 5.2 2.9 15.8 10.3 4.6 2.2 4.6 1.4 5.9 0.3 5.9 -1.2 5.9 -2.5 16.4 -8.7 5.3 -1.6 5.3 -0.4 5.2 0.8 5.3 2.1 5.2 2.9 11.2 7.3 5.2 2.7 5.3 1.7 5.2 0.3 5.3 -1 5.2 -2.3 17.8 -11.6 7.9 -4 3.9 -1.4 4.6 -1 10.5 -0.5 26.3 1.4 5.2 0.8 5.3 1.4 5.2 2.2 5.3 3 15.7 12.1 5.3 3.5 5.9 2.4 5.3 0.5 4.6 -1 5.2 -2.6 4.6 -3.3 14.5 -12.1 4.6 -2.8 3.9 -1.6 4.6 -0.7 4.6 0.3 4.6 1.3 15.1 5.6 4.6 0.7 4.6 -0.2 3.3 -0.8 3.9 -1.4 13.1 -7.2 4.6 -2 5.3 -1.3 7.2 -0.7 4 -4 3.9 -3.2 1.3 -0.5 1.3 0.4 2.7 2.6 5.2 7.5 10.5 18.3 4.6 10.6 2 3.7 3.9 3.5 3.3 1 2 -0.5 2.6 -2.2 8.5 -11.8 5.9 -6.5 4.6 -4 4 -2.3 6.6 -2 5.9 -0.5 3.9 0.5 12.5 2.8 9.8 1 16.5 -9.8 4.5 -1.7 4 -0.7 4.6 0.4 5.2 2.1 5.3 3.5 14.4 11.3 5.3 2.6 4.6 0.9 4.6 -0.6 4.6 -2 4.6 -3.2 14.4 -11.6 5.3 -2.7 4.6 -1 3.9 0.3 4.6 1.6 5.3 3.2 10.5 8 4.6 3 5.2 2.2 4.6 0.7 4 -0.4 3.9 -1.2 4.6 -2.3 14.5 -8.8 5.2 -1.9 4.6 -0.7 4.6 0.4 5.3 1.7 15.1 8.3 5.2 2.4 4.6 1.4 4.6 0.5 3.9 -0.3 4.6 -1 17.1 -6.2 7.9 -1.9 8.5 -0.4 17.8 2.1 8.5 0 8.5 -1.4 17.1 -4.6 7.2 -1 5.3 0.1 5.9 1 5.9 1.7 19.1 6.7 6.5 1.5 7.2 0.7 27.6 -1.3 7.3 0.4 17 1.9 9.2 -0.1 5.3 -0.9 5.9 -1.7 5.9 -2.5 8.5 -4.2"/><path d="M248.5 238.9l24.3 4.5 6.6 1.6 8.5 3.2 17.1 8.3 4.6 1.3 4.6 0.6 4.6 -0.5 5.2 -1.7 4.6 -2.4 13.8 -8.3 4.6 -2 4 -1.2 7.9 -0.7 13.7 1.3 6 0 5.9 -0.8 13.8 -3.1 7.2 -0.3 5.2 1.2 5.3 2.4 15.1 10.6 4.6 2.8 4.6 1.8 4.6 0.6 3.9 -0.4 4.6 -1.6 4.6 -2.3 15.8 -9.5 5.9 -2.3 5.2 -1 4.6 -0.2 5.9 0.4 17.1 2.5 21.7 2.5 26.3 3.9 8.5 0.6 8.5 0.1 9.9 -0.8 8.5 -1.6 8.6 -2.6 18.4 -7.3 5.2 -1.2 5.3 -0.4 5.2 0.8 5.9 2 5.3 2.7 13.1 7.9 7.2 3.4 7.9 2 8.6 0.5 7.8 -0.5 9.2 -1.2 6.6 -1.4 5.2 -1.7 4.6 -2.1 5.3 -3.1 14.4 -11 6.6 -4.2 3.3 -1.5 4.6 -1.4 3.3 -0.7 2.6 0 3.9 0.9 4.6 2.1 4 2.8 3.3 3.4 3.9 5.8 6.6 11.5 6.5 16.6 2 4 2.6 3.1 2.7 2.3 2.6 1.4 2 0.2 2.6 -0.8 2.6 -2 12.5 -14.7 7.9 -7 7.2 -5.5 11.2 -7.2 3.9 -2.1 9.2 -2.9 6.6 -1.2 3.2 0.1 4 0.7 4.6 -0.6 5.2 -0.1 8.6 1.1 15.1 3.3 21.7 3.9 7.8 2.3 19.1 7.1 5.9 1.2 5.2 0.3 7.3 -1.1 7.8 -3 7.3 -3.8 17.7 -10.6 8.5 -4.1 7.9 -2.3 6.6 -0.1 6.6 1.7 6.5 3.8 5.9 4.9 12.5 12 5.9 4.5 5.3 2.6 4.6 0.8 5.2 -0.9 5.3 -2.5 5.2 -3.6 13.8 -11.1 7.9 -4.7 3.9 -1.5 4.6 -1.2 4.6 -0.5 5.3 0.1 10.5 1.4 10.5 2.9 7.9 3.4 15.1 7.9 5.9 2.3 5.9 1.3 5.9 -0.3 4.6 -1.1 5.3 -2.2 21.6 -10.6 5.3 -3.1 3.9 -3.3 3.3 -3.6 9.9 -13.8 3.3 -4.1 3.2 -2.7 2.7 -0.7 1.9 0.5 1.3 0.7 2.7 2.8 2.6 4.6 2.6 6.3 5.3 18 7.9 35.1 3.2 12.9 3.3 8.5 2 2.2 1.3 0.3 2 -1.3 2.6 -4.7 9.2 -25.7 2.6 -5.8 2 -3.2 2.6 -3 2.7 -1.8 3.2 -1 4.6 -0.4"/><path d="M248.5 244.3l7.2 -4.4 4.6 -2.3 4.6 -1.5 4 -0.5 3.9 0.2 4.6 1.2 4.6 2 13.2 6.6 4.5 1.6 4 0.7 3.9 0 4.6 -0.7 16.4 -4.8 6.6 -0.2 4.6 1.2 4.6 2.2 4.6 3.1 9.9 7.6 4.6 2.9 4.5 1.7 4 0.3 4.6 -1.2 5.2 -3.4 4.6 -4.4 11.2 -12.2 4.6 -4.1 4.6 -2.5 2.6 -0.5 2 0 4.6 1.5 5.2 4.1 4.6 5.1 9.9 12.5 5.2 5.5 4.6 2.9 2.7 0.8 1.9 0.1 2 -0.4 2.6 -1 5.3 -4.2 4.6 -5.3 11.8 -15.9 5.3 -5.7 2.6 -2 2.6 -1.4 4.6 -0.9 3.9 0.7 4 2.1 4.6 3.5 9.8 9.4 4.6 3.9 4.6 2.9 4.6 1.6 4.6 0.3 4.6 -0.8 4.6 -1.7 11.8 -5.3 7.9 -2.1 7.2 0 15.8 3 7.2 0.5 7.9 -1.3 15.8 -4.8 3.9 -0.6 3.3 0.1 5.2 1.1 6 2.8 5.2 3.7 11.2 9.1 5.2 3.3 4.6 1.9 4.6 0.6 4.6 -0.8 5.3 -2.5 5.2 -3.7 13.8 -11.2 4.6 -2.8 4 -1.6 5.2 -0.9 5.3 0.4 5.2 1.4 15.8 5.7 4.6 0.8 3.9 -0.3 4.6 -1.3 2.6 -1.3 18.4 -14.6 3.3 -1.8 2.6 -0.3 2 0.5 2.6 1.7 5.3 5.9 6.6 9.7 3.9 8.8 2 3.4 4.6 4.6 1.9 0.9 2 0.1 3.9 -1 4 -2.2 9.8 -7.8 18.4 -13.4 2.7 -2.8 6.5 -9.1 2 -1.6 1.3 -0.4 2.6 0.7 3.3 1.7 5.3 4.7 4.6 6.4 5.9 11.8 0.6 0.5 5.9 3.6 5.3 2.5 4.6 1.4 4.6 0.6 5.2 -0.5 6 -1.9 6.5 -3.5 13.2 -8.5 5.9 -3.3 6.5 -2.4 5.9 -0.8 6 0.8 6.5 2.6 5.9 3.4 13.2 8.8 6.5 3.4 6.6 1.8 5.9 -0.2 5.3 -1.6 5.9 -3.3 5.2 -4.1 13.2 -11.3 6.5 -4.6 6.6 -2.8 5.9 -0.6 5.3 1.1 5.2 2.5 5.3 3.5 16.4 12.7 5.2 2.9 5.3 1.7 5.2 0.4 5.3 -1 4.6 -1.8 9.8 -5.3 4 -1.5 3.3 -0.3 2.6 0.9 2 1.6 1.9 2.5 3.3 6.3 3.3 8.8 5.9 18.4 2.6 6.7 2.7 4.4 1.3 1.1 1.3 0.4 2 -1 2.6 -3.5 9.2 -20.5 4.6 -7.3 2.6 -2.6 3.3 -2 11.8 -3.7 6.6 -3.1 6.5 -4.3 5.3 -4.5 4.6 -5.1 4.6 -6.9 13.8 -26.4 3.3 -4 1.9 -1.2 1.4 -0.2 2.6 0.9 3.3 3.7 3.2 5.8 9.9 20.8 3.9 5.8 3.3 2.9 3.3 1.3 3.3 0 3.3 -0.9 11.8 -4.6 4.6 -0.6 3.9 0.4 4 1.3 4.6 2.6 14.4 11.4 5.3 3.4 3.3 1.4 2.6 0.7 5.2 -0.1"/></g>
<g clip-path="url(#cb)" fill="none" stroke="#080a0e" stroke-opacity="0.26" stroke-width="4.2" stroke-linejoin="round" stroke-linecap="round"><path d="M248.5 584.8l2.7 4.1 3.2 8.7 9.2 33.2 4 12.2 1.9 4.6 2 3.4 2 2.2 2 1 2.6 -0.4 3.3 -2.7 14.4 -21.3 3.9 -4.5 9.9 -10 10.5 -12.6 3.9 -3.3 2 -0.7 1.3 0 2.7 1.2 1.9 2.1 4 7.3 3.9 10.7 7.9 25.5 3.9 10.1 2 3.3 1.3 1.5 2 1 1.3 -0.2 1.3 -0.9 2 -2.6 3.3 -7.3 3.2 -10.3 7.3 -25.8 3.9 -11.2 3.3 -5.8 1.3 -1.2 2 -0.7 1.3 0.3 1.3 0.9 3.3 4.5 3.3 7 6.5 15.9 4 7.6 3.3 3.8 2.6 1.2 2 -0.1 2.6 -1.4 11.2 -11.7 2.6 -1.7 2.6 -0.7 2.6 0.5 3.3 2 9.2 9.7 3.3 2.7 3.3 1.4 3.3 -0.3 2.6 -1.4 3.3 -3.2 11.8 -16.7 5.2 -5.7 3.3 -2.2 2.7 -0.8 2.6 -0.1 3.3 0.8 2.6 1.4 2.6 2.1 5.3 5.8 5.9 9.2 9.8 18.9 3.3 5.5 4 4.7 1.9 1.1 1.3 0.3 2 -0.6 2 -1.7 2 -2.9 1.9 -4.1 4.6 -13.7 9.2 -35.7 3.3 -11 2 -5.1 1.9 -3.7 2 -2 2 -0.2 1.9 1.6 2 3.5 4 12.2 3.9 17.4 7.9 39.7 3.9 15.9 2 5.8 2 3.9 1.9 2.1 1.3 0.3 1.4 -0.7 1.9 -2.5 3.3 -8.3 4 -15.1 8.5 -40.2 3.9 -16 4 -11.1 1.9 -3.4 2 -1.8 1.3 -0.3 2 0.8 2 2.3 1.9 3.6 4.6 12.5 9.9 34.6 4.6 13.6 2.6 5.8 2.6 4.1 2 1.9 2.6 0.8 1.3 -0.3 2 -1.3 2 -2.2 2 -3 4.5 -9.7 9.2 -23.7 4 -8.8 2.6 -4.7 2 -2.6 1.9 -1.9 2 -1 2 -0.3 2 0.6 1.9 1.3 2.7 2.8 3.9 5.9 11.2 20.1 3.2 4.5 2.7 2.7 3.3 2.1 3.2 0.6 3.3 -0.7 4 -2.3 3.2 -2.8 2.7 -3 2.6 -3.8 2 -3.9 3.9 -11.6 6.6 -25.6 1.9 -4 0.7 -0.4 0.7 0.2 1.3 2.3 1.3 5.1 2.6 19.3 2.6 30.9 6.6 95.1 2 16.3 1.3 3.9 0.6 -0.2 0.7 -1.7 2 -12.7 6.5 -74.5 2 -16.4 2.6 -13.8 2.7 -6.9 1.9 -2.6 2.7 -2.3 13.8 -26.9 3.2 -4.6 2 -1.6 1.3 -0.6 1.3 -0.1 2 0.9 3.3 3.6 3.3 6 7.9 18 3.9 7.8 3.9 5.7 2 2 2.6 1.7 2 0.6 2.6 0.1 2.7 -0.6 2.6 -1.3 5.9 -4.4 10.5 -10.4 5.3 -4.3 5.2 -2.9 2.6 -0.8 2.7 -0.2 3.9 1.1 3.3 2.5 4.6 5.5 8.5 12.7 3.3 4.3 3.3 3 2 0.9 1.3 0.2 1.9 -0.6 2 -1.5 4 -5.5 3.9 -8.4 8.5 -21.3 4 -7.8 3.3 -3.7 1.9 -0.7 1.3 0.3 1.3 0.8 2 2.4 4 8.1 10.5 32.3 3.9 10.2 3.3 5.5 2 1.7 1.3 0.4 1.3 -0.2 2 -1.4 3.2 -4.9 3.3 -7.7 7.2 -21.2 3.3 -8.5 4 -7.2 1.9 -1.9 1.4 -0.7 1.3 -0.3 1.9 0.6 3.3 3 4 6.2 7.8 15.3 3.3 5.5 4 4.6 1.9 1.4 2.7 0.9 2.6 -0.1 2.6 -0.8 7.2 -4.4 6.6 -5 14.5 -13.1 5.2 -4.1 4 -1.5 1.9 -0.1 2 0.7 3.3 2.7 3.9 5.8 9.9 21 3.2 6.1 3.3 3.9 2.7 1.1 1.9 -0.6 1.3 -1.1 3.3 -4.9 3.3 -7.7 7.2 -21.2 3.3 -8.3 3.3 -5.4 2 -1.5 1.3 -0.1 1.3 0.6 2 2.1 1.9 3.6 2 4.7 7.9 24.6 3.9 18.4 3.3 12 2 5 1.3 2.3 1.3 1.4 1.3 0.4 1.3 -0.5 2 -2.5 3.3 -8.3 3.3 -12.6 7.9 -36.7 3.2 -13.4 4 -11.4 1.9 -3.5 2 -1.8 2 -0.3 2 1.3 1.9 2.6 2 3.7 3.9 9.9 9.9 28.5 3.3 7.9 3.3 6.5 3.2 5.1 3.3 3.5 3.3 2.2 2.6 0.6 2.7 -0.4 2.6 -1.5 2.6 -2.9 2.6 -4.2 2.7 -5.6 3.3 -8.8 9.1 -29.9 4 -10.9 2 -3.9 1.9 -2.6 2 -1.1 2 0.6 1.3 1.4 2 3.4 3.2 9.2 3.3 12.6 7.2 32 3.3 12.1 3.3 8.1 2 2.4 1.3 0.6 1.3 -0.4 1.3 -1.2 1.3 -2 2 -4.5 3.3 -10.5 9.2 -35.3 2.6 -7.2 2.6 -4.6"/><path d="M248.5 653.5l2 -3.8 2.6 -6.7 7.9 -25.5 3.9 -10.7 2 -3.8 2 -2.7 1.3 -1 2 -0.5 2.6 1.1 2.6 3 3.3 5.6 7.2 14.9 3.3 5.8 4 5.3 3.9 3.1 2.6 0.9 3.3 0 2.6 -0.8 3.3 -1.8 5.9 -5.3 12.5 -14.9 3.3 -2.5 3.3 -0.9 2.6 0.7 3.3 2.7 3.3 4.7 7.2 13.3 2.6 4.1 2.6 2.8 2.7 1 1.9 -0.5 1.4 -1 3.2 -4.7 3.3 -7.3 6.6 -17.3 3.3 -6.9 1.9 -2.8 1.4 -1.1 1.3 -0.5 1.3 0.2 2.6 2.3 3.3 6.2 3.3 9.2 6.5 20.9 3.3 8.5 3.3 5.3 1.3 1.1 1.3 0.5 1.3 -0.1 2 -1.4 3.3 -5 3.3 -7.6 8.5 -22.9 4 -8.2 3.9 -5.2 2 -1.4 1.9 -0.5 2 0.1 2.6 1.2 2.7 2.3 2.6 3 5.9 9.3 13.8 26.1 3.9 5 2 1.3 1.3 0.4 2 -0.1 1.3 -0.7 2 -1.9 1.9 -2.8 4 -8.2 7.9 -21 3.2 -7.4 3.3 -5.1 2 -1.6 1.3 -0.4 2.6 0.6 3.3 3.4 3.3 5.4 6.6 12.7 3.9 5.9 2.6 2.5 3.3 1.4 3.3 -0.3 8.5 -3.1 3.3 -0.2 4 1.3 9.8 6.3 2.6 0.6 2.7 -0.7 2.6 -2 3.3 -4.3 9.2 -18 3.3 -5.6 3.2 -3.4 2.7 -1 1.3 0.2 2 1.1 3.2 3.8 3.3 5.6 7.9 15.5 3.9 6.3 4 4.1 3.9 2 3.3 0.3 3.9 -0.9 4.6 -2.3 4 -2.9 3.9 -3.9 3.3 -4 12.5 -18 3.3 -3 2.6 -1 2 0.2 1.3 0.6 3.3 3.2 3.2 5.2 9.9 19.4 2.6 3.5 2.7 2 2.6 0.2 3.3 -2 2.6 -3.1 6.6 -9.9 2.6 -3.4 2.6 -2.2 2.6 -0.8 2.7 0.7 2.6 2 7.9 10 2.6 2.7 2.6 1.6 2 0.2 2 -0.6 2.6 -2.3 4.6 -7.2 7.9 -17.5 11.8 -30.7 2.6 -4.5 1.3 -0.9 0.7 0 1.3 1 0.7 1.2 1.3 3.8 1.9 9.9 1.4 9.7 3.2 35.4 7.3 100.3 1.9 16.7 1.3 5.5 0.7 1 0.7 -0.2 0.6 -1.4 2 -10.4 7.9 -78.7 2.6 -19.6 2.6 -13.9 4 -15.7 7.2 -21 4.6 -10.2 2 -2.7 1.9 -1.4 2 0.3 1.3 1.1 1.3 1.9 2 4.2 3.9 12.8 7.3 30 3.2 12 2 5.6 2 4 1.9 2.4 1.4 0.6 1.3 -0.2 1.3 -1 1.3 -1.7 2 -3.8 3.3 -8.9 6.5 -22 3.3 -9.7 2 -4.5 1.9 -3.4 2 -2 1.3 -0.6 1.3 0.1 2 1.2 3.3 4.5 10.5 23.5 4.6 8.1 3.9 4.2 2 1.2 2.6 0.5 2.7 -0.5 3.2 -1.6 3.3 -2.5 4 -3.8 6.5 -8.3 11.9 -18.3 3.2 -3.7 3.3 -1.9 2 -0.2 2 0.7 1.9 1.5 2 2.5 3.9 7.1 7.3 16.5 3.3 6.5 3.9 5.2 2 1.3 1.9 0.4 2 -0.4 2.6 -1.6 9.9 -10.7 4.6 -3.5 4.6 -1.4 8.5 -0.4 2.6 -0.9 2 -1.1 4 -3.7 9.8 -12.7 3.3 -2.1 2.6 0.1 1.3 0.7 2 1.9 3.3 5.3 3.3 7.4 7.2 18.7 3.3 6.8 3.3 4.3 2.6 1.3 1.3 -0.2 2 -1.2 3.2 -4.1 11.2 -22.3 4.6 -7.3 4.6 -4.5 2.6 -1.4 2.7 -0.7 4.6 0 5.9 1.1 3.9 1.7 3.9 2.8 2.7 2.7 3.3 4.5 9.8 17.2 3.3 5 3.3 3.4 1.9 1 1.4 0.2 1.3 -0.1 1.9 -0.8 4 -3.9 15.1 -23.8 3.9 0.7 8.6 4 2.6 0.5 2 -0.1 3.9 -1.9 9.2 -8.4 2 -1.4 1.9 -0.7 2 0 2 0.7 3.3 3.3 3.2 5.3 9.9 19.7 3.3 4.1 1.9 1.1 1.4 0.2 2.6 -1.1 3.3 -4 3.3 -6.1 7.2 -16.5 3.3 -6.4 3.9 -5.3 3.3 -2 2 -0.2 1.9 0.5 2.7 1.5 2.6 2.4 6.5 7.7 17.8 23.5 3.9 3.9 2 1.3 2 0.7 2.6 -0.4 2 -1.2 1.9 -2.1 2 -3 3.9 -8.4 9.9 -25.7 2.6 -5 2.6 -3.1 2 -1 1.3 0.1 1.3 0.7 2 2 3.3 5.7 3.9 9.7"/><path d="M248.5 620.7l4 0.2 3.2 1 4 2.1 8.5 6.4 3.3 2 4 1.4 3.9 0.2 4.6 -1.2 13.1 -6.1 13.8 -4 4.6 -2.3 10.5 -6.7 3.3 -1.3 3.3 -0.2 2.6 0.7 3.3 1.9 3.3 3 9.8 10.5 3.3 2.4 2.6 1 2.7 0.3 2.6 -0.4 11.8 -5.4 5.3 -0.8 5.2 1.1 11.2 4.7 3.3 0.7 3.3 0.1 7.2 -1.4 13.8 -4.4 4.6 -1.8 6.5 -4.3 12.5 -11.5 3.3 -1.7 3.3 -0.4 1.9 0.6 2 1.1 4 4.1 3.2 4.9 8.6 14.2 3.9 5.2 4 3.2 1.9 0.8 2 0.2 2.6 -0.4 3.3 -1.4 11.8 -8.5 6.6 -3.9 7.2 -3.2 7.2 -2.2 4 -0.6 3.9 0.1 4.6 1.1 10.5 3.8 3.3 0.3 3.3 -0.7 2.6 -1.2 2.7 -1.8 10.5 -9.4 2.6 -1.4 2.6 -0.5 3.3 0.9 3.9 3.3 3.3 4.3 7.9 12.1 3.9 4.8 3.3 2.4 3.3 0.7 2.6 -0.5 2.7 -1.4 11.1 -9.4 3.3 -2.1 2.6 -1.1 4.6 -1 12.5 -0.7 14.5 -3.2 3.2 -0.1 4 0.5 11.8 3.8 5.3 1 4.6 0.2 11.1 -0.6 9.9 0.2 7.2 -1 11.8 -4.8 4.6 -0.7 3.9 1 7.3 4.6 1.3 0.4 1.3 -0.1 2 -1.5 1.9 -3.4 7.3 -20.2 1.3 -1.8 1.3 -0.4 1.3 1.1 1.3 2.3 5.3 13.8 1.9 3.9 1.4 1.6 1.3 1 1.9 0.3 6.6 -2.4 2 -0.2 1.3 0.5 1.3 1.1 1.3 2 2 5.8 2 10.4 1.9 16.5 2 23.2 5.9 84.1 1.3 10.7 0.7 2.7 0.6 0.9 0.7 -0.9 1.3 -7.4 2 -23.7 5.9 -111.8 2.6 -39.3 2.6 -23.4 1.4 -6 0.6 -1.7 1.3 -1.3 1.3 1.2 1.3 3 7.9 30 2.7 7.7 2.6 5.4 3.3 4.5 7.8 7.8 4 4.5 13.1 17.8 3.3 3.1 3.3 1.5 2 -0.1 1.9 -0.8 2 -1.5 2.6 -3.1 4 -6.6 9.8 -19.5 2.6 -3.7 2.7 -2.3 2.6 -0.8 3.3 0.9 3.3 2.6 9.2 10 3.2 2 2.7 0.3 2.6 -1.1 2.6 -2.2 7.9 -9.6 3.3 -3.3 2.6 -1.8 2.6 -0.6 3.3 0.9 4 3.6 3.2 4.6 7.3 11.6 4.6 5.6 3.9 2.9 2 0.8 2.6 0.4 5.9 -0.9 11.2 -3.6 8.5 -3.7 13.8 -6.8 5.9 -2.2 5.3 -1 7.9 0.1 3.9 -0.4 3.9 -1.1 8.6 -3.1 3.9 -0.7 4.6 0.9 3.9 2.4 4 4 7.9 10.4 3.3 3.7 3.2 2.4 3.3 0.8 2.6 -0.5 3.3 -2 3.3 -3.1 9.2 -10.2 3.3 -2.4 3.3 -0.9 3.3 0.4 3.9 2.2 11.8 11.6 4.6 3.8 4 2 3.9 0.8 3.9 -0.8 3.3 -2 3.3 -3.6 3.3 -5.4 3.3 -0.5 3.3 -1.4 3.9 -2.4 9.2 -6.9 2.6 -1.3 2.6 -0.6 3.3 0.4 3.3 1.8 4 3.5 7.2 8.3 3.3 3.2 3.2 2.1 3.3 0.9 2.7 -0.3 2.6 -1 11.8 -8 3.3 -1.5 3.3 -0.7 3.9 0.1 8.5 1.7 4.6 0.4 12.5 -1.5 4.6 0 4 0.5 9.2 2.3 4.5 0.2 2.7 -0.5 3.3 -1.2 12.4 -7.3 3.3 -1 2.6 -0.3 2.7 0.3 3.3 1 12.4 5.8"/><path d="M248.5 619.7l4.6 3 11.8 10.2 3.3 1.8 3.3 0.7 3.3 -0.5 3.9 -2.2 4.6 -4.5 8.6 -10.8 3.3 -3.6 3.9 -2.9 3.9 -1.1 3.3 0.7 3.3 2.1 3.9 4 7.9 10 4 4.3 3.9 3 3.3 1.2 3.3 -0.2 3.3 -1.3 3.2 -2.2 7.9 -6.8 4 -2.9 4.6 -2.1 3.9 -0.5 4.6 0.8 10.5 4 5.3 1.2 5.2 0 11.8 -1.8 5.9 0.3 4.6 1.2 10.5 4.1 5.3 0.9 3.3 -0.3 3.3 -1 13.8 -7 3.2 -0.7 2.7 0.2 3.2 1 3.3 2.1 9.2 8.2 3.3 2.5 3.3 1.5 2.6 0.2 2 -0.4 2 -1 3.9 -3.4 3.3 -4.1 7.9 -11.4 3.9 -4.5 3.3 -2.4 3.3 -0.7 3.3 0.9 3.2 2.5 11.9 14.4 3.2 3.1 2.7 1.5 3.3 0.6 3.9 -1.3 3.3 -2.3 7.9 -7.7 3.2 -2.7 3.3 -1.6 3.3 -0.3 3.3 1.1 3.3 2.5 10.5 12 3.9 3.8 3.3 2.1 2.6 0.8 3.3 -0.2 3.3 -1.3 11.8 -8.7 5.3 -2.8 2.6 -0.6 3.3 -0.1 12.5 3 3.2 0.3 2.7 -0.3 2.6 -0.7 3.3 -1.5 13.1 -8.5 3.3 -1.3 3.3 -0.5 2.6 0.2 3.3 0.9 12.5 6.6 5.9 1.9 5.9 -0.1 12.5 -2.8 3.3 0 2.6 0.4 5.9 2.5 9.2 6.1 3.9 2.2 4 1.2 3.9 0 2.6 -0.7 2.7 -1.2 4.6 -3.9 3.2 -4.9 3.3 -8.6 2.7 -10.9 1.9 -10.9 7.9 -53.7 2 -8.1 1.3 -2.4 0.6 -0.3 0.7 0.4 1.3 2.8 2.6 12.5 10.5 81.1 4 39.1 7.2 95.6 2 15.5 1.3 3.8 0.7 -0.3 1.3 -5.1 1.3 -11.7 7.9 -108.3 1.9 -18.7 2.7 -16 1.9 -6.6 2.7 -4.5 1.9 -1.5 7.2 -3.9 7.9 -7.3 2.7 -1.5 1.9 -0.1 1.3 0.5 2.7 2.7 2.6 4.6 8.5 18.4 2.7 3.7 2.6 2.1 2.6 0.5 2.6 -0.8 3.3 -2.4 7.2 -7 3.3 -2.5 4 -1.8 3.9 -0.1 3.9 1.5 4 3.2 3.3 3.8 7.2 9.7 3.9 4.2 3.3 2.1 2.6 0.6 3.3 -0.7 3.3 -2.4 3.3 -3.9 7.2 -11 3.3 -4.3 3.9 -3.5 3.3 -1.1 3.3 0.7 3.3 2.4 3.3 3.9 7.9 12 3.2 4.2 4 3.2 3.3 0.8 3.2 -0.8 4 -2.9 11.2 -13.2 4.6 -4.6 3.9 -2.5 3.3 -0.7 2.6 0.3 2.6 0.9 12.5 7.7 6.6 2.6 6.5 1.3 12.5 1.1 13.2 2.6 4.5 -0.4 5.3 -2 3.9 -2.3 8.6 -6.1 3.9 -2.1 3.3 -0.9 3.3 0.3 3.3 1.2 3.9 2.8 11.8 11.8 4 3.3 4.6 2.6 4.6 0.8 5.2 -0.7 10.5 -3.5 9.9 -2.5 3.3 -1.4 2.6 -1.8 4.6 4.5 3.9 2.8 3.3 1 3.3 -0.4 3.3 -2.1 3.3 -3.3 9.8 -14 4 -4.8 3.2 -2.7 3.3 -1.2 3.3 0.5 3.3 2 3.9 4 7.9 10 3.9 4.3 4 2.8 3.9 1.1 2.7 -0.3 3.2 -1.2 12.5 -7.5 3.3 -1 2.6 -0.2 3.3 0.6 3.3 1.3 11.2 7.1 3.9 2 4.6 1.2 3.9 -0.1 6.6 -2.1 13.1 -7.1 7.3 -3.2 8.5 -2.6 8.5 -1.4"/><path d="M248.5 613.8l5.9 7.7 5.3 4.7 3.3 1.7 9.8 4 11.2 7.9 2.6 1 2 0 2 -0.7 1.9 -1.6 3.3 -4.5 3.3 -6.6 7.2 -17 3.3 -5.9 2.6 -2.7 1.3 -0.5 1.4 0.1 2.6 2 3.3 5.7 9.2 25.5 3.2 7.5 2.7 3.6 1.3 0.9 1.3 0.2 1.3 -0.5 1.3 -1.1 3.3 -5.6 2.6 -6.6 6.6 -19.3 3.3 -7.7 2 -3.1 1.3 -1.3 1.3 -0.6 1.3 0.1 1.3 0.7 1.3 1.4 3.3 6 9.9 28.2 3.2 7.6 3.3 4.7 1.3 0.9 1.3 0.2 1.4 -0.3 1.9 -1.5 3.3 -4.9 3.3 -7.1 7.2 -18.2 4 -8.1 3.9 -5.2 1.3 -1 2 -0.8 1.3 0 2 0.6 3.3 2.6 3.9 5.2 8.5 14.6 4 5.8 2.6 3 2 1.6 1.9 0.9 2 0.3 2.6 -0.6 2.7 -1.7 3.2 -3.4 9.2 -11.4 3.3 -2.6 2.7 -0.9 2.6 0.2 3.3 1.9 3.2 3.3 6 7.1 3.2 3 3.3 1.5 2.6 -0.4 2.7 -1.7 2.6 -2.9 11.2 -16.9 3.3 -2.9 2.6 -0.7 2.6 0.8 2.6 2.2 3.3 4.4 9.2 14.7 3.3 3.6 3.3 1.9 3.3 0.1 3.2 -1.4 11.9 -9.6 6.5 -3.9 9.9 -3.2 7.2 -0.9 3.9 0.7 4 2.1 3.9 3.6 9.9 11.4 3.3 2 2.6 0.2 1.3 -0.5 2 -1.5 3.3 -4.4 9.1 -19 2.7 -4.6 2.6 -3.2 2.6 -1.1 1.3 0.2 2 1.5 3.3 5 3.3 7.6 6.5 17.7 3.3 6.9 2 2.8 1.3 1.2 1.3 0.6 1.3 0 2 -1.1 2.6 -3.2 2.7 -4.9 8.5 -18.9 3.3 -4.9 2.6 -2 2.6 -0.1 2.7 1.5 2.6 2.8 7.9 10.2 2.6 2.1 2.6 1 2 -0.2 2.6 -1.3 9.9 -9.6 3.9 -2.2 2 -0.2 2 0.4 7.8 4.7 2 0 2 -1.6 1.9 -3.6 1.4 -4 2.6 -11.5 7.2 -47.6 2 -10.7 2 -6.5 1.3 -1.6 0.6 0.1 0.7 0.7 1.3 3 2 8.2 7.8 49.2 2.7 12.8 1.9 7.2 2.7 6.4 2.6 3.7 2.6 1.9 4.6 1.7 2 1.8 2 4.3 1.3 5.3 1.9 13.1 2 20.5 5.9 82.9 1.3 10.1 0.7 2.5 0.6 0.5 0.7 -1.4 0.7 -3.5 1.9 -21.9 5.3 -98.9 2.6 -39.4 1.3 -13.1 1.3 -8.7 1.4 -4.9 1.3 -1.9 0.6 0.1 1.3 1.5 2 4.9 8.5 32.7 4.6 14.1 2 4.3 2.6 3.9 2 1.8 2.6 0.9 2.7 -0.6 3.2 -2.1 13.2 -14.5 3.3 -2.8 3.2 -1.9 2.7 -0.6 3.3 0.2 10.5 4.6 2.6 0.6 2.6 -0.1 2.6 -0.8 2.7 -1.3 9.8 -7.3 4 -1.4 3.2 0.8 2.7 2.1 3.3 4.2 7.2 11.9 3.3 4.8 3.2 3 2 0.7 1.3 -0.1 2.7 -1.5 3.2 -4.2 9.2 -19.1 3.3 -5.6 3.3 -3.4 2.6 -0.8 2.7 0.9 2.6 2.4 2.6 3.5 9.2 14.7 3.3 3.4 2.6 1.3 2.6 0.2 2.7 -0.9 8.5 -6.2 4.6 -2.1 3.9 0.1 9.2 3.3 4 0.5 4.6 -1.1 9.2 -4.4 3.9 -0.8 2.6 0.5 2.7 1.4 3.2 2.9 7.3 7.7 2.6 1.7 2 0.5 1.3 -0.2 1.9 -1 3.3 -3.3 3.3 -5.2 6.6 -12.2 3.3 -4.8 2.6 -2.1 2.6 -0.3 2.6 1.6 2.7 3.5 10.5 21.3 2.6 3.9 2.6 2.4 2.7 0.6 1.3 -0.4 1.9 -1.3 2.7 -2.8 8.5 -11.8 3.3 -2.4 2.6 -0.3 2.6 1.3 2.7 2.8 10.5 16.7 2.6 2.5 2 0.8 1.9 -0.5 1.4 -0.9 2.6 -3.7 2.6 -0.4 3.3 -2.1 11.2 -12.2 4.6 -4 5.9 -3.2 7.2 -1.8 3.9 -0.4 4 0.2 3.3 0.8 3.2 1.7 2.7 2 3.3 3.2 9.1 11.1 3.3 3.3 4 2.7 3.3 0.6 3.2 -0.8 4 -2.8 3.9 -4.4 9.2 -12.3 4.6 -5.5 4.6 -4 3.9 -1.9 2.7 -0.3 2.6 0.5 2.6 1.3 2.7 2.3 4.6 5.9 11.1 17.9 3.3 3.4 3.3 1.4 1.3 -0.1 2 -0.8 3.2 -3.2 3.3 -5.1 7.3 -12.8 3.9 -4.7 2 -1.1 1.9 -0.1 2 0.9 2.6 2.8"/><path d="M248.5 624.6l7.9 1.8 4.6 0.3 3.9 -0.6 9.2 -3 4.6 -0.1 2.7 0.7 2.6 1.4 10.5 8.1 3.3 1 2.6 -0.4 3.3 -2.5 3.3 -4.6 3.3 -6.2 7.2 -15.6 3.3 -5.6 3.2 -3.2 2 -0.4 1.3 0.4 2 1.6 2 2.8 3.9 8.8 3.3 10 8.5 29.3 4 10.9 2.6 5.3 2 2.5 1.9 1.4 2 0.1 2 -1.2 2.6 -3.6 2 -4.1 2.6 -7 4.6 -16.1 9.9 -40 4.5 -15.4 2 -4.9 2 -3.6 2 -2.3 1.9 -0.7 2 0.9 2 2.5 1.9 4.1 2 5.5 4.6 17.6 9.2 43.7 3.9 16.2 2.7 8.5 1.9 4.7 2.7 3.9 1.9 1.2 2 -0.4 2.6 -2.9 2 -3.7 2.6 -6.7 4.6 -15.6 9.9 -37.9 5.2 -16.4 2.7 -6 1.9 -3.3 2.7 -2.7 1.9 -0.7 2 0.4 2 1.6 1.9 2.7 2 3.7 4.6 11.9 8.5 27.4 4 10.9 2.6 5.6 2 3 1.9 1.9 2 0.7 1.3 -0.1 2 -1 3.3 -3.6 9.8 -18 4 -6 3.3 -3.1 1.9 -1.1 2 -0.4 3.9 0.7 9.2 4.3 4 0.6 4.6 -1 9.8 -4.4 2.6 -0.5 2.7 0.2 4.6 1.9 9.8 6.9 2.6 1 2.7 0.3 2.6 -0.5 3.3 -1.8 8.5 -7.5 3.3 -2.3 2.6 -1 2.7 0 2.6 1 3.3 2.5 10.5 13 3.3 3.4 3.9 2.4 3.3 0.6 3.3 -0.8 3.3 -1.9 14.4 -12.4 8.5 -5.9 4.6 -2.4 4 -1.5 3.3 -0.8 3.2 -0.1 4 0.7 4.6 2.2 14.4 11.7 4 2.5 3.3 1.4 3.9 1.1 5.2 0.5 9.9 -0.1 5.2 -0.7 2.7 -0.9 1.9 -1.1 2 -1.8 2 -2.6 3.3 -6.6 7.9 -21.1 1.9 -3 2 -0.9 2 1.2 1.9 3 7.9 18.8 4 12.2 5.9 24.2 1.3 3.5 1.3 1.7 0.6 0 0.7 -0.5 2 -4.4 5.2 -21.1 3.3 -9.4 2 -3.2 3.3 -2.7 4.6 -6.3 2.6 -2.7 2.6 -2 2.6 -1.2 2.7 -0.4 2.6 0.6 2 1.1 4.6 4.6 7.8 11.7 3.3 4.1 3.3 2.5 2 0.7 2 0 3.9 -1.4 4.6 -3.1 11.8 -10.4 11.8 -12.6 3.3 -2.2 2.6 -0.5 2.7 0.9 1.9 1.8 4 6.4 4.6 11.7 7.9 25.6 3.2 9.2 3.3 6.3 2 1.9 1.3 0.4 1.3 -0.3 2 -1.7 2 -3.3 1.9 -4.7 4 -13 7.9 -32.9 3.9 -14.2 2.6 -7.1 2 -3.7 2 -2.3 1.9 -0.8 1.3 0.3 2 1.6 2 2.9 2 4 3.9 11.2 8.5 29.5 4 11.7 2.6 6 2 3.4 1.9 2.4 2 1.2 2 0.1 1.9 -1 2 -2.1 2 -3 4.6 -10.1 8.5 -24.5 4 -9.8 1.9 -3.8 2 -2.7 2 -1.6 1.9 -0.5 2 0.7 2 1.8 3.9 6.4 4 9.3 9.2 24.5 4.6 9.3 2.6 3.4 2 1.5 2.6 0.6 2.6 -0.9 2 -1.6 2.6 -3.3 4.6 -8.2 4.6 -10.5 8.5 -22 4.6 -9.9 4 -5.6 1.9 -1.6 2 -0.6 2 0.4 2 1.5 1.9 2.4 2 3.5 3.9 9.7 8.6 26.2 3.9 10.5 3.9 7.4 2 2.3 2 1.4 2.6 0.4 3.3 -1.5 3.3 -3 7.2 -7.9 4.6 -3.6 3.3 -1.5 7.2 -2 3.3 -2 2.6 -2.8 2 -3 2.6 -5.4 2 -5.1 11.8 -12 2.6 -1.7 2.7 -0.6 1.9 0.4 2 1.1 2 1.8 2.6 3.5 3.9 7.2 10.5 22.4 5.3 8.7 2.6 3 2.7 2.2 2.6 1.4 3.3 0.4 3.2 -0.8 3.3 -2.2 3.3 -3.5 3.3 -5.1 3.3 -6.6 3.3 -8.1 9.8 -29.2 4 -10.3 3.9 -7.3 2 -1.9 1.9 -0.7 2 0.6 2.6 3.1 2 3.8 2.6 7.1 4 13.9 9.8 40.6 4.6 14.9 2 4.7 2 3.3 1.9 2 2 0.6 2 -0.8 2.6 -3.2 2 -3.8 2.6 -6.8 3.9 -13.1 9.9 -38 5.2 -15.9 2.7 -5.1 1.9 -2.4 2 -1 1.3 0.1 1.3 0.7"/><path d="M248.5 617.5l4 1.4 4.6 2.6 11.8 9.3 3.9 2.7 4 1.7 3.2 0.4 3.3 -0.6 3.3 -1.6 3.3 -2.4 9.8 -8.3 5.3 -2.8 3.3 -0.6 3.3 0.4 3.3 1.1 9.8 4.7 3.3 0.7 2.6 -0.1 2.6 -0.7 3.3 -1.7 9.9 -8 3.3 -2.1 3.2 -1.2 2.7 -0.1 3.9 1.6 4 3.5 11.8 15.7 3.9 4.3 4 2.7 3.9 0.9 3.3 -0.6 3.3 -1.6 13.8 -10.7 7.2 -4.4 21.6 -10.3 4 -1.3 3.9 -0.3 4 0.9 3.9 2.2 3.9 3.3 10.6 10.4 3.2 2.4 2.7 1.2 3.2 0.6 3.3 -0.4 3.3 -1.2 9.2 -4.6 3.3 -0.9 2.6 -0.2 2.6 0.5 3.3 1.4 11.9 7.7 2.6 0.9 1.9 0.2 3.3 -0.8 4 -2.7 3.9 -4.6 8.5 -12.6 4 -5.1 3.9 -3.4 2 -0.8 2 -0.3 1.9 0.3 2 0.9 4 3.3 3.9 4.8 8.5 12 5.3 5.7 4.6 3.1 2.6 0.8 2.6 0.2 4 -0.7 4.6 -1.9 15.7 -9.5 6.6 -3.5 5.3 -1.9 5.2 -0.9 3.9 0.3 4 1 15.1 7.6 3.3 1.1 3.3 0.4 3.2 -0.3 4 -1.4 10.5 -6.1 3.3 -1.5 3.3 -0.9 3.2 0 2.7 0.6 3.2 1.4 9.9 6.5 3.9 2 4.6 1.2 4 -0.3 3.9 -1.3 11.8 -5.4 4 -0.8 7.2 -0.4 3.3 -1.1 2.6 -2.1 2 -2.5 7.2 -11.6 1.3 -1.2 1.3 -0.2 1.3 1 0.7 1 1.3 3.4 2 8.6 1.3 8.5 3.3 30.7 6.6 77.3 1.9 14.3 1.3 4.5 0.7 0.5 0.6 -0.5 0.7 -1.7 2 -11 7.9 -80.2 3.9 -28.2 2.6 -12.2 4 -14.1 7.8 -39.5 3.3 -14.5 3.3 -10.2 2 -3.2 1.3 -0.9 1.3 0.3 2 2.4 1.9 4.7 2 6.6 3.3 14 9.9 47.5 3.2 13.4 3.3 11.2 3.3 8.8 2.6 5.1 3.3 4.1 2.6 1.2 2 -0.2 2.6 -1.7 2 -2.4 2.6 -4.3 4 -8.6 9.2 -23.1 4.6 -8.9 2.6 -3.6 2 -1.8 1.9 -1.1 2 -0.4 2.6 0.6 3.3 2.4 13.8 18.9 3.9 3.5 3.3 1.5 3.3 0.1 2.6 -1.1 3.3 -2.6 7.9 -7.3 4.6 -2.9 2.6 -0.7 2 -0.1 3.9 1.1 2.7 1.7 2.6 2.7 10.5 14.2 4.6 5.2 4.6 3.4 3.9 1.1 2.7 -0.4 1.9 -0.8 2.7 -1.8 2.6 -2.6 4.6 -6.5 9.2 -16.7 3.9 -6.1 4.6 -4.9 2.6 -1.5 2 -0.4 2 0.1 2.6 1 4.6 3.8 3.3 4.2 9.2 13.8 5.9 6.8 2.6 2.1 3.3 1.9 3.3 1.2 3.3 0.6 4.6 -0.1 11.8 -2.2 4.6 -1.2 3.3 -1.3 3.9 -2.4 3.9 -3.1 11.9 -11.9 3.3 -2.8 3.9 -1.9 2 -0.2 1.9 0.5 3.3 2.1 4 4.8 3.9 6.7 7.9 15.2 3.9 6.2 3.3 3.4 3.3 1.3 2.6 -0.6 3.3 -2.9 2 -2.8 2.6 -5 4.6 -11.9 3.3 -0.7 3.9 -0.1 3.3 0.6 12.5 5.2 3.3 0.9 2.6 0.2 3.3 -0.5 3.3 -1.3 13.1 -8.6 3.3 -1.5 2.6 -0.7 2.6 -0.1 3.3 0.5 12.5 5.1 5.2 1 5.3 -0.4 11.2 -3.6 5.9 -0.7 3.2 0.5 3.3 1.2 13.8 7.8 3.3 1 2.6 0.2 3.3 -0.5 3.3 -1.2 3.9 -2.4 9.9 -6.9 3.3 -1.7 3.3 -1.1 3.9 -0.3 3.9 0.6 4 1.6 5.2 2.9"/><path d="M248.5 609.9l4 7.3 8.5 20.7 3.3 6.8 2 3.2 1.9 2.3 2 1.3 1.3 0.2 2.6 -0.8 3.3 -3.4 2.6 -4.2 7.9 -14.4 2.7 -3.7 2.6 -2.4 2.6 -1.1 2.6 0.3 3.3 1.8 7.9 6 2.6 0.9 2.7 -0.4 2.6 -1.6 2.6 -2.8 9.9 -14.3 2.6 -2.3 2 -0.7 1.9 0.2 1.3 0.7 2 2 2 2.9 3.3 6.4 6.5 14.8 3.3 5.7 2 2.3 1.3 0.8 1.3 0.3 1.3 -0.2 2.7 -2.1 3.2 -5.4 3.3 -7.8 7.2 -19.2 3.3 -7.1 3.3 -4.6 1.3 -1.1 2 -0.8 2.6 0.4 3.3 2.4 11.2 14.9 3.3 3.6 2.6 2.2 3.9 2.5 7.9 3.6 3.9 2.2 12.5 10 4 2.7 3.9 1.8 4.6 0.9 5.9 -0.1 8.5 -1.2 5.3 -1.6 3.9 -2.1 3.3 -2.8 3.3 -3.5 12.5 -16.8 3.3 -3 2.6 -1.3 2.6 -0.2 3.3 1.1 3.3 2.5 8.5 7.9 3.3 1.8 2.6 0.4 2.7 -0.6 2.6 -1.4 10.5 -9.5 2.6 -1.7 2.6 -0.9 2 -0.2 2.6 0.3 9.9 4.3 3.9 0.7 4 -0.6 8.5 -3.7 3.3 -0.3 2 0.6 1.9 1.4 3.3 4.1 4 7.9 7.8 20.4 3.3 7.5 2 3.3 2 2.4 1.9 1.1 1.3 0.1 2.7 -1.6 3.3 -4.8 3.2 -7.2 6.6 -16.6 3.3 -6.9 3.3 -4.5 2.6 -1.7 2 -0.1 2.6 1.2 2.6 2.4 7.9 9 2.6 1.9 2.7 0.8 2.6 -0.5 2.6 -1.7 2.6 -2.6 8.6 -10.4 3.3 -2.6 2.6 -0.9 2.6 0.1 2.6 1.2 2.7 1.9 9.2 8.3 3.2 1.7 2.7 0.5 2.6 -0.4 3.3 -1.4 11.8 -9.2 3.3 -1.9 3.3 -1.1 3.3 -0.3 3.2 0.4 10.5 4.2 2 -0.1 1.3 -0.5 2.7 -3.3 2.6 -6.8 6.6 -28.7 1.9 -7.2 2 -3.8 1.3 -0.1 1.3 1.7 2 5.9 6.6 30.4 3.2 10.4 2 3.3 2 1.5 1.9 0.5 4 -0.1 2 1.2 1.9 3.9 1.3 5.3 2 13.8 1.3 13.9 5.9 88.5 1.4 12.7 1.3 5.3 0.6 -1.5 0.7 -3.4 1.3 -12.3 5.9 -85.1 1.3 -13.7 2 -14.4 1.3 -6.5 2 -6.8 7.2 -18.5 3.9 -8.6 2 -2.6 1.3 -0.9 1.3 -0.2 1.3 0.7 1.4 1.4 1.9 3.6 3.3 8.7 6.6 22 3.3 9.7 3.9 8.3 2 2.3 1.3 0.8 1.3 0.2 2 -0.8 1.3 -1.3 2 -2.8 3.9 -8.9 7.9 -23.2 3.3 -8 1.9 -3.6 2 -2.5 1.3 -1 2 -0.5 2.6 1 2.6 2.7 3.3 4.9 7.2 13.4 2.7 4.2 3.3 3.5 2.6 1.3 3.3 -0.3 3.9 -2.6 3.9 -4.1 8.6 -10.6 3.9 -3.3 2.6 -1.2 2 -0.2 2.6 0.5 2.7 1.4 4.6 4.4 4.6 6.7 11.8 24.6 4.6 8.3 3.9 4.7 2 1.3 2 0.6 1.9 -0.3 2 -1 3.9 -4 4.6 -7.5 10.5 -20 4 -5.2 3.9 -3 3.3 -1.1 9.9 -1 11.1 -2.6 3.3 -0.3 2.6 0.3 3.3 1.1 2.6 1.6 11.2 9.7 2.6 1.2 2 0.2 2.6 -1 3.3 -2.9 9.2 -12.9 3.3 -3.8 2.6 -1.7 2.7 -0.3 2.6 1.5 2.6 3.1 3.3 5.9 8.5 17.9 2.7 4 2.6 2.6 2.6 1 2.6 -0.4 2.7 -1.5 5.9 -4.9 3.3 -1.6 2.6 0.2 2.6 1.9 2 2.5 2.6 4.8 10.5 25.1 2.6 4 1.4 1 1.3 0.4 1.9 -1 1.3 -1.7 2 -4.3 2 -6.3 2 -2.4 2.6 -4.8 3.3 -8.1 7.2 -20.4 3.9 -9.3 4 -6.3 1.9 -2 2 -1.1 2 -0.3 2 0.3 2.6 1.3 2.6 2 6.6 6.8 19 22.5 4.6 3.8 2.6 1.1 2 0.2 2 -0.4 2 -1.1 1.9 -1.7 2.7 -3.2 3.9 -6.5 8.5 -16.2 4.6 -6.6 2 -1.8 2 -1.2 1.9 -0.5 2.7 0.4 3.9 2.6 4.6 5.2 17.1 25.4 6.5 8.9 2.7 2.8 2.6 2.1 2 0.9 1.9 0.3 2 -0.4 2 -1.2 1.9 -2 2.7 -3.9 3.9 -8.1 7.9 -18.8 3.9 -7"/><path d="M248.5 613.8l8.6 15.1 2.6 3.2 2.6 1.9 2.6 0.5 2.7 -0.9 2.6 -1.9 8.5 -8.1 2.7 -1.4 2.6 -0.3 2.6 0.8 2.6 1.9 9.9 10.3 2.6 1.6 2 0.5 2.6 -0.6 3.3 -2.5 3.3 -4.2 9.2 -13.9 3.3 -3.2 3.2 -1.4 2.7 0.3 2.6 1.3 9.8 9.1 4.6 3 4.6 0.9 9.2 -1.1 4.6 0.6 4.6 2.3 9.2 6.8 2.7 1.1 1.9 0.3 2.6 -0.5 3.3 -2 3.3 -3.4 7.9 -9.5 2.6 -2.3 2.7 -1.3 2.6 -0.3 2.6 0.8 3.3 2.2 7.9 6.7 2.6 1.4 2.6 0.3 2.6 -0.7 2.7 -1.8 8.5 -9.3 2.6 -2.3 2.7 -1.3 1.9 -0.2 3.3 1.4 3.3 3.5 9.9 16.9 3.2 4.7 3.3 3 2.6 0.8 3.3 -0.9 3.3 -2.9 10.5 -14.4 4 -4.4 3.2 -2.6 4 -1.7 3.3 -0.5 4.6 0.2 5.9 1 5.2 1.7 6.6 3.4 11.8 8.5 2.6 1.2 2.7 0.5 2.6 -0.2 2.6 -1.1 3.3 -2.3 8.5 -7.4 2.7 -1.3 2.6 -0.2 2.6 0.9 2.7 2 3.2 3.9 8.6 12 2.6 2.2 2.6 0.9 2 -0.5 1.3 -0.8 3.3 -3.9 3.3 -6.1 6.5 -14.9 3.3 -6.5 3.3 -4.6 2.6 -1.7 1.4 -0.3 1.9 0.5 2 1.5 2 2.2 3.2 5.1 9.2 16.5 3.3 4.4 2.7 2.6 3.2 2 3.3 1 13.2 0.8 3.2 -0.3 3.3 -1.1 2.6 -1.6 2.7 -2.6 4.6 -6.7 7.9 -15.3 3.2 -5.4 3.3 -3.6 2.6 -1 1.4 0.3 1.9 1.2 2 2.4 2 3.3 3.3 7.3 7.2 18.1 3.3 6.5 3.2 3.8 2.7 0.9 1.3 -0.3 2 -1.4 3.9 -5.5 8.5 -16.3 9.2 -14.7 2.7 -5.9 5.9 -16 1.9 -2.7 1.3 -0.2 1.4 1.3 1.9 4.7 6.6 25.4 2.6 7.5 1.3 2.6 2 2.5 2 1.3 3.3 1.4 1.9 1.6 2 3.7 2 7.2 1.9 12.5 2 19.1 7.2 98.6 1.4 10.3 0.6 2.8 0.7 1.2 1.3 -4.7 1.9 -18.8 6 -94.2 3.2 -39.5 2 -14.6 2 -9 2 -4.9 1.3 -1.7 1.3 -0.7 1.3 0 1.3 0.6 3.3 3.7 3.3 6 7.2 16.5 3.3 6.6 3.9 5.5 2 1.6 2 0.8 2.6 0.2 3.3 -1.1 3.3 -2.1 3.9 -3.2 6.6 -7.2 9.8 -14.5 4.6 -5.8 4.6 -3.8 2.6 -1.1 2 -0.2 2 0.5 1.9 1.1 3.3 3.5 4.6 7.8 11.2 22.5 3.9 5.4 2 1.5 1.3 0.5 1.3 0.1 2 -0.8 2 -1.8 1.9 -2.6 3.3 -5.7 7.9 -15.7 3.9 -6.2 3.3 -3.2 2 -0.9 1.3 0 2.6 0.9 2.7 2.3 9.2 12.1 3.9 4.3 3.3 2.3 3.9 1.2 2.6 0.1 3.3 -0.6 23 -6.2 4.6 -1.8 11.2 -5.6 2.6 -0.5 2.6 0.5 3.3 2.3 3.3 3.8 12.5 20 3.3 3.2 2.6 1 2 -0.3 1.9 -1.4 3.3 -4.5 3.3 -6.8 7.9 -19.5 3.9 -7.6 2 -2.6 2 -1.8 1.3 -0.6 1.9 -0.1 2.7 1.3 2.6 2.7 10.5 17.2 2.6 3.6 2.7 2.7 4.5 2.8 9.2 1.9 4 1.7 4.6 3.8 9.8 10.9 2.7 1.9 2.6 0.7 2 -0.4 1.9 -1.3 3.3 -4.3 3.9 -8.8 4 -12.2 6.6 -4.9 2.6 -1.2 2.6 -0.5 4.6 0.4 7.9 2.6 3.9 0.9 4 0.1 9.2 -1.3 4.6 0.8 2.6 1.5 3.3 3 9.8 13.3 3.3 3.7 3.3 1.9 2 0.1 1.3 -0.4 3.3 -2.9 3.2 -5.1 9.9 -22.4 3.3 -6.4 3.3 -4.4 1.9 -1.4 1.3 -0.4 1.4 0.1 1.9 0.9 3.3 3.6 3.3 5.5 7.9 16.1 3.9 6.9 4 4.8 1.9 1.4 2 0.7 2 0.2 1.9 -0.4 4.6 -2.9 4.6 -4.8 11.8 -14.5 3.3 -3.1 2.7 -2 3.2 -1.3 3.3 0 2.7 1.1 3.2 2.7"/><path d="M248.5 642.4l5.9 1.9 6.6 0.5 5.9 -1 5.9 -2.6 4.6 -3.4 4.6 -4.5 15.1 -18.8 5.3 -5.7 5.9 -4.3 3.3 -1.3 2.6 -0.4 4.6 0.8 5.2 2.8 4.6 3.8 11.9 11.5 7.2 5.2 5.9 2.3 10.5 2.3 4.6 1.4 4.6 2.1 10.5 6 5.3 1.6 2.6 -0.1 2 -0.4 4.6 -2.8 4.6 -4.7 9.8 -13.3 4.6 -5.4 2.6 -2.3 2.7 -1.5 1.9 -0.8 2.7 -0.3 2.6 0.3 2.6 0.8 12.5 6.7 5.9 2 5.2 0.7 12.5 -0.3 5.9 0.4 6.6 1.4 20.4 5.5 7.8 1.2 7.3 0.5 9.2 -0.2 29.5 -2.3 7.9 -1.9 13.8 -5 5.9 -1.2 6.6 0.3 12.4 2.6 5.9 0 5.3 -1.3 12.5 -5.1 3.3 -0.7 3.2 0 3.3 0.8 4 1.8 15.1 11.1 7.2 3.8 5.3 1.6 19.7 4.3 4.5 0.7 3.3 0 3.3 -0.7 3.3 -1.4 2.6 -1.7 3.3 -2.9 5.9 -6.9 12.5 -17.2 5.9 -6.2 3.3 -2.3 3.3 -1.1 3.3 -0.2 6.5 1.1 2.7 -0.6 2.6 -2.4 5.9 -9.8 2 -1.7 1.3 0.4 1.3 2 2 6.4 1.9 10 7.3 46.1 2.6 9.4 1.3 2.1 1.3 0.6 1.3 -0.7 1.3 -1.8 6.6 -14 3.9 -6 3.3 -2.7 4 -1.6 9.8 -5.8 7.9 -5.9 3.9 -3.8 4 -4.5 12.5 -17.3 3.2 -2.9 2.7 -1 2.6 0.6 2.6 2 3.3 4.3 8.5 13.4 3.3 3.3 2.6 1.5 2.7 0.3 3.3 -1 9.8 -6.3 4 -1.8 3.9 -0.1 3.3 1.3 2.6 2 3.3 3.6 11.1 16.5 4 5 4.6 3.9 3.9 1.3 4 -0.6 4.6 -2.9 3.9 -3.6 11.2 -11.9 5.2 -4.5 4.6 -2.5 5.3 -1.5 3.9 -0.3 4.6 0.4 21 5.1 23 3.1 5.9 0.4 5.3 -0.6 4.6 -1.3 15.1 -7.1 3.3 -0.6 2.6 0.1 3.9 1.3 4 2.6 3.9 3.6 7.9 8.4 3.9 3.4 4 2.2 3.9 0.6 2.6 -0.5 2.7 -1 13.1 -8.7 3.3 -1.5 2.6 -0.7 2.6 -0.1 3.3 0.4 9.9 3.6 3.9 1 3.9 0 3.3 -0.9 4 -2.4 3.9 -3.5 4.6 -5.4 7.9 -10.2 4.6 -2.6 3.9 -0.9 2.7 0.2 3.2 1.1 2.7 1.6 3.2 2.7 5.3 5.8 13.1 16.7 6.6 6.5 3.3 2.4 3.3 1.7 3.3 1.2 3.2 0.6 5.3 0 5.9 -1.2 5.3 -2.3 4.6 -3.2 3.9 -3.8 3.9 -4.7 11.9 -17.9 3.9 -5.3 3.9 -3.8 2 -1.2 2 -0.6 1.9 -0.1 2 0.5 4 2.7 3.9 4.5 10.5 14.3 3.3 3.2 3.3 2 3.3 0.5 3.2 -0.8 3.3 -1.7 8.6 -5.9 3.9 -1.6 2.6 -0.2 2 0.4 3.9 2.3"/><path d="M248.5 631.2l2.7 0.6 1.9 0.1 4.6 -1.5 5.3 -3.6 9.8 -9.1 4.6 -3.6 4.6 -2.3 4.6 -0.6 4 0.9 4.6 2.8 3.9 3.5 11.8 12.3 4 3.2 3.2 2.1 5.3 2.3 5.9 1.5 5.3 0.4 4.6 -0.6 4.5 -2.4 4.6 -4.9 4.6 -7.6 8.6 -18.1 3.3 -6.1 3.2 -4.3 2 -1.2 1.3 -0.3 2 0.7 1.3 1 3.3 4.8 3.9 9.3 9.9 27.5 3.3 6 1.9 2.2 1.4 0.7 1.3 0.2 1.3 -0.3 2.6 -2.1 3.3 -4.8 8.5 -15.4 2.7 -3.1 2.6 -1.5 2.6 0.2 2.6 1.9 2.7 3 6.5 9.4 2.7 2.7 1.9 1.1 1.3 0.2 2.7 -1 2.6 -2.9 2.6 -4.5 7.9 -18.3 3.3 -6.5 3.3 -4 1.3 -0.7 1.3 -0.2 2.6 1.3 3.3 4.6 2.6 5.4 8.6 20.7 3.3 5.6 2.6 2.5 2.6 0.5 1.3 -0.4 2 -1.6 3.3 -4.5 6.5 -12.1 3.3 -5.1 3.3 -3.1 2.6 -0.6 2.7 1.2 3.2 3.9 3.3 5.9 6.6 13.5 3.3 5.3 2.6 2.7 2.6 0.8 1.3 -0.3 2 -1.4 2 -2.5 2 -3.5 3.2 -7.6 7.3 -19.2 3.9 -8.4 3.3 -4.1 1.3 -0.8 1.3 -0.2 2.6 1.2 3.3 4.3 3.3 6.9 9.2 22.1 3.3 4.9 2.6 1.8 1.3 0.1 1.3 -0.5 1.4 -1 1.9 -2.4 3.3 -6 6.6 -14.3 3.3 -5.3 1.9 -1.8 1.3 -0.5 1.4 0.2 1.3 0.8 2.6 3.5 2.6 5.9 8.6 27 3.2 8.9 2.7 4.7 1.3 1.2 1.3 0.4 1.3 -0.4 1.3 -1.2 1.3 -2.1 2 -4.6 3.3 -10.9 7.2 -30.6 3.3 -12.2 2 -5.7 1.9 -4 2 -2.2 1.3 -0.5 1.3 0.4 1.4 1.1 2.6 4.4 3.3 8.5 7.8 23.7 2.7 5.9 1.9 3 2.7 2.1 1.3 0.2 1.9 -0.6 2.7 -2.3 5.9 -7.6 2.6 -2.6 2.6 -1.2 2.7 0.6 2.6 2.7 2.6 4.5 7.9 19.1 2.6 5.5 2.7 3.6 1.3 0.9 1.3 0.3 2 -1.1 1.3 -1.6 3.2 -7.3 3.3 -11 7.9 -32.3 4 -14 11.1 -32.3 2 -4.2 2 -1.9 1.3 0.6 1.3 2.3 2 6.6 2.6 14.2 5.9 38.2 2.6 13.8 12.5 55 2 6 1.3 1.8 0.6 0.2 0.7 -0.4 1.3 -2.4 1.3 -4.8 6.6 -40.7 2.6 -13.8 2.6 -9.1 2.7 -4.8 2.6 -1.8 6.6 0 3.2 -1.1 3.3 -3.1 6.6 -9.2 2.6 -2.8 2 -1.2 1.3 -0.2 2.6 0.8 2 1.8 2 2.5 4.6 8.7 3.9 9.9 7.9 22.8 3.3 7.8 1.9 3.3 1.4 1.4 1.9 0.8 1.3 -0.4 1.4 -1.2 1.9 -3.3 3.3 -9.3 3.3 -13.1 7.2 -33.3 2.6 -9.9 2 -5.5 1.3 -2.5 1.3 -1.5 1.4 -0.5 1.3 0.6 1.9 2.9 2 5.1 2 7.2 3.3 15.6 7.2 39.3 3.9 17 2 5.7 1.3 2.6 1.3 1.7 1.3 0.6 1.4 -0.3 1.9 -2.3 3.3 -7.8 3.3 -11.6 7.9 -31.6 3.9 -12.2 2 -4.4 2.6 -3.9 2 -1.5 2.6 -0.7 2.6 0.5 6.6 3.2 3.3 1.1 3.3 0.3 5.9 -0.4 2.6 0.3 2.6 1.4 2.7 2.6 3.2 5.5 4 9.9 10.5 36.5 3.9 11.4 2 3.9 2 2.3 1.9 0.8 2 -1.1 1.3 -1.7 2 -4 3.9 -12.7 4 -17.5 7.9 -39.4 3.9 -16.3 2 -6.2 1.9 -4.6 2 -2.9 2 -1 1.9 0.8 2 2.6 2 4.1 2 5.6 3.9 14.2 8.5 35.7 4.6 15.2 2 4.7 2 3.3 1.3 1.5 2 1.2 1.3 0 1.9 -0.9 3.3 -3.6 3.3 -5.6 9.2 -18 3.3 -4.9 3.3 -3.5 2.6 -1.9 3.3 -1.4 18.4 -3.7 2.6 -0.1 2.6 0.6 2.6 1.4 2 1.7 3.3 3.8 9.2 13.1 3.3 6.6 2.6 3.9 2 1.9 1.3 0.6 1.3 0.1 1.3 -0.5 2.6 -2.4 3.3 -5.7 9.2 -23.7 3.3 -7.3 3.3 -4.9 2 -1.5 1.3 -0.3 2.6 0.7 3.3 3.6 3.3 5.7 6.5 13.6 3.3 5.9 3.9 5.1 3.3 2.1 2.7 0.5 3.2 -0.7 11.9 -6.5 13.8 -5.2 5.9 -3.9 9.2 -8.5 3.9 -3 3.9 -1.8 4 -0.3 3.9 1.2 4 2.2 19.7 14.5 5.9 5.8 11.1 14 4.6 4.3"/><path d="M248.5 609.0l2.7 3.1 3.2 6.4 8.6 23.2 3.3 7.5 3.2 4.6 1.4 0.8 1.3 0.1 1.3 -0.5 1.3 -1.1 3.3 -5.4 2.6 -6.5 9.2 -26.4 2.6 -5.4 2.7 -3.3 1.3 -0.8 1.3 -0.2 1.3 0.3 2 1.4 3.2 4.3 7.9 13.1 2.7 2.8 2.6 1 2.6 -0.9 2.6 -2.6 8.6 -14.5 2.6 -3.6 2.6 -1.9 2 0 1.3 0.8 2 2.2 3.3 6.7 3.2 9.4 6 19.4 3.2 8.9 3.3 5.6 1.3 1.1 1.4 0.4 1.3 -0.3 1.3 -1.1 3.3 -5.5 2.6 -6.7 6.6 -20.6 3.2 -9 3.3 -6.3 2.6 -2.5 1.4 -0.4 1.3 0.1 2.6 1.8 2.6 3.4 7.9 12.2 2.6 2.4 2.7 0.8 2.6 -0.9 2.6 -2.6 8.6 -14 3.2 -4.2 2 -1.4 1.3 -0.3 2.6 0.8 2.7 2.9 2.6 4.8 9.9 25.5 3.2 7 2 3 2 2 1.3 0.7 2 0.2 2.6 -1.2 2.6 -2.8 9.2 -13.7 3.9 -4.6 4 -2.8 9.2 -2.9 3.9 -2.4 4.6 -5 7.9 -12.3 2.6 -3.4 2.7 -2.3 2.6 -0.6 2 0.9 1.3 1.2 1.9 2.8 2 4 3.3 8.6 7.9 24.8 3.9 9.7 3.3 4.7 1.3 0.8 1.3 0.2 1.3 -0.4 1.3 -0.9 2.7 -3.6 2.6 -5.1 8.5 -19.9 2.7 -4.6 2.6 -2.9 2.6 -1.2 1.3 0.1 2 0.8 2.6 2.1 7.9 8.2 2.6 1.4 2.7 0.2 1.9 -0.8 2.7 -2.3 2.6 -3.4 7.9 -12.1 2.6 -2.7 2.6 -1.3 2 0.2 1.3 0.7 3.3 3.6 3.3 5.7 9.2 18.7 3.2 4.2 2.7 1.6 2.6 -0.2 2.6 -1.7 2.7 -3 8.5 -12 2.6 -2.4 2.6 -1.2 2.7 0.2 2.6 1.5 8.5 9 3.3 2.6 2.6 0.9 2.7 -0.6 2.6 -2.1 2.6 -3.3 7.9 -13.8 3.3 -4.8 2.6 -2.5 2.6 -0.8 1.4 0.2 1.9 1.2 3.3 4 9.9 18.9 3.2 4.9 3.3 2.8 1.3 0.4 2 -0.2 2 -1.1 2.6 -2.6 7.9 -11.5 3.3 -4.2 7.9 -6.3 2.6 -3.5 3.3 -7.9 6.5 -23 2 -3.8 1.3 -0.6 1.3 1.2 2 4.7 6.6 26.7 2.6 7.8 1.3 2.7 2 2.5 5.9 3.9 2 3.3 1.3 3.6 3.3 15.8 6.5 48.6 2 8.2 0.7 1.2 0.6 0.3 0.7 -0.6 0.6 -2.3 1.3 -6.8 5.9 -46.4 2.7 -16.3 2.6 -10.3 1.3 -3.1 2 -3.2 3.3 -2.5 4.6 -1.2 3.9 0.3 7.2 1.9 3.3 0 3.3 -1.1 5.9 -3.7 2 -0.7 1.3 0 2 0.9 2.6 2.6 5.9 9.2 2.6 3.4 2 1.4 2 0.2 1.9 -1 2.7 -3 8.5 -15 3.3 -4.9 3.3 -3.1 2.6 -1 2 0.3 1.9 1.1 3.3 4 4 8 8.5 22 3.9 8.9 4 6.3 1.9 1.8 2 0.7 2 -0.5 2 -1.6 3.9 -6.5 3.9 -9.4 9.2 -25.4 4.6 -10.1 2 -3.1 2 -2.3 1.3 -0.9 1.9 -0.5 2 0.4 2 1.3 2 2 2.6 3.7 4.6 8.3 10.5 21.7 5.9 9.8 4.6 5.2 2.6 1.6 2 0.5 2.6 -0.1 2.6 -0.9 5.3 -3.9 5.3 -5.7 12.4 -16.1 3.3 -3.4 2.6 -2.2 3.3 -2 4 -1.5 4.6 -1.1 4.6 -0.3 4.6 0.5 3.9 1.2 3.9 2.1 4 2.9 3.3 3.4 2.6 3.5 9.8 16.1 4 5.5 2 1.9 1.9 1.3 2 0.5 2 -0.4 3.2 -2.5 3.3 -4.9 3.3 -7 7.2 -17.7 3.3 -6.6 3.3 -4.1 2.6 -1.2 2.7 1 3.2 4 3.3 6.6 7.2 18.5 3.3 7.4 3.3 5.1 2 1.7 1.3 0.5 1.3 0 1.3 -0.5 3.3 -3.4 3.9 -7.5 4 -10.3 2 -0.6 3.9 0.2 3.3 1.7 3.3 3 5.9 6.3 3.3 2.6 3.2 0.8 2.7 -1 2.6 -2.6 2.6 -4 9.2 -19.6 2.6 -4.8 3.3 -3.8 2.7 -1 2.6 1.2 3.3 4.3 3.2 6.6 8.6 20.3 3.3 5.2 2.6 2.2 1.3 0.3 1.3 -0.2 1.3 -0.7 2 -1.9 3.3 -5 8.5 -16.3 2.7 -3.5 2.6 -2 2.6 -0.4 2.6 1.2 3.3 3.3 8.6 10.9 2.6 1.8 2.6 0.5 2.6 -1 2.7 -2.4 9.2 -13.5 2.6 -3.1 2.6 -1.8 2 -0.4 1.3 0.4 2 1.2 3.2 4.2 3.3 6.1 7.3 15.3 3.9 6.4 2 2 1.9 1.2 2 0.4 2.6 -0.7"/><path d="M248.5 615.3l2.7 -3.6 2.6 -2 1.3 -0.2 1.3 0.3 2 1.5 1.9 2.8 2.7 5.3 9.8 25.2 3.3 5.1 1.3 1.1 1.3 0.5 1.3 -0.1 1.4 -0.7 2.6 -3 2.6 -4.6 8.6 -18.4 2.6 -4 1.9 -2 2.7 -1.2 2.6 0.3 2.6 1.5 7.3 5.4 2.6 0.7 2 -0.3 2.6 -1.7 2.6 -2.9 7.9 -12.7 2.6 -3.6 2.6 -2.2 2 -0.6 1.3 0.2 2 1.2 3.3 4.1 3.3 6.3 7.2 16.4 3.9 7 3.3 3.8 3.3 1.5 2 0 2.6 -0.9 8.5 -5.3 4 -1.6 3.9 -0.6 8.5 0.2 2.7 -0.4 2.6 -1.1 5.3 -4 9.1 -10.3 4 -3.8 3.9 -2.4 4.6 -1 2.6 0.2 3.3 0.9 7.9 3.7 8.5 5.5 13.2 10.6 3.3 1.9 3.3 1 3.2 -0.1 3.3 -1.2 11.2 -8 4.6 -1.9 2.6 0 2.6 0.7 3.3 1.8 7.9 5.5 2.6 1.1 2.7 0.2 2.6 -0.5 2.6 -1.5 10.5 -9.6 2.6 -1.8 2.7 -1 2.6 -0.2 2.6 0.5 10.5 5.8 4.6 1 4.6 -1.1 10.5 -5.8 4 -0.8 1.9 0.3 2.7 1.1 10.5 7.6 2.6 1.2 2 0.5 1.9 0.1 2.7 -0.6 7.8 -4 2.7 -1 2.6 -0.2 2 0.4 2.6 1.6 2.6 2.4 7.9 10.1 2.6 2.9 2.7 1.8 2.6 0.4 2.6 -0.9 3.3 -3.1 9.8 -15.3 2.7 -3.3 1.9 -1.8 2.7 -1.4 2.6 -0.4 2.6 0.6 7.2 2.5 2.7 0 1.9 -0.6 2 -1.3 2.6 -2.7 9.2 -12.1 2.7 -1.8 1.9 -0.2 2 1 1.3 1.4 2 3.1 2 4.3 3.2 9.5 7.9 26.4 3.3 8.5 2 3.5 1.3 1.5 1.3 0.8 1.3 0.1 1.3 -0.6 1.3 -1.2 2.7 -4.1 2.6 -5.9 7.2 -19 4 -8 1.9 -2.6 2 -1.9 5.3 -2.4 1.9 -1.3 2.7 -3.7 1.9 -4.8 2 -6.8 6.6 -28.5 1.9 -5.3 1.3 -1.6 0.7 -0.1 0.7 0.3 1.3 1.8 1.9 5.6 2.7 11.2 3.2 16.7 5.3 31.7 7.9 62.5 2 9.9 1.3 3 0.6 0.3 0.7 -0.5 1.3 -3.4 2 -9.9 7.2 -56.4 2.6 -15.9 2.6 -12.8 4 -15.8 3.9 -12.7 3.3 -7.2 2 -2.2 1.3 -0.5 1.3 0.3 1.3 1.1 2.6 4.1 9.9 25.2 2.6 5.7 2.6 4.5 3.3 4.3 8.6 9.3 8.5 10.9 3.9 3.4 2 0.7 2 0 2 -0.9 1.9 -1.8 4 -5.7 9.2 -17.5 3.2 -3.8 2.7 -0.9 2.6 1.1 2.6 3 2.7 4.4 6.5 12.9 2.6 4 2 1.9 1.3 0.6 1.3 0.1 1.4 -0.5 1.9 -1.8 2.7 -4.2 7.8 -18.7 2.7 -5.4 1.9 -2.9 1.3 -1.2 1.4 -0.6 1.3 0 1.3 0.7 1.3 1.4 3.3 6 3.3 8.9 6.5 20.8 3.3 8.3 3.3 5.1 1.3 1 1.3 0.4 1.3 -0.1 1.4 -0.8 2.6 -2.8 9.8 -17.5 4 -5.2 1.9 -1.7 2.7 -1.4 9.2 -1.6 2.6 -1.1 2 -1.3 4.6 -5.1 9.1 -13.3 2.7 -2.4 2.6 -0.9 2 0.5 1.3 0.9 2 2.3 1.9 3.2 3.3 7.1 7.9 19.5 3.9 7.7 3.3 4.1 2 1.4 2 0.6 1.9 -0.1 2.7 -1 7.8 -5.6 4 -2.1 3.3 -0.9 8.5 -1.3 4.6 -2.1 2.6 -2.1 3.3 -3.7 9.2 -13.1 3.3 -3.9 3.3 -2.7 3.2 -1 3.3 0.8 4 3.1 3.9 4.8 9.2 13.9 4.6 6.1 4.6 4.6 3.9 2.1 3.3 0.2 2.6 -1 4 -3.7 3.3 -1.1 3.3 -2.1 9.2 -7.6 2.6 -1.6 2.6 -0.9 2.6 -0.1 3.3 1 8.6 5.7 3.2 1.7 2.7 0.4 1.9 -0.3 2 -0.9 2.6 -2.1 10.5 -12.1 2.7 -1.5 1.9 -0.3 2.7 1 3.2 3.4 2.7 4.2 6.5 12.3 2.7 3.8 2.6 2.4 1.3 0.4 1.3 -0.1 2.6 -2 3.3 -5.3 9.2 -24.1 3.3 -7.1 2.6 -3.5 1.3 -0.8 1.4 -0.2 1.3 0.4 1.3 1.1 2.6 3.8 2.6 5.7 8.6 21.9 2.6 4.9 2.6 3 2.7 0.9 2.6 -1 2.6 -2.6 8.5 -11.2 2.7 -1.8 2.6 -0.3 2 0.9 2.6 2.6 9.2 14.7 2 2.4 1.9 1.6"/><path d="M248.5 637.3l4 4.3 3.9 2.5 3.3 0.5 2 -0.5 1.9 -0.9 3.3 -2.8 3.3 -3.9 11.8 -18.5 4 -5.4 4.6 -4.2 2.6 -1.2 2 -0.3 1.9 0.2 2 0.8 4.6 3.5 3.9 4.6 9.9 13.3 4.6 4.9 3.9 2.7 4 1 3.2 -0.4 4 -2 3.9 -3.1 9.9 -9.6 3.9 -3.4 4.6 -2.7 4.6 -1.3 3.9 0.3 4 1.3 5.2 3 10.5 7.7 4.6 2.9 5.3 2.2 5.3 0.7 5.2 -0.9 5.3 -2.4 4.6 -3.1 11.1 -8.7 5.3 -3.1 4.6 -1.5 4.6 0 3.9 1.2 4.6 2.9 4.6 4 9.2 9.2 4.6 3.7 4.6 2.4 3.9 0.6 4 -0.8 3.9 -2.1 4.6 -3.7 13.1 -12.6 4.6 -3 4.6 -1.5 4.6 0.2 4.6 1.5 14.5 8.9 5.9 2.9 4.6 1.2 5.2 0.5 4.6 -0.4 12.5 -2.1 6.6 -0.6 6.5 0 16.5 1.1 9.2 -0.7 4.6 -1 5.2 -1.9 18.4 -8.5 3.9 -1.1 3.3 -0.2 5.3 1 5.2 3.2 5.9 5.9 10.5 13.6 4.6 5.1 4.6 3.2 2 0.6 2 0.1 2.6 -0.8 2 -1.3 2.6 -2.6 2.6 -3.5 4.6 -8.1 11.2 -22.7 3.3 -5.3 2.6 -3.3 2 -1.6 1.9 -1 2 -0.3 2 0.4 3.9 2.8 7.9 8.2 2 0.9 1.9 -0.3 2 -1.8 2.6 -4.8 7.9 -21.4 2 -2.9 1.3 -0.7 0.7 0.1 1.9 2 2 4.4 7.2 25.6 3.3 9.5 2.6 5 4.6 5.8 1.3 2.2 2.7 8.1 1.9 11.2 2 16.6 6.6 73.2 1.3 8.3 0.7 2.3 0.6 0.8 0.7 -0.6 0.6 -2 2 -14 6.6 -84.1 1.9 -19.2 2 -13.5 2.6 -10.7 2.7 -5.4 1.9 -2.3 2 -1.6 2.6 -1.4 3.3 -1.1 3.3 -0.3 3.3 0.9 3.3 2.6 2.6 3.5 4.6 9.7 9.2 26.1 3.3 7.9 1.9 3.8 2 2.7 2 1.7 1.9 0.7 2 -0.5 2 -1.4 1.9 -2.4 2.7 -4.6 3.9 -9.2 10.5 -28.6 4.6 -9.9 4 -5.5 1.9 -1.4 2 -0.5 1.3 0.3 2 1.2 3.3 3.8 3.9 7.1 8.5 18.7 4 7.8 3.9 5.6 2 1.9 2 1.1 3.3 0.5 3.9 -1.3 3.9 -2.6 9.9 -8.3 3.3 -2 2.6 -0.9 2.6 -0.4 3.3 0.1 9.9 1.9 4.5 0.5 4 -0.3 3.9 -1 3.3 -1.4 4 -2.4 9.1 -7.1 4 -2.6 3.9 -1.6 4 -0.4 2.6 0.4 2.6 1.1 5.3 3.8 5.2 6 10.5 15.2 5.3 6.6 2.6 2.4 2.6 1.9 2.7 1.1 1.9 0.2 2.7 -0.4 2.6 -1.4 2.6 -2.4 3.3 -4.3 5.3 -9 12.4 -24.9 5.3 -8.1 2.6 -2.7 2.6 -1.7 2.7 -0.5 1.9 0.4 2 1.1 2.6 2.4 4.6 7.1 5.9 13.5 10.6 29.4 4.6 11.3 4.5 8 2.7 2.6 1.9 0.8 2 -0.2 2 -1.3 2 -2.3 1.9 -3.3 2.7 -6 2.6 -7.7 5.9 -22.3 6.6 -16.5 3.2 -6.8 2.7 -4.4 3.3 -3.7 2.6 -1.3 1.9 -0.1 2 0.8 2 1.5 2.6 3.3 5.3 9.5 9.8 22.8 4.6 9.1 4.6 6.5 2.6 2.1 2 0.7 2 0.2 1.9 -0.6 2 -1.2 2.6 -2.5 4.6 -6.2 9.2 -15.5 4.6 -6.8 4.6 -4.9 2.7 -1.6 1.9 -0.7 4 0.1 3.9 1.9 4.6 3.7 11.8 11.9 4 2.8 3.9 1.5 3.9 0.1 4 -1.2 3.9 -2.2 11.2 -7.8 3.3 -1.5 3.3 -0.8 3.9 0.3 3.9 1.6 4 2.8 5.2 4.8"/><path d="M248.5 619.4l2.7 -1.6 2.6 -0.9 2.6 -0.1 2 0.5 3.9 2.9 8.6 8.6 2.6 1.4 2 0.3 2.6 -0.9 2.6 -2.3 7.9 -10.7 2.6 -2.7 2.6 -1.3 2 0.3 2.6 2.3 2.7 4.1 8.5 20.7 2.6 5.4 2.7 3.4 1.9 0.9 1.3 -0.3 1.4 -1 1.3 -1.8 1.9 -3.8 3.3 -9.1 8.6 -28 3.2 -7 1.4 -1.7 1.3 -0.9 1.3 -0.2 1.3 0.6 2.6 3.1 3.3 7.1 6.6 18.6 3.3 8.1 1.9 3.7 2 2.7 1.3 1.1 2 0.9 1.9 -0.1 2 -1 8.6 -7.5 3.9 -2.3 3.9 -0.6 7.9 0.7 4 -1.4 1.9 -1.6 2.7 -2.9 10.5 -15.8 3.2 -2.8 2.7 -0.6 1.9 0.7 2.7 2.3 2.6 3.6 7.9 12.7 2.6 2.9 2 1.4 2.6 0.5 2.6 -0.8 7.2 -5.7 2.7 -1.5 2.6 -0.3 2.6 1.3 2 1.9 2.6 4 9.2 17.3 2.6 2.9 2 0.7 1.3 -0.3 1.3 -0.9 3.3 -4.9 3.3 -8.2 6.6 -20.3 2.6 -7 3.3 -6 2 -1.8 1.3 -0.3 1.9 0.7 2.7 3.1 2.6 4.9 7.9 17.8 2.6 4.1 2.6 2.3 1.3 0.3 1.4 -0.1 2.6 -1.7 2.6 -3.2 5.9 -9.1 2.6 -3.4 2.7 -2.1 2.6 -0.5 2 0.6 2.6 2 9.9 12.9 2.6 2.7 1.9 1.3 4 1.2 8.5 -0.9 3.3 0.4 3.9 1.8 7.9 5.7 3.3 0.8 2 -0.6 1.3 -0.9 3.3 -4.4 3.9 -8.8 7.2 -20.8 2.7 -6.4 3.3 -5.4 1.3 -1.1 1.3 -0.4 1.3 0.3 1.3 1 2.6 3.8 3.3 7.8 6.6 19.3 2.6 6.6 3.3 5.8 2.6 2.2 2 0.2 2.6 -1.5 2.6 -3 7.3 -10 2.6 -2.2 2 -0.7 2.6 0.4 2.6 2 7.2 8.8 2.7 2.6 2.6 1.4 2.6 -0.2 2 -1.2 2.6 -2.9 9.9 -15.1 2.6 -2.4 2 -0.8 1.9 0.2 2.7 1.7 2.6 3 7.9 11.1 2.6 2.2 2.6 0.6 1.3 -0.3 2 -1.4 4 -5.2 8.5 -16.2 3.9 -9 2.7 -8.6 1.9 -8.6 7.3 -40.7 1.9 -6.4 1.3 -1.2 1.3 1.5 2 7.2 7.2 49 2 10.8 2 7.8 2 5.2 1.9 3.2 6.6 5.6 2 2.6 1.9 4.4 1.3 4.5 2.7 13.7 5.9 42.9 1.3 5.4 0.7 1.4 0.6 0.4 0.7 -0.6 0.6 -2.9 1.3 -8.3 5.9 -52.2 2 -14.1 2.6 -14.4 3.3 -13.4 4 -11.9 1.9 -4.3 2 -3.2 1.3 -1.4 2 -1.1 2 0.1 1.9 1.1 2 2.2 2.6 4.2 4.6 10.5 7.9 23.3 3.3 8.5 3.3 6.3 1.9 2.6 2 1.8 4 1.8 7.8 1.5 5.3 0 3.9 -1.4 2.7 -2.2 3.2 -4.2 7.9 -14.6 2.6 -4.1 2.7 -2.4 1.9 -0.4 2 0.8 2.6 2.9 3.3 6 7.9 17.3 2.6 3.7 1.3 1 1.4 0.2 1.3 -0.5 1.3 -1.5 3.3 -7 3.3 -11 7.2 -28 3.3 -9.6 1.9 -3.8 1.3 -1.4 1.4 -0.6 1.3 0.3 1.3 1.1 1.3 2.1 3.3 8.7 9.2 37.6 3.9 13.4 2 4.8 2 3.4 1.9 2 2 0.8 2.6 -0.6 2.6 -2 13.8 -14.3 4.6 -5.4 3.3 -4.9 3.3 -6 8.5 -19.4 3.3 -6.5 3.3 -4.1 1.3 -0.6 1.3 0 2 1.4 1.3 1.9 3.3 8.2 3.3 11.9 7.2 30.7 3.3 11.3 3.3 7.3 1.9 2 1.4 0.4 1.3 -0.4 1.3 -1.2 3.3 -5.9 2.6 -7.2 9.2 -29.2 3.3 -7.1 2.6 -3.7 2 -1.7 2.6 -1 11.2 0.1 3.2 -0.7 6.6 -2.3 3.3 0.1 2.6 1.5 2 2.3 3.9 7.7 4 11.2 7.9 26.1 3.9 10.1 3.3 5.2 1.3 1.1 2 0.8 1.9 -0.4 2.7 -2 2.6 -3.3 2.6 -4.3 7.2 -14.7 5.3 -14.4 3.9 2.4 2.7 0.7 2.6 -0.6 2.6 -2.1 4 -6.3 9.8 -21.7 2.6 -3.6 2 -1.2 2 0.2 1.3 1 3.3 5.2 3.2 8.6 9.2 28.8 3.3 6.8 2.7 2.7 1.3 0.4 1.3 -0.2 1.3 -0.8 2 -2.2 2.6 -4.4 8.5 -17.4 2.7 -4 2.6 -2.7 2 -1.1 1.9 -0.6 8.6 0.6 3.2 -0.6 3.3 -1.6 7.2 -5.1 3.3 -0.8 2 0.6 2 1.5 3.3 5 3.2 7.7 7.3 21.4 2.6 6.7 3.3 5.5 1.3 1.1 1.3 0.4 1.3 -0.4 2 -2.1 3.3 -6.9 3.3 -10.4 8.5 -31.7 2.6 -7.6 2.6 -5.6 2.7 -3.2 1.3 -0.7 2 -0.1 1.3 0.5 1.9 1.4 4.6 5.8"/><path d="M248.5 634.8l3.3 -2.4 3.9 -4.3 10.6 -15.3 3.9 -4.9 3.9 -3.3 2 -0.8 2 -0.3 3.3 0.9 3.9 3.1 3.9 4.9 11.2 16.1 3.9 4.2 4 2.6 3.3 1 3.3 0.1 11.1 -2.5 4.6 -0.4 4.6 0.6 10.5 2.5 5.3 -0.2 4.6 -2.1 5.2 -4.9 4.6 -6.2 9.2 -14.1 4.6 -5.7 4 -3 3.2 -0.8 2 0.4 2 0.9 3.9 3.8 4.6 6.9 8.6 15.8 3.9 6.4 4.6 5.3 2 1.3 1.9 0.7 3.3 -0.2 3.3 -1.6 3.3 -2.9 9.8 -10 3.3 -2.2 3.3 -1.1 3.3 0.2 3.3 1.3 10.5 7.6 3.3 1.8 3.9 0.9 3.3 -0.5 3.3 -1.7 3.2 -2.8 11.2 -12.9 3.9 -3.8 4 -2.4 3.9 -0.9 3.3 0.5 4 2 3.9 3.1 11.8 10.9 4 2.4 3.9 1.4 3.3 0.2 3.3 -0.6 12.4 -4.8 5.3 -1.2 5.9 0.5 11.8 3.8 5.9 0.9 5.9 -1 11.2 -4 5.3 -0.6 3.2 0.7 3.3 1.4 13.2 8.7 2.6 0.9 2.6 0.3 4 -1.1 3.9 -3.1 4.6 -5.6 9.2 -14.1 3.9 -5.1 4 -3.5 1.9 -0.9 2 -0.3 2 0.2 2.6 1.4 4.6 4.8 4.6 7.3 9.2 16.8 4.6 6.6 2.6 2.7 2 1.4 2 0.7 1.9 0.2 2.7 -0.7 3.2 -2.2 3.3 -3.2 9.2 -10.3 3.3 -2.7 2.6 -1.3 3.3 -0.5 3.3 0.6 3.3 1.7 5.9 3.7 2.6 1.1 2.6 0 2.7 -1.5 2.6 -3.7 2.6 -6 7.9 -26.7 2 -5.5 1.9 -3.2 1.4 -0.5 1.3 1.5 0.6 1.5 1.3 5 2.7 18.8 2.6 31.9 5.2 80.5 2 19.1 1.3 5 0.7 0 0.6 -1.8 1.4 -8 7.2 -83.9 2 -14.7 1.9 -8.6 2 -4 3.9 -2.4 1.3 -0.5 4 0.2 7.9 2.7 2.6 0.5 3.3 -0.7 2.6 -2.1 2.6 -4.2 2.7 -6.5 9.8 -34 2 -4.2 2 -1.8 0.6 -0.1 1.3 0.9 2.6 4.9 10.6 36 2.6 6 1.3 2 2 2 2.6 0.9 2.6 -0.7 3.3 -2.6 7.9 -8.5 3.9 -3.6 4 -2.2 3.9 -0.4 3.3 1.3 3.3 2.7 3.3 4.1 7.8 11.2 4 4.6 3.9 3 3.3 1.1 2.6 -0.4 2.7 -1.3 3.2 -2.8 7.9 -8.2 4 -3.6 3.9 -2.6 3.9 -1.3 2.7 0 3.2 0.9 13.2 7.9 3.9 1.8 3.3 1 4.6 0.4 4.6 -0.4 5.3 -1.3 9.1 -3.1 6 -0.5 5.9 1.5 14.4 6.5 4 1.1 3.2 0.4 4 -0.6 3.9 -1.7 13.2 -8.6 7.8 -4.3 4.6 -1.4 4 -0.3 3.9 0.7 4.6 1.7 14.5 8.1 5.2 2.1 5.3 0.7 11.8 -0.7 3.3 0.6 2.6 1 3.3 2.1 3.3 3 12.4 14.9 3.3 2.4 2.7 0.5 1.9 -0.6 2 -1.7 2.6 -3.9 2 -4.3 3.3 -2.2 3.3 -4 3.9 -6.5 9.2 -18 3.9 -6.2 4 -4 3.3 -1 1.9 0.4 2 1.2 2 2 2.6 3.7 3.9 7.5 11.9 26.4 3.9 6.2 3.3 2.9 1.9 0.6 2 -0.3 2 -1.2 2.6 -2.8 4.6 -8 8.5 -19.1 3.3 -6.5 4 -5.4 1.9 -1.4 2 -0.6 2 0.4 2 1.4 3.9 5.1 3.3 6.3 8.5 18.9 4 6.8 3.2 3.5 2 0.9 1.3 0.1 1.3 -0.2 2 -1.2 3.9 -4.8 3.3 -5.9 11.2 -23.5 3.3 -4.9 3.3 -3 1.9 -0.8 2 0 2 0.8 1.9 1.5 4 4.9 5.2 8.8"/><path d="M248.5 624.7l4.6 -4.2 3.3 -2.3 3.3 -1.2 3.3 -0.1 4.6 1.8 11.8 8.1 7.2 3.6 14.5 4.6 3.9 0.5 3.3 -0.4 3.9 -2 3.3 -3 4 -5.4 7.8 -13.5 3.3 -4.9 3.3 -3.4 2 -0.9 1.3 -0.1 1.3 0.2 2 1.2 3.2 4.1 4 7.7 7.9 18.8 3.3 6.7 3.9 5.3 2 1.4 1.3 0.4 1.3 0 2 -0.7 3.9 -3.8 11.8 -18.7 3.3 -4.4 2.6 -2.8 2.7 -2.2 3.2 -1.9 3.3 -1.1 4 -0.6 3.9 0 3.3 0.6 3.3 1.2 3.3 2 2.6 2.3 3.3 3.8 9.8 14.4 3.3 4 2 1.8 1.9 1.1 2 0.4 2 -0.4 2.6 -1.8 3.3 -4 9.8 -18.1 3.3 -5.2 3.3 -3.5 3.3 -1.3 2.6 0.4 3.3 2.3 3.3 3.8 7.2 9.7 4 4.1 3.2 2.1 4 0.9 3.9 -0.5 10.5 -2.9 11.2 -0.4 4.6 -0.9 5.2 -2.9 11.9 -10.1 3.2 -1.4 3.3 0.1 2.7 1.2 3.2 3 9.9 13.8 3.3 3.9 3.3 2.4 2.6 0.7 2.6 -0.5 3.3 -2.1 12.5 -14.1 3.3 -2.5 3.2 -1.4 2.7 -0.2 3.2 0.6 9.9 4.1 4.6 1.5 13.1 2.1 11.9 3.4 4.5 0.5 3.3 -0.6 4 -1.9 9.2 -7.6 3.2 -2.2 2.7 -1.1 2.6 0 3.3 1.4 3.3 3 9.2 12.8 3.2 3.9 3.3 2.2 2.7 0.2 2.6 -1.2 3.3 -3.4 3.3 -5.1 9.1 -16.5 3.3 -4 2.7 -1.8 1.3 -0.3 1.9 0.1 3.3 1.9 3.3 3.6 5.9 8 2.6 2.3 2 0.3 2 -2 1.3 -2.8 1.3 -4.4 2 -9.7 6.5 -50 2 -12.4 2 -6.7 0.6 -0.7 0.7 0.2 0.7 0.9 1.3 4.1 1.9 11.2 6.6 52.6 5.9 43 3.3 28.7 7.9 83.7 2 13.2 1.3 4.5 0.6 0.8 0.7 -0.2 1.3 -3.2 2 -11.7 8.5 -89.7 2.6 -20 2.7 -12.6 1.9 -5.2 2 -2.7 2 -1 5.2 0.1 2.6 -0.6 3.3 -2.6 2.7 -3.9 2.6 -5.6 2.6 -7.3 9.9 -34.1 2.6 -5.6 2 -1.5 1.3 0.5 1.3 1.7 2.6 6.6 8.5 36.1 3.3 11.1 2.7 5.4 1.3 1.6 1.9 0.9 1.4 -0.1 1.3 -0.7 2.6 -2.8 8.5 -13.8 3.3 -4.3 2.6 -2.4 2.7 -1.1 3.3 0.2 3.2 1.8 3.3 2.9 9.9 10.1 5.9 4.3 4.6 2.2 5.9 2 5.2 1.4 4 0.5 4.6 -0.6 4.6 -2.4 4.6 -4.2 11.1 -13.1 3.3 -2.3 3.3 -0.7 2.6 0.6 2.7 1.8 3.2 3.4 9.9 12.4 3.3 2.6 3.3 1.2 2.6 -0.1 2.6 -1 10.5 -7.3 4.6 -1.9 4.6 -0.2 9.2 2.5 4.6 0.4 4.6 -1.3 10.5 -5.5 2.6 -0.6 2.7 0.3 2.6 1.3 3.3 2.9 9.2 12.4 2.6 3 2.6 1.9 2.7 0.6 1.3 -0.3 1.9 -1.2 3.3 -3.8 3.3 -6 7.2 -16.1 3.3 -6.4 2 -3 1.9 -2.2 2 -1.2 1.3 -0.2 2 0.5 2 1.5 3.9 5.7 4 8.4 8.5 20.5 4.6 8.9 2.6 3.6 2 1.8 2.6 1.4 2 0.2 2 -0.6 1.9 -1.3 2 -2 2.6 -3.7 7.2 -13.6 9.9 -23.5 3.3 -7 3.9 -6 2 -1.7 2 -0.7 1.9 0.5 2 1.6 2 2.8 1.9 3.8 4 10.5 10.5 33.1 3.9 8.2 2 2.3 1.3 0.8 1.3 0.2 2 -0.8 3.3 -4.1 3.3 -7 7.8 -21.2 3.3 -7.6 4 -6.1 1.3 -1.2 1.9 -1 2.7 0.3 3.3 2.3 11.1 14.7 3.3 3.2 2.6 1.5 2.7 0.5 3.2 -0.6 3.3 -1.6 7.3 -4.7 3.9 -2 4.6 -1.2 4.6 0 5.9 1.5 6.6 2.8 5.9 3.4 11.1 7.7 4.6 2.1"/><path d="M248.5 646.2l3.3 7.3 2 2.9 1.3 1.2 2 0.7 1.3 -0.3 1.3 -0.9 2 -2.5 2.6 -5.4 2.6 -7.3 9.2 -32.5 3.9 -12 2 -4.5 2 -3.2 2 -1.8 1.3 -0.4 1.3 0.3 2 1.7 3.2 5.9 4 11.2 7.9 27.9 3.2 10.1 4 8.5 2 2.4 1.3 0.8 1.3 0.2 2 -0.9 3.2 -4.4 3.3 -7.2 7.9 -22.2 3.3 -7.9 3.3 -5.5 1.9 -1.8 1.3 -0.5 1.4 0 1.9 1 3.3 4.1 3.3 6.5 7.2 16.8 4 6.9 1.9 2 1.3 0.8 2 0 1.3 -0.6 2.7 -2.9 3.2 -6.4 9.9 -27.5 3.3 -7.7 3.3 -4.8 1.3 -0.9 1.3 -0.3 1.3 0.3 2 1.6 3.3 5.6 3.2 8.6 10.5 32.9 3.3 6.9 2.7 3.1 1.3 0.6 1.9 -0.2 1.4 -0.9 1.9 -2.4 4 -7.9 7.2 -18.9 2.6 -6 3.3 -5.2 2 -1.6 1.3 -0.4 1.3 0.2 2 1.4 3.2 4.9 3.3 7.4 6.6 17.1 3.3 6.6 2.6 3.1 1.3 0.7 1.3 0 1.3 -0.7 1.4 -1.3 3.2 -6.3 4 -12 7.2 -27.5 3.3 -10.9 3.3 -7.4 1.9 -2.3 1.4 -0.6 1.3 0.3 1.9 2 3.3 7.4 4 14.4 7.8 36.1 3.3 13 3.3 9.1 2 3.1 1.3 1 1.3 0 2 -1.6 1.3 -2.1 2 -4.7 3.9 -14 7.9 -35.4 3.3 -12.6 1.9 -5.8 2 -4.1 2 -2.3 1.3 -0.4 1.3 0.4 2 2.2 3.3 7.7 3.2 11.6 10.6 44 3.9 11 2 3.2 1.3 1.2 1.3 0.4 2 -0.9 1.3 -1.5 1.9 -3.5 4 -10.9 8.5 -31 4 -12.3 2.6 -6 2 -3.1 1.9 -1.8 2 -0.6 2.6 1 2.7 2.8 2.6 4.1 9.8 18.2 3.3 3.9 2.6 1.7 2.7 0.4 3.3 -1.3 2.6 -2.1 7.2 -7.1 3.3 -2.1 3.3 -0.5 3.3 1.7 2.6 2.9 3.3 5.5 9.8 22.3 4 7.7 1.9 2.9 2 1.9 2 1 1.3 0.1 1.9 -0.8 2 -1.8 4 -6.6 3.9 -9.7 11.2 -32.1 3.2 -7.1 3.3 -5 2.7 -2.3 2.6 -0.9 2.6 0.3 6.6 2.3 3.3 -0.2 3.2 -1.9 6 -5.4 1.9 -0.9 1.3 -0.1 2.7 1.6 2.6 3.6 9.8 20.3 9.2 13.5 2 4.7 1.3 4.6 2.6 14.2 2 16.3 7.2 82.8 2 13.9 1.3 3.6 0.7 -0.1 1.3 -3.8 2 -13.8 6.5 -78.7 2 -18.1 2.6 -18.2 2.7 -13.5 13.7 -61.4 3.3 -10.6 2 -3.8 1.3 -1.1 1.3 -0.1 2 2.1 2 4.6 1.9 6.9 3.3 15 7.2 37.6 4.6 18.9 2 5.9 2 4.5 2 3 2.6 1.9 1.3 0.1 1.3 -0.5 3.3 -3.3 3.3 -5.5 7.2 -14.1 3.9 -6 3.3 -2.8 2.6 -0.4 1.4 0.4 1.9 1.3 3.3 4.4 9.2 19.4 3.9 6.8 2 2.3 2 1.3 2 0.2 1.3 -0.5 2.6 -2.4 3.3 -5.7 3.3 -8.3 7.2 -20.6 3.9 -9 2 -3.2 2 -2.2 1.9 -1.2 1.4 -0.2 1.3 0.3 1.9 1.3 3.3 4.3 3.3 6.5 6.6 14.8 3.9 7.2 3.3 3.9 1.3 0.9 2 0.7 1.3 0 2 -0.7 3.9 -3.2 3.3 -4.2 9.2 -13.6 4.6 -5.3 2.6 -1.9 2 -0.6 1.9 0 2.7 1 3.9 3.4 4.6 6.2 5.3 9 10.5 19.7 4.6 7.3 2.6 3 2.6 2.1 2.6 0.9 2.7 -0.2 2.6 -1.6 2.6 -2.8 2.7 -4.1 2.6 -5.4 4.6 -12.3 9.8 -30.4 4.6 -11.4 2.7 -4.7 1.9 -2.4 2 -1.5 2 -0.6 1.9 0.6 2 1.5 2 2.5 2.6 4.5 3.9 8.7 11.9 28.7 3.9 7.9 4.6 7.8 6.6 9.1 7.8 9.2 5.3 4.8 3.9 2 2.7 -0.1 1.9 -1 2 -2 2 -3.2 3.3 -8.2 2.6 -9.4 3.3 -4.8 3.3 -6.6 11.8 -29.3 2.6 -5.1 2 -2.9 1.9 -1.9 2 -1 1.3 0 2 0.8 2 1.9 1.9 2.8 4 8.1 7.9 20.3 3.9 8.8 3.9 6 2 1.6 1.3 0.5 2.6 -0.2 3.3 -2.4 3.3 -4.4 7.2 -12.4 3.3 -4.8 3.3 -3.2 2 -0.8 1.3 -0.2 1.3 0.3 2 1 3.3 3.4 3.2 4.9 7.3 12.5 3.9 5.3 2 1.7 1.9 0.9 2 0 1.3 -0.4 3.3 -2.7 3.3 -4.6 9.8 -19.2 4 -6.4 3.3 -3.6 3.3 -1.4 3.2 0.7 4 3.3 3.3 4.2 7.8 11.9 4.6 5.4 2.7 1.8 1.9 0.8 2 0.2 2.6 -0.5"/><path d="M248.5 635.3l2 1.3 1.3 0.4 1.3 -0.1 2 -0.7 3.3 -2.7 8.5 -9.5 2.6 -1.7 2.7 -0.7 1.9 0.2 2.7 1.1 9.8 6.7 4 0.8 1.9 -0.3 2.7 -1.3 9.8 -7.1 2.6 -0.9 2.7 0 3.9 1.7 9.2 7.1 2.6 0.8 2 -0.1 2.6 -1.4 3.3 -3.6 10.5 -16.5 2.6 -2.4 2.7 -0.7 2.6 1.3 3.3 4.2 3.3 6.7 6.5 16.4 3.3 7 3.3 4.8 2 1.5 1.3 0.5 2.6 -0.5 3.3 -2.9 3.3 -4.8 9.2 -15.3 2.6 -3.5 3.3 -3.3 3.9 -2.8 4.6 -2.3 6.6 -2.5 4.6 -0.9 2.6 0.3 2 0.8 2.6 1.8 2 2.2 3.9 5.9 9.9 18.7 3.2 4.1 2.7 1.6 2.6 -0.2 3.3 -2.8 3.3 -5 6.5 -13.1 3.3 -5.5 3.3 -3.6 1.3 -0.8 2 -0.4 1.9 0.5 2.7 1.8 7.2 7.9 2.6 2.3 2 1.2 2 0.5 1.9 -0.3 2.7 -1.3 7.8 -7.2 2.7 -1.9 2.6 -0.8 2.6 0.7 2 1.4 2.6 3.2 8.6 15 2.6 3.8 2.6 2.4 2.6 0.7 1.4 -0.4 1.9 -1.4 3.3 -4.6 9.2 -19.7 3.9 -7 3.3 -3.5 1.3 -0.8 2 -0.3 2.6 0.8 3.3 2.7 11.2 13.9 7.2 7 13.1 10 3.3 1.7 3.3 0.6 2 -0.4 1.9 -1 3.3 -3.3 4 -6.4 7.2 -14.9 3.3 -5.8 3.3 -3.8 1.9 -1.1 1.3 -0.1 2 0.6 2.6 2.2 2.7 3.6 8.5 13.8 2.6 2.8 2.7 1.3 2.6 -0.2 2.6 -1.6 7.9 -8.5 2.6 -2.1 2.6 -0.8 2.7 0.8 2.6 2.5 2.6 4.2 7.9 16.5 2.6 4.6 2.7 3.2 2.6 1.2 1.3 -0.3 1.3 -0.7 3.3 -4.2 3.3 -6.8 9.8 -24.3 3.3 -5.5 2.6 -2.7 1.4 -0.8 1.9 -0.4 3.3 1 3.3 2.5 9.8 9.4 3.3 2.2 3.3 1 2.6 -0.4 2.7 -1.7 1.9 -2.2 4.6 -6.6 1.3 -1.3 1.4 -0.4 1.3 1.1 0.6 1.2 1.3 4.3 2.7 18.1 2.6 32.4 5.9 94.2 2 16.9 0.6 2.2 0.7 0.4 1.3 -4.7 2 -18.7 4.6 -67.5 2.6 -31.9 2 -16.1 1.9 -9.9 1.4 -3.9 1.9 -3.3 2 -1.1 2 0.1 1.9 -2.5 2.7 -2.5 10.5 -6.7 3.9 -3.8 3.3 -4.4 3.3 -5.9 3.3 -8 9.2 -29.8 1.9 -3.7 1.3 -0.8 1.4 0.7 1.3 2.6 2.6 10.2 7.9 52.8 3.3 17.6 2.6 8.2 1.3 2.1 1.3 1 2 -0.6 2.6 -3.6 9.2 -21.9 3.9 -7.3 2 -2.6 2.6 -2.3 2.7 -1.3 2.6 -0.5 3.3 0.3 3.3 0.9 7.8 4.3 7.3 5.4 11.1 11.5 3.3 1.9 2.6 0.3 3.3 -1.2 3.3 -2.9 3.3 -4.5 7.2 -12.2 2.6 -3.8 3.3 -3 2.6 -0.5 2.7 1.2 2.6 2.6 11.2 17.2 2.6 2.9 2.6 1.8 2.6 0.7 2.7 -0.3 9.8 -4.7 2.7 -0.7 1.9 0 4 1.4 8.5 6.4 3.3 1 2 -0.4 1.3 -0.8 2.6 -2.6 3.3 -5.4 5.9 -12.2 3.3 -5.9 3.3 -3.8 1.9 -1 1.3 0 1.4 0.5 1.9 1.7 3.3 5.2 9.2 22.5 3.3 6.7 2.6 3.5 1.3 0.9 2 0.4 2.6 -1.1 2.6 -2.7 11.2 -18.3 3.3 -4.2 2.6 -2.4 2.6 -1.4 3.3 -0.6 15.8 0.8 2.6 0.9 2 1.3 2.6 2.7 2 2.8 4.6 9.3 7.2 18.8 3.3 7.5 3.3 5.1 1.9 1.5 1.4 0.2 1.9 -1 2 -2.5 2 -4 1.9 -5.4 4 -14.1 5.9 -26.4 3.3 -4.3 2.6 -1.7 1.3 -0.1 2 0.7 3.3 3 3.3 4.9 8.5 14.7 3.3 4.2 2.6 2.4 4.6 2.6 15.1 5.1 2.6 0.6 2.7 -0.1 2.6 -1.1 1.9 -1.7 4 -5.9 3.9 -8.8 7.9 -21.5 4 -8.2 1.9 -2.6 1.3 -1 1.3 -0.4 1.4 0.2 1.3 0.9 1.9 2.4 3.3 6.7 9.9 29.2 3.9 9.6 2 3.5 2 2.5 1.9 1.5 2 0.6 2.6 -0.5 2.7 -1.5 9.8 -9 11.2 -9 5.2 -6.1 9.9 -14.2 3.9 -3.8 2 -0.8 1.3 -0.1 2.6 1.2 2.7 2.7 3.2 5.5"/><path d="M248.5 625.8l2.7 4.4 1.9 2.4 2.6 2.1 2.7 0.7 3.9 -0.7 9.2 -3.9 9.9 -2.3 3.9 -2.3 3.3 -3.4 9.8 -15.4 2.7 -3.3 2.6 -2 2.6 -0.3 1.3 0.7 2 1.9 3.3 5.6 9.8 25.6 3.3 6.9 3.3 4.2 2 1.1 1.9 -0.1 2 -1 2 -1.8 8.5 -10.7 2 -1.7 2 -1 1.9 -0.3 2.7 0.7 6.5 4.4 2.7 1.2 2.6 0 2.6 -1.7 2.6 -3.5 2.7 -5.2 8.5 -23.1 3.3 -7.4 3.3 -4.5 1.3 -0.8 1.3 -0.1 1.3 0.5 1.3 1.1 2.6 3.9 2.7 5.5 8.5 21 2.6 4.7 2.7 3 1.9 1.1 2.7 0 2.6 -1.1 7.2 -4.7 2.6 -0.6 2 0.2 2 1 2.6 2.4 10.5 13.6 2.6 2 2.7 0.6 2.6 -0.8 2.6 -2 9.9 -12.3 3.9 -3.7 2 -1.1 2.6 -0.8 9.2 -0.9 3.9 -2.1 4 -4 8.5 -11.2 2.6 -2 2 -0.6 2 0.3 1.3 0.8 3.3 3.9 2.6 4.8 6.6 14 3.3 5.3 2.6 2.1 1.3 0.2 1.3 -0.3 2.6 -2.5 2.7 -4.6 7.8 -19.4 2.7 -5.3 2.6 -3.1 2 -0.6 1.3 0.5 2 2.2 3.2 7.3 3.3 10.8 7.2 28.1 4 12.1 3.3 6.1 1.3 1.3 2 0.6 1.3 -0.4 1.9 -1.7 3.3 -5.2 13.8 -32.7 19.1 -37.5 4.6 -6.8 1.9 -1.7 2 -0.7 2 0.5 1.3 1.1 1.9 2.7 2 3.9 4 11.2 7.8 28 3.3 10.2 4 8.5 1.3 1.8 1.9 1.6 2.7 0.5 2.6 -1.2 8.5 -8.5 4 -2.8 3.3 -0.9 7.8 -0.3 2.7 -1.1 1.9 -1.5 2.7 -3.2 2.6 -4.6 10.5 -23.2 2.6 -3.7 1.3 -1.1 1.4 -0.5 1.3 0.2 1.3 0.8 1.3 1.4 2 3.3 3.2 7.9 6.6 19.8 2.6 6.7 2 3.8 1.3 1.7 1.3 0.9 1.3 0 2 -1.8 1.3 -2.6 2 -6.2 1.3 -5.7 3.3 -20 7.2 -53.8 2 -8.6 1.3 -2.7 0.7 -0.3 0.6 0.3 1.3 2.5 2.7 11.1 5.9 36.4 7.2 40.4 7.2 54.8 2 9.2 1.3 2.1 0.7 -0.4 0.6 -1.2 1.3 -5 6.6 -44.8 1.3 -6.9 2 -7 1.3 -2.8 2 -1.9 1.3 -2.4 1.9 -2.4 2.7 -1.9 6.5 -3.6 3.3 -2.5 4 -4.4 3.2 -5 3.3 -6.8 2.7 -7.1 9.2 -31.8 1.9 -3.8 1.3 -0.8 1.4 0.9 0.6 1 2 5.7 2.6 12.6 6.6 37.8 2.6 9.9 1.3 3 1.3 1.8 0.7 0.4 1.3 0 2 -1.7 1.9 -3.1 7.3 -14.5 2.6 -3.3 2.6 -1.3 2 0.3 2.6 2 7.9 10.3 2.6 2.8 2 1.3 2.6 0.8 2 -0.1 2.6 -1.2 2.6 -2.1 7.3 -7.3 2.6 -1.7 2 -0.6 1.9 0 2 0.6 9.2 4.7 3.9 1.2 4 0 7.2 -2 3.3 -0.1 3.3 1.8 3.2 4.3 3.3 6.6 9.2 22.5 3.3 5.4 2.6 1.9 2 -0.2 2 -1.7 1.9 -3.1 2 -4.3 4 -11.6 9.8 -33.5 3.3 -8.5 3.3 -5.8 3.3 -3.3 3.9 -1.4 9.2 0.5 3.3 0.7 1.9 0.9 2.7 2.3 2.6 3.9 2.6 5.9 2 5.9 4.6 18.1 8.5 42.1 3.3 14 3.3 9.6 2 3 1.3 0.7 1.3 -0.5 2 -2.7 1.9 -5.2 2 -7.2 3.3 -15.6 8.5 -46.8 4 -17.1 1.9 -6.3 2 -4.7 2 -3.1 1.9 -1.5 1.4 -0.2 1.9 0.7 3.3 3 13.1 18.3 4 6 3.3 6.1 3.3 7.5 12.4 34.6 3.3 6 2 1.9 1.3 0.5 2 -0.5 1.9 -2 2 -3.5 2 -4.9 4.6 -15.7 5.9 -25.1 2.6 -2.8 2.6 -1.1 2.7 0.5 2.6 1.9 9.2 11 3.9 3.2 4 1 9.2 -0.9 1.9 0.5 2 1.2 2 1.8 2.6 3.5 7.2 12.7 2.7 3.9 1.9 1.9 1.3 0.7 1.3 0 1.4 -0.5 1.3 -1.3 1.9 -3.1 3.3 -8.5 3.3 -11.7 6.6 -26.7 3.3 -11.1 3.2 -7.4 1.4 -1.6 1.3 -0.9 1.3 0 2 1.3 3.2 5.5 3.3 8.7 7.9 24.3 4.6 10.8 2 3.2 2.6 3.2 2 1.5 2.6 1.3 10.5 2 4.6 0.4 3.3 -0.6 3.3 -2.1 2.6 -3.1 3.3 -5.5 10.5 -23.1 2.6 -4 2 -1.8 1.3 -0.5 1.3 0 2 1.2 2.6 3.6 2.6 5.5"/><path d="M248.5 595.3l3.3 10.2 8.5 31.9 4 12.8 2.6 6.4 2 3.5 2 2 1.9 0.7 1.3 -0.3 2 -1.7 3.3 -5.6 3.9 -10.4 7.9 -25.5 3.3 -9.2 3.9 -7.7 2 -2.2 2 -0.9 1.3 0.1 1.3 0.7 3.3 3.9 3.9 8 7.9 20.7 3.3 7.4 2 3.3 1.9 2.4 2 1.3 1.3 0.2 1.3 -0.2 2 -1.4 2 -2.5 1.9 -3.5 3.3 -7.5 8.6 -22.9 3.9 -8.3 2 -2.8 1.9 -1.8 2 -0.7 2 0.4 1.3 0.9 2 2.2 3.2 5.8 3.3 7.9 8.6 23 3.9 8.5 2 3.2 1.9 2.3 2 1.4 2 0.5 1.3 -0.2 2 -0.9 3.9 -4.3 4 -6.4 9.1 -17.2 4.6 -6.7 4.6 -4.2 2 -1 2.6 -0.5 4 0.6 3.9 1.8 14.5 10.2 7.2 4.2 5.9 2.4 5.3 1 5.2 -0.2 5.3 -1.7 4.6 -2.6 9.8 -7.1 3.9 -2.1 4 -0.9 3.3 0.4 3.3 1.6 3.9 3.5 11.2 14.7 3.9 4.4 3.9 2.5 2 0.5 2 -0.3 2 -0.9 1.9 -1.6 4 -5.1 3.9 -6.9 7.9 -15.7 3.9 -6.4 4 -4.2 3.2 -1.3 3.3 0.8 4 3.5 3.9 5.8 8.5 15.6 4 6.3 3.9 4.5 2 1.4 2 0.8 3.3 0 3.2 -1.4 4 -3.1 10.5 -10.1 3.3 -2 3.3 -1.1 3.2 0 3.3 1 10.5 6.3 4 1.8 3.9 0.5 3.3 -0.8 3.3 -1.9 3.3 -2.9 10.5 -12.8 3.9 -4.1 3.9 -2.7 3.3 -0.7 2 0.3 2.6 1.3 4.6 4.5 4.6 6.8 9.9 16.9 4.6 6.1 2.6 2.3 2 1.1 1.9 0.6 2 -0.1 3.9 -1.8 4 -3.8 14.4 -20.5 9.2 -10.3 7.3 -6.4 2.6 -1.2 2.6 -0.2 2.6 1.3 2.7 2.7 7.2 10.6 3.3 4.1 8.5 7.2 2 3 1.3 3.1 2 6.9 1.9 10 5.9 43 2.7 13.7 0.6 -0.1 0.7 -0.9 1.3 -4.6 2 -13.7 1.9 -20.7 5.9 -74.5 2.7 -24.9 1.3 -9 2 -9.3 1.3 -3.6 0.6 -1.1 1.3 -0.8 1.3 0.8 1.4 2.3 2.6 8.2 3.3 15.3 7.2 41 3.9 19.6 4.6 16.7 2 4.9 2 3.5 2.6 2.5 1.3 0.4 1.3 -0.1 2.7 -1.8 3.2 -5 2.7 -6 3.2 -9.7 9.9 -36.7 3.9 -12.6 2.7 -6.1 1.9 -3.1 2 -1.7 2 -0.2 1.9 1.4 1.4 1.9 1.9 4.1 2 5.7 3.3 12.9 7.9 37.8 3.9 16.3 2 6.3 1.9 4.7 2 2.8 1.3 0.9 2 -0.5 1.3 -1.5 1.3 -2.5 2 -5.4 3.9 -15.9 7.9 -39.2 4 -17 1.9 -6.6 2 -5 2 -3.3 1.9 -1.4 2 0.5 1.3 1.5 2 3.7 2 5.4 3.2 11.6 7.9 32 4.6 15 2 4.6 2 3.3 1.3 1.4 1.9 1.1 1.4 -0.1 1.9 -1.1 2 -2.3 2 -3.4 3.9 -9.2 7.9 -23.4 3.3 -8.3 3.9 -6.7 2 -1.8 2 -0.8 1.9 0.3 2 1.3 3.9 5.2 5.3 10.6 7.9 19.6 3.3 7.3 3.9 6.3 3.3 2.8 1.9 0.6 2.7 -0.4 2.6 -1.6 2.6 -2.7 5.3 -8.1 9.8 -20.8 4.6 -7.9 2.7 -3.3 2.6 -2.3 2.6 -1.3 2.6 -0.4 3.3 0.9 3.3 2.4 14.5 16.4 4.5 4 9.9 7 4.6 3.7 5.3 5.5 11.8 14.5 3.3 2.7 2.6 0.8 2.6 -0.7 2.6 -2.8 2.7 -5.2 2.6 -8.1 3.3 2.3 3.3 0.6 2.6 -1 3.3 -2.8 5.2 -7.8 11.8 -22.2 4 -5 3.3 -2.1 1.9 -0.3 2 0.4 2 1.2 1.9 1.9 4 5.4 8.5 15.4 3.3 5.2 3.9 4.3 3.3 1.6 2 -0.1 2 -0.8 3.9 -3.6 3.3 -4.6 7.9 -12.9 3.9 -4.9 2 -1.5 2 -0.8 1.9 0 1.3 0.5 3.3 2.9 4 6.4 10.5 24.3 3.3 6.4 3.2 4.4 2 1.3 1.3 0.2 2 -0.6 2 -1.8 1.9 -3 2.7 -5.7 4.6 -14 10.5 -37.6 3.2 -8.9 3.3 -5.6 2 -1.5 2 0 1.3 0.9 2 2.6 1.9 4 2 5.4 3.9 14.1"/><path d="M248.5 618.4l2.7 -0.9 2.6 -0.2 2.6 0.6 2 1.2 3.9 4.1 8.6 11.9 2.6 2.5 2 1 2.6 0 2.6 -1.5 3.3 -3.6 7.9 -10.9 2.6 -2.2 2.6 -0.7 2 0.4 2.6 2 7.9 10.4 2.6 2.8 2 1.3 2 0.1 2.6 -1.5 3.3 -4.9 3.3 -7.4 5.9 -15.6 3.3 -6.8 2.6 -3.1 1.3 -0.6 1.3 0.1 1.3 0.8 1.3 1.5 3.3 6.8 3.3 9.9 6.6 22.8 3.3 9.1 1.9 3.8 1.3 1.7 1.4 1 1.3 0.3 1.3 -0.5 1.3 -1.2 3.3 -5.6 3.3 -8.6 7.2 -21.6 3.3 -7.7 3.2 -4.8 2.7 -1.4 1.3 0.1 2 1.1 3.2 4.1 3.3 6.2 7.9 17 3.9 6.7 3.3 3.4 2 1 1.3 0.1 2 -0.5 2 -1.3 3.9 -5 3.3 -6 7.9 -16.6 3.9 -6.6 2 -2.2 1.9 -1.3 2 -0.3 1.3 0.4 2.6 2.2 3.3 5 9.2 21.2 3.3 6.5 3.3 4.1 2.6 1.1 2.6 -0.9 2.7 -2.6 2.6 -4.1 8.5 -15.7 2.7 -3 2.6 -1.4 2.6 0.4 3.3 3 8.5 13.6 2.7 3.3 1.9 1.6 1.4 0.5 2.6 -0.5 2.6 -2.4 2.6 -4.1 8.6 -19.3 3.3 -6.4 3.2 -4 2 -1 1.3 0 2.6 1.3 3.3 4 3.3 5.9 8.6 17.6 3.2 5.5 2.7 3.5 3.2 3.3 3.3 2.1 3.3 1.3 4 0.5 3.2 -0.5 3.3 -1.4 2.6 -2.1 2.7 -3.1 5.2 -9 11.2 -24.7 3.3 -4.9 1.9 -1.8 1.4 -0.6 1.3 -0.2 1.9 0.7 3.3 3.2 3.3 5.4 9.2 18.4 3.3 4.9 2.6 2.6 2 1.3 2.6 0.8 7.9 0.2 3.3 0.6 3.3 1.2 6.5 3.5 3.3 0.8 2 -0.3 1.9 -1 3.3 -3.5 4 -6.9 8.5 -18.1 2.6 -3.8 2 -1.7 1.3 -0.5 1.3 0.1 1.3 0.7 2 1.9 3.3 5.4 7.9 16.1 2.6 3.4 1.3 0.9 1.3 0.3 1.3 -0.3 1.4 -0.9 2.6 -3.6 2.6 -5.4 5.9 -14.4 2.7 -5 2.6 -2.9 1.9 -0.3 2 1.1 2 2.6 7.9 17 1.9 3.4 2 2.3 1.3 0.8 2 0.2 5.2 -2.5 2 -0.4 2 1.1 1.3 1.8 1.3 2.8 2 6 6.6 26 1.9 4 1.3 0.6 1.3 -1.2 2 -4.8 5.9 -24.5 3.3 -10.5 3.3 -5.8 6.6 -6.5 3.9 -9.4 8.5 -24.6 2.7 -4.7 1.9 -1.4 1.4 0.3 1.3 1.4 1.3 2.4 1.9 5.6 3.3 13.7 7.9 42.4 3.3 15 2 6.8 1.9 4.8 1.4 2 1.9 1.1 1.3 -0.4 1.3 -1.3 3.3 -6.6 2.7 -7.9 9.2 -31.8 2.6 -7.2 3.3 -6.9 3.2 -4.8 4 -3.7 5.9 -3.3 5.3 -1.6 3.2 0.3 2.7 1.7 2.6 3.4 2 3.8 4.6 13.4 7.2 27.8 3.3 11.2 3.2 7.5 1.4 1.6 1.3 0.7 1.3 -0.3 1.3 -1.2 1.3 -2.2 2 -4.9 3.3 -12.1 6.5 -29.6 2.7 -10.2 3.2 -8.6 2 -2.5 1.3 -0.5 1.3 0.5 1.4 1.4 2.6 5.3 2.6 7.8 5.9 20.4 2.6 7.1 2.7 4.4 1.9 1.1 1.4 -0.4 1.3 -1.2 2.6 -4.9 2.6 -7.3 6.6 -21.5 3.3 -8 1.9 -2.7 1.4 -0.8 1.3 0 1.3 0.8 2 2.7 2.6 6 8.5 27.9 3.3 9 3.3 5.9 1.3 1.3 2 0.8 1.9 -0.5 2.7 -2.3 8.5 -12.8 3.3 -3.9 3.9 -2.6 8.6 -2.3 3.9 -2.4 3.9 -4.4 9.2 -13 2.7 -2.3 1.9 -0.6 2 0.5 1.3 0.9 3.3 4.6 2.6 5.7 8.6 21.4 2.6 4.5 2 2 1.3 0.5 1.3 0 1.3 -0.7 2 -2 3.3 -5.7 5.9 -13.6 2.6 -5.1 2.6 -3.3 1.3 -0.9 1.3 -0.2 1.4 0.4 1.3 1.1 2.6 3.7 2.6 5.7 5.9 15.3 2.7 5.8 2.6 4.1 1.3 1.2 1.3 0.6 1.3 -0.1 1.3 -0.6 3.3 -4.2 3.3 -6.8 6.6 -16.1 3.9 -7.3 3.3 -3.4 3.3 -1 3.3 5.5 7.9 16 2.6 3.6 2 1.7 2.6 0.5 1.3 -0.5 2 -1.4 3.2 -4.3 6 -9.9 3.2 -4.7 3.3 -2.8 2.6 -0.4 2.7 1.1 3.3 3.4 10.5 17.7 3.9 5.4 2.6 2.3 2 0.9 2 0.3 1.9 -0.4 2 -1.1 2 -1.7 4.6 -6 3.9 -6.9 8.6 -17.1 3.9 -6.6 3.3 -3.8 2 -1.1 1.3 -0.3 1.9 0.5 1.3 0.9 2 2.2 2 3.1 3.9 8.9 9.9 26.7 3.3 6 2.6 2.4 1.3 0.4 2 -0.5 1.3 -1.1 2 -2.5 3.2 -6.5 9.2 -21.7 3.3 -4.9 2.6 -1.8 2.7 0.2 3.3 2.8 2.6 3.8 6.6 11.6 3.2 4.4"/><path d="M248.5 619.2l9.9 8.2 3.3 1.6 3.2 0.5 4 -0.6 7.9 -2.8 3.9 -1 3.9 -0.3 7.9 0.1 3.3 -0.3 3.9 -1.2 8.6 -3.6 2.6 -0.4 2.6 0.2 2.7 1.1 3.3 2.7 8.5 10.2 2.6 2.7 2.6 1.6 2.7 0.2 1.3 -0.4 2 -1.5 3.2 -4.4 3.3 -6.3 6.6 -14.5 3.3 -5.8 3.3 -3.4 2.6 -0.6 1.3 0.4 2 1.6 3.2 4.8 3.3 6.9 7.3 17.2 3.9 7.5 3.9 4.7 2 1.2 2.6 0.5 2 -0.5 2 -0.9 3.9 -3.1 7.9 -8.5 17.1 -20.2 3.9 -3.4 3.3 -1.4 2 0 1.9 0.6 3.3 2.7 4 5.5 9.8 17.3 3.3 3.6 2 1 1.3 0.1 2.6 -1.1 2.6 -2.7 3.3 -5.3 9.2 -17.7 3.3 -4 2.6 -1.3 1.3 -0.1 2 0.8 3.3 3.2 3.3 5 7.2 12.5 3.9 5.2 3.3 2.6 2 0.7 2 0.3 3.2 -0.6 7.3 -2.5 3.2 -0.7 4 -0.1 9.2 0.9 2.6 -0.3 2.6 -0.8 4.6 -2.8 9.2 -7.8 4 -2.8 4.6 -2 7.8 -2.1 3.3 -1.2 4 -2.4 9.2 -7 2.6 -1.2 2 -0.1 1.9 0.6 2 1.4 3.3 4.3 3.9 8.2 7.9 21.3 3.3 7.8 2 3.6 1.9 2.6 2 1.4 1.3 0.3 2.6 -1 3.3 -4 2.6 -4.8 9.2 -19.8 3.3 -4.9 3.3 -2.8 2.6 -0.6 2.7 0.6 2.6 1.5 9.2 7.1 3.3 1.3 3.2 0 2.7 -0.7 2.6 -1.3 10.5 -6.9 6.6 -3.5 8.5 -3.7 5.3 -1.3 2.6 0.1 2.6 0.7 2.6 1.7 2 1.9 4.6 6.7 7.9 15.1 2.6 4.3 3.3 3.4 2 0.5 1.3 -0.5 2 -2.1 1.3 -2.3 3.3 -9.3 2.6 -10.7 5.9 -28.6 2.6 -10.3 2.6 -6 1.4 -1 0.6 0 1.3 1.1 2 4.3 3.3 13.4 3.9 24.7 5.9 47.1 2.7 18.2 1.3 6.5 1.3 4.3 0.6 1.2 0.7 0.6 0.7 -0.1 1.3 -2 1.3 -4 7.9 -40.5 1.9 -8.1 5.3 -17.8 13.1 -39.9 10.5 -35 3.3 -7.7 1.3 -1.6 1.3 -0.5 1.4 0.8 0.6 0.9 1.3 2.7 3.3 12.7 3.3 19.3 6.6 44.8 3.9 21.2 3.3 11.2 2 3.6 1.9 1.4 1.3 -0.2 2 -1.8 3.3 -6.4 3.3 -9.6 6.5 -21.9 4 -10.3 3.3 -4.9 1.3 -0.9 1.3 -0.3 1.3 0.4 1.3 0.9 2.6 3.6 3.3 6.8 9.2 23.2 3.3 5.3 2 1.6 1.3 0.5 1.3 -0.1 2 -1 3.3 -3.9 3.9 -7.3 7.2 -15.6 4 -6.8 3.2 -3.5 2 -1.1 2 -0.5 2 0.1 1.9 0.6 5.3 3.6 4.6 4.6 11.1 13.9 5.3 5.7 4.6 3.6 2.6 1.1 2 0.3 2.6 -0.4 3.3 -1.6 3.9 -3.3 7.9 -8.2 2.6 -1.8 2.7 -0.9 2.6 0.4 2.6 1.4 8.6 8.4 2.6 2 3.3 1.1 2.6 -0.8 2.6 -2.1 3.3 -4.6 8.6 -16.4 3.2 -5.1 2 -1.9 1.3 -0.8 1.3 -0.2 1.3 0.3 2.7 2.1 3.3 5.2 9.1 21.8 4 8 2 2.9 1.9 2.1 1.3 0.8 2 0.5 2.6 -0.7 3.3 -2.8 11.2 -15.6 6.6 -7.2 3.2 -2.5 3.3 -2 3.3 -1.3 3.3 -0.7 2.6 0.1 2.6 0.7 2.7 1.5 2.6 2.3 4.6 6 10.5 17.5 3.3 3.5 2.6 1.1 2 -0.3 1.3 -0.9 2.6 -3.1 3.3 -6.5 3.3 -9 5.2 -4.8 2 -1.1 2 -0.5 3.3 0.9 3.3 2.9 3.2 4.6 6.6 10.9 3.3 4 2 1.5 1.3 0.5 2.6 -0.4 2.6 -2.2 2.6 -3.7 9.2 -18.8 3.3 -5.7 3.3 -3.7 2.6 -1.2 2.7 0.4 3.2 2.5 3.3 4.1 7.3 10.5 4.6 5.1 3.9 2.3 3.9 0.6 3.3 -0.7 3.3 -1.5 7.2 -5.1 5.3 -5.2 9.8 -12 4 -3.9 3.3 -1.8 1.9 -0.1 1.3 0.4 3.3 2.7 3.3 5.3 3.3 7.5 7.2 19.8 3.3 8 3.3 5.6 1.9 1.9 1.4 0.6 1.3 0 1.9 -0.9 3.3 -4.1 3.3 -6.5 7.2 -17.1"/><path d="M248.5 612.7l9.9 12.4 3.9 4.3 4.6 3.5 4 1.4 3.2 0.2 3.3 -0.5 12.5 -4.7 5.9 -1.4 5.3 -0.2 12.4 0.9 6.6 -0.8 6.6 -2.6 15.7 -8.7 4.6 -1.5 4 -0.4 4.6 0.7 5.2 2.2 5.3 3.6 15.1 12.3 5.2 2.7 4.6 0.8 4.6 -0.8 4.6 -2.6 5.3 -4.7 9.8 -11.2 4.6 -4.5 4.6 -2.9 2.7 -0.7 1.9 0 2 0.4 2.6 1.3 4.6 3.9 4 4.8 9.8 13.7 4.6 5.1 3.9 2.7 4 0.9 3.9 -1 4.6 -3.4 4.6 -5.2 9.2 -12 5.3 -5.4 2.6 -1.9 2.6 -1.2 2 -0.4 2.6 0 3.3 0.8 3.3 1.7 14.4 10.3 3.3 1.5 2.6 0.6 3.3 0.2 4 -0.7 11.1 -4.9 4 -1.3 3.9 -0.3 4 0.9 3.2 1.9 4 3.5 10.5 12.6 3.9 4.1 4 2.7 3.2 0.7 2.7 -0.6 1.9 -1.1 2.7 -2.5 2.6 -3.5 4.6 -8 9.8 -20.3 4.6 -7.6 2.7 -3.1 1.9 -1.6 2 -0.8 2 -0.2 3.3 1.3 3.9 3.7 3.9 5.7 12.5 21.1 4.6 5.6 4 2.9 3.2 1.3 3.3 0.3 15.8 -2.8 15.1 0 3.3 -0.7 2.6 -1.2 5.3 -4.1 4.6 -5.3 10.5 -14.6 4.6 -4.9 2.6 -1.8 2 -0.8 7.8 -1.1 2.7 -2.4 2.6 -5.9 2 -7.3 6.5 -33.2 2 -5.6 0.7 -0.7 0.6 0.1 1.3 2.2 2 9.1 3.3 28.6 3.9 50.2 9.2 137.7 2.6 23.9 1.3 5.3 0.7 0.8 0.7 -0.5 1.3 -4.7 1.9 -15.5 6.6 -84.6 3.3 -34.8 2.6 -18 2.7 -10.7 3.9 -11.2 3.3 -6.8 4.6 -6.8 5.2 -5.4 4 -2.3 3.2 -0.6 3.3 0.4 6.6 2.1 2.6 0.2 2.7 -1 1.9 -1.9 2 -2.8 2 -4 7.8 -19.6 2 -3.4 2 -1.8 1.3 -0.1 1.3 0.8 2.6 4.1 8.6 23.8 2.6 5.7 2 2.9 1.9 1.7 2 0.7 2.6 -0.3 5.3 -1.9 2.6 -0.5 2.6 0.4 2.7 1.5 1.9 1.9 2.7 3.7 11.1 20.3 3.3 4 2.6 1.6 2.7 0.1 1.9 -1.1 2 -2 2 -3 3.3 -6.8 8.5 -20.7 4.6 -8.4 2 -2.2 1.9 -1.3 2 -0.4 2 0.7 2.6 2.5 3.3 5.6 11.2 27.8 3.9 8.3 2.6 4 2 2.1 2 1.3 1.9 0.5 2 -0.4 2.6 -1.6 4.6 -5.5 4 -6.9 9.2 -19 4.6 -7.5 2.6 -3 2 -1.7 1.9 -1 2 -0.5 2 0 2.6 0.8 4.6 3.5 4.6 5.8 10.5 17.3 5.9 8.1 3.3 3.4 2.6 2 2.6 1.2 2.7 0.5 1.9 -0.2 2 -0.8 3.9 -2.9 4 -4.1 11.2 -13.2 5.2 -5 3.9 -2.5 4.6 -1.2 4.6 -0.1 5.3 1 5.9 1.9 5.3 2.4 4.6 2.8 4.6 3.6 15.7 14.5 4 2.2 3.2 0.5 2.7 -0.8 2.6 -2 2.6 -3.6 2 -3.7 5.2 2.2 2.7 0.4 3.3 -0.3 5.2 -1.6 10.5 -4.9 5.3 -1.6 3.3 -0.2 3.9 0.4 14.4 4 4 0.1 3.3 -0.8 3.2 -1.6 4 -2.9 11.8 -12.3 4.6 -4.1 4.6 -2.3 3.9 -0.2 2 0.6 2.6 1.5 4.6 4.4 4 5.2 10.5 15.8 4.6 5.6 4.6 3.5 3.9 1.1 2 -0.1 2.6 -1 4.6 -3.4 4.6 -5 9.9 -12.5 5.9 -5.6 2.6 -1.5 2.6 -0.8 2.7 -0.1 3.2 0.8"/><path d="M248.5 615.3l9.9 1.1 3.3 1.1 3.2 1.7 6 4.7 10.5 11.7 3.2 3.1 4 2.6 3.3 0.7 1.9 -0.3 2 -0.8 3.9 -3.3 4 -4.9 11.2 -16.9 3.9 -4.2 3.3 -1.9 1.9 -0.3 2 0.2 4 2.1 3.9 3.8 10.5 12.3 3.9 2.9 3.3 1.1 3.3 -0.3 3.3 -1.6 3.3 -2.5 7.2 -6.5 3.9 -2.7 3.3 -1.1 2.7 0.2 3.2 1.4 4 3.4 10.5 13.8 3.9 4.3 3.3 2.2 3.3 0.5 2 -0.5 1.9 -1.2 2 -1.9 2.6 -3.4 4 -6.6 9.2 -17.9 4.6 -7.1 3.9 -3.7 2 -0.8 1.9 -0.1 2 0.7 2 1.4 4.6 5.7 3.9 7.1 9.9 20 4.6 7.4 2.6 3 2 1.6 1.9 1 2 0.3 3.3 -0.8 3.9 -2.9 4.6 -5.6 9.2 -13.7 4.6 -6 5.3 -5 4.6 -2.2 4.6 -0.5 4.6 1 14.4 6.2 13.1 5 8.6 4.6 14.4 10.5 4 1.7 3.3 0.4 2.6 -0.5 1.9 -0.9 2.7 -1.8 2.6 -2.5 4.6 -6 9.2 -13.7 3.9 -4.6 4 -2.9 1.9 -0.7 2 -0.1 3.3 1 3.3 2.5 13.1 15.2 3.3 2.9 3.3 1.7 3.3 0.5 3.3 -0.6 9.8 -5 3.3 -1.1 3.3 0.1 2.6 0.9 2.6 1.8 2.6 2.6 11.2 14.3 3.3 2.5 2.6 0.6 2 -0.6 2 -1.6 1.9 -2.6 2 -3.5 4.6 -11.6 8.5 -27.2 3.3 -9.1 2 -4.3 2 -3.1 1.9 -1.8 2 -0.3 1.3 0.7 2 2.4 2 3.8 1.9 5.3 4 14.2 7.8 34.6 3.3 12.5 3.3 9 2 3 1.3 0.8 1.3 -0.4 0.7 -0.6 1.3 -2.2 2.6 -8.5 2.6 -13.7 5.3 -33.9 2 -9.2 1.3 -3.6 0.6 -0.8 0.7 -0.2 0.6 0.6 0.7 1.3 2 8.4 1.9 15.1 7.9 94.5 2 14.5 1.3 3.7 0.7 -0.1 0.6 -1.4 2 -11.1 5.9 -58.8 2 -14.6 1.9 -9.2 1.4 -3.3 2.6 -3.6 1.3 -1.1 3.9 -1.3 2 -1.2 2 -2.3 1.9 -3.7 4 -11.6 9.2 -36.3 2.6 -6.4 1.3 -1.8 1.3 -0.7 1.3 0.4 2 2.5 2 4.6 2 6.3 3.9 16.3 9.8 46.2 4.6 17.9 4 10.5 2 2.9 1.9 1.3 2 -0.5 1.3 -1.4 2 -3.6 1.9 -5.3 4 -14.9 9.2 -43.9 3.9 -16.1 2 -6.1 2 -4.6 1.9 -2.8 2 -1 1.3 0.4 2 2.3 2 3.9 1.9 5.4 3.3 11.4 8.5 34.3 4 12.9 2 4.8 1.9 3.4 1.3 1.5 2 1 1.3 0 1.3 -0.6 3.3 -3.5 3.3 -5.7 7.9 -16.7 3.3 -6.1 3.9 -5.2 3.3 -2.2 2 -0.4 2.6 0.3 10.5 4.5 5.2 1 4.6 -0.6 12.5 -3.8 3.3 -0.3 2.6 0.4 2.7 1 3.2 2.3 9.9 9.9 3.3 2.8 3.3 1.9 2.6 0.7 3.3 -0.1 3.9 -1.2 11.8 -7.4 2.7 -1.2 2.6 -0.5 2.6 0.2 2.6 0.9 11.9 7.1 2.6 0.8 2.6 0.1 2 -0.5 2 -1.2 3.9 -4 3.9 -6.3 7.3 -14 3.9 -6.7 3.3 -3.8 2 -1.2 1.3 -0.3 1.9 0.4 2 1.4 2 2.6 2.6 5.1 4.6 13.1 9.2 33.5 3.9 12.7 4 8.7 1.9 2.5 2 1 2 -0.4 2.6 -3 2 -4 2.6 -7.4 5.3 -20.4 7.2 -34.3 2.6 -6 2 -3.3 2 -2.2 1.9 -0.9 1.3 0 2 1 3.3 4.2 3.9 8.3 7.9 20.9 4 9.1 3.9 6 2 1.6 1.3 0.5 2.6 -0.4 3.3 -2.8 3.9 -6.1 7.3 -14.1 3.2 -5.5 3.3 -3.7 2 -1.1 1.3 -0.3 1.3 0.1 2 0.9 2 1.8 1.9 2.5 3.3 5.6 7.9 15.4 3.9 5.7 2 1.8 2 0.9 1.9 -0.2 1.4 -0.6 3.2 -3.5 3.3 -5.9 10.5 -26.7 3.3 -7.1 3.3 -4.9 2 -1.6 1.3 -0.5 2 0.3 1.9 1.5 2 2.6 2 3.6 3.9 9.7 7.9 23.6 3.3 8.6 3.2 6.5 2 2.5 1.3 1.1 2 0.6 2 -0.6 1.9 -1.8 2 -2.8 4.6 -10 7.2 -19.9"/><path d="M248.5 635.6l2.7 1.5 2.6 0.6 2.6 -0.6 2.6 -1.6 4.6 -5.5 8.6 -14.1 3.9 -5.5 2.6 -2.6 2 -1.2 2 -0.7 1.9 0 2 0.5 2.6 1.5 5.3 5 5.2 6.5 12.5 17.1 5.3 6.1 2.6 2.1 2 0.9 1.9 0.3 2 -0.4 2 -1.3 2 -2.2 3.9 -6.9 3.3 -8 7.2 -20.1 3.3 -7.6 3.3 -4.9 1.3 -0.9 1.3 -0.4 1.3 0.3 1.3 0.9 3.3 5.1 4 10.2 6.5 21.3 3.3 9.3 2 4.4 1.9 3.2 2 1.8 1.3 0.5 1.3 0 1.4 -0.7 2.6 -2.7 10.5 -19 2.6 -3.4 2.6 -1.9 2.7 -0.3 2.6 1.1 7.9 7.3 3.3 2.2 2.6 0.4 2.6 -1 2 -1.8 2.6 -3.6 10.5 -18.9 2.6 -3 2.7 -1.6 1.3 -0.1 2 0.6 3.2 2.9 2.7 3.6 9.2 15.1 3.2 3.9 2.7 2 1.9 0.9 2.7 0.6 10.5 -0.4 9.2 1.1 2.6 -0.1 2 -0.7 3.9 -2.9 3.9 -5.2 9.2 -15.5 2.7 -2.9 2.6 -1 2 0.7 1.3 1.2 3.3 5.6 3.2 8.7 6.6 21.7 3.3 9.5 3.3 6.1 1.3 1.2 1.3 0.4 1.3 -0.4 1.3 -1.2 1.3 -2 2 -4.4 3.3 -10.3 9.2 -34.2 3.3 -8.2 1.9 -2.8 1.4 -1.1 1.3 -0.2 1.3 0.4 2.6 2.7 2.6 4.8 7.9 17.5 2.6 4.1 2 2 2.6 0.8 2.7 -1.1 2.6 -2.6 5.9 -7.9 2.6 -2.8 2.7 -1.5 2.6 0.3 2.6 2.2 2.6 3.9 7.9 16.4 3.3 5.8 3.3 3.5 2.6 0.8 2 -0.7 2.6 -2.2 9.2 -13.5 2.6 -3 2 -1.4 2.6 -0.7 2.7 0.5 2.6 1.6 7.2 5.6 2.6 1.1 2 0 2 -0.7 2.6 -1.9 9.2 -10.8 2.6 -2.1 2 -0.7 2.6 0.4 3.3 2.5 7.9 11.3 2.6 3 2.6 1.4 1.4 0 1.3 -0.6 2.6 -3 3.3 -6.9 8.5 -25.8 2.6 -6.6 2.7 -4.2 1.3 -1.1 1.3 -0.2 1.3 0.7 1.3 1.4 2.6 5.3 9.2 30.6 2 4.6 1.3 1.7 1.3 0.5 0.7 -0.3 2 -2.9 5.2 -15.8 2 -4.2 1.3 -0.9 0.7 0.4 1.3 2.3 1.3 4.7 2 10.8 5.9 46.4 2.6 17.7 1.3 6.3 1.3 4.2 0.7 1.2 1.3 0.8 0.6 -0.4 1.4 -2.3 1.9 -6.5 5.9 -28.6 3.3 -13.2 9.9 -27.4 9.2 -29.2 3.3 -9.1 2.6 -5.7 3.3 -4.9 8.5 -7.3 6.6 -6.9 2.6 -1.5 2 0.5 1.3 1.2 1.3 2 2 4.6 3.2 11.2 9.2 37.7 3.3 9.6 2 4.3 2 3.1 1.9 2.1 2.7 1.4 2.6 -0.1 2.6 -1.6 2 -2 2.6 -3.8 7.9 -15.4 2.6 -4.4 2 -2.2 1.3 -0.9 1.3 -0.2 1.3 0.5 1.3 1.2 2 3 3.3 8.4 9.2 34.4 2.6 8.4 2.6 5.5 1.4 1.5 1.3 0.4 1.3 -0.6 2 -2.9 1.9 -5.3 2 -7.4 3.3 -16 7.2 -40.2 3.9 -17.2 2 -5.8 1.3 -2.6 1.3 -1.6 1.4 -0.6 1.3 0.5 1.3 1.5 3.3 7.6 2.6 9 7.2 28.4 4 12.1 3.2 6.3 2 2 2 0.9 1.3 -0.1 2 -0.8 8.5 -6.7 2.6 -1.3 2 -0.4 2 0.1 2.6 0.9 9.2 5.2 2.6 0.5 2 -0.3 3.9 -2.1 9.2 -8.5 2.6 -1.3 2 -0.2 2.6 0.8 2.7 1.9 9.2 11 2.6 2.5 3.3 1.7 2.6 -0.3 2 -1.2 2.6 -2.7 9.8 -15.5 2.7 -3.1 1.9 -1.6 2.7 -1.1 2.6 0 7.9 3 2.6 0.4 2.6 -0.6 2 -1.4 2 -2.2 2.6 -4.1 7.2 -14.9 2.6 -4.6 2 -2.4 1.3 -0.9 1.3 -0.3 1.4 0.4 1.9 2 1.3 2.3 2 4.7 2 6.4 3.9 16.4 7.9 37.7 3.9 15 3.3 7.9 2 2.4 1.3 0.6 1.3 -0.1 1.3 -1 2.7 -4 3.2 -8.4 4 -13.6 5.2 -11.4 4.6 -8.4 4 -5.8 10.5 -13 10.5 -15.1 3.3 -3.8 2.6 -1.9 2 -0.7 1.9 0.1 2 0.9 2.6 2.3 4 5.5 11.1 19.5 4 4.7 3.3 2.3 2.6 0.9 2.6 0.3 11.2 -1.1 13.1 0.5 4.6 -0.8 9.9 -3.2 4.6 -0.1 2.6 1 3.3 2.3 11.8 12.8 2.6 1.5 2 0.4 2 -0.6 1.3 -0.9 1.9 -2 2 -3 4 -8.2 10.5 -26.3 3.3 -5.6 1.9 -2.1 1.3 -0.8"/><path d="M248.5 597.2l2.7 4.9 2.6 6.3 10.5 30.9 3.9 9.9 4 6.8 1.9 2 2 0.8 2 -0.3 1.9 -1.5 2 -2.5 2 -3.6 4.6 -11.6 9.2 -29 3.9 -10.8 2.6 -5.6 2 -3 2.6 -2.5 2 -0.6 2 0.4 2.6 2.3 2 2.8 2.6 5 3.9 9.7 10.6 29.6 5.9 13.2 2.6 4.2 2 2.4 2.6 2 2 0.7 2.6 -0.2 2.6 -1.5 2.6 -2.7 3.3 -4.8 5.9 -12.6 11.2 -30.2 4.6 -11.1 2.6 -4.9 2 -2.9 2.6 -2.3 2 -0.6 2 0.5 1.9 1.5 2 2.5 2 3.6 4.6 11.4 8.5 26.4 3.9 10.5 4 7.2 2 2 1.9 0.9 2.7 -0.7 3.2 -3.4 3.3 -5.8 7.2 -16.2 3.3 -6.4 3.3 -4.4 2 -1.5 1.3 -0.4 1.3 0.1 2 1 3.3 3.7 3.2 5.7 7.3 14.6 3.3 4.9 1.9 1.8 1.3 0.5 2 -0.1 1.3 -0.7 3.3 -4.2 3.3 -7.4 10.5 -33.1 3.3 -8.7 3.3 -5.7 1.9 -1.7 1.3 -0.3 1.4 0.4 1.9 1.8 3.3 6 4 11.5 8.5 31.3 3.9 12.4 4 8.5 1.9 2.5 2 1.2 1.3 0.1 2 -0.8 2 -1.9 1.9 -2.9 3.3 -6.3 9.2 -20.7 4.6 -8 2 -2.5 2.6 -2.4 2.6 -1.4 2.7 -0.6 3.2 0 10.5 1.7 11.2 0.3 2.6 0.6 2.7 1.1 3.3 2.3 3.2 3.3 13.2 17.6 3.3 2.8 2.6 1 3.3 -0.5 1.9 -1.3 2 -2 3.9 -5.8 8.6 -16.5 3.9 -6.6 4 -4.2 1.9 -1 1.3 -0.3 3.3 1 3.3 3.1 3.3 4.5 9.8 16.2 3.3 3.9 3.3 2.3 3.3 0.6 3.3 -1 3.3 -2.3 9.8 -8.9 3.3 -1.8 3.3 -0.5 3.3 0.7 3.2 2 9.2 8.8 3.3 2.6 3.3 1.6 2.6 0.3 2 -0.5 2 -1.1 1.9 -1.7 2.7 -3.1 4.6 -7.8 3.9 -10 2.6 -9.2 2.7 -12 8.5 -49 2 -6.7 1.3 -2 0.6 -0.2 0.7 0.4 1.3 2.4 2.6 10.7 7.3 45.3 5.9 31.2 2.6 17 2 17.4 1.9 22.8 7.3 104.7 1.9 15.3 0.7 2.4 0.6 0.8 0.7 -0.6 0.7 -2.1 1.9 -14.3 7.9 -100.8 2.6 -23.1 2.7 -15.2 1.9 -8.1 2.7 -8.4 17 -47 5.9 -12.7 2.7 -3.7 2.6 -1.9 2 -0.1 1.3 0.7 2 2.1 1.9 3.4 3.3 7.9 7.9 23.6 3.9 9.9 4.6 8.1 4.6 4.8 5.3 3 11.1 4.2 4.6 0.8 4 -0.7 3.3 -1.9 3.9 -3.8 10.5 -14.7 3.3 -3.8 3.3 -2.2 2.6 -0.2 3.3 1.8 3.3 4.1 3.3 5.8 10.5 21.9 3.2 4.3 2.7 1.6 1.9 -0.1 1.4 -0.7 1.9 -2 2 -3.1 3.9 -8.8 7.9 -22.3 4 -9.6 1.9 -3.7 2 -2.6 2 -1.6 1.9 -0.5 1.4 0.3 1.9 1.3 2 2.4 2 3.3 3.2 7 7.9 19 4 7.4 3.2 4 2 1.2 2 0.5 2 -0.2 2.6 -1.3 11.2 -10.2 3.2 -2 2.7 -0.6 2.6 0.2 2.6 1 8.6 6.2 3.2 2 3.3 0.9 3.3 -0.3 2.6 -1.2 3.3 -2.5 11.2 -11.3 3.3 -2.1 2.6 -0.7 2.6 0 2.6 0.8 8.6 4.9 3.3 1.4 2.6 0.5 2.6 -0.4 2.6 -1.4 3.3 -2.8 8.6 -10.7 3.2 -3.5 3.3 -1.9 2 -0.2 1.3 0.4 2 1.3 2 2.2 4.6 8.3 8.5 21.5 4.6 14.6 3.3 8 3.3 5 1.3 1 1.3 0.4 1.3 -0.2 2 -1.4 1.9 -2.8 2 -3.9 3.9 -10.7 7.9 -26.2 4 -11.6 2.6 -6 2 -3.3 1.9 -2.2 2 -1.1 1.3 -0.1 2 0.8 3.3 3.3 3.9 6.8 11.2 23.4 3.9 5.7 2 1.8 2 1.1 1.9 0.4 2 -0.4 2 -1 2.6 -2.3 4.6 -6 9.8 -16 4.6 -6.3 2.7 -2.9 2.6 -2 2.6 -1.2 2 -0.4 2.6 0.4 2.6 1.3 2.7 2.2 3.3 4 5.2 8.6 13.8 27.1 3.9 5.8 4 3.8 2.6 1.2 2 0.2 1.9 -0.5 2.7 -1.6 2.6 -2.6 2.6 -3.4 5.9 -10"/><path d="M248.5 617.2l7.9 18.5 3.9 7.7 2 2.8 2 2 2 1.1 1.3 0.1 2.6 -1 3.3 -3.6 3.9 -7 7.2 -16.2 4 -7.6 3.9 -4.9 3.3 -1.7 2.6 0.3 3.3 2.1 3.3 3.6 9.9 12.7 3.2 2.9 3.3 1.7 3.3 0.6 3.3 -0.4 3.9 -1.4 9.9 -4.7 5.9 -2.2 5.9 -1.4 4.6 -0.1 3.9 0.9 3.3 1.4 4 2.7 9.8 8.3 3.3 1.7 2.6 0.5 3.3 -1 3.3 -2.7 3.9 -5.4 7.9 -14.1 3.3 -4.9 3.3 -3.1 1.9 -0.7 1.4 0 1.3 0.5 1.9 1.4 3.3 4.3 9.9 19.9 3.3 5.6 3.2 3.7 1.4 0.8 1.9 0.6 2.7 -0.6 2.6 -1.8 9.8 -11.4 4.6 -3.8 2 -0.8 2.6 -0.4 2.7 0.2 7.2 1.8 2.6 0 2 -0.4 4.6 -2.8 10.5 -10.2 2.6 -1.3 2 -0.1 1.9 0.7 1.4 1 3.2 4.1 3.3 6 7.3 15.9 3.2 5.6 2.7 2.7 1.3 0.7 1.3 0.1 1.3 -0.5 2 -1.6 3.3 -5.3 9.8 -24.7 3.3 -6.7 3.3 -3.9 1.3 -0.7 1.3 0 2.6 1.6 2.7 3.6 2.6 5.2 6.5 16.1 3.3 7.1 3.3 4.9 2.6 1.9 1.4 0.2 1.9 -0.6 3.3 -3.1 3.3 -5.1 7.2 -13.4 4 -5.8 3.2 -2.9 2 -0.9 2 -0.3 2 0.3 2.6 1 11.1 6.5 9.9 3.3 3.9 2 5.3 4.6 10.5 13.1 2.6 2.1 2.6 0.8 2 -0.4 2 -1.5 3.3 -4.6 3.9 -9 7.2 -20.6 3.3 -8 3.3 -5.4 2 -1.5 1.3 -0.2 1.3 0.5 2 1.8 3.3 6.2 3.2 9.1 7.3 23.3 3.2 8.5 3.3 5.2 2 1.3 1.3 0.1 1.3 -0.6 1.3 -1.2 2.7 -4 2.6 -5.7 7.2 -18.4 2.6 -5.4 2 -3 2 -2.1 2 -1.1 1.9 -0.3 4 0.3 1.9 -0.4 2 -1.6 2 -3.3 1.9 -5.6 2.7 -10.9 8.5 -46.4 2.6 -8 1.3 -1.4 0.7 -0.1 1.3 1.2 2 4.8 3.9 18.2 5.9 38.9 8.6 69.2 1.9 10.3 1.4 3.5 0.6 0.7 0.7 0 0.6 -0.7 1.3 -3.2 7.3 -30.8 1.9 -5.3 2.7 -4.2 5.9 -18 11.1 -42.6 2.7 -6.5 1.3 -1.8 1.3 -0.7 1.3 0.3 1.3 1.3 1.3 2.3 2 4.9 9.9 34.8 5.9 16.7 2.6 5.6 3.3 5.7 2.6 3.5 3.3 3.4 3.9 2.5 4 0.6 3.2 -1 3.3 -2.8 3.3 -4.3 3.3 -5.6 11.2 -23.5 3.9 -7.3 2 -2.7 1.9 -1.9 2 -0.9 1.3 0.1 1.3 0.6 2 1.8 4 6.7 3.9 9.9 10.5 31.4 3.3 6.4 2 2 1.3 0.6 1.9 -0.5 2 -1.9 2 -3.4 2.6 -6.7 3.9 -13.9 8.6 -36.3 3.9 -13.1 2 -4.2 1.3 -1.8 2 -1 1.3 0.5 1.3 1.3 2 3.6 3.9 12.6 3.3 14.7 7.2 36.5 4 16.3 3.2 8.6 2 2.6 1.3 0.4 1.3 -0.4 2 -2.5 3.3 -8.5 2.6 -9.8 7.2 -31 3.3 -11.4 3.3 -7.6 1.3 -1.7 2 -1.3 1.3 0.1 1.3 0.7 2.6 3.1 2.7 5 9.2 20.5 2.6 3.8 2.6 2 2 0.2 2 -0.8 2.6 -2 7.2 -7.1 2.6 -1.2 2 -0.1 2.6 1.2 2.7 2.2 7.8 10.4 2.7 2.8 2.6 1.5 2.6 -0.3 2.7 -2.2 2.6 -4.2 8.5 -19.8 2.6 -5.1 3.3 -4.1 1.3 -0.7 1.4 -0.1 1.3 0.5 1.3 1.2 3.3 5.2 2.6 6.3 8.5 24 3.3 6.5 2.6 2.9 1.4 0.6 1.3 0.1 2.6 -1.3 2.6 -3 5.9 -9 2.7 -3.3 2.6 -2.1 2.6 -0.6 3.3 1.3 6.6 5 1.3 0.4 1.3 -0.1 2.6 7.5 2.6 5.7 2 2.5 2 0.8 1.3 -0.4 1.3 -1.2 2.6 -4.7 3.3 -9.1 8.6 -28.3 3.2 -7 1.4 -1.6 1.3 -0.8 1.3 0 1.3 0.7 2.6 3.7 3.3 8.2 6.6 21.1 3.3 9.2 3.2 5.8 2 1.5 1.3 0.1 1.3 -0.5 1.3 -1.3 3.3 -5.6 9.2 -24.4 3.3 -7 3.3 -4.2 2.6 -1 2 0.5 2.6 2.2 9.9 14 3.9 3.9 2 1.1 2.6 0.6 2.6 -0.3 7.3 -1.8 2.6 0.1 2 0.7 1.9 1.3 2.7 2.5 7.8 10.4 2.7 2.9 3.2 1.8 2.7 -0.5 1.3 -0.9 2 -2.4 3.2 -6.4 3.3 -8.7 7.9 -24 3.9 -8.8 2.7 -3.2 1.9 -0.7 2 0.8 2.6 3.5"/><path d="M248.5 615.7l2.7 0.8 2.6 1.5 11.1 8.5 2.7 1.3 2.6 0.6 2.6 0 3.3 -0.9 9.2 -5.1 3.3 -1.4 3.3 -0.6 3.3 0.5 2.6 1.2 2.6 1.7 11.2 9.7 3.3 1.6 2.6 0.3 3.3 -0.9 3.9 -2.9 3.3 -3.7 7.9 -10.5 3.9 -4.2 3.9 -2.5 3.3 -0.3 3.3 1.2 4 3.3 11.1 13.9 4.6 4.7 4.6 2.8 4.6 0.9 5.3 -1.2 6.5 -3.6 7.3 -5.3 14.4 -12.1 4.6 -3.3 3.9 -1.8 4 -0.4 3.9 1.4 4 3.6 4.6 6.5 9.2 16.6 3.2 5.1 4 4.1 1.9 1 2 0.2 2 -0.7 2 -1.5 3.9 -5.4 3.9 -8 8.6 -19.8 3.9 -7.3 2 -2.7 2 -1.8 1.9 -1 2 -0.1 3.3 1.8 3.9 5 4 7.3 8.5 18 4.6 7.8 2.6 3.2 2 1.7 2 1 2.6 0.4 2 -0.4 2.6 -1.4 4.6 -4.6 4.6 -6.5 10.5 -16.7 5.2 -6.7 4.6 -3.7 2 -0.8 2 -0.2 1.9 0.4 2 1 4 3.6 4.6 6.8 9.1 17.3 4 6.4 3.9 4.4 2 1.1 2 0.4 1.3 -0.2 2 -1 3.2 -3.4 4 -6.4 8.5 -17.4 3.3 -5.7 3.9 -4.7 3.3 -1.6 1.3 0 2 0.7 3.3 2.8 3.3 4.4 7.9 13.2 3.2 4.7 4 3.8 3.3 1.3 2.6 -0.2 3.3 -1.7 3.3 -2.9 9.1 -9.3 3.3 -2.2 3.3 -1.1 2.6 0 2.7 0.7 11.8 6.8 2.6 1 2.6 0.5 2.7 0 3.3 -0.9 11.8 -6.4 3.3 -1.2 2.6 -0.4 2.6 0 3.3 0.8 10.5 4.9 2 0.3 1.9 -0.5 2.7 -2.7 2.6 -6 2.6 -9.8 5.9 -27.6 2 -5.8 1.3 -1.5 0.7 -0.1 1.3 1.4 2 5.3 5.9 26.1 2.6 9.4 7.9 18.2 1.9 8 1.4 7.7 1.9 16.5 2 22.9 6.6 97.2 1.9 17.9 1.4 4.6 0.6 -0.2 0.7 -1.8 1.9 -17.7 7.9 -127.1 2 -23.7 2 -17.2 2.6 -14.5 1.3 -4.8 2 -5.1 2.6 -4.7 2.6 -3.4 2.6 -2.6 2.7 -1.6 1.9 -0.4 2 0.7 2 1.7 2 2.7 3.2 6.6 6.6 16.8 3.3 7.3 3.3 5.4 3.3 3.1 3.2 1.1 4 -0.7 3.3 -1.6 9.2 -6.5 5.2 -2.9 5.3 -1.7 4.6 0 3.2 1.1 2.7 1.8 3.3 3.3 10.5 12.7 3.2 2.8 3.3 1.4 2 0 2 -0.8 1.9 -1.7 2 -2.4 4 -6.6 9.1 -18.2 4 -5.9 2 -2 1.9 -1.2 2 -0.3 1.3 0.3 1.3 0.7 2 2 3.3 5.2 10.5 23.3 4.6 8.5 3.9 4.6 2 1.2 2 0.3 3.2 -1 4 -3.7 3.9 -5.6 7.9 -13.3 3.9 -5.1 4 -3.1 3.9 -1.1 3.3 0.3 3.9 1.4 13.8 7.1 11.9 5.1 4.6 3 8.5 7.3 3.9 2.6 4 1.2 1.9 0 2 -0.6 4 -2.9 3.9 -5.3 11.2 -22 3.9 -6.5 2 -2.3 1.9 -1.6 2 -0.8 2 0.1 2 1 1.9 2 2 2.8 2.6 5.1 4 9.9 9.2 26.4 4.6 10.7 3.9 6 2 1.6 1.9 0.6 2 -0.3 2.6 -1.9 2.7 -3.5 2.6 -5.1 5.2 -14 5.3 -18.4 3.3 -3.7 3.3 -3 3.2 -2 2.7 -1 3.3 -0.4 3.2 0.4 3.3 1.4 3.3 2.2 6.6 6.6 14.4 18.8 4 3.3 1.9 1 2 0.4 2 -0.3 1.9 -0.8 2 -1.5 2.6 -3 4 -6.2 8.5 -16.8 4 -6.8 3.9 -4.7 3.3 -1.7 1.9 0 2 0.8 2 1.6 2 2.3 3.9 6.2 8.5 17.1 4 6.8 2.6 3.5 2 2 1.9 1.3 2 0.7 2 0 2 -0.7 1.9 -1.2 2.6 -2.4 4 -4.9 12.5 -17.9 3.9 -4.2 3.9 -2.9 2.7 -1.1 1.9 -0.4 2 0.1 2.6 0.7 4.6 2.8 4.6 4.7"/><path d="M248.5 631.9l5.9 2.4 4 0.9 3.3 -0.3 3.2 -1.5 2.7 -2.1 3.3 -3.7 9.8 -15.1 3.3 -4.4 3.9 -3.5 3.3 -0.9 3.3 1.1 3.3 3 3.9 5.7 7.9 14.1 3.3 5.1 3.9 4.2 3.3 1.7 2.6 0.1 3.3 -1.2 3.3 -2.4 7.9 -6.7 2.6 -1.6 2.6 -1.1 2.7 -0.3 2.6 0.3 8.5 3 3.3 0.8 2.6 -0.1 2.7 -0.8 2.6 -1.6 2.6 -2.2 10.5 -11.5 3.3 -2.1 2.6 -0.6 3.3 0.9 4 3.5 3.2 4.5 7.3 11.4 3.3 4.1 3.2 2.3 2.7 0.3 2.6 -1.1 3.3 -3.2 9.8 -15.7 2.6 -3.6 3.3 -2.8 2.7 -0.6 1.3 0.3 1.9 1.1 3.3 3.8 3.3 5.7 7.2 14.6 3.3 5.4 3.3 3.4 2 0.8 1.3 0 1.3 -0.5 2 -1.4 3.3 -4.3 3.2 -6.1 7.3 -15.3 3.9 -6.7 2 -2.3 1.9 -1.6 1.4 -0.5 1.9 -0.2 2 0.6 2.6 1.9 2.6 2.7 9.2 11.7 3.3 2.8 2.7 1.2 2.6 0.2 3.3 -0.8 8.5 -5.3 3.3 -1.5 3.3 -0.3 3.2 1.3 2.7 2 2.6 3 8.5 12.7 3.3 4.2 3.3 2.8 2 0.8 1.3 0.1 2 -0.6 1.9 -1.4 2 -2.2 2.6 -4.1 4 -8.2 8.5 -20.6 4.6 -8.9 2 -2.6 1.9 -1.8 2 -1 1.3 -0.1 1.3 0.3 2 1.2 4 4.8 3.9 7.4 9.2 21.1 3.9 7.8 2.7 4 1.9 2.3 2 1.6 2 0.8 1.9 0.2 2 -0.4 3.9 -2.6 4 -4.3 10.5 -13.3 3.9 -3.7 3.3 -2.1 2.6 -1 3.3 -0.6 10.5 0.3 4.6 -0.3 4 -0.9 8.5 -2.6 3.9 -0.6 4.6 0.5 4.6 2.2 4.6 4.1 9.9 11.2 3.9 3.8 4.6 2.7 4 0.5 3.2 -0.9 4 -2.4 3.3 -3.3 3.3 -4.4 4.6 -9.6 7.8 -22.6 2 -3.3 2 -1.1 1.9 1.3 2 3.1 5.9 12.8 6.6 12 3.3 9.6 2.6 12.8 2 13.2 7.9 66.1 1.9 10 1.3 3.1 0.7 0.4 0.7 -0.3 1.3 -3 1.9 -8.3 7.3 -49 1.9 -10.7 2.7 -10.7 2.6 -7.6 9.2 -20.8 9.2 -23.9 4.6 -13.3 9.2 -29.5 1.9 -3.9 2 -1.6 1.3 0.7 0.7 0.8 2.6 6.9 2.6 11.7 7.9 42 2.6 9.1 1.3 2.9 2 2.5 2 0.5 2 -1.1 1.9 -2.1 5.9 -8.8 2.7 -3.3 2.6 -2.1 2.6 -0.6 2.6 0.7 3.3 2.5 9.2 11.9 3.3 3.5 3.3 1.9 3.3 0 2.6 -1.4 2.6 -2.5 11.2 -13.8 3.3 -2.2 2.6 -0.4 2.6 0.9 3.3 3.2 3.3 4.8 7.2 13.3 3.3 5.2 3.3 3.6 2 1.2 1.3 0.4 1.3 -0.1 2 -0.8 3.2 -3.3 4 -6.4 8.5 -18 3.3 -5.9 3.9 -4.8 2 -1.2 2 -0.5 3.3 0.9 3.2 2.8 3.3 4.2 7.9 12.3 3.9 5.5 4 4 3.9 2.2 4 0.3 3.9 -1.1 4 -2.1 11.8 -7.3 7.9 -3.5 15.7 -4.1 4.6 -0.8 4 -0.2 5.2 0.7 5.3 2.2 5.2 3.8 11.8 10.6 4 2.1 3.3 0.5 3.9 -1.2 4.6 -3.9 3.9 -5.3 11.2 -17.7 3.3 -3.6 3.3 -1.8 1.9 -0.1 2 0.7 7.2 6.1 4 4.8 8.5 12.1 3.9 4.3 4 2.6 3.9 0.8 4 -0.8 9.8 -4.8 4.6 -1.3 4.6 -0.1 10.5 1.8 2.6 -0.3 2.7 -0.9 3.3 -2.4 3.2 -3.5 9.9 -14.4 3.3 -4 3.3 -2.5 1.9 -0.5 1.3 0.1 2 0.8 2 1.8 3.9 5.8 3.3 6.9 8.5 20.3 4 7.5 3.3 4 1.9 1.2 1.4 0.3 1.3 -0.1 1.9 -0.8 3.3 -3.2 3.3 -4.8 10.5 -18.4 3.3 -4.3 2.6 -2.5 3.3 -1.9 3.3 -0.8 14.4 1.2"/><path d="M248.5 643.4l2.7 1.4 2.6 0.3 2.6 -0.9 2.6 -2.2 2.7 -3.5 2.6 -4.6 8.5 -18.4 3.3 -6.1 2 -2.8 1.9 -1.9 2 -1.1 1.3 -0.2 2.7 0.8 3.2 3.2 3.3 4.8 7.2 12.3 3.3 4.4 3.3 2.7 3.3 0.9 2 -0.3 2.6 -1.1 9.2 -5.6 4.6 -1.2 4.6 0.8 9.8 4.6 4.6 1 4.6 -0.5 8.6 -2.6 3.9 -0.6 3.9 0.2 8.6 1.7 3.9 -0.3 3.3 -1.6 3.3 -2.9 3.3 -4.1 6.5 -9.5 3.3 -3.9 3.3 -2.2 2 -0.4 1.3 0.2 3.3 2.2 3.3 4.2 11.1 21.1 4.6 6.8 2.6 2.5 2.7 1.5 2.6 0.6 3.3 -0.2 5.2 -1.6 8.6 -3.6 3.9 -2.4 3.3 -2.8 2.6 -3.1 3.3 -4.9 11.8 -21.8 3.3 -3.8 2 -1.2 1.3 -0.3 1.3 0.2 2 1.2 3.3 4.3 3.2 6.6 7.3 18 3.3 7.2 3.9 6 1.3 1.2 2 1 2.6 -0.2 2.6 -1.5 2.7 -2.5 7.8 -9.3 4.6 -3.6 2 -0.7 2.6 -0.4 9.2 1.5 4.6 -0.2 4.6 -2 9.2 -6.2 2.6 -1 2 -0.3 2.6 0.3 2.7 1.2 10.5 8.3 4.6 2.1 2.6 0.2 2.6 -0.7 10.5 -6.2 2.7 -0.9 2.6 -0.2 2 0.4 2.6 1.2 9.8 7.2 2.7 1 1.9 0.2 2.7 -0.6 2.6 -1.7 11.2 -11.1 2.6 -1.3 2.6 -0.1 2.6 1.3 3.3 3.4 8.6 13.4 2.6 3.3 2.6 2.2 2.6 0.7 2.7 -1 2.6 -2.6 3.3 -5.1 9.2 -16.8 3.2 -4 3.3 -1.8 2.7 0.1 3.2 1.9 11.2 12.3 3.3 2.8 2.6 1.5 4.6 1.5 7.9 1.1 3.9 -0.2 2.7 -1 3.2 -3.4 2.7 -4.9 7.9 -22.2 2.6 -6.3 2.6 -3.6 2 -0.7 1.9 1.1 2 2.7 2 4.2 2 5.5 4.6 18.4 7.8 40.4 2.7 7.8 0.6 0.9 1.3 0.7 1.3 -0.9 2 -3.7 5.3 -15.2 3.3 -7.4 1.9 -2.8 6.6 -7.1 3.3 -5.6 3.3 -7.7 6.5 -18.1 2.6 -6 3.3 -4.9 1.3 -1 2 -0.6 3.3 1 5.9 4.6 3.3 1.7 2.6 0.6 5.3 0.2 2.6 0.7 2.6 1.9 2 2.3 2.6 4.7 3.3 8.1 9.2 29.3 3.3 8.9 3.3 6 1.9 1.8 1.4 0.4 1.3 -0.2 1.9 -1.6 2 -2.9 2 -4.1 3.3 -8.8 7.8 -23.9 4.6 -10.8 2 -3.3 2 -2.3 1.9 -1.3 2 -0.6 2 0.2 2 0.8 5.2 4.2 11.2 12.9 15.1 20.2 3.9 3.6 3.3 1.2 2 -0.2 1.3 -0.6 3.3 -3.1 3.9 -6.4 7.2 -15 3.3 -5.8 3.3 -3.9 2 -1.1 1.3 -0.2 2.6 1 3.3 3.6 2.6 4.2 6.6 12.5 3.3 5.1 3.3 3.1 2.6 0.9 2.6 -0.7 2.6 -1.9 9.2 -11.4 3.3 -3.4 3.3 -2.1 3.3 -0.6 3.3 0.4 7.2 2.6 3.9 0.7 4 -0.2 9.2 -2.5 2.6 0 2 0.4 2.6 1.3 3.3 2.7 10.5 11.6 2.6 1.8 2.6 0.8 2.7 -0.3 3.2 -2.1 3.3 -3.5 9.2 -11.4 3.3 -2.6 3.3 -1 2 0.1 2.6 0.9 9.8 6.3 2.7 1.2 2.6 0.4 3.9 -0.4 9.2 -3.7 4.6 -0.7 4.6 1.1 10.5 5 2.7 0.7 2.6 0.1 4.6 -1.2 9.8 -4.9 2.7 -0.6 1.9 0.2 2.7 0.8 2.6 1.6 10.5 9 2.6 1.2 2.6 0.2 2.7 -0.9 3.2 -2.7 9.2 -12.1 3.3 -3.7 2.7 -1.8 2.6 -0.6 2.6 0.7 2.6 1.9 3.3 3.7 9.2 12.2 3.3 2.9 2.6 1.2 3.3 0 3.3 -1.3 11.8 -9.6 5.9 -3.4 6.6 -1.6 9.8 -0.6 6.6 0.8 5.3 2.3 4.6 3.5 8.5 8.3 3.9 2.7"/><path d="M248.5 637.8l2.7 -2.7 7.2 -8.9 4.6 -3.8 1.9 -0.8 2.7 -0.4 8.5 1.4 2.6 0 2 -0.6 4.6 -3 8.5 -8.3 2.7 -1.5 1.9 -0.2 2.7 1 3.2 3.4 3.3 5.5 8.6 17.2 2.6 3.7 2.6 2 1.3 0.2 1.3 -0.2 1.4 -0.8 1.9 -2 3.3 -5.2 8.6 -16.5 3.2 -3.9 2.7 -1.1 2.6 0.8 3.3 3.4 9.2 16.1 3.3 4.6 3.2 2.7 1.3 0.4 2 -0.1 2 -0.8 2.6 -2 9.2 -10.4 4.6 -4 3.3 -2 9.8 -4.7 11.2 -7.9 3.9 -1.2 2 0.3 2 1 3.3 3.5 3.3 5.3 9.8 19.7 3.3 4.2 2 1.4 1.3 0.3 2.6 -0.6 2.6 -2.2 10.5 -15.5 2.7 -2.7 2.6 -1.3 2 -0.1 2.6 1.2 2.6 2.2 7.9 8.3 2.6 1.5 2 0.3 2.6 -0.9 2.6 -2.1 10.5 -14.1 2.7 -2.4 1.9 -1 2.7 -0.1 2.6 1.3 2.6 2.3 7.9 8.6 2.6 1.8 2.7 0.6 2.6 -0.6 2.6 -1.8 7.9 -8.5 2.6 -2.2 2.6 -1.2 2 0 2.6 1.1 2.7 2.4 8.5 12.3 3.3 4 3.3 2.5 3.3 0.5 3.9 -1.5 8.5 -6.2 4 -1.5 1.9 0 2.7 0.6 9.2 4.3 2.6 0.2 2.6 -0.7 2.6 -1.9 2.7 -2.8 7.2 -10.4 3.3 -4 2.6 -2.1 2.6 -0.8 2.7 0.6 2.6 1.9 9.8 12 2.7 2.4 1.9 1.1 2 0.5 2.6 -0.3 2.7 -1.2 7.8 -5.2 2.7 -0.9 2.6 0.2 2 0.8 2.6 1.9 9.8 10.6 2 1.3 2 0.7 2.6 -0.3 3.3 -2.2 2.6 -3 6.6 -8.9 3.3 -3.4 2.6 -1.3 2.6 0.1 2 1 2.6 2.5 9.9 12.9 2.6 1.9 2.6 0.6 1.3 -0.2 2 -1.1 3.3 -3.4 23 -34.1 1.9 -2.3 2 -0.7 1.3 1 1.3 2.6 2 7.8 2 12.7 5.2 44.4 2 10.2 0.7 1.5 0.6 0.6 0.7 -0.4 0.6 -1.3 1.3 -5 5.3 -31.8 1.3 -6 2 -5.8 2 -2.3 1.9 0.2 2.7 2.5 5.9 8 3.2 -2.8 2.7 -3.4 3.3 -6.7 3.2 -10.1 10.5 -42.5 2.7 -6.7 1.3 -1.8 1.3 -0.6 1.3 0.5 1.3 1.7 1.3 2.9 2 6.1 9.2 41.5 3.9 14.1 3.3 7.2 2 2.4 2 1.1 1.9 0 2.7 -1.3 13.1 -12 13.1 -7.1 9.9 -7.5 3.3 -1.2 1.9 0.2 2 1 2 1.7 2 2.6 3.9 7.4 7.2 17.3 2.6 5.4 2.7 3.8 1.3 1 1.3 0.5 1.3 -0.1 1.3 -0.7 3.3 -4.3 3.3 -7.2 9.2 -24 2.6 -4.6 2.6 -2.5 1.4 -0.4 1.3 0.3 1.3 0.8 1.9 2.2 2.7 4.5 8.5 17.7 3.3 4.3 2.6 1.4 2.6 -0.5 2.7 -2.1 8.5 -12.3 3.3 -3.5 3.3 -1.4 2 0.2 0.6 0.5 1.3 3.2 2 9.3 3.9 30.4 5.3 99.7 0.6 0.7 1.4 -5.1 4.6 -30.6 0.6 0.5 0.7 3.9 3.9 34.8 0.7 3.4 0.6 0.3 0.7 -2.6 5.9 -42.4 1.3 -5.2 3.9 -10.3 2 -9.8 2 -14.1 3.3 -30.6 1.9 -12.3 1.3 -5.6 2.7 2.4 2.6 1.5 2.6 0 2 -1 3.9 -4.3 8.6 -13.4 1.9 -2.2 2 -1.4 2.6 -0.7 2.7 0.6 2.6 1.8 8.5 7.8 2.7 1.4 2.6 0.2 2.6 -1.1 2.6 -2.2 7.3 -9 2.6 -2.8 2.6 -1.6 2.6 -0.2 2.7 1.5 2.6 2.9 3.3 5.4 8.5 16 2.6 3.6 2.7 2.3 3.3 1.1 1.9 -0.3 2 -0.7 3.9 -2.6 9.9 -7.9 8.5 10 2.7 2 2.6 0.7 2 -0.6 1.3 -0.9 3.2 -4.1 3.3 -6.2 7.3 -16.3 3.2 -5.9 3.3 -3.4 2.6 -0.6 2.7 1.3 2.6 2.8 8.5 14.4 3.3 4.7 3.3 3 2.6 1 2 0 2.6 -1 9.2 -6.4 4 -1.8 3.2 -0.7 10.6 -0.4 3.9 -1.4 9.2 -4.8 2.6 -0.5 2.6 0.5 2.7 1.8 3.3 3.9 11.8 21.1 2.6 2.8 2.6 1.1 1.3 -0.2 2 -1.3 3.3 -4.6 2.6 -5.4 8.6 -20.4 2.6 -4.6 2 -2.4 2.6 -1.5 1.3 0 2 0.8 2.6 2.4 3.9 5.6"/><path d="M248.5 618.9l4 5.2 9.8 16.8 3.3 3.5 2.6 0.9 2.7 -0.9 3.2 -3.6 3.3 -6 9.9 -21.9 3.3 -4.8 1.9 -1.6 1.3 -0.5 2.7 0.2 3.2 2.4 11.2 15.3 3.3 3.3 2.6 1.7 2 0.7 2.6 0.2 8.6 -1.1 3.2 0 12.5 2.5 3.3 -0.4 3.3 -1.3 3.3 -2.2 8.5 -7.1 2.6 -1.3 2.7 -0.5 2.6 0.5 2.6 1.4 8.6 7.5 2.6 1.8 2.6 0.9 2.6 -0.3 2.7 -1.4 2.6 -2.4 7.9 -10.3 2.6 -2.7 2.6 -1.7 2.6 -0.4 2.7 1.1 3.3 3.3 9.2 14.9 3.2 4.5 3.3 2.8 3.3 1 2 -0.4 2.6 -1.2 9.2 -7.6 3.9 -2.5 4 -1.3 7.9 -1.5 3.9 -1.8 3.9 -3 9.9 -10.2 2.6 -1.7 2.6 -0.5 2 0.6 1.3 0.8 4 4.5 3.2 5.7 7.3 14.7 3.9 6.2 3.3 3.1 1.3 0.6 2 0.2 2.6 -0.9 2.6 -2 9.2 -10.2 4.6 -4.1 3.3 -1.9 7.9 -3.1 3.3 -1.8 13.1 -10.3 2.6 -1.1 2 -0.1 3.3 1.4 3.9 4.4 3.3 5.4 7.2 13.6 3.3 4.8 3.3 2.9 2.6 0.7 2 -0.5 2.6 -1.7 9.9 -11.3 2.6 -2.4 2 -1.2 1.9 -0.7 2.7 -0.1 10.5 3.5 2.6 0.1 2 -0.4 1.9 -1 2.7 -1.9 10.5 -10.9 2.6 -1.6 2 -0.5 2.6 0.4 3.3 2 3.3 3.4 8.5 10.7 3.3 2.9 2.6 1.6 4.6 0.9 7.9 -0.7 3.3 0.2 3.3 0.8 7.8 2.9 2.7 0.3 1.9 -0.3 3.3 -1.7 4 -4.5 10.5 -18.9 3.3 -4.7 3.2 -2.7 2.7 -0.5 1.9 0.7 2 1.4 7.2 7.8 3.3 2.5 2.6 0.9 6.6 0.6 3.3 1.5 3.3 3.3 2.6 4.4 2.6 7.6 2 9.1 2 13 5.2 41.7 1.3 5.9 0.7 1.5 0.6 0.4 1.4 -2.5 1.3 -6.3 5.9 -44.2 2 -10.6 1.9 -7.4 4 -9.6 6.5 -22.4 4.6 -11.3 2.7 -4.6 3.2 -3.8 3.3 -2.3 4 -1.3 2.6 0.1 2.6 1.3 2 2 2 3.2 3.9 9.9 7.2 24.4 4 10.9 1.9 4 2.7 3.8 1.9 1.7 2.7 1.2 3.2 0.1 3.3 -0.9 3.3 -2.1 2.6 -2.7 5.3 -8.1 11.2 -22.1 3.2 -4.3 2 -1.4 1.3 -0.4 1.3 0.2 1.3 0.7 3.3 4 3.3 6.7 6.6 16.8 3.3 7.2 3.2 5 2.7 1.7 1.3 0.1 1.3 -0.5 2.6 -2.4 3.3 -5.5 5.9 -12.7 3.3 -6.1 3.3 -4.1 1.3 -1 2 -0.8 2.6 0.2 2.6 1.6 3.3 3.2 8.5 10.2 2.7 2.1 3.3 1.5 3.9 0.5 9.2 -0.5 10.5 1.2 3.9 -0.8 5.3 -2.6 7.2 66 0.7 2.6 1.9 1.4 2 0.5 0.7 -0.1 1.3 -1.8 2.6 -6.3 1.3 -2.1 2 -1.2 4.6 -1.5 2.6 -1.5 7.2 -5.4 2.7 -3.1 1.9 -5.7 2.7 -11.6 3.2 -23.8 2 0.2 2.6 -0.5 9.2 -5.3 4 -1.3 3.9 0 7.9 1.8 2.6 -0.1 2 -0.6 2.6 -1.6 2.7 -2.5 9.8 -12.2 2.6 -2.1 2 -0.9 2 -0.2 1.9 0.7 2 1.4 2 2.2 3.9 6.2 9.2 17.3 4.6 6.4 2 1.9 2.6 1.8 2.6 1 2.7 0.4 4.6 0 4.6 -0.8 3.2 -1.3 3.3 -2.3 3.3 -4 3.3 -6.4 2.6 -1.6 3.3 -3.3 11.2 -16.3 3.2 -3 2.7 -0.9 2.6 0.7 3.3 3.1 3.3 5.1 7.2 14.2 3.3 5.6 3.9 4.4 3.3 1.3 2 -0.2 2.6 -1.2 9.8 -8.3 4 -2.5 3.3 -1.1 8.5 -1.7 3.9 -1.7 4 -3.1 8.5 -8.6 2.7 -1.8 1.9 -0.7 3.3 0.4 2 1.2 1.9 2 3.3 4.8 9.9 17.4 3.3 3.6 2.6 1.4 2.6 -0.1 3.3 -2.1 2.6 -2.8 8.6 -10.9 2.6 -2.4 2.6 -1.5 2 -0.5 2.6 0.1 10.5 3.4 2.7 0.4 3.2 -0.3"/><path d="M248.5 628.5l9.2 1.1 6.6 -0.4 5.9 -1.7 12.5 -5.3 3.3 -0.7 3.2 0.1 3.3 0.8 4 2.2 11.1 9.4 4 2.8 3.9 1.4 3.3 -0.1 3.9 -1.8 4 -3.5 3.9 -4.7 9.2 -12.5 4.6 -5 4.6 -3 2 -0.7 2.6 -0.3 3.9 0.8 4.6 2.5 15.1 12.9 6 4.2 4.5 2.4 5.3 1.7 7.2 0.8 7.9 -0.6 9.2 -1.7 17.1 -4.4 7.9 -0.8 3.9 0.5 3.3 0.9 14.4 7.1 3.3 1 3.3 0.2 3.3 -0.7 3.9 -2.3 4.6 -4.4 11.8 -13.6 4 -2.9 3.9 -1 3.3 0.8 3.3 2.1 3.9 3.9 11.2 13.3 3.9 3.1 4 1.2 3.9 -0.6 3.9 -2.5 4 -3.8 8.5 -9.5 4.6 -3.9 2.7 -1.3 1.9 -0.5 4 0.5 3.2 1.7 3.3 2.8 12.5 15.1 4.6 4.6 4.6 2.8 2.6 0.7 2.7 0.2 5.2 -1.3 13.8 -6.2 12.5 -3.5 5.2 -2.1 6.6 -4.6 12.5 -11.8 3.3 -2.1 2.6 -1 3.9 0 2 0.8 2.6 1.7 4.6 4.6 9.2 12.4 4 4.5 4.5 3.6 4 1 3.3 -0.6 3.9 -2.3 4 -3.6 9.8 -10.4 3.3 -2.6 2.6 -1.4 4 -0.8 3.9 0.7 3.3 1.7 7.9 5.7 1.9 0.9 2 0.1 2 -0.6 1.9 -1.7 7.3 -10.2 1.9 -1.6 1.3 -0.3 2 0.8 2 2.3 7.9 14 9.2 11.6 3.2 6.5 6 14.7 1.9 3 1.3 0.8 0.7 0 1.3 -0.9 1.3 -2 3.3 -8.9 6.6 -30.6 1.9 -7.1 2.7 -7.4 3.3 -6.9 5.2 -8.5 5.3 -7.5 3.2 -3.1 2 -0.5 2 0.9 1.3 1.5 2 3.5 3.3 9.1 5.9 20.9 3.2 10.1 3.3 6.9 2.7 3 1.3 0.7 1.9 0.1 3.3 -1.8 4.6 -5.4 8.6 -13.4 3.2 -4.3 4 -3.3 2 -0.7 1.9 0 2 0.7 2 1.3 4.6 5.6 3.9 7 7.9 16.4 3.9 6.6 2 2.3 2 1.6 1.9 0.7 1.3 -0.1 1.4 -0.4 1.9 -1.3 3.3 -4 3.3 -6.1 7.9 -18.2 3.3 -6.6 3.9 -5.9 3.3 -2.6 2 -0.5 1.9 0.2 2 1 2 1.6 3.2 4.1 7.3 10.7 3.3 3.5 2.6 1 1.3 -0.4 1.3 -1.2 2.6 -5.2 2.7 -9.4 8.5 -44.3 2 -6 1.3 -1.7 0.6 -0.1 0.7 0.4 1.3 2.1 2 6 5.9 27 2.6 9.9 2 5.2 2.6 4.2 2.6 1.7 2.7 0 2.6 -0.8 8.5 -3.8 4 -0.8 3.3 0.4 3.2 1.4 4 3 4.6 5.1 11.8 17.8 3.9 5.1 3.3 3 3.3 1.3 2 0.1 1.9 -0.5 2 -1 2.6 -2.3 4.6 -5.9 9.2 -15.3 3.3 -4.7 4.6 -4.6 2 -1 2 -0.5 3.2 0.5 4 2.8 4.6 5.5 9.2 14.1 3.9 5.1 4.6 4 2 0.9 2.6 0.4 2.6 -0.4 2.7 -1.2 5.2 -4.4 6.6 -8.1 5.9 -9.6 13.1 2.9 5.9 0.1 4.6 -1.4 11.2 -5.8 5.2 -1.7 2.7 0.1 2.6 0.6 4.6 3 4.6 4.8 8.5 11.5 4 4.6 3.9 3.3 4 1.4 3.2 -0.6 4 -2.5 3.9 -4.1 10.5 -13.3 3.3 -2.8 3.3 -1.5 3.3 0 3.3 1.5 3.2 2.7 10.6 10.6 3.2 1.9 2.7 0.5 3.2 -0.8 4 -3.2 3.9 -5 9.2 -13.6 3.3 -3.6 2.6 -1.7 3.3 -0.7 2 0.5 2 1 3.2 3 4.6 6"/><path d="M248.5 623.6l5.3 3.9 8.5 8.4 3.3 2.7 3.3 1.8 3.3 0.4 3.3 -1 3.2 -2.4 3.3 -3.6 7.9 -10.2 3.3 -3.7 3.9 -3.1 3.3 -1.2 3.3 0.1 3.3 1.2 13.8 9.9 3.2 1.5 3.3 0.8 4 -0.1 3.9 -1.3 4 -2.1 12.4 -8 4 -1.6 3.9 -0.5 3.3 0.4 3.9 1.6 4 2.5 9.8 7.2 3.3 1.8 3.3 1.1 5.2 0.4 9.9 -1.6 4.6 -0.3 3.9 0.5 8.6 2 3.3 0.3 3.9 -0.8 3.3 -1.7 3.3 -2.7 10.5 -10.2 3.3 -1.8 2.6 -0.3 3.3 1.2 3.2 2.8 9.2 12 3.3 3.5 2.7 1.7 2.6 0.5 2.6 -0.8 3.3 -2.7 9.2 -12.8 3.3 -4 3.2 -2.4 2.7 -0.5 2.6 0.6 2.6 1.8 10.5 11.4 2.7 2.1 1.9 0.9 2.7 0.4 2.6 -0.6 3.3 -1.7 8.5 -6.1 2.6 -0.9 2.7 0 2.6 0.9 2.6 1.8 8.6 8.7 3.2 2.9 2.7 1.4 2.6 0.5 2.6 -0.5 2.6 -1.4 10.6 -9.7 4.5 -2.8 2.7 -0.5 2.6 0.1 10.5 4.1 2.6 0.5 2.7 -0.1 2.6 -0.8 2.6 -1.6 11.2 -9.2 2.6 -1.2 2.6 -0.4 2.7 0.7 2.6 1.5 3.3 3.1 9.2 10.1 3.3 2.3 2.6 0.8 2.6 -0.2 3.3 -1.5 9.8 -8.9 3.3 -2.4 3.3 -1.2 3.3 0.4 2.6 1.4 3.3 3 9.8 12.8 4 4.3 3.9 2.5 2 0.5 2 0 3.9 -1.9 4 -3.7 13.7 -19.7 3.3 -3.9 7.2 -7.2 3.3 -5.5 2.7 -8 2.6 -12.4 8.5 -58.2 2 -7.3 1.3 -1.5 0.7 0.4 1.3 3.1 1.9 10.4 2 16.4 2 21.4 4.6 66.6 7.9 148.7 1.9 23.5 1.3 7.1 0.7 0.7 0.7 -1.3 0.6 -3.1 2 -19.5 6.6 -105.2 1.9 -23.2 2 -16 2.6 -12.5 1.3 -3.9 2.7 -5.7 13.1 -49.6 3.3 -8.1 1.3 -1.8 1.3 -0.9 1.3 0 2 1.9 3.3 7.2 3.3 10.9 8.5 32.5 5.9 17.5 3.3 6.9 2.6 3.9 2.6 2.3 2.7 0.9 1.9 -0.3 2 -1.1 4 -4.2 3.9 -6.2 8.5 -15.9 4.6 -6.6 4 -3.4 1.9 -0.9 2 -0.4 3.9 0.9 4 2.6 3.9 4.4 9.2 13 4.6 5.7 4.6 4 2.6 1.2 2 0.2 2 -0.4 2 -1.1 3.9 -3.9 3.9 -5.4 8.6 -13.4 3.9 -4.9 2 -1.7 2 -1.1 1.9 -0.4 2 0.4 3.3 2.3 3.3 4 11.8 20.3 3.9 5.7 4 3.9 1.9 1 2 0.5 3.3 -0.7 3.9 -2.9 4 -5 8.5 -13.3 3.9 -5.3 4.6 -4.4 4 -2 3.9 -0.1 4 1.5 3.2 2.5 9.2 8.2 5.3 2.9 2.6 0.6 3.3 0 12.5 -3.3 4.6 0 2.6 0.9 2.6 1.5 10.5 8.2 2.7 1.1 1.9 0.3 3.3 -0.7 2.6 -1.6 4 -4.4 9.2 -12.6 3.3 -2.5 2.6 -0.3 2.6 1.4 3.3 4.2 3.9 8.1 6.6 16.8 3.3 7.4 3.3 5.1 1.9 1.6 1.4 0.4 1.9 -0.6 2 -1.8 2 -3.1 1.9 -4.3 4 -11.3 5.9 -21.1 2.6 -4.2 2 -2.5 2 -1.6 1.9 -0.8 2.7 0.1 3.2 2 3.3 3.3 7.9 9.2 5.3 4.3 4.6 1.7 7.8 1.1 4 1.1 4.6 2.4 8.5 5.8 2.6 1.2 2.7 0.5 3.2 -0.6 3.3 -1.9 4 -3.9 9.8 -11.8 3.3 -2.6 3.3 -1.2 2.6 0 2.6 0.9 3.3 2 9.9 7.3 3.3 1.4 3.2 0.6 5.3 -0.8 13.1 -4.5 15.1 -2.2 11.9 -3.1 3.9 -0.5 3.9 0.6"/><path d="M248.5 624.5l4 6.8 3.2 4.1 3.3 2.3 2 0.5 2 -0.2 2.6 -1.2 3.3 -2.5 11.1 -12.2 6 -5.2 3.2 -1.9 2.7 -1 3.3 -0.5 2.6 0.2 3.9 1.6 4.6 3.5 4 4.3 7.8 9.8 4 3.9 3.3 2.1 2.6 0.6 3.3 -0.6 3.9 -2.7 11.2 -12.8 3.9 -3.7 4 -2.3 3.9 -0.7 3.9 0.4 10.5 2.6 10.6 1.2 3.9 1 5.2 2.3 10.6 6.4 4.6 1.4 3.2 -0.2 3.3 -1.4 12.5 -9.7 3.3 -1.6 2.6 -0.4 2.6 0.3 2.7 1.1 11.8 8.5 3.3 1.5 2.6 0.4 2.6 -0.1 2.6 -0.7 9.2 -4 4 -1.3 4.6 -0.5 9.2 0.7 4.6 -0.4 4.6 -1.3 9.2 -3.8 4.6 -0.6 2.6 0.3 3.3 1.3 11.1 7.9 2.7 1.5 2.6 0.8 2.6 0.1 3.3 -0.8 3.3 -1.6 9.2 -5.8 3.3 -1.3 3.2 -0.3 2.7 0.4 3.2 1.1 9.9 5.5 5.3 2.3 5.2 1 5.9 0.2 9.2 -1.2 6.6 -2.6 5.9 -4.3 11.2 -10.7 3.2 -2.1 3.3 -0.7 3.3 0.8 3.9 2.9 3.3 3.7 7.9 10.7 3.9 4.3 4 2.5 3.9 0.7 3.3 -0.6 7.9 -2.9 3.9 -0.8 4 0.2 9.8 2.1 2.6 -0.1 2.7 -0.8 3.3 -2.2 3.2 -3.3 9.2 -12.6 3.3 -3.9 3.3 -2.6 3.3 -1 3.3 0.7 3.3 2.3 3.2 3.5 8.6 10.9 2.6 2.2 2 0.5 1.9 -1.1 1.4 -1.9 1.9 -4.9 1.3 -4.9 3.3 -18.3 7.2 -51.7 2 -8 1.3 -2.2 0.7 -0.1 1.3 1.8 2 7.3 8.5 53.8 2.6 11.4 5.3 17.9 2.6 15.4 3.3 35.5 6.6 106 1.9 19.6 1.4 4.7 0.6 -0.4 0.7 -2.2 1.3 -11.7 7.2 -114.6 2 -24.1 2.6 -21 2 -9.2 1.9 -5.8 6.6 -11.6 2.6 -5.5 11.2 -30.5 2.6 -4.5 2 -1.4 1.3 0.2 1.3 1.2 1.3 2 2 4.7 2.6 8.6 6.6 24.8 3.9 11.3 3.3 5.5 2 1.7 2 0.6 2.6 -0.3 7.9 -3.2 3.9 -0.4 4 0.6 13.7 4.2 4 0.4 3.9 -0.5 15.8 -2.9 5.2 -1.5 7.3 -3 11.1 -6.5 2.7 -0.9 2.6 -0.3 3.9 1.2 4 2.9 3.9 4.2 7.9 9.7 4.6 4.4 3.9 2.2 4 0.6 3.2 -0.8 3.3 -1.8 11.2 -9.4 5.2 -3.7 5.3 -2.5 5.9 -1.8 5.3 -0.3 4.6 1.3 5.2 3.2 12.5 9.6 3.9 1.8 3.3 0.4 2 -0.4 2.6 -1 10.5 -7.6 2.6 -1.4 2.7 -0.8 2.6 -0.2 2.6 0.4 11.2 3.6 2.6 0.1 2 -0.5 3.9 -2.1 9.9 -8.4 2.6 -1.1 2 0 3.3 1.6 3.9 4.9 3.3 6.1 7.9 17.5 3.2 5.8 3.3 3.6 2.7 0.8 2.6 -1.1 2.6 -3.1 3.9 -7.7 4 -10.7 5.9 -5.3 3.3 -1.5 3.3 -0.5 2.6 0.4 7.9 2.2 2.6 0.1 2.6 -0.4 2.7 -1.2 2.6 -1.9 10.5 -9.5 2.6 -1.4 2 -0.4 3.3 0.4 3.9 2.7 3.9 4.7 7.9 11.5 4 5 3.9 3.5 4 1.5 3.9 -0.5 3.9 -2.1 4.6 -3.9 9.2 -9.7 4.6 -4.3 4.6 -3.1 4.6 -1.3 3.3 0.1 3.3 1 11.8 7.1 4.6 1.8 2.6 0.4 3.3 -0.3 10.5 -3.2 4.6 -0.3 2.6 0.7 2.7 1.2 6.5 5.1"/><path d="M248.5 620.4l5.9 8.4 4.6 4.9 4.6 3 2.7 0.8 2.6 0.2 3.9 -0.8 4.6 -2 15.8 -10.1 5.9 -3.2 5.2 -2.1 4.6 -1.1 4.6 -0.2 4.6 0.7 15.1 5.4 6 1.4 6.5 0 11.8 -1.9 6 -0.3 5.9 0.9 13.1 3.9 6.6 0.5 4.6 -0.6 10.5 -2.8 5.2 -0.8 5.3 0.2 11.1 2.1 3.3 0 2.6 -0.4 3.3 -1.1 3.3 -1.9 12.5 -9.6 3.3 -1.4 2.6 -0.3 3.9 1.3 4.6 4.1 4 5.3 7.9 12.2 3.9 4.8 3.3 2.5 3.3 0.7 3.3 -1.2 3.2 -3 3.3 -4.5 8.6 -14.1 3.2 -4.7 4 -4 3.3 -1.5 3.2 0.2 4 2.3 3.3 3.2 10.5 12 3.9 3 3.3 1.4 3.3 0.2 3.9 -0.9 13.2 -7.5 5.2 -2.2 5.3 -1.1 6.5 -0.1 11.2 1.2 7.9 1.8 6.5 3 12.5 7.8 3.3 1.4 3.3 0.4 3.9 -0.8 4.6 -3.1 4.6 -5.1 8.6 -11.7 3.9 -4.6 3.9 -3.1 2 -0.8 2 -0.2 2 0.3 1.9 0.9 4.6 3.9 4 5 8.5 12.3 5.3 6 4.5 3.2 2.7 0.9 2.6 0.2 3.9 -0.8 5.3 -2.6 19 -13.6 8.6 -5.3 5.9 -2.7 10.5 -3.4 2.6 -1.6 5.3 -4.2 2.6 -0.9 2 0.9 1.9 2.7 2 4.8 2 6.9 3.9 19.7 7.9 48 2.6 9.7 1.3 2.2 0.7 0.3 0.7 -0.3 1.3 -2 1.9 -6.4 7.3 -38.6 2.6 -11.2 4.6 -15.6 3.3 -7.4 2.6 -3.5 3.3 -2.3 3.3 -1.1 8.5 -0.8 3.9 -1 4 -2.1 7.2 -4.9 3.3 -1.3 2 0 1.9 0.8 3.3 2.9 3.3 4.9 9.2 16.7 3.3 3.9 1.9 1.3 1.4 0.3 1.3 0 1.9 -0.7 3.3 -2.8 3.3 -4.1 7.2 -10.6 4 -4.5 1.9 -1.5 2 -0.7 2 0 1.3 0.4 2.6 2.2 3.3 4.5 9.9 19.5 3.2 5.7 3.3 4 2 1.4 1.3 0.3 1.3 0 2 -1 3.3 -3.7 3.9 -7 8.6 -19 3.2 -6.4 4 -5.7 2 -1.7 1.9 -0.9 1.3 -0.1 2 0.4 3.3 2.4 3.9 4.7 9.9 15 5.2 6.8 3.3 3.3 2.6 2 5.3 2.5 3.3 0.3 3.3 -0.4 3.9 -1.4 3.9 -1.9 7.9 -5.4 13.2 -11.6 3.2 -2 2.7 -0.9 3.3 -0.2 3.2 0.9 3.3 1.9 7.2 5.8 2 0.8 2 -0.3 1.3 -1 1.3 -1.8 2 -4.4 2.6 -8.9 6.6 -27.1 1.9 -4.8 1.4 -1.5 0.6 -0.2 1.3 0.7 2 3.2 5.9 16.6 3.3 6.7 2 2.1 1.9 1 5.9 0.3 2.7 0.7 2.6 1.6 2 2 5.2 8 10.5 21.8 4 7.1 4.6 5.8 2.6 1.9 2 0.7 1.9 0 2.7 -0.9 2.6 -2 2.6 -2.9 4 -5.8 3.9 -7.2 4.6 -9.9 4.6 -11.1 3.3 -1.7 2.6 -0.7 2.6 -0.2 3.3 0.6 2.6 1 3.3 1.8 6.6 5.5 10.5 11.2 4.6 4.3 4.6 3 3.9 1.1 4 -0.5 4.6 -2.6 3.9 -3.7 12.5 -14.2 3.9 -2.9 4 -1.3 3.2 0.3 4 1.8 3.3 2.6 11.8 10.7 3.9 2.3 3.3 0.9 3.3 0.1 3.9 -1.1 4 -1.9 9.8 -6 4.6 -2.4 5.9 -2.1 5.9 -1.2 6.6 -0.2 5.9 1 5.3 2.4 5.2 3.9"/><path d="M248.5 631.1l5.3 -1.5 9.8 -1.7 4.6 -1.7 5.3 -3.8 9.2 -9.5 3.3 -2.9 3.2 -1.8 3.3 -0.4 3.3 1.1 3.3 2.5 3.3 3.6 10.5 13.2 3.3 3.2 3.3 2.4 4.5 2.4 6 1.8 6.5 1.1 4.6 -0.2 4.6 -1.7 4 -3.2 4.6 -5.7 11.1 -16.8 4 -3.6 3.2 -1.1 2.7 0.6 3.3 2.3 3.2 3.8 9.9 13.3 3.9 3.4 3.3 1.2 2.6 0.1 2.7 -0.6 12.4 -5.8 3.3 -0.8 3.3 -0.2 25 2 5.2 1.5 9.9 4.2 3.3 0.7 2.6 -0.2 3.3 -1.3 3.2 -2.4 10.6 -12 3.2 -3.1 3.3 -1.8 2.6 -0.3 2.7 0.6 3.3 2.1 10.5 11 3.9 3.4 3.9 2.1 4 0.7 4.6 -0.3 19.7 -3.3 5.9 -2.7 11.2 -7.5 3.2 -1.2 3.3 0.2 3.3 1.6 3.3 3 9.2 12.2 3.3 3.7 3.3 2.2 2.6 0.4 3.3 -1.2 3.9 -3.9 11.2 -17.4 3.9 -5.1 4 -3.2 1.9 -0.8 2.6 -0.3 2.7 0.5 2.6 1.1 3.3 2.3 3.3 2.8 6.5 7.1 12.5 15.6 4 4.1 3.9 2.4 2 0.4 1.9 -0.2 2.7 -1.2 3.2 -3.1 4 -5.6 9.2 -15.2 3.3 -3.9 3.2 -2.2 2.7 -0.4 3.3 1 3.2 2.4 8.6 8.1 3.3 2 2.6 0.7 3.9 -0.5 4 -1.9 5.2 -4 4 -4.3 3.2 -6.2 3.3 -11.2 3.3 -18.1 6.6 -46.1 2 -9.1 1.3 -3.1 0.6 -0.5 0.7 0.2 1.3 2.6 2 8.8 7.8 60.5 3.3 19 2 7.7 2 5.3 1.9 3.7 5.9 7.9 2 4.4 1.3 4.1 3.3 16.1 5.3 35.2 1.9 8.1 0.7 1.2 0.7 0.3 1.3 -2 1.3 -7.7 7.2 -65.9 2 -13.8 2.6 -13 2.6 -8.1 4 -7.9 7.8 -12.2 2.7 -2.9 1.9 -1.1 1.4 0 1.3 0.7 1.9 3 2 5.6 2 8.5 3.3 21 5.9 50 2.6 19.1 2.6 12.2 0.7 1.7 1.3 1.7 0.7 0 1.3 -1.3 1.9 -5.1 7.3 -29.1 4.6 -13.9 3.9 -8.6 8.5 -16.4 3.3 -5.7 3.3 -4.3 2 -1.6 1.9 -0.8 2 0.2 2 1.2 3.9 4.8 10.5 18 3.3 3.3 2 0.9 1.3 0 2.6 -1.2 3.3 -4.1 3.3 -6.1 7.2 -15.3 3.3 -5.6 3.3 -3.7 2 -1.1 1.3 -0.3 1.9 0.2 2 1.1 3.9 4.6 3.3 5.5 9.9 18.7 5.9 8.9 4.6 4.5 2.6 1.4 2 0.4 2.6 -0.3 2 -1 3.9 -3.8 4.6 -7.6 7.9 -16.6 3.9 -7.1 2 -2.7 2 -1.9 2 -1.1 1.3 -0.1 1.3 0.2 1.9 1.2 3.3 3.9 3.3 6 7.2 16.5 3.3 6.4 3.3 4.3 2 1.4 1.3 0.4 1.3 0 2 -0.8 1.9 -1.7 2 -2.3 3.3 -5.2 8.5 -15.4 4 -5.6 3.3 -3 1.9 -0.9 2 -0.5 2.6 0.2 2.7 0.8 5.9 3.7 6.5 5.8 18.4 19.2 5.3 3.7 4.6 1.2 3.9 -0.5 4.6 -2.3 10.5 -7.3 11.2 -6.6 3.3 -2.9 2.6 -3.3 3.9 1.4 4 0.6 3.3 -0.3 8.5 -1.6 5.2 0.3 5.3 2.3 11.2 7.9 4.6 1.6 4.6 -0.1 9.8 -3.4 4.6 -0.7 2.6 0.4 2.7 1 9.8 5.1 2.6 0.6 2.7 -0.2 3.2 -1.6 3.3 -3.1 10.5 -15 3.3 -4 3.3 -2.6 2.6 -0.9 3.3 0.5 3.3 1.9 3.3 3.2 8.5 10.1 4.6 4.7 4.6 3.5 5.3 2.5 6.5 1.3 6.6 -0.4 5.9 -2.3 7.2 -4.8"/><path d="M248.5 632.6l3.3 4.1 3.3 2.7 3.3 1.2 3.3 -0.4 2.6 -1.4 2.6 -2 11.8 -12.6 6.6 -5.4 3.9 -2.1 4 -1.3 4.6 -0.6 3.9 0.1 5.3 1.2 5.2 2.8 5.3 4.6 9.8 11.4 4 3.9 3.9 2.3 2 0.4 2 -0.1 1.9 -0.8 2 -1.3 3.9 -4.3 11.2 -17.7 4.6 -6.1 2.6 -2.5 2 -1.2 2 -0.7 1.9 -0.2 2 0.3 2.6 1.2 4.6 3.8 4.6 5.1 11.2 13.8 6.6 6.8 5.2 3.4 2.6 0.8 2.7 0 3.9 -1.6 3.9 -3.6 4.6 -6.4 11.9 -20 3.9 -4.3 2 -1.2 1.9 -0.4 2 0.4 2 1.1 3.9 4.3 3.3 5.3 8.5 16 4 5.8 3.9 3.7 3.3 1.2 3.3 -0.6 3.3 -1.9 13.1 -12.7 6.6 -4.6 7.2 -3 17.1 -5 5.9 -0.1 5.2 1.6 5.3 3.3 9.2 7.5 4.6 3.3 4.6 2.3 4.6 1.3 4.6 0.4 4.6 -0.2 5.2 -0.8 5.3 -1.5 7.2 -3.4 13.8 -9.5 3.3 -1.4 3.3 -0.4 2.6 0.4 3.3 1.5 3.3 2.5 10.5 9.6 3.2 1.8 2.7 0.4 2.6 -0.6 3.3 -2 3.3 -3.3 7.8 -10.2 3.3 -3.7 3.3 -2.4 3.3 -0.9 3.3 0.8 3.9 3 11.2 14.2 4.6 4.8 3.9 2.4 2 0.6 2.6 0.2 5.3 -1.3 13.1 -5.4 17.1 -3.7 6.5 -2.6 3.3 -2.3 3.3 -3.5 9.2 -13.8 2 -1.9 1.9 -0.7 2 0.7 1.3 1.3 2 3.5 1.3 3.6 2.6 10.1 6 30.4 1.3 4.2 1.3 1.8 0.6 0 0.7 -0.7 1.3 -3.2 5.3 -22.2 1.9 -6.3 2 -3.8 2 -1.8 1.9 -0.5 2 0.3 5.3 2.5 1.9 -2.1 2.7 -2 4.6 -1.7 5.2 -0.2 9.9 1.5 3.9 -0.5 2.6 -1.6 2 -2 7.9 -12 2 -1.7 1.3 -0.2 1.9 1.1 2.7 4.4 6.5 18.3 2.7 6 2.6 3.4 2 0.6 1.3 -0.4 1.3 -1.1 2.6 -3.7 8.5 -17.6 3.3 -5.5 3.3 -3.5 1.3 -0.8 2 -0.4 1.3 0.2 2 1 3.9 4.1 3.3 5.3 7.9 15.5 3.3 5.6 3.9 4.7 3.3 2 2 0.3 1.9 -0.3 4 -2.5 3.3 -3.7 6.5 -9.1 3.3 -3.3 2.6 -0.8 2 0.9 2.6 4.2 2.7 7.8 7.2 32.8 1.9 7.2 2 4.6 0.7 0.8 1.3 0.4 1.3 -0.9 2 -3.4 6.5 -17.9 3.3 -6 2.6 -2.8 6.6 -4 4 -3.6 4.6 -6.4 8.5 -15.5 3.3 -5.1 3.9 -4.2 3.3 -1.6 3.3 0.3 3.3 1.9 3.9 3.8 11.8 13.5 3.3 2.5 4 1.7 3.9 0.5 9.8 -0.1 12.5 1.3 5.9 -0.4 3.3 -1 3.3 -1.7 9.8 -7.8 3.3 -2.1 4 -1.6 3.3 -0.2 3.9 1.1 3.9 2.6 11.9 11.7 4.6 3.9 4.6 2.5 3.9 0.8 2.6 -0.1 3.3 -0.9 3.3 -1.6 3.3 -2.3 5.9 -6.4 5.9 -9.5 8.5 0.9 4 1.2 3.3 1.5 5.9 4 13.1 11.8 3.3 1.8 3.3 0.7 3.2 -0.7 4 -2.7 3.9 -4.5 11.2 -15.4 3.9 -3.5 3.3 -1.3 2.6 0 3.3 1.4 3.3 2.4 7.9 7.8 3.9 3.3 4 2.3 4.6 1.2 14.4 -0.8 13.1 1.3 4.6 -0.7 3.3 -1.5 3.3 -2.2 12.5 -11.5 2.6 -1.6 2.6 -0.8 3.3 0.2 3.3 1.5 3.3 2.8 3.9 4.5"/><path d="M248.5 613.7l9.9 11.9 3.9 3.8 4 3.2 4.6 2.8 5.2 2.4 4.6 1.4 3.9 0.4 3.3 -0.3 2.7 -0.8 3.2 -1.8 2.7 -2.1 5.2 -5.9 9.2 -13.1 4 -5.1 3.9 -3.5 2 -1.1 1.9 -0.5 3.3 0.5 4 2.6 3.9 4.4 9.2 13.2 3.9 4.8 4.6 3.6 4 1.1 2.6 -0.3 2.6 -0.9 11.2 -6.6 3.3 -1.3 2.6 -0.5 2.6 0.1 3.3 0.7 12.5 4.9 3.3 0.3 3.3 -0.5 3.2 -1.5 3.3 -2.3 10.5 -10.3 4 -3.4 3.9 -2.3 3.9 -1 4.6 0.6 4.6 2.2 16.5 12.4 9.2 5.5 9.1 3.7 4 1 3.9 0.4 5.3 -0.6 5.2 -1.9 5.3 -3.4 9.8 -7.8 4.6 -3.2 4.6 -2.3 4.6 -1.1 5.9 0.1 12.5 2.1 13.2 1 4.6 1.1 3.2 1.3 4 2.3 14.4 11.4 3.3 1.6 3.3 0.6 3.3 -0.4 3.9 -2.1 4 -3.3 10.5 -10.7 3.2 -2.3 2.7 -1.2 3.3 -0.5 3.2 0.7 4 1.8 9.8 6.1 3.3 1.1 2.6 0.2 2.7 -0.5 3.3 -1.3 9.8 -7 3.3 -1.9 3.3 -1 2.6 0 2.6 0.8 3.3 2.1 3.9 3.9 9.9 11.2 3.3 2.7 3.3 1.4 3.2 0.1 4 -1.6 3.3 -2.6 7.2 -6.8 2.6 -1.7 2.6 -0.2 2 1.3 2.6 4.6 2.7 8.3 6.5 31.1 2 7.8 2 4.4 1.3 0.6 1.3 -1.6 1.3 -3.7 2.6 -13.4 8.6 -69.2 2.6 -17.5 2.6 -11.2 1.4 -2.8 1.3 -0.9 0.6 0.3 1.3 1.7 2 5.3 8.5 35.8 2.7 8.6 2.6 6.4 3.3 5.8 3.9 4.9 4 3.5 7.2 4.5 2.6 2.9 2.6 5.3 2.7 8.6 5.2 14.3 1.3 2.4 1.3 1 1.4 -1 0.6 -1.3 2 -6.9 7.2 -42.7 2 -8.8 1.9 -5.8 1.4 -2.4 1.9 -1.8 2 -0.5 5.3 0.4 1.9 -0.8 1.3 -1.2 2.7 -3.8 6.5 -13.3 2 -2.3 1.3 -0.5 2 1.2 2.6 5 7.9 27.5 2.6 7.7 2.6 5.2 1.4 1.6 1.9 1.3 2 0.2 2 -0.5 12.5 -7.7 3.9 -1.7 3.3 -0.7 2.6 -0.1 2.6 0.5 9.2 3.6 4 1.2 3.9 0.3 3.3 -0.6 3.3 -1.5 2.6 -2.1 9.8 -10.4 4 -3.5 3.9 -2.1 4 -0.4 3.9 1.6 3.9 3.7 4 5.5 9.2 14.4 5.2 6.5 4.6 3.5 2 0.9 2.6 0.4 4 -0.7 3.9 -2 3.3 -2.7 11.2 -10.6 3.9 -2.8 3.9 -2.3 13.8 -5.5 11.9 -3.6 5.2 -0.9 2.6 0.2 2.7 0.7 2.6 1.4 2.6 2 5.9 6.2 12.5 15.9 3.9 3.4 4 1.5 2 -0.1 1.9 -0.6 4 -2.6 4.6 -5 7.8 -10.8 4 -4.8 3.9 -3.2 2 -0.8 2 -0.3 3.2 0.7 3.3 2.1 4 3.9 10.5 12.1 3.9 3 3.3 1.1 3.3 -0.2 3.3 -1.7 3.2 -3.2 4 -5.6 5.9 1.6 13.1 4.7 4 0.6 3.3 -0.2 3.2 -1 4 -2 13.8 -9.9 3.9 -1.6 3.3 -0.4 3.3 0.6 3.3 1.5 9.8 6.5 3.3 1.8 3.3 1.1 2.6 0.1 2.6 -0.4 3.3 -1.4 12.5 -8.4 2.6 -1 2.6 -0.4 4 0.8 3.9 2.5 4 3.8 7.9 9.1 3.2 3 3.3 1.8 3.3 0.4 2 -0.5 1.9 -1.1 4 -3.8 3.9 -5.5 9.2 -14.5 2.6 -3.3 2.7 -2.4 2.6 -1.5 2.6 -0.4 2.7 0.7 3.2 2.3"/><path d="M248.5 631.4l2.7 1.4 2.6 0.5 2.6 -0.5 2.6 -1.5 2.7 -2.5 2.6 -3.2 11.2 -16.4 3.2 -3.2 3.3 -1.4 2 0.2 1.3 0.5 2 1.4 1.9 2.2 4.6 7.3 8.6 17.5 3.9 6.9 4 4.6 1.9 1.2 2 0.5 3.3 -0.9 3.3 -2.8 3.2 -4.2 7.9 -12.4 4 -5.5 3.9 -3.9 3.9 -1.8 2.7 -0.1 3.3 1 3.2 1.9 9.2 6.8 3.3 1.6 2.6 0.8 3.3 0.1 3.3 -0.8 4 -1.9 11.1 -6.6 4 -1.3 3.2 -0.1 2.7 0.4 3.3 1.1 13.1 7.6 5.9 2.2 5.9 0.5 12.5 -2.3 5.9 -0.1 5.9 1.5 11.8 5.2 5.3 1 3.9 -0.6 4.6 -2.3 4 -3.1 9.2 -8.8 4.5 -3.4 4.6 -1.9 4 -0.1 5.2 1.6 11.2 6.3 5.3 2 5.9 0.6 11.8 -0.9 5.9 0.9 5.3 2.3 11.1 7 5.3 2 2.6 0.2 2.6 -0.3 9.2 -3.5 2 -0.1 1.3 0.5 2.6 2.5 2 3.7 2.6 7.4 5.9 20.2 2 4.3 1.3 1.4 0.7 0.2 1.3 -0.6 2 -3.3 8.5 -27.9 2 -4.7 2.6 -4 2 -1.6 1.9 -0.8 7.9 -0.8 4.6 -1.5 4.6 -2.8 11.8 -8.8 3.3 -1.6 3.3 -0.9 2.6 0.1 2 0.5 4.6 2.6 5.2 5.2 9.9 12.6 3.9 4.3 4.6 3.3 4 0.9 3.9 -1 4 -2.7 3.9 -4.1 10.5 -12.7 3.9 -3.6 3.3 -1.9 2.7 -0.9 2.6 -0.3 9.2 0.9 3.3 -0.3 6.5 -1.3 2.7 0.1 1.9 0.6 2.6 1.3 3.3 2.6 2.7 2.8 1.9 3 3.3 7.5 6.6 21.6 1.9 3.7 1.4 0.6 1.3 -0.9 1.3 -2.4 6.6 -19.2 1.9 -4.1 2 -2.5 2.6 -1.8 4 -0.8 5.2 -8.7 3.3 -3.9 2.6 -2.4 4.6 -2.5 7.2 -1.5 3.3 -1.3 3.3 -2.6 5.3 -5.6 2.6 -1.5 1.3 0.2 1.3 0.9 2.7 4.1 2.6 6.9 7.2 22.8 2.6 5.3 2 2.2 1.3 0.6 2 -0.3 1.3 -0.9 2 -2.3 3.9 -7.1 7.9 -17.8 3.9 -7.7 2.7 -3.7 1.9 -2 2 -1.1 2 -0.2 1.9 0.7 2 1.5 3.9 5.5 3.3 6.8 8.6 20.7 3.9 7.4 3.3 3.8 2 1.2 1.3 0.2 1.3 -0.2 2 -1.1 3.2 -3.9 3.3 -6 7.2 -15 4 -6.5 3.3 -3.4 1.9 -0.9 1.4 -0.2 1.3 0.2 1.9 1 3.3 3.3 3.3 5.1 7.2 12.9 4 5.5 3.3 2.8 3.2 1 3.3 -0.9 4 -3 11.1 -13.3 4.6 -4.6 3.3 -2.2 3.9 -1.1 4.6 0.5 9.2 3.1 4 1 15.7 1.5 5.3 1.2 5.9 2.9 9.2 6.7 3.3 1.9 4.6 1.8 3.9 0.6 4 -0.5 3.9 -1.5 12.5 -7.9 6.5 -3.3 6 -2 5.2 -0.6 5.9 0.6 5.9 1.8 5.9 2.9 12.5 7.4 5.3 2.1 3.3 0.4 3.2 -0.8 2.7 -1.6 2.6 -2.8 5.9 2.9 2.6 0.5 2.7 0 3.2 -0.8 4 -2.1 11.1 -8.8 3.3 -2.1 4 -1.6 3.2 -0.1 4 1.5 3.9 3.2 4 4.6 7.8 10.8 4 4.3 3.3 2.2 2.6 0.6 2 -0.3 1.9 -1 4 -4 4.6 -7.7 8.5 -17.7 3.3 -6 3.9 -5.2 2 -1.6 2 -0.8 1.9 0 2 0.9 2 1.6 2 2.3 3.9 6.4 8.5 17 3.3 5.7 4 5 1.9 1.6 2 0.8 2 0.1 1.9 -0.5 4 -2.9 3.3 -3.8 9.2 -12.5 2.6 -2.9 2.6 -2.1 3.3 -1.3 2.6 0 2.7 0.9 3.2 2.4"/><path d="M248.5 610.5l4.6 4.5 8.6 12.4 3.2 4.1 4 3.5 3.3 1.2 2.6 0 3.3 -1.2 12.5 -9.1 5.9 -2.7 4.6 -0.6 9.2 0.3 4.6 -0.2 4.6 -0.9 10.5 -2.9 5.2 -0.4 6.6 1.1 11.1 4.5 5.3 1.6 5.3 0.7 9.8 0.3 5.3 1 5.9 2.6 11.1 6.9 3.3 1.2 2.6 0.3 2.7 -0.5 1.9 -1 4 -3.4 4.6 -6.2 9.2 -16 3.9 -5.8 3.9 -3.8 2 -1 2 -0.2 3.3 1.2 3.3 3.2 3.9 5.7 7.9 14.3 3.9 6.3 4.6 5.2 4 2.1 2.6 0.3 3.3 -0.6 10.5 -5.3 4.6 -1.7 12.4 -1.9 4.6 -1.3 5.3 -2.8 11.8 -8.6 4 -1.7 3.2 -0.4 5.3 1.2 9.8 5 4.6 1.5 4.6 0.2 9.9 -1.5 2.6 0.1 2.6 0.7 2.7 1.3 3.3 2.6 8.5 9.2 3.3 3 2.6 1.6 2.6 0.6 3.3 -1 3.3 -2.8 3.3 -4.2 10.5 -16.5 3.3 -3.5 3.3 -1.8 3.2 0.1 3.3 1.7 3.3 2.9 8.5 8.9 2.7 2.1 2.6 1.4 4.6 1 9.8 -0.9 4 0.3 3.9 1.2 8.6 4.1 4.6 0.9 3.9 -1.2 3.3 -2.5 3.9 -4.7 9.9 -14 3.3 -2.9 3.2 -1.2 3.3 0.9 4 3.6 3.2 4.6 7.9 12.8 4 4.9 1.9 1.6 2 1 3.3 0.2 2 -0.7 2.6 -1.8 4.6 -4.7 6.6 -9.4 9.8 -17 2.6 -2.8 2 -0.3 1.3 0.8 1.3 1.8 2.7 7 2.6 11.2 7.2 37.5 2.6 8.1 0.7 1.2 1.3 1 1.3 -0.4 2 -3.2 8.5 -26.8 2 -4.6 2 -3.4 1.9 -5.6 2.7 -5.3 2.6 -3.5 3.3 -2.5 3.3 -1.5 4.6 -0.9 4.5 -0.3 5.3 0.3 13.1 2.6 9.2 0.8 3.3 0.7 2.6 1.1 2.7 1.9 9.2 8.5 2.6 1.3 2 0.4 2.6 -0.5 3.3 -2 8.5 -8.1 3.3 -2.5 3.3 -1.5 2.6 -0.1 2.6 0.9 2.7 1.8 9.1 9 3.3 2.7 3.3 1.8 2.6 0.5 2.7 -0.4 3.3 -1.9 10.5 -10.4 4.6 -3.6 4.6 -1.9 4.6 -0.1 13.7 5.1 4 0.4 9.2 -0.3 2.6 0.6 2.6 1.1 2.7 1.8 3.2 3.2 9.9 12.8 3.3 3.6 3.3 2.5 3.2 0.7 3.3 -1.2 4 -4 3.2 -5.1 7.9 -14.4 4 -5.5 3.9 -3.3 2 -0.8 2 -0.1 1.9 0.5 2.6 1.3 9.9 8.1 3.9 2.3 2 0.5 2.6 0.1 10.5 -2.2 2.7 -0.2 2.6 0.4 5.3 2.4 10.5 7.9 3.9 1.5 3.3 -0.3 3.3 -1.5 9.2 -7.9 2.6 -1.8 3.3 -1 2.6 0.3 2.6 1.6 3.3 3.4 9.2 14.3 3.3 4.3 2.6 2.2 2.6 0.7 2.7 -0.9 1.9 -1.9 2.7 -4.1 2.6 -5.8 11.2 -9.3 3.9 -2.6 3.3 -1.5 3.9 -1 17.7 -2 3.3 0 3.3 0.7 3.3 2.3 2.6 3.6 2 4.1 2 5.6 2.6 10 7.9 37.2 2.6 7.2 1.3 1.3 0.7 0 0.6 -0.4 1.3 -2.1 2 -5.7 8.5 -39.8 4 -14.6 2 -5.5 2.6 -5.5 2 -3.1 2.6 -2.5 2 -0.9 1.9 0 2 0.9 2 1.8 3.9 5.6 7.9 15 3.3 5.5 3.9 4.5 2 1 1.3 0.3 1.3 -0.2 2 -0.9 3.9 -4 3.3 -5.2 9.8 -18.3 3.3 -4.7 3.3 -3.1 3.3 -1.4 2 0 1.9 0.6 4 2.7 5.2 5.8"/><path d="M248.5 610.0l3.3 4.4 7.2 12.9 3.3 5.1 4 4.1 3.2 1.4 3.3 -0.3 4 -2.2 13.8 -12.9 7.2 -5.5 5.2 -2.9 4.6 -1.1 4 0.5 3.9 2.1 4 3.6 10.5 11.5 3.2 2.2 2.7 0.7 1.9 -0.1 2.7 -0.9 10.5 -7.7 2.6 -1.2 2.6 -0.3 2.7 0.5 2.6 1.5 7.9 6.7 2.6 1.7 2.6 0.7 2.6 -0.4 2.7 -1.8 2.6 -2.9 10.5 -15.9 2.6 -2.5 2.7 -1.2 2.6 0.5 2.6 1.9 2.6 3.1 7.3 10.2 1.9 1.7 2 0.4 1.3 -0.6 1.3 -1.4 2.7 -5.4 2.6 -8.8 6.5 -27 2.7 -6.6 1.3 -1.3 0.6 -0.1 1.4 0.8 1.3 2.3 3.3 10.7 3.9 19.5 9.8 56.7 3.3 12.3 1.3 2.5 1.4 0.9 0.6 -0.1 1.3 -1.4 2 -4.7 7.9 -31.1 3.9 -12.2 2 -4.2 2.6 -3.9 2 -1.8 2.6 -1.2 4 0 8.5 2.2 3.9 0 4.6 -1.8 10.5 -7 3.3 -1 3.3 0.1 4.6 2.1 9.8 7.8 4 2.4 3.9 1.7 9.9 3.2 3.9 2 9.2 5.7 2.6 1 2 0.1 2 -0.4 2 -1 3.9 -4 3.3 -4.9 7.2 -12.6 3.9 -5.3 3.3 -2.5 3.3 -0.4 2 0.7 1.9 1.2 9.2 9 2.7 1.8 1.9 0.8 2 0.2 2.6 -0.4 9.9 -4.6 2.6 -0.1 2.6 1 2.7 2.2 2.6 3.3 8.5 14.8 2.7 3.9 3.2 2.9 2.7 0.6 2.6 -1.2 2.6 -2.9 3.3 -5.5 8.5 -16.8 3.3 -4.5 2.7 -2.1 2.6 -0.6 2.6 0.8 3.3 2.4 6.6 6.9 3.2 2.8 3.3 1.5 3.3 0.1 4.6 -2.1 7.9 -6.1 3.9 -2.5 3.3 -1.3 7.2 -1.7 2.7 -1.3 3.2 -3.3 6 -8.1 1.3 -1 1.3 -0.3 1.3 0.7 1.3 1.5 2.6 6 3.3 11.1 5.3 21.2 4.6 24.2 6.5 47.7 2 8.2 0.7 1.1 0.6 0.1 1.3 -2.8 2 -11.1 5.9 -57 2.6 -21 2 -11.2 2.6 -9.5 2.7 -4.9 2.6 -6.1 1.3 -1.8 2 -1.3 1.3 -0.2 2 0.7 5.9 4.6 1.9 1 2 0.1 2 -0.9 3.3 -4 7.2 -13.9 2 -2.5 1.9 -1 2 0.7 1.3 1.5 3.3 7 3.3 10.7 8.5 32.4 4 12 1.9 4.5 2 3.3 2 2 1.3 0.6 1.3 -0.1 1.3 -0.7 1.3 -1.3 2 -3.1 3.3 -7.5 7.9 -23 3.2 -8.1 2 -3.6 2 -2.6 1.9 -1.5 1.4 -0.3 2.6 0.9 3.3 3.7 9.2 17.4 3.9 6.1 3.3 3.1 3.3 1.2 3.3 -0.8 3.2 -2.4 12.5 -15.6 5.9 -5.6 2.7 -1.7 2.6 -0.9 2.6 0 2 0.7 3.3 2.6 3.9 5.2 11.2 21.3 3.2 5.4 3.3 3.6 2.7 1.2 1.3 0 1.9 -0.9 3.3 -3.5 4 -7.1 6.5 -15 3.3 -6.5 2 -3 2 -2.1 1.3 -0.9 1.9 -0.6 2.7 0.5 2.6 1.7 9.2 9.9 2.6 2.3 2.6 1.6 2 0.8 2.6 0.4 9.2 -1.2 4 0.5 3.9 2.2 8.6 7.1 2.6 1.3 1.9 0.4 3.3 -0.7 3.3 -2.4 3.3 -3.9 7.2 -10.2 3.3 -3.6 2.6 -1.6 2.7 -0.1 1.9 0.7 2.7 2 9.8 11.9 2.6 2.4 2 1.3 2.6 0.9 2.7 0 9.2 -3 2.6 -0.2 2 0.2 1.9 0.8 2.6 1.7 9.2 8.2 3.3 1.3 2 -0.1 1.3 -0.7 2.6 -2.6 2.7 -4.4 2.6 -6.2 8.5 -7.5 2.7 -1.6 2.6 -0.7 2.6 0.3 2.6 1.3 3.3 2.7 9.2 9.1 3.3 1.9 3.3 0.7 3.9 -0.5 7.2 -2.7 4 -0.8 3.9 0 9.2 1.7 2.6 -0.1 2 -0.6 2.6 -1.5 2.7 -2.2 10.5 -11.7 2.6 -1.9 2.6 -0.8 2.7 0.3 3.2 2.1 2.7 2.8 8.5 10.6 2.6 2.2 2.7 1.2 1.9 0.1 2.7 -0.8 2.6 -1.7 8.5 -7 2.6 -1.2 2.7 -0.1 2.6 1 2.6 1.9 8.6 9.7 2.6 2.5 3.3 1.8 2.6 0.3 2.6 -0.8 2.7 -1.8 7.8 -8"/></g>
<rect x="261.66" y="66.66" width="1050.74" height="355.94" fill="none" stroke="#000" stroke-width="2.4" stroke-linejoin="miter"/><rect x="261.66" y="493.9" width="1050.74" height="356.00" fill="none" stroke="#000" stroke-width="2.4" stroke-linejoin="miter"/>
<path d="M261.66 422.60v10.2M261.66 849.90v10M393.00 422.60v10.2M393.00 849.90v10M524.35 422.60v10.2M524.35 849.90v10M655.69 422.60v10.2M655.69 849.90v10M787.03 422.60v10.2M787.03 849.90v10M918.37 422.60v10.2M918.37 849.90v10M1049.72 422.60v10.2M1049.72 849.90v10M1181.06 422.60v10.2M1181.06 849.90v10M1312.40 422.60v10.2M1312.40 849.90v10M261.66 107.40h-10.5M261.66 176.95h-10.5M261.66 246.50h-10.5M261.66 316.05h-10.5M261.66 385.60h-10.5M261.66 539.85h-10.5M261.66 624.75h-10.5M261.66 709.65h-10.5M261.66 794.55h-10.5" stroke="#000" stroke-width="2.4" fill="none"/>
<g font-family="'Liberation Sans', sans-serif" font-size="100" fill="#000"><text transform="matrix(0.3269 0 0 0.3152 229.85 465.78)">1.30</text><text transform="matrix(0.3269 0 0 0.3152 229.85 892.78)">1.30</text><text transform="matrix(0.3273 0 0 0.3152 361.19 465.78)">1.35</text><text transform="matrix(0.3273 0 0 0.3152 361.19 892.78)">1.35</text><text transform="matrix(0.3269 0 0 0.3152 492.53 465.78)">1.40</text><text transform="matrix(0.3269 0 0 0.3152 492.53 892.78)">1.40</text><text transform="matrix(0.3273 0 0 0.3197 623.87 465.78)">1.45</text><text transform="matrix(0.3273 0 0 0.3197 623.87 892.78)">1.45</text><text transform="matrix(0.3269 0 0 0.3152 755.22 465.78)">1.50</text><text transform="matrix(0.3269 0 0 0.3152 755.22 892.78)">1.50</text><text transform="matrix(0.3273 0 0 0.3197 886.56 465.78)">1.55</text><text transform="matrix(0.3273 0 0 0.3197 886.56 892.78)">1.55</text><text transform="matrix(0.3269 0 0 0.3152 1017.90 465.78)">1.60</text><text transform="matrix(0.3269 0 0 0.3152 1017.90 892.78)">1.60</text><text transform="matrix(0.3273 0 0 0.3152 1149.24 465.78)">1.65</text><text transform="matrix(0.3273 0 0 0.3152 1149.24 892.78)">1.65</text><text transform="matrix(0.3269 0 0 0.3152 1280.59 465.78)">1.70</text><text transform="matrix(0.3269 0 0 0.3152 1280.59 892.78)">1.70</text><text transform="matrix(0.3238 0 0 0.3095 204.17 118.59)">10</text><text transform="matrix(0.3137 0 0 0.3183 223.25 188.48)">5</text><text transform="matrix(0.3267 0 0 0.3138 222.49 257.69)">0</text><text transform="matrix(0.3675 0 0 0.3154 198.86 327.58)">−5</text><text transform="matrix(0.3571 0 0 0.3081 180.01 396.59)">−10</text><text transform="matrix(0.3304 0 0 0.3124 194.48 551.39)">0.5</text><text transform="matrix(0.3267 0 0 0.3110 194.49 636.29)">0.0</text><text transform="matrix(0.3554 0 0 0.3124 170.32 720.99)">−0.5</text><text transform="matrix(0.3528 0 0 0.3081 170.34 806.09)">−1.0</text><text transform="matrix(0.3325 0 0 0.3171 673.15 932.80)">Time (seconds)</text><text transform="matrix(0.6819 0 0 0.6113 -5.06 43.62)">(</text><text transform="matrix(0.5346 0 0 0.6121 22.33 44.70)">a</text><text transform="matrix(0.6552 0 0 0.6113 60.81 43.62)">)</text><text transform="matrix(0.6819 0 0 0.6113 -0.16 487.12)">(</text><text transform="matrix(0.6333 0 0 0.6193 26.78 487.90)">b</text><text transform="matrix(0.6629 0 0 0.6113 66.40 487.12)">)</text><text transform="matrix(0 -0.3245 0.3127 0 127.90 400.98)">Normalized Pressure</text><text transform="matrix(0 -0.3364 0.3098 0 160.80 314.98)">Amplitude</text><text transform="matrix(0 -0.3252 0.3171 0 114.20 828.58)">Normalized Pressure</text><text transform="matrix(0 -0.3374 0.3126 0 152.00 736.88)">rate (s</text><text transform="matrix(0 -0.2494 0.2153 0 140.10 640.25)">−1</text><text transform="matrix(0 -0.3276 0.3035 0 151.10 607.95)">)</text></g>
</svg></body></html>
